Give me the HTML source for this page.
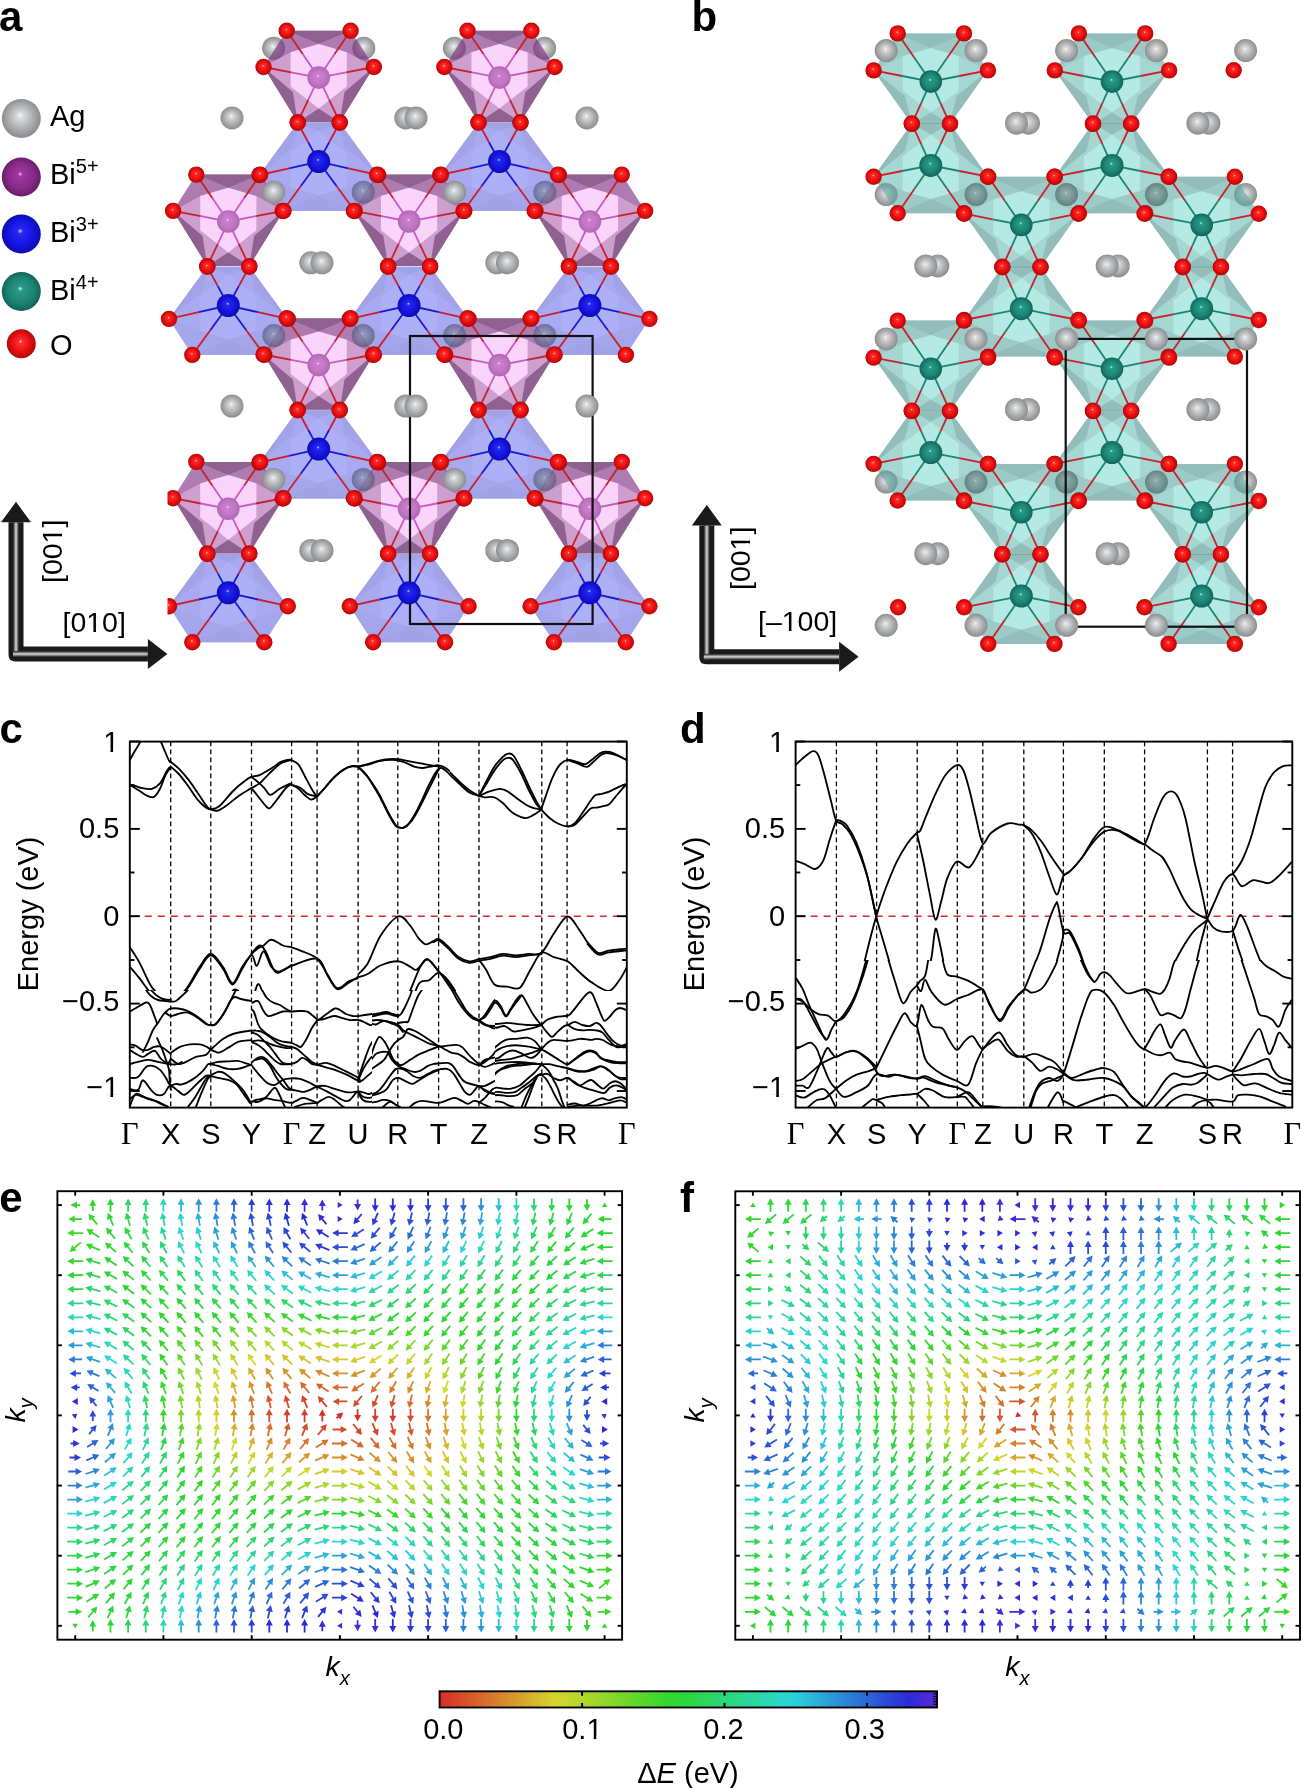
<!DOCTYPE html>
<html><head><meta charset="utf-8"><style>
html,body{margin:0;padding:0;background:#fff;}
svg{display:block;will-change:transform;}

</style></head><body>
<svg width="1301" height="1788" viewBox="0 0 1301 1788">
<rect width="1301" height="1788" fill="#fff"/>
<defs>
<radialGradient id="gO" cx="0.5" cy="0.5" r="0.55" fx="0.47" fy="0.42">
 <stop offset="0" stop-color="#ffe0e0"/><stop offset="0.12" stop-color="#ff3030"/><stop offset="0.6" stop-color="#e80c0c"/><stop offset="1" stop-color="#a00808"/></radialGradient>
<radialGradient id="gAg" cx="0.5" cy="0.5" r="0.55" fx="0.47" fy="0.42">
 <stop offset="0" stop-color="#ffffff"/><stop offset="0.1" stop-color="#dedfe0"/><stop offset="0.45" stop-color="#b9babb"/><stop offset="1" stop-color="#838486"/></radialGradient>
<radialGradient id="gAgd" cx="0.5" cy="0.5" r="0.55" fx="0.47" fy="0.42">
 <stop offset="0" stop-color="#c8cade"/><stop offset="0.12" stop-color="#8c90ac"/><stop offset="0.5" stop-color="#767a98"/><stop offset="1" stop-color="#50547a"/></radialGradient>
<radialGradient id="gB5" cx="0.5" cy="0.5" r="0.55" fx="0.47" fy="0.42">
 <stop offset="0" stop-color="#ffe0ff"/><stop offset="0.12" stop-color="#cc80cc"/><stop offset="0.6" stop-color="#c274c4"/><stop offset="1" stop-color="#a864aa"/></radialGradient>
<radialGradient id="gB5L" cx="0.5" cy="0.5" r="0.55" fx="0.47" fy="0.42">
 <stop offset="0" stop-color="#ffc0ff"/><stop offset="0.1" stop-color="#a038a0"/><stop offset="0.6" stop-color="#8a2a8a"/><stop offset="1" stop-color="#5e1a5e"/></radialGradient>
<radialGradient id="gB3" cx="0.5" cy="0.5" r="0.55" fx="0.47" fy="0.42">
 <stop offset="0" stop-color="#d0d0ff"/><stop offset="0.12" stop-color="#2828f0"/><stop offset="0.6" stop-color="#1414e0"/><stop offset="1" stop-color="#0a0aa0"/></radialGradient>
<radialGradient id="gB4" cx="0.5" cy="0.5" r="0.55" fx="0.47" fy="0.42">
 <stop offset="0" stop-color="#b0fff0"/><stop offset="0.12" stop-color="#2a9a88"/><stop offset="0.6" stop-color="#1c8474"/><stop offset="1" stop-color="#0e5a50"/></radialGradient>
<radialGradient id="gAgt" cx="0.5" cy="0.5" r="0.55" fx="0.47" fy="0.42">
 <stop offset="0" stop-color="#c0d0ce"/><stop offset="0.12" stop-color="#86a09e"/><stop offset="0.5" stop-color="#6e8886"/><stop offset="1" stop-color="#48605e"/></radialGradient>
<clipPath id="clipA"><rect x="167.5" y="0" width="520" height="680"/></clipPath>
</defs>
<circle cx="273.6" cy="48.2" r="11.5" fill="url(#gAg)"/><circle cx="363.8" cy="48.2" r="11.5" fill="url(#gAg)"/><circle cx="454.4" cy="48.2" r="11.5" fill="url(#gAg)"/><circle cx="544.6" cy="48.2" r="11.5" fill="url(#gAg)"/><g opacity="0.62"><polygon points="286.7,30.7 350.6,30.7 373.9,67.0 339.7,122.2 297.7,122.2 263.5,67.0" fill="#b066b3"/><polygon points="286.7,30.7 318.7,43.9 290.6,52.2 263.5,67.0" fill="#7c2c80"/><polygon points="350.7,30.7 318.7,43.9 346.8,52.2 373.9,67.0" fill="#7c2c80"/><polygon points="318.7,43.9 346.8,52.2 346.8,86.4 318.7,108.5 290.6,86.4 290.6,52.2" fill="#f7baf7"/><polygon points="286.7,30.7 350.6,30.7 318.7,43.9" fill="#4c024f"/><polygon points="263.5,67.0 292.9,91.9 297.7,122.2" fill="#4c024f"/><polygon points="373.9,67.0 344.5,91.9 339.7,122.2" fill="#4c024f"/><polygon points="297.7,122.2 318.7,108.5 339.7,122.2" fill="#4c024f"/></g><g opacity="0.62"><polygon points="282.7,211.0 354.7,211.0 378.2,175.0 339.7,122.8 297.7,122.8 259.4,175.0" fill="#7376e7"/><polygon points="282.7,211.0 318.7,195.3 290.6,187.0 259.4,175.0" fill="#6e71df"/><polygon points="354.7,211.0 318.7,195.3 346.8,187.0 378.0,175.0" fill="#6e71df"/><polygon points="318.7,195.3 346.8,187.0 346.8,152.8 318.7,130.7 290.6,152.8 290.6,187.0" fill="#7c81f2"/><polygon points="282.7,211.0 354.7,211.0 318.7,195.3" fill="#696cd7"/><polygon points="259.4,175.0 292.9,147.3 297.7,122.8" fill="#696cd7"/><polygon points="378.0,175.0 344.5,147.3 339.7,122.8" fill="#696cd7"/><polygon points="297.7,122.8 318.7,130.7 339.7,122.8" fill="#696cd7"/></g><g opacity="0.62"><polygon points="467.5,30.7 531.4,30.7 554.7,67.0 520.5,122.2 478.5,122.2 444.3,67.0" fill="#b066b3"/><polygon points="467.5,30.7 499.5,43.9 471.4,52.2 444.3,67.0" fill="#7c2c80"/><polygon points="531.5,30.7 499.5,43.9 527.6,52.2 554.7,67.0" fill="#7c2c80"/><polygon points="499.5,43.9 527.6,52.2 527.6,86.4 499.5,108.5 471.4,86.4 471.4,52.2" fill="#f7baf7"/><polygon points="467.5,30.7 531.4,30.7 499.5,43.9" fill="#4c024f"/><polygon points="444.3,67.0 473.7,91.9 478.5,122.2" fill="#4c024f"/><polygon points="554.7,67.0 525.3,91.9 520.5,122.2" fill="#4c024f"/><polygon points="478.5,122.2 499.5,108.5 520.5,122.2" fill="#4c024f"/></g><g opacity="0.62"><polygon points="463.5,211.0 535.5,211.0 559.0,175.0 520.5,122.8 478.5,122.8 440.2,175.0" fill="#7376e7"/><polygon points="463.5,211.0 499.5,195.3 471.4,187.0 440.2,175.0" fill="#6e71df"/><polygon points="535.5,211.0 499.5,195.3 527.6,187.0 558.8,175.0" fill="#6e71df"/><polygon points="499.5,195.3 527.6,187.0 527.6,152.8 499.5,130.7 471.4,152.8 471.4,187.0" fill="#7c81f2"/><polygon points="463.5,211.0 535.5,211.0 499.5,195.3" fill="#696cd7"/><polygon points="440.2,175.0 473.7,147.3 478.5,122.8" fill="#696cd7"/><polygon points="558.8,175.0 525.3,147.3 520.5,122.8" fill="#696cd7"/><polygon points="478.5,122.8 499.5,130.7 520.5,122.8" fill="#696cd7"/></g><g opacity="0.62"><polygon points="196.3,174.6 260.2,174.6 283.5,210.9 249.3,266.1 207.3,266.1 173.1,210.9" fill="#b066b3"/><polygon points="196.3,174.6 228.3,187.8 200.2,196.1 173.1,210.9" fill="#7c2c80"/><polygon points="260.3,174.6 228.3,187.8 256.4,196.1 283.5,210.9" fill="#7c2c80"/><polygon points="228.3,187.8 256.4,196.1 256.4,230.3 228.3,252.4 200.2,230.3 200.2,196.1" fill="#f7baf7"/><polygon points="196.3,174.6 260.2,174.6 228.3,187.8" fill="#4c024f"/><polygon points="173.1,210.9 202.5,235.8 207.3,266.1" fill="#4c024f"/><polygon points="283.5,210.9 254.1,235.8 249.3,266.1" fill="#4c024f"/><polygon points="207.3,266.1 228.3,252.4 249.3,266.1" fill="#4c024f"/></g><g opacity="0.62"><polygon points="192.3,354.9 264.3,354.9 287.8,318.9 249.3,266.7 207.3,266.7 169.0,318.9" fill="#7376e7"/><polygon points="192.3,354.9 228.3,339.2 200.2,330.9 169.0,318.9" fill="#6e71df"/><polygon points="264.3,354.9 228.3,339.2 256.4,330.9 287.6,318.9" fill="#6e71df"/><polygon points="228.3,339.2 256.4,330.9 256.4,296.7 228.3,274.6 200.2,296.7 200.2,330.9" fill="#7c81f2"/><polygon points="192.3,354.9 264.3,354.9 228.3,339.2" fill="#696cd7"/><polygon points="169.0,318.9 202.5,291.2 207.3,266.7" fill="#696cd7"/><polygon points="287.6,318.9 254.1,291.2 249.3,266.7" fill="#696cd7"/><polygon points="207.3,266.7 228.3,274.6 249.3,266.7" fill="#696cd7"/></g><g opacity="0.62"><polygon points="377.1,174.6 441.0,174.6 464.3,210.9 430.1,266.1 388.1,266.1 353.9,210.9" fill="#b066b3"/><polygon points="377.1,174.6 409.1,187.8 381.0,196.1 353.9,210.9" fill="#7c2c80"/><polygon points="441.1,174.6 409.1,187.8 437.2,196.1 464.3,210.9" fill="#7c2c80"/><polygon points="409.1,187.8 437.2,196.1 437.2,230.3 409.1,252.4 381.0,230.3 381.0,196.1" fill="#f7baf7"/><polygon points="377.1,174.6 441.0,174.6 409.1,187.8" fill="#4c024f"/><polygon points="353.9,210.9 383.3,235.8 388.1,266.1" fill="#4c024f"/><polygon points="464.3,210.9 434.9,235.8 430.1,266.1" fill="#4c024f"/><polygon points="388.1,266.1 409.1,252.4 430.1,266.1" fill="#4c024f"/></g><g opacity="0.62"><polygon points="373.1,354.9 445.1,354.9 468.6,318.9 430.1,266.7 388.1,266.7 349.8,318.9" fill="#7376e7"/><polygon points="373.1,354.9 409.1,339.2 381.0,330.9 349.8,318.9" fill="#6e71df"/><polygon points="445.1,354.9 409.1,339.2 437.2,330.9 468.4,318.9" fill="#6e71df"/><polygon points="409.1,339.2 437.2,330.9 437.2,296.7 409.1,274.6 381.0,296.7 381.0,330.9" fill="#7c81f2"/><polygon points="373.1,354.9 445.1,354.9 409.1,339.2" fill="#696cd7"/><polygon points="349.8,318.9 383.3,291.2 388.1,266.7" fill="#696cd7"/><polygon points="468.4,318.9 434.9,291.2 430.1,266.7" fill="#696cd7"/><polygon points="388.1,266.7 409.1,274.6 430.1,266.7" fill="#696cd7"/></g><g opacity="0.62"><polygon points="557.9,174.6 621.8,174.6 645.1,210.9 610.9,266.1 568.9,266.1 534.7,210.9" fill="#b066b3"/><polygon points="557.9,174.6 589.9,187.8 561.8,196.1 534.7,210.9" fill="#7c2c80"/><polygon points="621.9,174.6 589.9,187.8 618.0,196.1 645.1,210.9" fill="#7c2c80"/><polygon points="589.9,187.8 618.0,196.1 618.0,230.3 589.9,252.4 561.8,230.3 561.8,196.1" fill="#f7baf7"/><polygon points="557.9,174.6 621.8,174.6 589.9,187.8" fill="#4c024f"/><polygon points="534.7,210.9 564.1,235.8 568.9,266.1" fill="#4c024f"/><polygon points="645.1,210.9 615.7,235.8 610.9,266.1" fill="#4c024f"/><polygon points="568.9,266.1 589.9,252.4 610.9,266.1" fill="#4c024f"/></g><g opacity="0.62"><polygon points="553.9,354.9 625.9,354.9 649.4,318.9 610.9,266.7 568.9,266.7 530.6,318.9" fill="#7376e7"/><polygon points="553.9,354.9 589.9,339.2 561.8,330.9 530.6,318.9" fill="#6e71df"/><polygon points="625.9,354.9 589.9,339.2 618.0,330.9 649.2,318.9" fill="#6e71df"/><polygon points="589.9,339.2 618.0,330.9 618.0,296.7 589.9,274.6 561.8,296.7 561.8,330.9" fill="#7c81f2"/><polygon points="553.9,354.9 625.9,354.9 589.9,339.2" fill="#696cd7"/><polygon points="530.6,318.9 564.1,291.2 568.9,266.7" fill="#696cd7"/><polygon points="649.2,318.9 615.7,291.2 610.9,266.7" fill="#696cd7"/><polygon points="568.9,266.7 589.9,274.6 610.9,266.7" fill="#696cd7"/></g><g opacity="0.62"><polygon points="286.7,318.2 350.6,318.2 373.9,354.5 339.7,409.7 297.7,409.7 263.5,354.5" fill="#b066b3"/><polygon points="286.7,318.2 318.7,331.4 290.6,339.7 263.5,354.5" fill="#7c2c80"/><polygon points="350.7,318.2 318.7,331.4 346.8,339.7 373.9,354.5" fill="#7c2c80"/><polygon points="318.7,331.4 346.8,339.7 346.8,373.9 318.7,396.0 290.6,373.9 290.6,339.7" fill="#f7baf7"/><polygon points="286.7,318.2 350.6,318.2 318.7,331.4" fill="#4c024f"/><polygon points="263.5,354.5 292.9,379.4 297.7,409.7" fill="#4c024f"/><polygon points="373.9,354.5 344.5,379.4 339.7,409.7" fill="#4c024f"/><polygon points="297.7,409.7 318.7,396.0 339.7,409.7" fill="#4c024f"/></g><g opacity="0.62"><polygon points="282.7,498.5 354.7,498.5 378.2,462.5 339.7,410.3 297.7,410.3 259.4,462.5" fill="#7376e7"/><polygon points="282.7,498.5 318.7,482.8 290.6,474.5 259.4,462.5" fill="#6e71df"/><polygon points="354.7,498.5 318.7,482.8 346.8,474.5 378.0,462.5" fill="#6e71df"/><polygon points="318.7,482.8 346.8,474.5 346.8,440.3 318.7,418.2 290.6,440.3 290.6,474.5" fill="#7c81f2"/><polygon points="282.7,498.5 354.7,498.5 318.7,482.8" fill="#696cd7"/><polygon points="259.4,462.5 292.9,434.8 297.7,410.3" fill="#696cd7"/><polygon points="378.0,462.5 344.5,434.8 339.7,410.3" fill="#696cd7"/><polygon points="297.7,410.3 318.7,418.2 339.7,410.3" fill="#696cd7"/></g><g opacity="0.62"><polygon points="467.5,318.2 531.4,318.2 554.7,354.5 520.5,409.7 478.5,409.7 444.3,354.5" fill="#b066b3"/><polygon points="467.5,318.2 499.5,331.4 471.4,339.7 444.3,354.5" fill="#7c2c80"/><polygon points="531.5,318.2 499.5,331.4 527.6,339.7 554.7,354.5" fill="#7c2c80"/><polygon points="499.5,331.4 527.6,339.7 527.6,373.9 499.5,396.0 471.4,373.9 471.4,339.7" fill="#f7baf7"/><polygon points="467.5,318.2 531.4,318.2 499.5,331.4" fill="#4c024f"/><polygon points="444.3,354.5 473.7,379.4 478.5,409.7" fill="#4c024f"/><polygon points="554.7,354.5 525.3,379.4 520.5,409.7" fill="#4c024f"/><polygon points="478.5,409.7 499.5,396.0 520.5,409.7" fill="#4c024f"/></g><g opacity="0.62"><polygon points="463.5,498.5 535.5,498.5 559.0,462.5 520.5,410.3 478.5,410.3 440.2,462.5" fill="#7376e7"/><polygon points="463.5,498.5 499.5,482.8 471.4,474.5 440.2,462.5" fill="#6e71df"/><polygon points="535.5,498.5 499.5,482.8 527.6,474.5 558.8,462.5" fill="#6e71df"/><polygon points="499.5,482.8 527.6,474.5 527.6,440.3 499.5,418.2 471.4,440.3 471.4,474.5" fill="#7c81f2"/><polygon points="463.5,498.5 535.5,498.5 499.5,482.8" fill="#696cd7"/><polygon points="440.2,462.5 473.7,434.8 478.5,410.3" fill="#696cd7"/><polygon points="558.8,462.5 525.3,434.8 520.5,410.3" fill="#696cd7"/><polygon points="478.5,410.3 499.5,418.2 520.5,410.3" fill="#696cd7"/></g><g clip-path="url(#clipA)"><g opacity="0.62"><polygon points="196.3,461.9 260.2,461.9 283.5,498.2 249.3,553.4 207.3,553.4 173.1,498.2" fill="#b066b3"/><polygon points="196.3,461.9 228.3,475.1 200.2,483.4 173.1,498.2" fill="#7c2c80"/><polygon points="260.3,461.9 228.3,475.1 256.4,483.4 283.5,498.2" fill="#7c2c80"/><polygon points="228.3,475.1 256.4,483.4 256.4,517.6 228.3,539.7 200.2,517.6 200.2,483.4" fill="#f7baf7"/><polygon points="196.3,461.9 260.2,461.9 228.3,475.1" fill="#4c024f"/><polygon points="173.1,498.2 202.5,523.1 207.3,553.4" fill="#4c024f"/><polygon points="283.5,498.2 254.1,523.1 249.3,553.4" fill="#4c024f"/><polygon points="207.3,553.4 228.3,539.7 249.3,553.4" fill="#4c024f"/></g><g opacity="0.62"><polygon points="192.3,642.2 264.3,642.2 287.8,606.2 249.3,554.0 207.3,554.0 169.0,606.2" fill="#7376e7"/><polygon points="192.3,642.2 228.3,626.5 200.2,618.2 169.0,606.2" fill="#6e71df"/><polygon points="264.3,642.2 228.3,626.5 256.4,618.2 287.6,606.2" fill="#6e71df"/><polygon points="228.3,626.5 256.4,618.2 256.4,584.0 228.3,561.9 200.2,584.0 200.2,618.2" fill="#7c81f2"/><polygon points="192.3,642.2 264.3,642.2 228.3,626.5" fill="#696cd7"/><polygon points="169.0,606.2 202.5,578.5 207.3,554.0" fill="#696cd7"/><polygon points="287.6,606.2 254.1,578.5 249.3,554.0" fill="#696cd7"/><polygon points="207.3,554.0 228.3,561.9 249.3,554.0" fill="#696cd7"/></g></g><g opacity="0.62"><polygon points="377.1,461.9 441.0,461.9 464.3,498.2 430.1,553.4 388.1,553.4 353.9,498.2" fill="#b066b3"/><polygon points="377.1,461.9 409.1,475.1 381.0,483.4 353.9,498.2" fill="#7c2c80"/><polygon points="441.1,461.9 409.1,475.1 437.2,483.4 464.3,498.2" fill="#7c2c80"/><polygon points="409.1,475.1 437.2,483.4 437.2,517.6 409.1,539.7 381.0,517.6 381.0,483.4" fill="#f7baf7"/><polygon points="377.1,461.9 441.0,461.9 409.1,475.1" fill="#4c024f"/><polygon points="353.9,498.2 383.3,523.1 388.1,553.4" fill="#4c024f"/><polygon points="464.3,498.2 434.9,523.1 430.1,553.4" fill="#4c024f"/><polygon points="388.1,553.4 409.1,539.7 430.1,553.4" fill="#4c024f"/></g><g opacity="0.62"><polygon points="373.1,642.2 445.1,642.2 468.6,606.2 430.1,554.0 388.1,554.0 349.8,606.2" fill="#7376e7"/><polygon points="373.1,642.2 409.1,626.5 381.0,618.2 349.8,606.2" fill="#6e71df"/><polygon points="445.1,642.2 409.1,626.5 437.2,618.2 468.4,606.2" fill="#6e71df"/><polygon points="409.1,626.5 437.2,618.2 437.2,584.0 409.1,561.9 381.0,584.0 381.0,618.2" fill="#7c81f2"/><polygon points="373.1,642.2 445.1,642.2 409.1,626.5" fill="#696cd7"/><polygon points="349.8,606.2 383.3,578.5 388.1,554.0" fill="#696cd7"/><polygon points="468.4,606.2 434.9,578.5 430.1,554.0" fill="#696cd7"/><polygon points="388.1,554.0 409.1,561.9 430.1,554.0" fill="#696cd7"/></g><g opacity="0.62"><polygon points="557.9,461.9 621.8,461.9 645.1,498.2 610.9,553.4 568.9,553.4 534.7,498.2" fill="#b066b3"/><polygon points="557.9,461.9 589.9,475.1 561.8,483.4 534.7,498.2" fill="#7c2c80"/><polygon points="621.9,461.9 589.9,475.1 618.0,483.4 645.1,498.2" fill="#7c2c80"/><polygon points="589.9,475.1 618.0,483.4 618.0,517.6 589.9,539.7 561.8,517.6 561.8,483.4" fill="#f7baf7"/><polygon points="557.9,461.9 621.8,461.9 589.9,475.1" fill="#4c024f"/><polygon points="534.7,498.2 564.1,523.1 568.9,553.4" fill="#4c024f"/><polygon points="645.1,498.2 615.7,523.1 610.9,553.4" fill="#4c024f"/><polygon points="568.9,553.4 589.9,539.7 610.9,553.4" fill="#4c024f"/></g><g opacity="0.62"><polygon points="553.9,642.2 625.9,642.2 649.4,606.2 610.9,554.0 568.9,554.0 530.6,606.2" fill="#7376e7"/><polygon points="553.9,642.2 589.9,626.5 561.8,618.2 530.6,606.2" fill="#6e71df"/><polygon points="625.9,642.2 589.9,626.5 618.0,618.2 649.2,606.2" fill="#6e71df"/><polygon points="589.9,626.5 618.0,618.2 618.0,584.0 589.9,561.9 561.8,584.0 561.8,618.2" fill="#7c81f2"/><polygon points="553.9,642.2 625.9,642.2 589.9,626.5" fill="#696cd7"/><polygon points="530.6,606.2 564.1,578.5 568.9,554.0" fill="#696cd7"/><polygon points="649.2,606.2 615.7,578.5 610.9,554.0" fill="#696cd7"/><polygon points="568.9,554.0 589.9,561.9 610.9,554.0" fill="#696cd7"/></g><g opacity="0.72"><circle cx="363.2" cy="192.2" r="11.5" fill="url(#gAgd)"/><circle cx="544.8" cy="192.2" r="11.5" fill="url(#gAgd)"/><circle cx="363.2" cy="479.5" r="11.5" fill="url(#gAgd)"/><circle cx="544.8" cy="479.5" r="11.5" fill="url(#gAgd)"/><circle cx="273.8" cy="335.6" r="11.5" fill="url(#gAgd)"/><circle cx="363.2" cy="335.6" r="11.5" fill="url(#gAgd)"/><circle cx="454.6" cy="335.6" r="11.5" fill="url(#gAgd)"/><circle cx="544.8" cy="335.6" r="11.5" fill="url(#gAgd)"/></g><line x1="318.7" y1="77.6" x2="302.7" y2="54.1" stroke="#c85ac8" stroke-width="1.8"/><line x1="302.7" y1="54.1" x2="286.7" y2="30.7" stroke="#c8202c" stroke-width="1.8"/><line x1="318.7" y1="77.6" x2="334.6" y2="54.1" stroke="#c85ac8" stroke-width="1.8"/><line x1="334.6" y1="54.1" x2="350.6" y2="30.7" stroke="#c8202c" stroke-width="1.8"/><line x1="318.7" y1="77.6" x2="291.1" y2="72.3" stroke="#c85ac8" stroke-width="1.8"/><line x1="291.1" y1="72.3" x2="263.5" y2="67.0" stroke="#c8202c" stroke-width="1.8"/><line x1="318.7" y1="77.6" x2="346.3" y2="72.3" stroke="#c85ac8" stroke-width="1.8"/><line x1="346.3" y1="72.3" x2="373.9" y2="67.0" stroke="#c8202c" stroke-width="1.8"/><line x1="318.7" y1="77.6" x2="308.2" y2="99.9" stroke="#c85ac8" stroke-width="1.8"/><line x1="308.2" y1="99.9" x2="297.7" y2="122.2" stroke="#c8202c" stroke-width="1.8"/><line x1="318.7" y1="77.6" x2="329.2" y2="99.9" stroke="#c85ac8" stroke-width="1.8"/><line x1="329.2" y1="99.9" x2="339.7" y2="122.2" stroke="#c8202c" stroke-width="1.8"/><line x1="318.7" y1="161.6" x2="308.2" y2="142.2" stroke="#1818d8" stroke-width="1.8"/><line x1="308.2" y1="142.2" x2="297.7" y2="122.8" stroke="#c8202c" stroke-width="1.8"/><line x1="318.7" y1="161.6" x2="329.2" y2="142.2" stroke="#1818d8" stroke-width="1.8"/><line x1="329.2" y1="142.2" x2="339.7" y2="122.8" stroke="#c8202c" stroke-width="1.8"/><line x1="318.7" y1="161.6" x2="289.1" y2="168.3" stroke="#1818d8" stroke-width="1.8"/><line x1="289.1" y1="168.3" x2="259.4" y2="175.0" stroke="#c8202c" stroke-width="1.8"/><line x1="318.7" y1="161.6" x2="348.4" y2="168.3" stroke="#1818d8" stroke-width="1.8"/><line x1="348.4" y1="168.3" x2="378.2" y2="175.0" stroke="#c8202c" stroke-width="1.8"/><line x1="318.7" y1="161.6" x2="300.7" y2="186.3" stroke="#1818d8" stroke-width="1.8"/><line x1="300.7" y1="186.3" x2="282.7" y2="211.0" stroke="#c8202c" stroke-width="1.8"/><line x1="318.7" y1="161.6" x2="336.7" y2="186.3" stroke="#1818d8" stroke-width="1.8"/><line x1="336.7" y1="186.3" x2="354.7" y2="211.0" stroke="#c8202c" stroke-width="1.8"/><line x1="499.5" y1="77.6" x2="483.5" y2="54.1" stroke="#c85ac8" stroke-width="1.8"/><line x1="483.5" y1="54.1" x2="467.5" y2="30.7" stroke="#c8202c" stroke-width="1.8"/><line x1="499.5" y1="77.6" x2="515.5" y2="54.1" stroke="#c85ac8" stroke-width="1.8"/><line x1="515.5" y1="54.1" x2="531.4" y2="30.7" stroke="#c8202c" stroke-width="1.8"/><line x1="499.5" y1="77.6" x2="471.9" y2="72.3" stroke="#c85ac8" stroke-width="1.8"/><line x1="471.9" y1="72.3" x2="444.3" y2="67.0" stroke="#c8202c" stroke-width="1.8"/><line x1="499.5" y1="77.6" x2="527.1" y2="72.3" stroke="#c85ac8" stroke-width="1.8"/><line x1="527.1" y1="72.3" x2="554.7" y2="67.0" stroke="#c8202c" stroke-width="1.8"/><line x1="499.5" y1="77.6" x2="489.0" y2="99.9" stroke="#c85ac8" stroke-width="1.8"/><line x1="489.0" y1="99.9" x2="478.5" y2="122.2" stroke="#c8202c" stroke-width="1.8"/><line x1="499.5" y1="77.6" x2="510.0" y2="99.9" stroke="#c85ac8" stroke-width="1.8"/><line x1="510.0" y1="99.9" x2="520.5" y2="122.2" stroke="#c8202c" stroke-width="1.8"/><line x1="499.5" y1="161.6" x2="489.0" y2="142.2" stroke="#1818d8" stroke-width="1.8"/><line x1="489.0" y1="142.2" x2="478.5" y2="122.8" stroke="#c8202c" stroke-width="1.8"/><line x1="499.5" y1="161.6" x2="510.0" y2="142.2" stroke="#1818d8" stroke-width="1.8"/><line x1="510.0" y1="142.2" x2="520.5" y2="122.8" stroke="#c8202c" stroke-width="1.8"/><line x1="499.5" y1="161.6" x2="469.9" y2="168.3" stroke="#1818d8" stroke-width="1.8"/><line x1="469.9" y1="168.3" x2="440.2" y2="175.0" stroke="#c8202c" stroke-width="1.8"/><line x1="499.5" y1="161.6" x2="529.2" y2="168.3" stroke="#1818d8" stroke-width="1.8"/><line x1="529.2" y1="168.3" x2="559.0" y2="175.0" stroke="#c8202c" stroke-width="1.8"/><line x1="499.5" y1="161.6" x2="481.5" y2="186.3" stroke="#1818d8" stroke-width="1.8"/><line x1="481.5" y1="186.3" x2="463.5" y2="211.0" stroke="#c8202c" stroke-width="1.8"/><line x1="499.5" y1="161.6" x2="517.5" y2="186.3" stroke="#1818d8" stroke-width="1.8"/><line x1="517.5" y1="186.3" x2="535.5" y2="211.0" stroke="#c8202c" stroke-width="1.8"/><line x1="228.3" y1="221.5" x2="212.3" y2="198.1" stroke="#c85ac8" stroke-width="1.8"/><line x1="212.3" y1="198.1" x2="196.3" y2="174.6" stroke="#c8202c" stroke-width="1.8"/><line x1="228.3" y1="221.5" x2="244.2" y2="198.1" stroke="#c85ac8" stroke-width="1.8"/><line x1="244.2" y1="198.1" x2="260.2" y2="174.6" stroke="#c8202c" stroke-width="1.8"/><line x1="228.3" y1="221.5" x2="200.7" y2="216.2" stroke="#c85ac8" stroke-width="1.8"/><line x1="200.7" y1="216.2" x2="173.1" y2="210.9" stroke="#c8202c" stroke-width="1.8"/><line x1="228.3" y1="221.5" x2="255.9" y2="216.2" stroke="#c85ac8" stroke-width="1.8"/><line x1="255.9" y1="216.2" x2="283.5" y2="210.9" stroke="#c8202c" stroke-width="1.8"/><line x1="228.3" y1="221.5" x2="217.8" y2="243.8" stroke="#c85ac8" stroke-width="1.8"/><line x1="217.8" y1="243.8" x2="207.3" y2="266.1" stroke="#c8202c" stroke-width="1.8"/><line x1="228.3" y1="221.5" x2="238.8" y2="243.8" stroke="#c85ac8" stroke-width="1.8"/><line x1="238.8" y1="243.8" x2="249.3" y2="266.1" stroke="#c8202c" stroke-width="1.8"/><line x1="228.3" y1="305.5" x2="217.8" y2="286.1" stroke="#1818d8" stroke-width="1.8"/><line x1="217.8" y1="286.1" x2="207.3" y2="266.7" stroke="#c8202c" stroke-width="1.8"/><line x1="228.3" y1="305.5" x2="238.8" y2="286.1" stroke="#1818d8" stroke-width="1.8"/><line x1="238.8" y1="286.1" x2="249.3" y2="266.7" stroke="#c8202c" stroke-width="1.8"/><line x1="228.3" y1="305.5" x2="198.7" y2="312.2" stroke="#1818d8" stroke-width="1.8"/><line x1="198.7" y1="312.2" x2="169.0" y2="318.9" stroke="#c8202c" stroke-width="1.8"/><line x1="228.3" y1="305.5" x2="258.1" y2="312.2" stroke="#1818d8" stroke-width="1.8"/><line x1="258.1" y1="312.2" x2="287.8" y2="318.9" stroke="#c8202c" stroke-width="1.8"/><line x1="228.3" y1="305.5" x2="210.3" y2="330.2" stroke="#1818d8" stroke-width="1.8"/><line x1="210.3" y1="330.2" x2="192.3" y2="354.9" stroke="#c8202c" stroke-width="1.8"/><line x1="228.3" y1="305.5" x2="246.3" y2="330.2" stroke="#1818d8" stroke-width="1.8"/><line x1="246.3" y1="330.2" x2="264.3" y2="354.9" stroke="#c8202c" stroke-width="1.8"/><line x1="409.1" y1="221.5" x2="393.1" y2="198.1" stroke="#c85ac8" stroke-width="1.8"/><line x1="393.1" y1="198.1" x2="377.1" y2="174.6" stroke="#c8202c" stroke-width="1.8"/><line x1="409.1" y1="221.5" x2="425.1" y2="198.1" stroke="#c85ac8" stroke-width="1.8"/><line x1="425.1" y1="198.1" x2="441.0" y2="174.6" stroke="#c8202c" stroke-width="1.8"/><line x1="409.1" y1="221.5" x2="381.5" y2="216.2" stroke="#c85ac8" stroke-width="1.8"/><line x1="381.5" y1="216.2" x2="353.9" y2="210.9" stroke="#c8202c" stroke-width="1.8"/><line x1="409.1" y1="221.5" x2="436.7" y2="216.2" stroke="#c85ac8" stroke-width="1.8"/><line x1="436.7" y1="216.2" x2="464.3" y2="210.9" stroke="#c8202c" stroke-width="1.8"/><line x1="409.1" y1="221.5" x2="398.6" y2="243.8" stroke="#c85ac8" stroke-width="1.8"/><line x1="398.6" y1="243.8" x2="388.1" y2="266.1" stroke="#c8202c" stroke-width="1.8"/><line x1="409.1" y1="221.5" x2="419.6" y2="243.8" stroke="#c85ac8" stroke-width="1.8"/><line x1="419.6" y1="243.8" x2="430.1" y2="266.1" stroke="#c8202c" stroke-width="1.8"/><line x1="409.1" y1="305.5" x2="398.6" y2="286.1" stroke="#1818d8" stroke-width="1.8"/><line x1="398.6" y1="286.1" x2="388.1" y2="266.7" stroke="#c8202c" stroke-width="1.8"/><line x1="409.1" y1="305.5" x2="419.6" y2="286.1" stroke="#1818d8" stroke-width="1.8"/><line x1="419.6" y1="286.1" x2="430.1" y2="266.7" stroke="#c8202c" stroke-width="1.8"/><line x1="409.1" y1="305.5" x2="379.5" y2="312.2" stroke="#1818d8" stroke-width="1.8"/><line x1="379.5" y1="312.2" x2="349.8" y2="318.9" stroke="#c8202c" stroke-width="1.8"/><line x1="409.1" y1="305.5" x2="438.9" y2="312.2" stroke="#1818d8" stroke-width="1.8"/><line x1="438.9" y1="312.2" x2="468.6" y2="318.9" stroke="#c8202c" stroke-width="1.8"/><line x1="409.1" y1="305.5" x2="391.1" y2="330.2" stroke="#1818d8" stroke-width="1.8"/><line x1="391.1" y1="330.2" x2="373.1" y2="354.9" stroke="#c8202c" stroke-width="1.8"/><line x1="409.1" y1="305.5" x2="427.1" y2="330.2" stroke="#1818d8" stroke-width="1.8"/><line x1="427.1" y1="330.2" x2="445.1" y2="354.9" stroke="#c8202c" stroke-width="1.8"/><line x1="589.9" y1="221.5" x2="573.9" y2="198.1" stroke="#c85ac8" stroke-width="1.8"/><line x1="573.9" y1="198.1" x2="557.9" y2="174.6" stroke="#c8202c" stroke-width="1.8"/><line x1="589.9" y1="221.5" x2="605.9" y2="198.1" stroke="#c85ac8" stroke-width="1.8"/><line x1="605.9" y1="198.1" x2="621.8" y2="174.6" stroke="#c8202c" stroke-width="1.8"/><line x1="589.9" y1="221.5" x2="562.3" y2="216.2" stroke="#c85ac8" stroke-width="1.8"/><line x1="562.3" y1="216.2" x2="534.7" y2="210.9" stroke="#c8202c" stroke-width="1.8"/><line x1="589.9" y1="221.5" x2="617.5" y2="216.2" stroke="#c85ac8" stroke-width="1.8"/><line x1="617.5" y1="216.2" x2="645.1" y2="210.9" stroke="#c8202c" stroke-width="1.8"/><line x1="589.9" y1="221.5" x2="579.4" y2="243.8" stroke="#c85ac8" stroke-width="1.8"/><line x1="579.4" y1="243.8" x2="568.9" y2="266.1" stroke="#c8202c" stroke-width="1.8"/><line x1="589.9" y1="221.5" x2="600.4" y2="243.8" stroke="#c85ac8" stroke-width="1.8"/><line x1="600.4" y1="243.8" x2="610.9" y2="266.1" stroke="#c8202c" stroke-width="1.8"/><line x1="589.9" y1="305.5" x2="579.4" y2="286.1" stroke="#1818d8" stroke-width="1.8"/><line x1="579.4" y1="286.1" x2="568.9" y2="266.7" stroke="#c8202c" stroke-width="1.8"/><line x1="589.9" y1="305.5" x2="600.4" y2="286.1" stroke="#1818d8" stroke-width="1.8"/><line x1="600.4" y1="286.1" x2="610.9" y2="266.7" stroke="#c8202c" stroke-width="1.8"/><line x1="589.9" y1="305.5" x2="560.2" y2="312.2" stroke="#1818d8" stroke-width="1.8"/><line x1="560.2" y1="312.2" x2="530.6" y2="318.9" stroke="#c8202c" stroke-width="1.8"/><line x1="589.9" y1="305.5" x2="619.6" y2="312.2" stroke="#1818d8" stroke-width="1.8"/><line x1="619.6" y1="312.2" x2="649.4" y2="318.9" stroke="#c8202c" stroke-width="1.8"/><line x1="589.9" y1="305.5" x2="571.9" y2="330.2" stroke="#1818d8" stroke-width="1.8"/><line x1="571.9" y1="330.2" x2="553.9" y2="354.9" stroke="#c8202c" stroke-width="1.8"/><line x1="589.9" y1="305.5" x2="607.9" y2="330.2" stroke="#1818d8" stroke-width="1.8"/><line x1="607.9" y1="330.2" x2="625.9" y2="354.9" stroke="#c8202c" stroke-width="1.8"/><line x1="318.7" y1="365.1" x2="302.7" y2="341.7" stroke="#c85ac8" stroke-width="1.8"/><line x1="302.7" y1="341.7" x2="286.7" y2="318.2" stroke="#c8202c" stroke-width="1.8"/><line x1="318.7" y1="365.1" x2="334.6" y2="341.7" stroke="#c85ac8" stroke-width="1.8"/><line x1="334.6" y1="341.7" x2="350.6" y2="318.2" stroke="#c8202c" stroke-width="1.8"/><line x1="318.7" y1="365.1" x2="291.1" y2="359.8" stroke="#c85ac8" stroke-width="1.8"/><line x1="291.1" y1="359.8" x2="263.5" y2="354.5" stroke="#c8202c" stroke-width="1.8"/><line x1="318.7" y1="365.1" x2="346.3" y2="359.8" stroke="#c85ac8" stroke-width="1.8"/><line x1="346.3" y1="359.8" x2="373.9" y2="354.5" stroke="#c8202c" stroke-width="1.8"/><line x1="318.7" y1="365.1" x2="308.2" y2="387.4" stroke="#c85ac8" stroke-width="1.8"/><line x1="308.2" y1="387.4" x2="297.7" y2="409.7" stroke="#c8202c" stroke-width="1.8"/><line x1="318.7" y1="365.1" x2="329.2" y2="387.4" stroke="#c85ac8" stroke-width="1.8"/><line x1="329.2" y1="387.4" x2="339.7" y2="409.7" stroke="#c8202c" stroke-width="1.8"/><line x1="318.7" y1="449.1" x2="308.2" y2="429.7" stroke="#1818d8" stroke-width="1.8"/><line x1="308.2" y1="429.7" x2="297.7" y2="410.3" stroke="#c8202c" stroke-width="1.8"/><line x1="318.7" y1="449.1" x2="329.2" y2="429.7" stroke="#1818d8" stroke-width="1.8"/><line x1="329.2" y1="429.7" x2="339.7" y2="410.3" stroke="#c8202c" stroke-width="1.8"/><line x1="318.7" y1="449.1" x2="289.1" y2="455.8" stroke="#1818d8" stroke-width="1.8"/><line x1="289.1" y1="455.8" x2="259.4" y2="462.5" stroke="#c8202c" stroke-width="1.8"/><line x1="318.7" y1="449.1" x2="348.4" y2="455.8" stroke="#1818d8" stroke-width="1.8"/><line x1="348.4" y1="455.8" x2="378.2" y2="462.5" stroke="#c8202c" stroke-width="1.8"/><line x1="318.7" y1="449.1" x2="300.7" y2="473.8" stroke="#1818d8" stroke-width="1.8"/><line x1="300.7" y1="473.8" x2="282.7" y2="498.5" stroke="#c8202c" stroke-width="1.8"/><line x1="318.7" y1="449.1" x2="336.7" y2="473.8" stroke="#1818d8" stroke-width="1.8"/><line x1="336.7" y1="473.8" x2="354.7" y2="498.5" stroke="#c8202c" stroke-width="1.8"/><line x1="499.5" y1="365.1" x2="483.5" y2="341.7" stroke="#c85ac8" stroke-width="1.8"/><line x1="483.5" y1="341.7" x2="467.5" y2="318.2" stroke="#c8202c" stroke-width="1.8"/><line x1="499.5" y1="365.1" x2="515.5" y2="341.7" stroke="#c85ac8" stroke-width="1.8"/><line x1="515.5" y1="341.7" x2="531.4" y2="318.2" stroke="#c8202c" stroke-width="1.8"/><line x1="499.5" y1="365.1" x2="471.9" y2="359.8" stroke="#c85ac8" stroke-width="1.8"/><line x1="471.9" y1="359.8" x2="444.3" y2="354.5" stroke="#c8202c" stroke-width="1.8"/><line x1="499.5" y1="365.1" x2="527.1" y2="359.8" stroke="#c85ac8" stroke-width="1.8"/><line x1="527.1" y1="359.8" x2="554.7" y2="354.5" stroke="#c8202c" stroke-width="1.8"/><line x1="499.5" y1="365.1" x2="489.0" y2="387.4" stroke="#c85ac8" stroke-width="1.8"/><line x1="489.0" y1="387.4" x2="478.5" y2="409.7" stroke="#c8202c" stroke-width="1.8"/><line x1="499.5" y1="365.1" x2="510.0" y2="387.4" stroke="#c85ac8" stroke-width="1.8"/><line x1="510.0" y1="387.4" x2="520.5" y2="409.7" stroke="#c8202c" stroke-width="1.8"/><line x1="499.5" y1="449.1" x2="489.0" y2="429.7" stroke="#1818d8" stroke-width="1.8"/><line x1="489.0" y1="429.7" x2="478.5" y2="410.3" stroke="#c8202c" stroke-width="1.8"/><line x1="499.5" y1="449.1" x2="510.0" y2="429.7" stroke="#1818d8" stroke-width="1.8"/><line x1="510.0" y1="429.7" x2="520.5" y2="410.3" stroke="#c8202c" stroke-width="1.8"/><line x1="499.5" y1="449.1" x2="469.9" y2="455.8" stroke="#1818d8" stroke-width="1.8"/><line x1="469.9" y1="455.8" x2="440.2" y2="462.5" stroke="#c8202c" stroke-width="1.8"/><line x1="499.5" y1="449.1" x2="529.2" y2="455.8" stroke="#1818d8" stroke-width="1.8"/><line x1="529.2" y1="455.8" x2="559.0" y2="462.5" stroke="#c8202c" stroke-width="1.8"/><line x1="499.5" y1="449.1" x2="481.5" y2="473.8" stroke="#1818d8" stroke-width="1.8"/><line x1="481.5" y1="473.8" x2="463.5" y2="498.5" stroke="#c8202c" stroke-width="1.8"/><line x1="499.5" y1="449.1" x2="517.5" y2="473.8" stroke="#1818d8" stroke-width="1.8"/><line x1="517.5" y1="473.8" x2="535.5" y2="498.5" stroke="#c8202c" stroke-width="1.8"/><g clip-path="url(#clipA)"><line x1="228.3" y1="508.8" x2="212.3" y2="485.4" stroke="#c85ac8" stroke-width="1.8"/><line x1="212.3" y1="485.4" x2="196.3" y2="461.9" stroke="#c8202c" stroke-width="1.8"/><line x1="228.3" y1="508.8" x2="244.2" y2="485.4" stroke="#c85ac8" stroke-width="1.8"/><line x1="244.2" y1="485.4" x2="260.2" y2="461.9" stroke="#c8202c" stroke-width="1.8"/><line x1="228.3" y1="508.8" x2="200.7" y2="503.5" stroke="#c85ac8" stroke-width="1.8"/><line x1="200.7" y1="503.5" x2="173.1" y2="498.2" stroke="#c8202c" stroke-width="1.8"/><line x1="228.3" y1="508.8" x2="255.9" y2="503.5" stroke="#c85ac8" stroke-width="1.8"/><line x1="255.9" y1="503.5" x2="283.5" y2="498.2" stroke="#c8202c" stroke-width="1.8"/><line x1="228.3" y1="508.8" x2="217.8" y2="531.1" stroke="#c85ac8" stroke-width="1.8"/><line x1="217.8" y1="531.1" x2="207.3" y2="553.4" stroke="#c8202c" stroke-width="1.8"/><line x1="228.3" y1="508.8" x2="238.8" y2="531.1" stroke="#c85ac8" stroke-width="1.8"/><line x1="238.8" y1="531.1" x2="249.3" y2="553.4" stroke="#c8202c" stroke-width="1.8"/><line x1="228.3" y1="592.8" x2="217.8" y2="573.4" stroke="#1818d8" stroke-width="1.8"/><line x1="217.8" y1="573.4" x2="207.3" y2="554.0" stroke="#c8202c" stroke-width="1.8"/><line x1="228.3" y1="592.8" x2="238.8" y2="573.4" stroke="#1818d8" stroke-width="1.8"/><line x1="238.8" y1="573.4" x2="249.3" y2="554.0" stroke="#c8202c" stroke-width="1.8"/><line x1="228.3" y1="592.8" x2="198.7" y2="599.5" stroke="#1818d8" stroke-width="1.8"/><line x1="198.7" y1="599.5" x2="169.0" y2="606.2" stroke="#c8202c" stroke-width="1.8"/><line x1="228.3" y1="592.8" x2="258.1" y2="599.5" stroke="#1818d8" stroke-width="1.8"/><line x1="258.1" y1="599.5" x2="287.8" y2="606.2" stroke="#c8202c" stroke-width="1.8"/><line x1="228.3" y1="592.8" x2="210.3" y2="617.5" stroke="#1818d8" stroke-width="1.8"/><line x1="210.3" y1="617.5" x2="192.3" y2="642.2" stroke="#c8202c" stroke-width="1.8"/><line x1="228.3" y1="592.8" x2="246.3" y2="617.5" stroke="#1818d8" stroke-width="1.8"/><line x1="246.3" y1="617.5" x2="264.3" y2="642.2" stroke="#c8202c" stroke-width="1.8"/></g><line x1="409.1" y1="508.8" x2="393.1" y2="485.4" stroke="#c85ac8" stroke-width="1.8"/><line x1="393.1" y1="485.4" x2="377.1" y2="461.9" stroke="#c8202c" stroke-width="1.8"/><line x1="409.1" y1="508.8" x2="425.1" y2="485.4" stroke="#c85ac8" stroke-width="1.8"/><line x1="425.1" y1="485.4" x2="441.0" y2="461.9" stroke="#c8202c" stroke-width="1.8"/><line x1="409.1" y1="508.8" x2="381.5" y2="503.5" stroke="#c85ac8" stroke-width="1.8"/><line x1="381.5" y1="503.5" x2="353.9" y2="498.2" stroke="#c8202c" stroke-width="1.8"/><line x1="409.1" y1="508.8" x2="436.7" y2="503.5" stroke="#c85ac8" stroke-width="1.8"/><line x1="436.7" y1="503.5" x2="464.3" y2="498.2" stroke="#c8202c" stroke-width="1.8"/><line x1="409.1" y1="508.8" x2="398.6" y2="531.1" stroke="#c85ac8" stroke-width="1.8"/><line x1="398.6" y1="531.1" x2="388.1" y2="553.4" stroke="#c8202c" stroke-width="1.8"/><line x1="409.1" y1="508.8" x2="419.6" y2="531.1" stroke="#c85ac8" stroke-width="1.8"/><line x1="419.6" y1="531.1" x2="430.1" y2="553.4" stroke="#c8202c" stroke-width="1.8"/><line x1="409.1" y1="592.8" x2="398.6" y2="573.4" stroke="#1818d8" stroke-width="1.8"/><line x1="398.6" y1="573.4" x2="388.1" y2="554.0" stroke="#c8202c" stroke-width="1.8"/><line x1="409.1" y1="592.8" x2="419.6" y2="573.4" stroke="#1818d8" stroke-width="1.8"/><line x1="419.6" y1="573.4" x2="430.1" y2="554.0" stroke="#c8202c" stroke-width="1.8"/><line x1="409.1" y1="592.8" x2="379.5" y2="599.5" stroke="#1818d8" stroke-width="1.8"/><line x1="379.5" y1="599.5" x2="349.8" y2="606.2" stroke="#c8202c" stroke-width="1.8"/><line x1="409.1" y1="592.8" x2="438.9" y2="599.5" stroke="#1818d8" stroke-width="1.8"/><line x1="438.9" y1="599.5" x2="468.6" y2="606.2" stroke="#c8202c" stroke-width="1.8"/><line x1="409.1" y1="592.8" x2="391.1" y2="617.5" stroke="#1818d8" stroke-width="1.8"/><line x1="391.1" y1="617.5" x2="373.1" y2="642.2" stroke="#c8202c" stroke-width="1.8"/><line x1="409.1" y1="592.8" x2="427.1" y2="617.5" stroke="#1818d8" stroke-width="1.8"/><line x1="427.1" y1="617.5" x2="445.1" y2="642.2" stroke="#c8202c" stroke-width="1.8"/><line x1="589.9" y1="508.8" x2="573.9" y2="485.4" stroke="#c85ac8" stroke-width="1.8"/><line x1="573.9" y1="485.4" x2="557.9" y2="461.9" stroke="#c8202c" stroke-width="1.8"/><line x1="589.9" y1="508.8" x2="605.9" y2="485.4" stroke="#c85ac8" stroke-width="1.8"/><line x1="605.9" y1="485.4" x2="621.8" y2="461.9" stroke="#c8202c" stroke-width="1.8"/><line x1="589.9" y1="508.8" x2="562.3" y2="503.5" stroke="#c85ac8" stroke-width="1.8"/><line x1="562.3" y1="503.5" x2="534.7" y2="498.2" stroke="#c8202c" stroke-width="1.8"/><line x1="589.9" y1="508.8" x2="617.5" y2="503.5" stroke="#c85ac8" stroke-width="1.8"/><line x1="617.5" y1="503.5" x2="645.1" y2="498.2" stroke="#c8202c" stroke-width="1.8"/><line x1="589.9" y1="508.8" x2="579.4" y2="531.1" stroke="#c85ac8" stroke-width="1.8"/><line x1="579.4" y1="531.1" x2="568.9" y2="553.4" stroke="#c8202c" stroke-width="1.8"/><line x1="589.9" y1="508.8" x2="600.4" y2="531.1" stroke="#c85ac8" stroke-width="1.8"/><line x1="600.4" y1="531.1" x2="610.9" y2="553.4" stroke="#c8202c" stroke-width="1.8"/><line x1="589.9" y1="592.8" x2="579.4" y2="573.4" stroke="#1818d8" stroke-width="1.8"/><line x1="579.4" y1="573.4" x2="568.9" y2="554.0" stroke="#c8202c" stroke-width="1.8"/><line x1="589.9" y1="592.8" x2="600.4" y2="573.4" stroke="#1818d8" stroke-width="1.8"/><line x1="600.4" y1="573.4" x2="610.9" y2="554.0" stroke="#c8202c" stroke-width="1.8"/><line x1="589.9" y1="592.8" x2="560.2" y2="599.5" stroke="#1818d8" stroke-width="1.8"/><line x1="560.2" y1="599.5" x2="530.6" y2="606.2" stroke="#c8202c" stroke-width="1.8"/><line x1="589.9" y1="592.8" x2="619.6" y2="599.5" stroke="#1818d8" stroke-width="1.8"/><line x1="619.6" y1="599.5" x2="649.4" y2="606.2" stroke="#c8202c" stroke-width="1.8"/><line x1="589.9" y1="592.8" x2="571.9" y2="617.5" stroke="#1818d8" stroke-width="1.8"/><line x1="571.9" y1="617.5" x2="553.9" y2="642.2" stroke="#c8202c" stroke-width="1.8"/><line x1="589.9" y1="592.8" x2="607.9" y2="617.5" stroke="#1818d8" stroke-width="1.8"/><line x1="607.9" y1="617.5" x2="625.9" y2="642.2" stroke="#c8202c" stroke-width="1.8"/><circle cx="318.7" cy="77.6" r="11.3" fill="url(#gB5)"/><circle cx="499.5" cy="77.6" r="11.3" fill="url(#gB5)"/><circle cx="228.3" cy="221.5" r="11.3" fill="url(#gB5)"/><circle cx="409.1" cy="221.5" r="11.3" fill="url(#gB5)"/><circle cx="589.9" cy="221.5" r="11.3" fill="url(#gB5)"/><circle cx="318.7" cy="365.1" r="11.3" fill="url(#gB5)"/><circle cx="499.5" cy="365.1" r="11.3" fill="url(#gB5)"/><g clip-path="url(#clipA)"><circle cx="228.3" cy="508.8" r="11.3" fill="url(#gB5)"/></g><circle cx="409.1" cy="508.8" r="11.3" fill="url(#gB5)"/><circle cx="589.9" cy="508.8" r="11.3" fill="url(#gB5)"/><rect x="410.0" y="336.0" width="182.6" height="288.0" fill="none" stroke="#111" stroke-width="2.2"/><circle cx="318.7" cy="161.6" r="11.5" fill="url(#gB3)"/><circle cx="286.7" cy="30.7" r="8.2" fill="url(#gO)"/><circle cx="350.6" cy="30.7" r="8.2" fill="url(#gO)"/><circle cx="263.5" cy="67.0" r="8.2" fill="url(#gO)"/><circle cx="373.9" cy="67.0" r="8.2" fill="url(#gO)"/><circle cx="297.7" cy="122.2" r="8.2" fill="url(#gO)"/><circle cx="339.7" cy="122.2" r="8.2" fill="url(#gO)"/><circle cx="297.7" cy="122.8" r="8.2" fill="url(#gO)"/><circle cx="339.7" cy="122.8" r="8.2" fill="url(#gO)"/><circle cx="259.4" cy="175.0" r="8.2" fill="url(#gO)"/><circle cx="378.2" cy="175.0" r="8.2" fill="url(#gO)"/><circle cx="282.7" cy="211.0" r="8.2" fill="url(#gO)"/><circle cx="354.7" cy="211.0" r="8.2" fill="url(#gO)"/><circle cx="499.5" cy="161.6" r="11.5" fill="url(#gB3)"/><circle cx="467.5" cy="30.7" r="8.2" fill="url(#gO)"/><circle cx="531.4" cy="30.7" r="8.2" fill="url(#gO)"/><circle cx="444.3" cy="67.0" r="8.2" fill="url(#gO)"/><circle cx="554.7" cy="67.0" r="8.2" fill="url(#gO)"/><circle cx="478.5" cy="122.2" r="8.2" fill="url(#gO)"/><circle cx="520.5" cy="122.2" r="8.2" fill="url(#gO)"/><circle cx="478.5" cy="122.8" r="8.2" fill="url(#gO)"/><circle cx="520.5" cy="122.8" r="8.2" fill="url(#gO)"/><circle cx="440.2" cy="175.0" r="8.2" fill="url(#gO)"/><circle cx="559.0" cy="175.0" r="8.2" fill="url(#gO)"/><circle cx="463.5" cy="211.0" r="8.2" fill="url(#gO)"/><circle cx="535.5" cy="211.0" r="8.2" fill="url(#gO)"/><circle cx="228.3" cy="305.5" r="11.5" fill="url(#gB3)"/><circle cx="196.3" cy="174.6" r="8.2" fill="url(#gO)"/><circle cx="260.2" cy="174.6" r="8.2" fill="url(#gO)"/><circle cx="173.1" cy="210.9" r="8.2" fill="url(#gO)"/><circle cx="283.5" cy="210.9" r="8.2" fill="url(#gO)"/><circle cx="207.3" cy="266.1" r="8.2" fill="url(#gO)"/><circle cx="249.3" cy="266.1" r="8.2" fill="url(#gO)"/><circle cx="207.3" cy="266.7" r="8.2" fill="url(#gO)"/><circle cx="249.3" cy="266.7" r="8.2" fill="url(#gO)"/><circle cx="169.0" cy="318.9" r="8.2" fill="url(#gO)"/><circle cx="287.8" cy="318.9" r="8.2" fill="url(#gO)"/><circle cx="192.3" cy="354.9" r="8.2" fill="url(#gO)"/><circle cx="264.3" cy="354.9" r="8.2" fill="url(#gO)"/><circle cx="409.1" cy="305.5" r="11.5" fill="url(#gB3)"/><circle cx="377.1" cy="174.6" r="8.2" fill="url(#gO)"/><circle cx="441.0" cy="174.6" r="8.2" fill="url(#gO)"/><circle cx="353.9" cy="210.9" r="8.2" fill="url(#gO)"/><circle cx="464.3" cy="210.9" r="8.2" fill="url(#gO)"/><circle cx="388.1" cy="266.1" r="8.2" fill="url(#gO)"/><circle cx="430.1" cy="266.1" r="8.2" fill="url(#gO)"/><circle cx="388.1" cy="266.7" r="8.2" fill="url(#gO)"/><circle cx="430.1" cy="266.7" r="8.2" fill="url(#gO)"/><circle cx="349.8" cy="318.9" r="8.2" fill="url(#gO)"/><circle cx="468.6" cy="318.9" r="8.2" fill="url(#gO)"/><circle cx="373.1" cy="354.9" r="8.2" fill="url(#gO)"/><circle cx="445.1" cy="354.9" r="8.2" fill="url(#gO)"/><circle cx="589.9" cy="305.5" r="11.5" fill="url(#gB3)"/><circle cx="557.9" cy="174.6" r="8.2" fill="url(#gO)"/><circle cx="621.8" cy="174.6" r="8.2" fill="url(#gO)"/><circle cx="534.7" cy="210.9" r="8.2" fill="url(#gO)"/><circle cx="645.1" cy="210.9" r="8.2" fill="url(#gO)"/><circle cx="568.9" cy="266.1" r="8.2" fill="url(#gO)"/><circle cx="610.9" cy="266.1" r="8.2" fill="url(#gO)"/><circle cx="568.9" cy="266.7" r="8.2" fill="url(#gO)"/><circle cx="610.9" cy="266.7" r="8.2" fill="url(#gO)"/><circle cx="530.6" cy="318.9" r="8.2" fill="url(#gO)"/><circle cx="649.4" cy="318.9" r="8.2" fill="url(#gO)"/><circle cx="553.9" cy="354.9" r="8.2" fill="url(#gO)"/><circle cx="625.9" cy="354.9" r="8.2" fill="url(#gO)"/><circle cx="318.7" cy="449.1" r="11.5" fill="url(#gB3)"/><circle cx="286.7" cy="318.2" r="8.2" fill="url(#gO)"/><circle cx="350.6" cy="318.2" r="8.2" fill="url(#gO)"/><circle cx="263.5" cy="354.5" r="8.2" fill="url(#gO)"/><circle cx="373.9" cy="354.5" r="8.2" fill="url(#gO)"/><circle cx="297.7" cy="409.7" r="8.2" fill="url(#gO)"/><circle cx="339.7" cy="409.7" r="8.2" fill="url(#gO)"/><circle cx="297.7" cy="410.3" r="8.2" fill="url(#gO)"/><circle cx="339.7" cy="410.3" r="8.2" fill="url(#gO)"/><circle cx="259.4" cy="462.5" r="8.2" fill="url(#gO)"/><circle cx="378.2" cy="462.5" r="8.2" fill="url(#gO)"/><circle cx="282.7" cy="498.5" r="8.2" fill="url(#gO)"/><circle cx="354.7" cy="498.5" r="8.2" fill="url(#gO)"/><circle cx="499.5" cy="449.1" r="11.5" fill="url(#gB3)"/><circle cx="467.5" cy="318.2" r="8.2" fill="url(#gO)"/><circle cx="531.4" cy="318.2" r="8.2" fill="url(#gO)"/><circle cx="444.3" cy="354.5" r="8.2" fill="url(#gO)"/><circle cx="554.7" cy="354.5" r="8.2" fill="url(#gO)"/><circle cx="478.5" cy="409.7" r="8.2" fill="url(#gO)"/><circle cx="520.5" cy="409.7" r="8.2" fill="url(#gO)"/><circle cx="478.5" cy="410.3" r="8.2" fill="url(#gO)"/><circle cx="520.5" cy="410.3" r="8.2" fill="url(#gO)"/><circle cx="440.2" cy="462.5" r="8.2" fill="url(#gO)"/><circle cx="559.0" cy="462.5" r="8.2" fill="url(#gO)"/><circle cx="463.5" cy="498.5" r="8.2" fill="url(#gO)"/><circle cx="535.5" cy="498.5" r="8.2" fill="url(#gO)"/><g clip-path="url(#clipA)"><circle cx="228.3" cy="592.8" r="11.5" fill="url(#gB3)"/><circle cx="196.3" cy="461.9" r="8.2" fill="url(#gO)"/><circle cx="260.2" cy="461.9" r="8.2" fill="url(#gO)"/><circle cx="173.1" cy="498.2" r="8.2" fill="url(#gO)"/><circle cx="283.5" cy="498.2" r="8.2" fill="url(#gO)"/><circle cx="207.3" cy="553.4" r="8.2" fill="url(#gO)"/><circle cx="249.3" cy="553.4" r="8.2" fill="url(#gO)"/><circle cx="207.3" cy="554.0" r="8.2" fill="url(#gO)"/><circle cx="249.3" cy="554.0" r="8.2" fill="url(#gO)"/><circle cx="169.0" cy="606.2" r="8.2" fill="url(#gO)"/><circle cx="287.8" cy="606.2" r="8.2" fill="url(#gO)"/><circle cx="192.3" cy="642.2" r="8.2" fill="url(#gO)"/><circle cx="264.3" cy="642.2" r="8.2" fill="url(#gO)"/></g><circle cx="409.1" cy="592.8" r="11.5" fill="url(#gB3)"/><circle cx="377.1" cy="461.9" r="8.2" fill="url(#gO)"/><circle cx="441.0" cy="461.9" r="8.2" fill="url(#gO)"/><circle cx="353.9" cy="498.2" r="8.2" fill="url(#gO)"/><circle cx="464.3" cy="498.2" r="8.2" fill="url(#gO)"/><circle cx="388.1" cy="553.4" r="8.2" fill="url(#gO)"/><circle cx="430.1" cy="553.4" r="8.2" fill="url(#gO)"/><circle cx="388.1" cy="554.0" r="8.2" fill="url(#gO)"/><circle cx="430.1" cy="554.0" r="8.2" fill="url(#gO)"/><circle cx="349.8" cy="606.2" r="8.2" fill="url(#gO)"/><circle cx="468.6" cy="606.2" r="8.2" fill="url(#gO)"/><circle cx="373.1" cy="642.2" r="8.2" fill="url(#gO)"/><circle cx="445.1" cy="642.2" r="8.2" fill="url(#gO)"/><circle cx="589.9" cy="592.8" r="11.5" fill="url(#gB3)"/><circle cx="557.9" cy="461.9" r="8.2" fill="url(#gO)"/><circle cx="621.8" cy="461.9" r="8.2" fill="url(#gO)"/><circle cx="534.7" cy="498.2" r="8.2" fill="url(#gO)"/><circle cx="645.1" cy="498.2" r="8.2" fill="url(#gO)"/><circle cx="568.9" cy="553.4" r="8.2" fill="url(#gO)"/><circle cx="610.9" cy="553.4" r="8.2" fill="url(#gO)"/><circle cx="568.9" cy="554.0" r="8.2" fill="url(#gO)"/><circle cx="610.9" cy="554.0" r="8.2" fill="url(#gO)"/><circle cx="530.6" cy="606.2" r="8.2" fill="url(#gO)"/><circle cx="649.4" cy="606.2" r="8.2" fill="url(#gO)"/><circle cx="553.9" cy="642.2" r="8.2" fill="url(#gO)"/><circle cx="625.9" cy="642.2" r="8.2" fill="url(#gO)"/><circle cx="273.8" cy="192.2" r="11.5" fill="url(#gAg)"/><circle cx="454.6" cy="192.2" r="11.5" fill="url(#gAg)"/><circle cx="273.8" cy="479.5" r="11.5" fill="url(#gAg)"/><circle cx="454.6" cy="479.5" r="11.5" fill="url(#gAg)"/><circle cx="232.0" cy="117.9" r="11.5" fill="url(#gAg)"/><circle cx="405.8" cy="117.9" r="11.5" fill="url(#gAg)"/><circle cx="416.0" cy="117.9" r="11.5" fill="url(#gAg)"/><circle cx="587.0" cy="117.9" r="11.5" fill="url(#gAg)"/><circle cx="232.0" cy="406.0" r="11.5" fill="url(#gAg)"/><circle cx="405.8" cy="406.0" r="11.5" fill="url(#gAg)"/><circle cx="416.0" cy="406.0" r="11.5" fill="url(#gAg)"/><circle cx="587.0" cy="406.0" r="11.5" fill="url(#gAg)"/><circle cx="310.8" cy="262.8" r="11.5" fill="url(#gAg)"/><circle cx="322.0" cy="262.8" r="11.5" fill="url(#gAg)"/><circle cx="496.8" cy="262.8" r="11.5" fill="url(#gAg)"/><circle cx="507.5" cy="262.8" r="11.5" fill="url(#gAg)"/><circle cx="310.8" cy="550.5" r="11.5" fill="url(#gAg)"/><circle cx="322.0" cy="550.5" r="11.5" fill="url(#gAg)"/><circle cx="496.8" cy="550.5" r="11.5" fill="url(#gAg)"/><circle cx="507.5" cy="550.5" r="11.5" fill="url(#gAg)"/>
<circle cx="21.3" cy="118.4" r="19.5" fill="url(#gAg)"/><text x="50" y="126.3" font-family="'Liberation Sans',sans-serif" font-size="29">Ag</text><circle cx="21.3" cy="177.0" r="19.5" fill="url(#gB5L)"/><text x="50" y="184.3" font-family="'Liberation Sans',sans-serif" font-size="29">Bi<tspan font-size="20" dy="-11.5">5+</tspan></text><circle cx="21.3" cy="234.0" r="19.5" fill="url(#gB3)"/><text x="50" y="242.2" font-family="'Liberation Sans',sans-serif" font-size="29">Bi<tspan font-size="20" dy="-11.5">3+</tspan></text><circle cx="21.3" cy="291.5" r="19.5" fill="url(#gB4)"/><text x="50" y="300.2" font-family="'Liberation Sans',sans-serif" font-size="29">Bi<tspan font-size="20" dy="-11.5">4+</tspan></text><circle cx="21.3" cy="343.7" r="14.5" fill="url(#gO)"/><text x="50" y="354.5" font-family="'Liberation Sans',sans-serif" font-size="29">O</text>
<path d="M8.5,522.3 L8.5,654.5 Q8.5,661.5 15.5,661.5 L147.9,661.5 L147.9,646.5 L23.5,646.5 L23.5,522.3 Z" fill="#1a1a1a"/><defs><linearGradient id="hv16" x1="0" x2="1" y1="0" y2="0"><stop offset="0" stop-color="#1a1a1a"/><stop offset="0.5" stop-color="#d8d8d8"/><stop offset="1" stop-color="#1a1a1a"/></linearGradient><linearGradient id="hh16" x1="0" x2="0" y1="0" y2="1"><stop offset="0" stop-color="#1a1a1a"/><stop offset="0.5" stop-color="#d8d8d8"/><stop offset="1" stop-color="#1a1a1a"/></linearGradient></defs><rect x="13.0" y="522.3" width="6" height="134.7" fill="url(#hv16)"/><rect x="13.0" y="651.0" width="134.9" height="6" fill="url(#hh16)"/><polygon points="16.0,501.8 31.0,522.3 1.0,522.3" fill="#1a1a1a"/><polygon points="167.4,654.0 147.9,639.0 147.9,669.0" fill="#1a1a1a"/><g transform="translate(62.3,583.0) rotate(-90)"><text x="0" y="0" font-family="'Liberation Sans',sans-serif" font-size="28.5">[001]</text><rect x="40.76" y="-2.85" width="5.96" height="3.28" fill="#fff"/><rect x="49.33" y="-2.85" width="6.24" height="3.28" fill="#fff"/></g><text x="62.5" y="631.8" font-family="'Liberation Sans',sans-serif" font-size="28.5" text-anchor="start" font-weight="normal" >[010]</text><rect x="87.41" y="628.95" width="5.96" height="3.28" fill="#fff"/><rect x="95.99" y="628.95" width="6.24" height="3.28" fill="#fff"/>
<circle cx="886.2" cy="194.6" r="11.5" fill="url(#gAg)"/><circle cx="1245.6" cy="194.6" r="11.5" fill="url(#gAg)"/><circle cx="886.2" cy="482.1" r="11.5" fill="url(#gAg)"/><circle cx="1245.6" cy="482.1" r="11.5" fill="url(#gAg)"/><g opacity="0.62"><polygon points="897.7,33.4 964.0,33.4 987.9,70.4 950.0,123.9 911.8,123.9 873.6,70.4" fill="#6fbdb8"/><polygon points="897.7,33.4 930.8,47.9 902.7,56.2 873.6,70.4" fill="#5faaa5"/><polygon points="963.9,33.4 930.8,47.9 958.9,56.2 988.0,70.4" fill="#5faaa5"/><polygon points="930.8,47.9 958.9,56.2 958.9,90.4 930.8,112.5 902.7,90.4 902.7,56.2" fill="#89dcd5"/><polygon points="897.7,33.4 964.0,33.4 930.8,47.9" fill="#529691"/><polygon points="873.6,70.4 905.0,95.9 911.8,123.9" fill="#529691"/><polygon points="988.0,70.4 956.6,95.9 949.8,123.9" fill="#529691"/><polygon points="911.8,123.9 930.8,112.5 950.0,123.9" fill="#529691"/></g><g opacity="0.62"><polygon points="897.7,213.3 964.0,213.3 987.9,176.7 950.0,123.5 911.8,123.5 873.6,176.7" fill="#6fbdb8"/><polygon points="897.7,213.3 930.8,199.1 902.7,190.8 873.6,176.7" fill="#5faaa5"/><polygon points="963.9,213.3 930.8,199.1 958.9,190.8 988.0,176.7" fill="#5faaa5"/><polygon points="930.8,199.1 958.9,190.8 958.9,156.6 930.8,134.5 902.7,156.6 902.7,190.8" fill="#89dcd5"/><polygon points="897.7,213.3 964.0,213.3 930.8,199.1" fill="#529691"/><polygon points="873.6,176.7 905.0,151.1 911.8,123.5" fill="#529691"/><polygon points="988.0,176.7 956.6,151.1 949.8,123.5" fill="#529691"/><polygon points="911.8,123.5 930.8,134.5 950.0,123.5" fill="#529691"/></g><g opacity="0.62"><polygon points="1078.9,33.4 1145.2,33.4 1169.1,70.4 1131.2,123.9 1093.0,123.9 1054.8,70.4" fill="#6fbdb8"/><polygon points="1078.9,33.4 1112.0,47.9 1083.9,56.2 1054.8,70.4" fill="#5faaa5"/><polygon points="1145.1,33.4 1112.0,47.9 1140.1,56.2 1169.2,70.4" fill="#5faaa5"/><polygon points="1112.0,47.9 1140.1,56.2 1140.1,90.4 1112.0,112.5 1083.9,90.4 1083.9,56.2" fill="#89dcd5"/><polygon points="1078.9,33.4 1145.2,33.4 1112.0,47.9" fill="#529691"/><polygon points="1054.8,70.4 1086.2,95.9 1093.0,123.9" fill="#529691"/><polygon points="1169.2,70.4 1137.8,95.9 1131.0,123.9" fill="#529691"/><polygon points="1093.0,123.9 1112.0,112.5 1131.2,123.9" fill="#529691"/></g><g opacity="0.62"><polygon points="1078.9,213.3 1145.2,213.3 1169.1,176.7 1131.2,123.5 1093.0,123.5 1054.8,176.7" fill="#6fbdb8"/><polygon points="1078.9,213.3 1112.0,199.1 1083.9,190.8 1054.8,176.7" fill="#5faaa5"/><polygon points="1145.1,213.3 1112.0,199.1 1140.1,190.8 1169.2,176.7" fill="#5faaa5"/><polygon points="1112.0,199.1 1140.1,190.8 1140.1,156.6 1112.0,134.5 1083.9,156.6 1083.9,190.8" fill="#89dcd5"/><polygon points="1078.9,213.3 1145.2,213.3 1112.0,199.1" fill="#529691"/><polygon points="1054.8,176.7 1086.2,151.1 1093.0,123.5" fill="#529691"/><polygon points="1169.2,176.7 1137.8,151.1 1131.0,123.5" fill="#529691"/><polygon points="1093.0,123.5 1112.0,134.5 1131.2,123.5" fill="#529691"/></g><g opacity="0.62"><polygon points="988.2,176.7 1054.5,176.7 1078.4,213.7 1040.5,267.2 1002.3,267.2 964.1,213.7" fill="#6fbdb8"/><polygon points="988.2,176.7 1021.3,191.2 993.2,199.5 964.1,213.7" fill="#5faaa5"/><polygon points="1054.4,176.7 1021.3,191.2 1049.4,199.5 1078.5,213.7" fill="#5faaa5"/><polygon points="1021.3,191.2 1049.4,199.5 1049.4,233.7 1021.3,255.8 993.2,233.7 993.2,199.5" fill="#89dcd5"/><polygon points="988.2,176.7 1054.5,176.7 1021.3,191.2" fill="#529691"/><polygon points="964.1,213.7 995.5,239.2 1002.3,267.2" fill="#529691"/><polygon points="1078.5,213.7 1047.1,239.2 1040.3,267.2" fill="#529691"/><polygon points="1002.3,267.2 1021.3,255.8 1040.5,267.2" fill="#529691"/></g><g opacity="0.62"><polygon points="988.2,356.6 1054.5,356.6 1078.4,320.0 1040.5,266.8 1002.3,266.8 964.1,320.0" fill="#6fbdb8"/><polygon points="988.2,356.6 1021.3,342.4 993.2,334.1 964.1,320.0" fill="#5faaa5"/><polygon points="1054.4,356.6 1021.3,342.4 1049.4,334.1 1078.5,320.0" fill="#5faaa5"/><polygon points="1021.3,342.4 1049.4,334.1 1049.4,299.9 1021.3,277.8 993.2,299.9 993.2,334.1" fill="#89dcd5"/><polygon points="988.2,356.6 1054.5,356.6 1021.3,342.4" fill="#529691"/><polygon points="964.1,320.0 995.5,294.4 1002.3,266.8" fill="#529691"/><polygon points="1078.5,320.0 1047.1,294.4 1040.3,266.8" fill="#529691"/><polygon points="1002.3,266.8 1021.3,277.8 1040.5,266.8" fill="#529691"/></g><g opacity="0.62"><polygon points="1168.6,176.7 1234.9,176.7 1258.8,213.7 1220.9,267.2 1182.7,267.2 1144.5,213.7" fill="#6fbdb8"/><polygon points="1168.6,176.7 1201.7,191.2 1173.6,199.5 1144.5,213.7" fill="#5faaa5"/><polygon points="1234.8,176.7 1201.7,191.2 1229.8,199.5 1258.9,213.7" fill="#5faaa5"/><polygon points="1201.7,191.2 1229.8,199.5 1229.8,233.7 1201.7,255.8 1173.6,233.7 1173.6,199.5" fill="#89dcd5"/><polygon points="1168.6,176.7 1234.9,176.7 1201.7,191.2" fill="#529691"/><polygon points="1144.5,213.7 1175.9,239.2 1182.7,267.2" fill="#529691"/><polygon points="1258.9,213.7 1227.5,239.2 1220.7,267.2" fill="#529691"/><polygon points="1182.7,267.2 1201.7,255.8 1220.9,267.2" fill="#529691"/></g><g opacity="0.62"><polygon points="1168.6,356.6 1234.9,356.6 1258.8,320.0 1220.9,266.8 1182.7,266.8 1144.5,320.0" fill="#6fbdb8"/><polygon points="1168.6,356.6 1201.7,342.4 1173.6,334.1 1144.5,320.0" fill="#5faaa5"/><polygon points="1234.8,356.6 1201.7,342.4 1229.8,334.1 1258.9,320.0" fill="#5faaa5"/><polygon points="1201.7,342.4 1229.8,334.1 1229.8,299.9 1201.7,277.8 1173.6,299.9 1173.6,334.1" fill="#89dcd5"/><polygon points="1168.6,356.6 1234.9,356.6 1201.7,342.4" fill="#529691"/><polygon points="1144.5,320.0 1175.9,294.4 1182.7,266.8" fill="#529691"/><polygon points="1258.9,320.0 1227.5,294.4 1220.7,266.8" fill="#529691"/><polygon points="1182.7,266.8 1201.7,277.8 1220.9,266.8" fill="#529691"/></g><g opacity="0.62"><polygon points="897.7,320.6 964.0,320.6 987.9,357.6 950.0,411.1 911.8,411.1 873.6,357.6" fill="#6fbdb8"/><polygon points="897.7,320.6 930.8,335.1 902.7,343.4 873.6,357.6" fill="#5faaa5"/><polygon points="963.9,320.6 930.8,335.1 958.9,343.4 988.0,357.6" fill="#5faaa5"/><polygon points="930.8,335.1 958.9,343.4 958.9,377.6 930.8,399.7 902.7,377.6 902.7,343.4" fill="#89dcd5"/><polygon points="897.7,320.6 964.0,320.6 930.8,335.1" fill="#529691"/><polygon points="873.6,357.6 905.0,383.1 911.8,411.1" fill="#529691"/><polygon points="988.0,357.6 956.6,383.1 949.8,411.1" fill="#529691"/><polygon points="911.8,411.1 930.8,399.7 950.0,411.1" fill="#529691"/></g><g opacity="0.62"><polygon points="897.7,500.5 964.0,500.5 987.9,463.9 950.0,410.7 911.8,410.7 873.6,463.9" fill="#6fbdb8"/><polygon points="897.7,500.5 930.8,486.3 902.7,478.0 873.6,463.9" fill="#5faaa5"/><polygon points="963.9,500.5 930.8,486.3 958.9,478.0 988.0,463.9" fill="#5faaa5"/><polygon points="930.8,486.3 958.9,478.0 958.9,443.8 930.8,421.7 902.7,443.8 902.7,478.0" fill="#89dcd5"/><polygon points="897.7,500.5 964.0,500.5 930.8,486.3" fill="#529691"/><polygon points="873.6,463.9 905.0,438.3 911.8,410.7" fill="#529691"/><polygon points="988.0,463.9 956.6,438.3 949.8,410.7" fill="#529691"/><polygon points="911.8,410.7 930.8,421.7 950.0,410.7" fill="#529691"/></g><g opacity="0.62"><polygon points="1078.9,320.6 1145.2,320.6 1169.1,357.6 1131.2,411.1 1093.0,411.1 1054.8,357.6" fill="#6fbdb8"/><polygon points="1078.9,320.6 1112.0,335.1 1083.9,343.4 1054.8,357.6" fill="#5faaa5"/><polygon points="1145.1,320.6 1112.0,335.1 1140.1,343.4 1169.2,357.6" fill="#5faaa5"/><polygon points="1112.0,335.1 1140.1,343.4 1140.1,377.6 1112.0,399.7 1083.9,377.6 1083.9,343.4" fill="#89dcd5"/><polygon points="1078.9,320.6 1145.2,320.6 1112.0,335.1" fill="#529691"/><polygon points="1054.8,357.6 1086.2,383.1 1093.0,411.1" fill="#529691"/><polygon points="1169.2,357.6 1137.8,383.1 1131.0,411.1" fill="#529691"/><polygon points="1093.0,411.1 1112.0,399.7 1131.2,411.1" fill="#529691"/></g><g opacity="0.62"><polygon points="1078.9,500.5 1145.2,500.5 1169.1,463.9 1131.2,410.7 1093.0,410.7 1054.8,463.9" fill="#6fbdb8"/><polygon points="1078.9,500.5 1112.0,486.3 1083.9,478.0 1054.8,463.9" fill="#5faaa5"/><polygon points="1145.1,500.5 1112.0,486.3 1140.1,478.0 1169.2,463.9" fill="#5faaa5"/><polygon points="1112.0,486.3 1140.1,478.0 1140.1,443.8 1112.0,421.7 1083.9,443.8 1083.9,478.0" fill="#89dcd5"/><polygon points="1078.9,500.5 1145.2,500.5 1112.0,486.3" fill="#529691"/><polygon points="1054.8,463.9 1086.2,438.3 1093.0,410.7" fill="#529691"/><polygon points="1169.2,463.9 1137.8,438.3 1131.0,410.7" fill="#529691"/><polygon points="1093.0,410.7 1112.0,421.7 1131.2,410.7" fill="#529691"/></g><g opacity="0.62"><polygon points="988.2,464.0 1054.5,464.0 1078.4,501.0 1040.5,554.5 1002.3,554.5 964.1,501.0" fill="#6fbdb8"/><polygon points="988.2,464.0 1021.3,478.5 993.2,486.8 964.1,501.0" fill="#5faaa5"/><polygon points="1054.4,464.0 1021.3,478.5 1049.4,486.8 1078.5,501.0" fill="#5faaa5"/><polygon points="1021.3,478.5 1049.4,486.8 1049.4,521.0 1021.3,543.1 993.2,521.0 993.2,486.8" fill="#89dcd5"/><polygon points="988.2,464.0 1054.5,464.0 1021.3,478.5" fill="#529691"/><polygon points="964.1,501.0 995.5,526.5 1002.3,554.5" fill="#529691"/><polygon points="1078.5,501.0 1047.1,526.5 1040.3,554.5" fill="#529691"/><polygon points="1002.3,554.5 1021.3,543.1 1040.5,554.5" fill="#529691"/></g><g opacity="0.62"><polygon points="988.2,643.9 1054.5,643.9 1078.4,607.3 1040.5,554.1 1002.3,554.1 964.1,607.3" fill="#6fbdb8"/><polygon points="988.2,643.9 1021.3,629.7 993.2,621.4 964.1,607.3" fill="#5faaa5"/><polygon points="1054.4,643.9 1021.3,629.7 1049.4,621.4 1078.5,607.3" fill="#5faaa5"/><polygon points="1021.3,629.7 1049.4,621.4 1049.4,587.2 1021.3,565.1 993.2,587.2 993.2,621.4" fill="#89dcd5"/><polygon points="988.2,643.9 1054.5,643.9 1021.3,629.7" fill="#529691"/><polygon points="964.1,607.3 995.5,581.7 1002.3,554.1" fill="#529691"/><polygon points="1078.5,607.3 1047.1,581.7 1040.3,554.1" fill="#529691"/><polygon points="1002.3,554.1 1021.3,565.1 1040.5,554.1" fill="#529691"/></g><g opacity="0.62"><polygon points="1168.6,464.0 1234.9,464.0 1258.8,501.0 1220.9,554.5 1182.7,554.5 1144.5,501.0" fill="#6fbdb8"/><polygon points="1168.6,464.0 1201.7,478.5 1173.6,486.8 1144.5,501.0" fill="#5faaa5"/><polygon points="1234.8,464.0 1201.7,478.5 1229.8,486.8 1258.9,501.0" fill="#5faaa5"/><polygon points="1201.7,478.5 1229.8,486.8 1229.8,521.0 1201.7,543.1 1173.6,521.0 1173.6,486.8" fill="#89dcd5"/><polygon points="1168.6,464.0 1234.9,464.0 1201.7,478.5" fill="#529691"/><polygon points="1144.5,501.0 1175.9,526.5 1182.7,554.5" fill="#529691"/><polygon points="1258.9,501.0 1227.5,526.5 1220.7,554.5" fill="#529691"/><polygon points="1182.7,554.5 1201.7,543.1 1220.9,554.5" fill="#529691"/></g><g opacity="0.62"><polygon points="1168.6,643.9 1234.9,643.9 1258.8,607.3 1220.9,554.1 1182.7,554.1 1144.5,607.3" fill="#6fbdb8"/><polygon points="1168.6,643.9 1201.7,629.7 1173.6,621.4 1144.5,607.3" fill="#5faaa5"/><polygon points="1234.8,643.9 1201.7,629.7 1229.8,621.4 1258.9,607.3" fill="#5faaa5"/><polygon points="1201.7,629.7 1229.8,621.4 1229.8,587.2 1201.7,565.1 1173.6,587.2 1173.6,621.4" fill="#89dcd5"/><polygon points="1168.6,643.9 1234.9,643.9 1201.7,629.7" fill="#529691"/><polygon points="1144.5,607.3 1175.9,581.7 1182.7,554.1" fill="#529691"/><polygon points="1258.9,607.3 1227.5,581.7 1220.7,554.1" fill="#529691"/><polygon points="1182.7,554.1 1201.7,565.1 1220.9,554.1" fill="#529691"/></g><g opacity="0.72"><circle cx="976.0" cy="194.6" r="11.5" fill="url(#gAgt)"/><circle cx="1066.6" cy="194.6" r="11.5" fill="url(#gAgt)"/><circle cx="1156.4" cy="194.6" r="11.5" fill="url(#gAgt)"/><circle cx="976.0" cy="482.1" r="11.5" fill="url(#gAgt)"/><circle cx="1066.6" cy="482.1" r="11.5" fill="url(#gAgt)"/><circle cx="1156.4" cy="482.1" r="11.5" fill="url(#gAgt)"/></g><line x1="930.8" y1="81.6" x2="914.2" y2="57.5" stroke="#1c8474" stroke-width="1.8"/><line x1="914.2" y1="57.5" x2="897.7" y2="33.4" stroke="#c8202c" stroke-width="1.8"/><line x1="930.8" y1="81.6" x2="947.4" y2="57.5" stroke="#1c8474" stroke-width="1.8"/><line x1="947.4" y1="57.5" x2="964.0" y2="33.4" stroke="#c8202c" stroke-width="1.8"/><line x1="930.8" y1="81.6" x2="902.2" y2="76.0" stroke="#1c8474" stroke-width="1.8"/><line x1="902.2" y1="76.0" x2="873.6" y2="70.4" stroke="#c8202c" stroke-width="1.8"/><line x1="930.8" y1="81.6" x2="959.3" y2="76.0" stroke="#1c8474" stroke-width="1.8"/><line x1="959.3" y1="76.0" x2="987.9" y2="70.4" stroke="#c8202c" stroke-width="1.8"/><line x1="930.8" y1="81.6" x2="921.3" y2="102.8" stroke="#1c8474" stroke-width="1.8"/><line x1="921.3" y1="102.8" x2="911.8" y2="123.9" stroke="#c8202c" stroke-width="1.8"/><line x1="930.8" y1="81.6" x2="940.4" y2="102.8" stroke="#1c8474" stroke-width="1.8"/><line x1="940.4" y1="102.8" x2="950.0" y2="123.9" stroke="#c8202c" stroke-width="1.8"/><line x1="930.8" y1="165.4" x2="921.3" y2="144.4" stroke="#1c8474" stroke-width="1.8"/><line x1="921.3" y1="144.4" x2="911.8" y2="123.5" stroke="#c8202c" stroke-width="1.8"/><line x1="930.8" y1="165.4" x2="940.4" y2="144.4" stroke="#1c8474" stroke-width="1.8"/><line x1="940.4" y1="144.4" x2="950.0" y2="123.5" stroke="#c8202c" stroke-width="1.8"/><line x1="930.8" y1="165.4" x2="902.2" y2="171.0" stroke="#1c8474" stroke-width="1.8"/><line x1="902.2" y1="171.0" x2="873.6" y2="176.7" stroke="#c8202c" stroke-width="1.8"/><line x1="930.8" y1="165.4" x2="959.3" y2="171.0" stroke="#1c8474" stroke-width="1.8"/><line x1="959.3" y1="171.0" x2="987.9" y2="176.7" stroke="#c8202c" stroke-width="1.8"/><line x1="930.8" y1="165.4" x2="914.2" y2="189.3" stroke="#1c8474" stroke-width="1.8"/><line x1="914.2" y1="189.3" x2="897.7" y2="213.3" stroke="#c8202c" stroke-width="1.8"/><line x1="930.8" y1="165.4" x2="947.4" y2="189.3" stroke="#1c8474" stroke-width="1.8"/><line x1="947.4" y1="189.3" x2="964.0" y2="213.3" stroke="#c8202c" stroke-width="1.8"/><line x1="1112.0" y1="81.6" x2="1095.5" y2="57.5" stroke="#1c8474" stroke-width="1.8"/><line x1="1095.5" y1="57.5" x2="1078.9" y2="33.4" stroke="#c8202c" stroke-width="1.8"/><line x1="1112.0" y1="81.6" x2="1128.6" y2="57.5" stroke="#1c8474" stroke-width="1.8"/><line x1="1128.6" y1="57.5" x2="1145.2" y2="33.4" stroke="#c8202c" stroke-width="1.8"/><line x1="1112.0" y1="81.6" x2="1083.4" y2="76.0" stroke="#1c8474" stroke-width="1.8"/><line x1="1083.4" y1="76.0" x2="1054.8" y2="70.4" stroke="#c8202c" stroke-width="1.8"/><line x1="1112.0" y1="81.6" x2="1140.5" y2="76.0" stroke="#1c8474" stroke-width="1.8"/><line x1="1140.5" y1="76.0" x2="1169.1" y2="70.4" stroke="#c8202c" stroke-width="1.8"/><line x1="1112.0" y1="81.6" x2="1102.5" y2="102.8" stroke="#1c8474" stroke-width="1.8"/><line x1="1102.5" y1="102.8" x2="1093.0" y2="123.9" stroke="#c8202c" stroke-width="1.8"/><line x1="1112.0" y1="81.6" x2="1121.6" y2="102.8" stroke="#1c8474" stroke-width="1.8"/><line x1="1121.6" y1="102.8" x2="1131.2" y2="123.9" stroke="#c8202c" stroke-width="1.8"/><line x1="1112.0" y1="165.4" x2="1102.5" y2="144.4" stroke="#1c8474" stroke-width="1.8"/><line x1="1102.5" y1="144.4" x2="1093.0" y2="123.5" stroke="#c8202c" stroke-width="1.8"/><line x1="1112.0" y1="165.4" x2="1121.6" y2="144.4" stroke="#1c8474" stroke-width="1.8"/><line x1="1121.6" y1="144.4" x2="1131.2" y2="123.5" stroke="#c8202c" stroke-width="1.8"/><line x1="1112.0" y1="165.4" x2="1083.4" y2="171.0" stroke="#1c8474" stroke-width="1.8"/><line x1="1083.4" y1="171.0" x2="1054.8" y2="176.7" stroke="#c8202c" stroke-width="1.8"/><line x1="1112.0" y1="165.4" x2="1140.5" y2="171.0" stroke="#1c8474" stroke-width="1.8"/><line x1="1140.5" y1="171.0" x2="1169.1" y2="176.7" stroke="#c8202c" stroke-width="1.8"/><line x1="1112.0" y1="165.4" x2="1095.5" y2="189.3" stroke="#1c8474" stroke-width="1.8"/><line x1="1095.5" y1="189.3" x2="1078.9" y2="213.3" stroke="#c8202c" stroke-width="1.8"/><line x1="1112.0" y1="165.4" x2="1128.6" y2="189.3" stroke="#1c8474" stroke-width="1.8"/><line x1="1128.6" y1="189.3" x2="1145.2" y2="213.3" stroke="#c8202c" stroke-width="1.8"/><line x1="1021.3" y1="224.9" x2="1004.8" y2="200.8" stroke="#1c8474" stroke-width="1.8"/><line x1="1004.8" y1="200.8" x2="988.2" y2="176.7" stroke="#c8202c" stroke-width="1.8"/><line x1="1021.3" y1="224.9" x2="1037.9" y2="200.8" stroke="#1c8474" stroke-width="1.8"/><line x1="1037.9" y1="200.8" x2="1054.5" y2="176.7" stroke="#c8202c" stroke-width="1.8"/><line x1="1021.3" y1="224.9" x2="992.7" y2="219.3" stroke="#1c8474" stroke-width="1.8"/><line x1="992.7" y1="219.3" x2="964.1" y2="213.7" stroke="#c8202c" stroke-width="1.8"/><line x1="1021.3" y1="224.9" x2="1049.8" y2="219.3" stroke="#1c8474" stroke-width="1.8"/><line x1="1049.8" y1="219.3" x2="1078.4" y2="213.7" stroke="#c8202c" stroke-width="1.8"/><line x1="1021.3" y1="224.9" x2="1011.8" y2="246.1" stroke="#1c8474" stroke-width="1.8"/><line x1="1011.8" y1="246.1" x2="1002.3" y2="267.2" stroke="#c8202c" stroke-width="1.8"/><line x1="1021.3" y1="224.9" x2="1030.9" y2="246.1" stroke="#1c8474" stroke-width="1.8"/><line x1="1030.9" y1="246.1" x2="1040.5" y2="267.2" stroke="#c8202c" stroke-width="1.8"/><line x1="1021.3" y1="308.7" x2="1011.8" y2="287.8" stroke="#1c8474" stroke-width="1.8"/><line x1="1011.8" y1="287.8" x2="1002.3" y2="266.8" stroke="#c8202c" stroke-width="1.8"/><line x1="1021.3" y1="308.7" x2="1030.9" y2="287.8" stroke="#1c8474" stroke-width="1.8"/><line x1="1030.9" y1="287.8" x2="1040.5" y2="266.8" stroke="#c8202c" stroke-width="1.8"/><line x1="1021.3" y1="308.7" x2="992.7" y2="314.3" stroke="#1c8474" stroke-width="1.8"/><line x1="992.7" y1="314.3" x2="964.1" y2="320.0" stroke="#c8202c" stroke-width="1.8"/><line x1="1021.3" y1="308.7" x2="1049.8" y2="314.3" stroke="#1c8474" stroke-width="1.8"/><line x1="1049.8" y1="314.3" x2="1078.4" y2="320.0" stroke="#c8202c" stroke-width="1.8"/><line x1="1021.3" y1="308.7" x2="1004.8" y2="332.6" stroke="#1c8474" stroke-width="1.8"/><line x1="1004.8" y1="332.6" x2="988.2" y2="356.6" stroke="#c8202c" stroke-width="1.8"/><line x1="1021.3" y1="308.7" x2="1037.9" y2="332.6" stroke="#1c8474" stroke-width="1.8"/><line x1="1037.9" y1="332.6" x2="1054.5" y2="356.6" stroke="#c8202c" stroke-width="1.8"/><line x1="1201.7" y1="224.9" x2="1185.2" y2="200.8" stroke="#1c8474" stroke-width="1.8"/><line x1="1185.2" y1="200.8" x2="1168.6" y2="176.7" stroke="#c8202c" stroke-width="1.8"/><line x1="1201.7" y1="224.9" x2="1218.3" y2="200.8" stroke="#1c8474" stroke-width="1.8"/><line x1="1218.3" y1="200.8" x2="1234.9" y2="176.7" stroke="#c8202c" stroke-width="1.8"/><line x1="1201.7" y1="224.9" x2="1173.1" y2="219.3" stroke="#1c8474" stroke-width="1.8"/><line x1="1173.1" y1="219.3" x2="1144.5" y2="213.7" stroke="#c8202c" stroke-width="1.8"/><line x1="1201.7" y1="224.9" x2="1230.2" y2="219.3" stroke="#1c8474" stroke-width="1.8"/><line x1="1230.2" y1="219.3" x2="1258.8" y2="213.7" stroke="#c8202c" stroke-width="1.8"/><line x1="1201.7" y1="224.9" x2="1192.2" y2="246.1" stroke="#1c8474" stroke-width="1.8"/><line x1="1192.2" y1="246.1" x2="1182.7" y2="267.2" stroke="#c8202c" stroke-width="1.8"/><line x1="1201.7" y1="224.9" x2="1211.3" y2="246.1" stroke="#1c8474" stroke-width="1.8"/><line x1="1211.3" y1="246.1" x2="1220.9" y2="267.2" stroke="#c8202c" stroke-width="1.8"/><line x1="1201.7" y1="308.7" x2="1192.2" y2="287.8" stroke="#1c8474" stroke-width="1.8"/><line x1="1192.2" y1="287.8" x2="1182.7" y2="266.8" stroke="#c8202c" stroke-width="1.8"/><line x1="1201.7" y1="308.7" x2="1211.3" y2="287.8" stroke="#1c8474" stroke-width="1.8"/><line x1="1211.3" y1="287.8" x2="1220.9" y2="266.8" stroke="#c8202c" stroke-width="1.8"/><line x1="1201.7" y1="308.7" x2="1173.1" y2="314.3" stroke="#1c8474" stroke-width="1.8"/><line x1="1173.1" y1="314.3" x2="1144.5" y2="320.0" stroke="#c8202c" stroke-width="1.8"/><line x1="1201.7" y1="308.7" x2="1230.2" y2="314.3" stroke="#1c8474" stroke-width="1.8"/><line x1="1230.2" y1="314.3" x2="1258.8" y2="320.0" stroke="#c8202c" stroke-width="1.8"/><line x1="1201.7" y1="308.7" x2="1185.2" y2="332.6" stroke="#1c8474" stroke-width="1.8"/><line x1="1185.2" y1="332.6" x2="1168.6" y2="356.6" stroke="#c8202c" stroke-width="1.8"/><line x1="1201.7" y1="308.7" x2="1218.3" y2="332.6" stroke="#1c8474" stroke-width="1.8"/><line x1="1218.3" y1="332.6" x2="1234.9" y2="356.6" stroke="#c8202c" stroke-width="1.8"/><line x1="930.8" y1="368.8" x2="914.2" y2="344.7" stroke="#1c8474" stroke-width="1.8"/><line x1="914.2" y1="344.7" x2="897.7" y2="320.6" stroke="#c8202c" stroke-width="1.8"/><line x1="930.8" y1="368.8" x2="947.4" y2="344.7" stroke="#1c8474" stroke-width="1.8"/><line x1="947.4" y1="344.7" x2="964.0" y2="320.6" stroke="#c8202c" stroke-width="1.8"/><line x1="930.8" y1="368.8" x2="902.2" y2="363.2" stroke="#1c8474" stroke-width="1.8"/><line x1="902.2" y1="363.2" x2="873.6" y2="357.6" stroke="#c8202c" stroke-width="1.8"/><line x1="930.8" y1="368.8" x2="959.3" y2="363.2" stroke="#1c8474" stroke-width="1.8"/><line x1="959.3" y1="363.2" x2="987.9" y2="357.6" stroke="#c8202c" stroke-width="1.8"/><line x1="930.8" y1="368.8" x2="921.3" y2="389.9" stroke="#1c8474" stroke-width="1.8"/><line x1="921.3" y1="389.9" x2="911.8" y2="411.1" stroke="#c8202c" stroke-width="1.8"/><line x1="930.8" y1="368.8" x2="940.4" y2="389.9" stroke="#1c8474" stroke-width="1.8"/><line x1="940.4" y1="389.9" x2="950.0" y2="411.1" stroke="#c8202c" stroke-width="1.8"/><line x1="930.8" y1="452.6" x2="921.3" y2="431.7" stroke="#1c8474" stroke-width="1.8"/><line x1="921.3" y1="431.7" x2="911.8" y2="410.7" stroke="#c8202c" stroke-width="1.8"/><line x1="930.8" y1="452.6" x2="940.4" y2="431.7" stroke="#1c8474" stroke-width="1.8"/><line x1="940.4" y1="431.7" x2="950.0" y2="410.7" stroke="#c8202c" stroke-width="1.8"/><line x1="930.8" y1="452.6" x2="902.2" y2="458.2" stroke="#1c8474" stroke-width="1.8"/><line x1="902.2" y1="458.2" x2="873.6" y2="463.9" stroke="#c8202c" stroke-width="1.8"/><line x1="930.8" y1="452.6" x2="959.3" y2="458.2" stroke="#1c8474" stroke-width="1.8"/><line x1="959.3" y1="458.2" x2="987.9" y2="463.9" stroke="#c8202c" stroke-width="1.8"/><line x1="930.8" y1="452.6" x2="914.2" y2="476.6" stroke="#1c8474" stroke-width="1.8"/><line x1="914.2" y1="476.6" x2="897.7" y2="500.5" stroke="#c8202c" stroke-width="1.8"/><line x1="930.8" y1="452.6" x2="947.4" y2="476.6" stroke="#1c8474" stroke-width="1.8"/><line x1="947.4" y1="476.6" x2="964.0" y2="500.5" stroke="#c8202c" stroke-width="1.8"/><line x1="1112.0" y1="368.8" x2="1095.5" y2="344.7" stroke="#1c8474" stroke-width="1.8"/><line x1="1095.5" y1="344.7" x2="1078.9" y2="320.6" stroke="#c8202c" stroke-width="1.8"/><line x1="1112.0" y1="368.8" x2="1128.6" y2="344.7" stroke="#1c8474" stroke-width="1.8"/><line x1="1128.6" y1="344.7" x2="1145.2" y2="320.6" stroke="#c8202c" stroke-width="1.8"/><line x1="1112.0" y1="368.8" x2="1083.4" y2="363.2" stroke="#1c8474" stroke-width="1.8"/><line x1="1083.4" y1="363.2" x2="1054.8" y2="357.6" stroke="#c8202c" stroke-width="1.8"/><line x1="1112.0" y1="368.8" x2="1140.5" y2="363.2" stroke="#1c8474" stroke-width="1.8"/><line x1="1140.5" y1="363.2" x2="1169.1" y2="357.6" stroke="#c8202c" stroke-width="1.8"/><line x1="1112.0" y1="368.8" x2="1102.5" y2="389.9" stroke="#1c8474" stroke-width="1.8"/><line x1="1102.5" y1="389.9" x2="1093.0" y2="411.1" stroke="#c8202c" stroke-width="1.8"/><line x1="1112.0" y1="368.8" x2="1121.6" y2="389.9" stroke="#1c8474" stroke-width="1.8"/><line x1="1121.6" y1="389.9" x2="1131.2" y2="411.1" stroke="#c8202c" stroke-width="1.8"/><line x1="1112.0" y1="452.6" x2="1102.5" y2="431.7" stroke="#1c8474" stroke-width="1.8"/><line x1="1102.5" y1="431.7" x2="1093.0" y2="410.7" stroke="#c8202c" stroke-width="1.8"/><line x1="1112.0" y1="452.6" x2="1121.6" y2="431.7" stroke="#1c8474" stroke-width="1.8"/><line x1="1121.6" y1="431.7" x2="1131.2" y2="410.7" stroke="#c8202c" stroke-width="1.8"/><line x1="1112.0" y1="452.6" x2="1083.4" y2="458.2" stroke="#1c8474" stroke-width="1.8"/><line x1="1083.4" y1="458.2" x2="1054.8" y2="463.9" stroke="#c8202c" stroke-width="1.8"/><line x1="1112.0" y1="452.6" x2="1140.5" y2="458.2" stroke="#1c8474" stroke-width="1.8"/><line x1="1140.5" y1="458.2" x2="1169.1" y2="463.9" stroke="#c8202c" stroke-width="1.8"/><line x1="1112.0" y1="452.6" x2="1095.5" y2="476.6" stroke="#1c8474" stroke-width="1.8"/><line x1="1095.5" y1="476.6" x2="1078.9" y2="500.5" stroke="#c8202c" stroke-width="1.8"/><line x1="1112.0" y1="452.6" x2="1128.6" y2="476.6" stroke="#1c8474" stroke-width="1.8"/><line x1="1128.6" y1="476.6" x2="1145.2" y2="500.5" stroke="#c8202c" stroke-width="1.8"/><line x1="1021.3" y1="512.2" x2="1004.8" y2="488.1" stroke="#1c8474" stroke-width="1.8"/><line x1="1004.8" y1="488.1" x2="988.2" y2="464.0" stroke="#c8202c" stroke-width="1.8"/><line x1="1021.3" y1="512.2" x2="1037.9" y2="488.1" stroke="#1c8474" stroke-width="1.8"/><line x1="1037.9" y1="488.1" x2="1054.5" y2="464.0" stroke="#c8202c" stroke-width="1.8"/><line x1="1021.3" y1="512.2" x2="992.7" y2="506.6" stroke="#1c8474" stroke-width="1.8"/><line x1="992.7" y1="506.6" x2="964.1" y2="501.0" stroke="#c8202c" stroke-width="1.8"/><line x1="1021.3" y1="512.2" x2="1049.8" y2="506.6" stroke="#1c8474" stroke-width="1.8"/><line x1="1049.8" y1="506.6" x2="1078.4" y2="501.0" stroke="#c8202c" stroke-width="1.8"/><line x1="1021.3" y1="512.2" x2="1011.8" y2="533.4" stroke="#1c8474" stroke-width="1.8"/><line x1="1011.8" y1="533.4" x2="1002.3" y2="554.5" stroke="#c8202c" stroke-width="1.8"/><line x1="1021.3" y1="512.2" x2="1030.9" y2="533.4" stroke="#1c8474" stroke-width="1.8"/><line x1="1030.9" y1="533.4" x2="1040.5" y2="554.5" stroke="#c8202c" stroke-width="1.8"/><line x1="1021.3" y1="596.0" x2="1011.8" y2="575.0" stroke="#1c8474" stroke-width="1.8"/><line x1="1011.8" y1="575.0" x2="1002.3" y2="554.1" stroke="#c8202c" stroke-width="1.8"/><line x1="1021.3" y1="596.0" x2="1030.9" y2="575.0" stroke="#1c8474" stroke-width="1.8"/><line x1="1030.9" y1="575.0" x2="1040.5" y2="554.1" stroke="#c8202c" stroke-width="1.8"/><line x1="1021.3" y1="596.0" x2="992.7" y2="601.6" stroke="#1c8474" stroke-width="1.8"/><line x1="992.7" y1="601.6" x2="964.1" y2="607.3" stroke="#c8202c" stroke-width="1.8"/><line x1="1021.3" y1="596.0" x2="1049.8" y2="601.6" stroke="#1c8474" stroke-width="1.8"/><line x1="1049.8" y1="601.6" x2="1078.4" y2="607.3" stroke="#c8202c" stroke-width="1.8"/><line x1="1021.3" y1="596.0" x2="1004.8" y2="620.0" stroke="#1c8474" stroke-width="1.8"/><line x1="1004.8" y1="620.0" x2="988.2" y2="643.9" stroke="#c8202c" stroke-width="1.8"/><line x1="1021.3" y1="596.0" x2="1037.9" y2="620.0" stroke="#1c8474" stroke-width="1.8"/><line x1="1037.9" y1="620.0" x2="1054.5" y2="643.9" stroke="#c8202c" stroke-width="1.8"/><line x1="1201.7" y1="512.2" x2="1185.2" y2="488.1" stroke="#1c8474" stroke-width="1.8"/><line x1="1185.2" y1="488.1" x2="1168.6" y2="464.0" stroke="#c8202c" stroke-width="1.8"/><line x1="1201.7" y1="512.2" x2="1218.3" y2="488.1" stroke="#1c8474" stroke-width="1.8"/><line x1="1218.3" y1="488.1" x2="1234.9" y2="464.0" stroke="#c8202c" stroke-width="1.8"/><line x1="1201.7" y1="512.2" x2="1173.1" y2="506.6" stroke="#1c8474" stroke-width="1.8"/><line x1="1173.1" y1="506.6" x2="1144.5" y2="501.0" stroke="#c8202c" stroke-width="1.8"/><line x1="1201.7" y1="512.2" x2="1230.2" y2="506.6" stroke="#1c8474" stroke-width="1.8"/><line x1="1230.2" y1="506.6" x2="1258.8" y2="501.0" stroke="#c8202c" stroke-width="1.8"/><line x1="1201.7" y1="512.2" x2="1192.2" y2="533.4" stroke="#1c8474" stroke-width="1.8"/><line x1="1192.2" y1="533.4" x2="1182.7" y2="554.5" stroke="#c8202c" stroke-width="1.8"/><line x1="1201.7" y1="512.2" x2="1211.3" y2="533.4" stroke="#1c8474" stroke-width="1.8"/><line x1="1211.3" y1="533.4" x2="1220.9" y2="554.5" stroke="#c8202c" stroke-width="1.8"/><line x1="1201.7" y1="596.0" x2="1192.2" y2="575.0" stroke="#1c8474" stroke-width="1.8"/><line x1="1192.2" y1="575.0" x2="1182.7" y2="554.1" stroke="#c8202c" stroke-width="1.8"/><line x1="1201.7" y1="596.0" x2="1211.3" y2="575.0" stroke="#1c8474" stroke-width="1.8"/><line x1="1211.3" y1="575.0" x2="1220.9" y2="554.1" stroke="#c8202c" stroke-width="1.8"/><line x1="1201.7" y1="596.0" x2="1173.1" y2="601.6" stroke="#1c8474" stroke-width="1.8"/><line x1="1173.1" y1="601.6" x2="1144.5" y2="607.3" stroke="#c8202c" stroke-width="1.8"/><line x1="1201.7" y1="596.0" x2="1230.2" y2="601.6" stroke="#1c8474" stroke-width="1.8"/><line x1="1230.2" y1="601.6" x2="1258.8" y2="607.3" stroke="#c8202c" stroke-width="1.8"/><line x1="1201.7" y1="596.0" x2="1185.2" y2="620.0" stroke="#1c8474" stroke-width="1.8"/><line x1="1185.2" y1="620.0" x2="1168.6" y2="643.9" stroke="#c8202c" stroke-width="1.8"/><line x1="1201.7" y1="596.0" x2="1218.3" y2="620.0" stroke="#1c8474" stroke-width="1.8"/><line x1="1218.3" y1="620.0" x2="1234.9" y2="643.9" stroke="#c8202c" stroke-width="1.8"/><circle cx="930.8" cy="81.6" r="11.3" fill="url(#gB4)"/><circle cx="1112.0" cy="81.6" r="11.3" fill="url(#gB4)"/><circle cx="1021.3" cy="224.9" r="11.3" fill="url(#gB4)"/><circle cx="1201.7" cy="224.9" r="11.3" fill="url(#gB4)"/><circle cx="930.8" cy="368.8" r="11.3" fill="url(#gB4)"/><circle cx="1112.0" cy="368.8" r="11.3" fill="url(#gB4)"/><circle cx="1021.3" cy="512.2" r="11.3" fill="url(#gB4)"/><circle cx="1201.7" cy="512.2" r="11.3" fill="url(#gB4)"/><rect x="1065.7" y="338.9" width="181.3" height="287.8" fill="none" stroke="#111" stroke-width="2.2"/><circle cx="930.8" cy="165.4" r="11.5" fill="url(#gB4)"/><circle cx="897.7" cy="33.4" r="8.2" fill="url(#gO)"/><circle cx="964.0" cy="33.4" r="8.2" fill="url(#gO)"/><circle cx="873.6" cy="70.4" r="8.2" fill="url(#gO)"/><circle cx="987.9" cy="70.4" r="8.2" fill="url(#gO)"/><circle cx="911.8" cy="123.9" r="8.2" fill="url(#gO)"/><circle cx="950.0" cy="123.9" r="8.2" fill="url(#gO)"/><circle cx="911.8" cy="123.5" r="8.2" fill="url(#gO)"/><circle cx="950.0" cy="123.5" r="8.2" fill="url(#gO)"/><circle cx="873.6" cy="176.7" r="8.2" fill="url(#gO)"/><circle cx="987.9" cy="176.7" r="8.2" fill="url(#gO)"/><circle cx="897.7" cy="213.3" r="8.2" fill="url(#gO)"/><circle cx="964.0" cy="213.3" r="8.2" fill="url(#gO)"/><circle cx="1112.0" cy="165.4" r="11.5" fill="url(#gB4)"/><circle cx="1078.9" cy="33.4" r="8.2" fill="url(#gO)"/><circle cx="1145.2" cy="33.4" r="8.2" fill="url(#gO)"/><circle cx="1054.8" cy="70.4" r="8.2" fill="url(#gO)"/><circle cx="1169.1" cy="70.4" r="8.2" fill="url(#gO)"/><circle cx="1093.0" cy="123.9" r="8.2" fill="url(#gO)"/><circle cx="1131.2" cy="123.9" r="8.2" fill="url(#gO)"/><circle cx="1093.0" cy="123.5" r="8.2" fill="url(#gO)"/><circle cx="1131.2" cy="123.5" r="8.2" fill="url(#gO)"/><circle cx="1054.8" cy="176.7" r="8.2" fill="url(#gO)"/><circle cx="1169.1" cy="176.7" r="8.2" fill="url(#gO)"/><circle cx="1078.9" cy="213.3" r="8.2" fill="url(#gO)"/><circle cx="1145.2" cy="213.3" r="8.2" fill="url(#gO)"/><circle cx="1021.3" cy="308.7" r="11.5" fill="url(#gB4)"/><circle cx="988.2" cy="176.7" r="8.2" fill="url(#gO)"/><circle cx="1054.5" cy="176.7" r="8.2" fill="url(#gO)"/><circle cx="964.1" cy="213.7" r="8.2" fill="url(#gO)"/><circle cx="1078.4" cy="213.7" r="8.2" fill="url(#gO)"/><circle cx="1002.3" cy="267.2" r="8.2" fill="url(#gO)"/><circle cx="1040.5" cy="267.2" r="8.2" fill="url(#gO)"/><circle cx="1002.3" cy="266.8" r="8.2" fill="url(#gO)"/><circle cx="1040.5" cy="266.8" r="8.2" fill="url(#gO)"/><circle cx="964.1" cy="320.0" r="8.2" fill="url(#gO)"/><circle cx="1078.4" cy="320.0" r="8.2" fill="url(#gO)"/><circle cx="988.2" cy="356.6" r="8.2" fill="url(#gO)"/><circle cx="1054.5" cy="356.6" r="8.2" fill="url(#gO)"/><circle cx="1201.7" cy="308.7" r="11.5" fill="url(#gB4)"/><circle cx="1168.6" cy="176.7" r="8.2" fill="url(#gO)"/><circle cx="1234.9" cy="176.7" r="8.2" fill="url(#gO)"/><circle cx="1144.5" cy="213.7" r="8.2" fill="url(#gO)"/><circle cx="1258.8" cy="213.7" r="8.2" fill="url(#gO)"/><circle cx="1182.7" cy="267.2" r="8.2" fill="url(#gO)"/><circle cx="1220.9" cy="267.2" r="8.2" fill="url(#gO)"/><circle cx="1182.7" cy="266.8" r="8.2" fill="url(#gO)"/><circle cx="1220.9" cy="266.8" r="8.2" fill="url(#gO)"/><circle cx="1144.5" cy="320.0" r="8.2" fill="url(#gO)"/><circle cx="1258.8" cy="320.0" r="8.2" fill="url(#gO)"/><circle cx="1168.6" cy="356.6" r="8.2" fill="url(#gO)"/><circle cx="1234.9" cy="356.6" r="8.2" fill="url(#gO)"/><circle cx="930.8" cy="452.6" r="11.5" fill="url(#gB4)"/><circle cx="897.7" cy="320.6" r="8.2" fill="url(#gO)"/><circle cx="964.0" cy="320.6" r="8.2" fill="url(#gO)"/><circle cx="873.6" cy="357.6" r="8.2" fill="url(#gO)"/><circle cx="987.9" cy="357.6" r="8.2" fill="url(#gO)"/><circle cx="911.8" cy="411.1" r="8.2" fill="url(#gO)"/><circle cx="950.0" cy="411.1" r="8.2" fill="url(#gO)"/><circle cx="911.8" cy="410.7" r="8.2" fill="url(#gO)"/><circle cx="950.0" cy="410.7" r="8.2" fill="url(#gO)"/><circle cx="873.6" cy="463.9" r="8.2" fill="url(#gO)"/><circle cx="987.9" cy="463.9" r="8.2" fill="url(#gO)"/><circle cx="897.7" cy="500.5" r="8.2" fill="url(#gO)"/><circle cx="964.0" cy="500.5" r="8.2" fill="url(#gO)"/><circle cx="1112.0" cy="452.6" r="11.5" fill="url(#gB4)"/><circle cx="1078.9" cy="320.6" r="8.2" fill="url(#gO)"/><circle cx="1145.2" cy="320.6" r="8.2" fill="url(#gO)"/><circle cx="1054.8" cy="357.6" r="8.2" fill="url(#gO)"/><circle cx="1169.1" cy="357.6" r="8.2" fill="url(#gO)"/><circle cx="1093.0" cy="411.1" r="8.2" fill="url(#gO)"/><circle cx="1131.2" cy="411.1" r="8.2" fill="url(#gO)"/><circle cx="1093.0" cy="410.7" r="8.2" fill="url(#gO)"/><circle cx="1131.2" cy="410.7" r="8.2" fill="url(#gO)"/><circle cx="1054.8" cy="463.9" r="8.2" fill="url(#gO)"/><circle cx="1169.1" cy="463.9" r="8.2" fill="url(#gO)"/><circle cx="1078.9" cy="500.5" r="8.2" fill="url(#gO)"/><circle cx="1145.2" cy="500.5" r="8.2" fill="url(#gO)"/><circle cx="1021.3" cy="596.0" r="11.5" fill="url(#gB4)"/><circle cx="988.2" cy="464.0" r="8.2" fill="url(#gO)"/><circle cx="1054.5" cy="464.0" r="8.2" fill="url(#gO)"/><circle cx="964.1" cy="501.0" r="8.2" fill="url(#gO)"/><circle cx="1078.4" cy="501.0" r="8.2" fill="url(#gO)"/><circle cx="1002.3" cy="554.5" r="8.2" fill="url(#gO)"/><circle cx="1040.5" cy="554.5" r="8.2" fill="url(#gO)"/><circle cx="1002.3" cy="554.1" r="8.2" fill="url(#gO)"/><circle cx="1040.5" cy="554.1" r="8.2" fill="url(#gO)"/><circle cx="964.1" cy="607.3" r="8.2" fill="url(#gO)"/><circle cx="1078.4" cy="607.3" r="8.2" fill="url(#gO)"/><circle cx="988.2" cy="643.9" r="8.2" fill="url(#gO)"/><circle cx="1054.5" cy="643.9" r="8.2" fill="url(#gO)"/><circle cx="1201.7" cy="596.0" r="11.5" fill="url(#gB4)"/><circle cx="1168.6" cy="464.0" r="8.2" fill="url(#gO)"/><circle cx="1234.9" cy="464.0" r="8.2" fill="url(#gO)"/><circle cx="1144.5" cy="501.0" r="8.2" fill="url(#gO)"/><circle cx="1258.8" cy="501.0" r="8.2" fill="url(#gO)"/><circle cx="1182.7" cy="554.5" r="8.2" fill="url(#gO)"/><circle cx="1220.9" cy="554.5" r="8.2" fill="url(#gO)"/><circle cx="1182.7" cy="554.1" r="8.2" fill="url(#gO)"/><circle cx="1220.9" cy="554.1" r="8.2" fill="url(#gO)"/><circle cx="1144.5" cy="607.3" r="8.2" fill="url(#gO)"/><circle cx="1258.8" cy="607.3" r="8.2" fill="url(#gO)"/><circle cx="1168.6" cy="643.9" r="8.2" fill="url(#gO)"/><circle cx="1234.9" cy="643.9" r="8.2" fill="url(#gO)"/><circle cx="898.1" cy="607.2" r="8.2" fill="url(#gO)"/><circle cx="1233.7" cy="70.2" r="8.2" fill="url(#gO)"/><circle cx="886.2" cy="50.6" r="11.5" fill="url(#gAg)"/><circle cx="976.0" cy="50.6" r="11.5" fill="url(#gAg)"/><circle cx="1066.6" cy="50.6" r="11.5" fill="url(#gAg)"/><circle cx="1156.4" cy="50.6" r="11.5" fill="url(#gAg)"/><circle cx="1245.6" cy="50.6" r="11.5" fill="url(#gAg)"/><circle cx="886.2" cy="338.9" r="11.5" fill="url(#gAg)"/><circle cx="976.0" cy="338.9" r="11.5" fill="url(#gAg)"/><circle cx="1066.6" cy="338.9" r="11.5" fill="url(#gAg)"/><circle cx="1156.4" cy="338.9" r="11.5" fill="url(#gAg)"/><circle cx="1245.6" cy="338.9" r="11.5" fill="url(#gAg)"/><circle cx="886.2" cy="625.3" r="11.5" fill="url(#gAg)"/><circle cx="976.0" cy="625.3" r="11.5" fill="url(#gAg)"/><circle cx="1066.6" cy="625.3" r="11.5" fill="url(#gAg)"/><circle cx="1156.4" cy="625.3" r="11.5" fill="url(#gAg)"/><circle cx="1245.6" cy="625.3" r="11.5" fill="url(#gAg)"/><circle cx="1028.5" cy="123.2" r="11.5" fill="url(#gAg)"/><circle cx="1016.5" cy="123.2" r="11.5" fill="url(#gAg)"/><circle cx="1208.9" cy="123.2" r="11.5" fill="url(#gAg)"/><circle cx="1197.9" cy="123.2" r="11.5" fill="url(#gAg)"/><circle cx="1028.5" cy="409.5" r="11.5" fill="url(#gAg)"/><circle cx="1016.5" cy="409.5" r="11.5" fill="url(#gAg)"/><circle cx="1208.9" cy="409.5" r="11.5" fill="url(#gAg)"/><circle cx="1197.9" cy="409.5" r="11.5" fill="url(#gAg)"/><circle cx="937.8" cy="265.9" r="11.5" fill="url(#gAg)"/><circle cx="925.8" cy="265.9" r="11.5" fill="url(#gAg)"/><circle cx="1118.2" cy="265.9" r="11.5" fill="url(#gAg)"/><circle cx="1107.2" cy="265.9" r="11.5" fill="url(#gAg)"/><circle cx="937.8" cy="553.7" r="11.5" fill="url(#gAg)"/><circle cx="925.8" cy="553.7" r="11.5" fill="url(#gAg)"/><circle cx="1118.2" cy="553.7" r="11.5" fill="url(#gAg)"/><circle cx="1107.2" cy="553.7" r="11.5" fill="url(#gAg)"/>
<path d="M699.3,525.4 L699.3,657.3 Q699.3,664.3 706.3,664.3 L839.1,664.3 L839.1,649.3 L714.3,649.3 L714.3,525.4 Z" fill="#1a1a1a"/><defs><linearGradient id="hv706" x1="0" x2="1" y1="0" y2="0"><stop offset="0" stop-color="#1a1a1a"/><stop offset="0.5" stop-color="#d8d8d8"/><stop offset="1" stop-color="#1a1a1a"/></linearGradient><linearGradient id="hh706" x1="0" x2="0" y1="0" y2="1"><stop offset="0" stop-color="#1a1a1a"/><stop offset="0.5" stop-color="#d8d8d8"/><stop offset="1" stop-color="#1a1a1a"/></linearGradient></defs><rect x="703.8" y="525.4" width="6" height="134.4" fill="url(#hv706)"/><rect x="703.8" y="653.8" width="135.3" height="6" fill="url(#hh706)"/><polygon points="706.8,504.9 721.8,525.4 691.8,525.4" fill="#1a1a1a"/><polygon points="858.6,656.8 839.1,641.8 839.1,671.8" fill="#1a1a1a"/><g transform="translate(749.5,590.0) rotate(-90)"><text x="0" y="0" font-family="'Liberation Sans',sans-serif" font-size="28.5">[001]</text><rect x="40.76" y="-2.85" width="5.96" height="3.28" fill="#fff"/><rect x="49.33" y="-2.85" width="6.24" height="3.28" fill="#fff"/></g><text x="758.0" y="631.1" font-family="'Liberation Sans',sans-serif" font-size="28.5" text-anchor="start" font-weight="normal" >[–100]</text><rect x="782.91" y="628.25" width="5.96" height="3.28" fill="#fff"/><rect x="791.49" y="628.25" width="6.24" height="3.28" fill="#fff"/>
<line x1="170.7" y1="741.6" x2="170.7" y2="1107.6" stroke="#000" stroke-width="1.3" stroke-dasharray="4.6 3.4"/>
<line x1="210.8" y1="741.6" x2="210.8" y2="1107.6" stroke="#000" stroke-width="1.3" stroke-dasharray="4.6 3.4"/>
<line x1="251.5" y1="741.6" x2="251.5" y2="1107.6" stroke="#000" stroke-width="1.3" stroke-dasharray="4.6 3.4"/>
<line x1="291.6" y1="741.6" x2="291.6" y2="1107.6" stroke="#000" stroke-width="1.3" stroke-dasharray="4.6 3.4"/>
<line x1="317.1" y1="741.6" x2="317.1" y2="1107.6" stroke="#000" stroke-width="1.3" stroke-dasharray="4.6 3.4"/>
<line x1="358.1" y1="741.6" x2="358.1" y2="1107.6" stroke="#000" stroke-width="1.3" stroke-dasharray="4.6 3.4"/>
<line x1="397.8" y1="741.6" x2="397.8" y2="1107.6" stroke="#000" stroke-width="1.3" stroke-dasharray="4.6 3.4"/>
<line x1="438.6" y1="741.6" x2="438.6" y2="1107.6" stroke="#000" stroke-width="1.3" stroke-dasharray="4.6 3.4"/>
<line x1="479.0" y1="741.6" x2="479.0" y2="1107.6" stroke="#000" stroke-width="1.3" stroke-dasharray="4.6 3.4"/>
<line x1="541.8" y1="741.6" x2="541.8" y2="1107.6" stroke="#000" stroke-width="1.3" stroke-dasharray="4.6 3.4"/>
<line x1="567.1" y1="741.6" x2="567.1" y2="1107.6" stroke="#000" stroke-width="1.3" stroke-dasharray="4.6 3.4"/>
<line x1="129.8" y1="916.2" x2="626.8" y2="916.2" stroke="#d42a2a" stroke-width="1.4" stroke-dasharray="7 6" stroke-dashoffset="-2"/>
<defs><clipPath id="clipc"><rect x="129.8" y="741.6" width="497.0" height="366.0"/></clipPath></defs>
<g clip-path="url(#clipc)" fill="none" stroke="#000" stroke-width="1.85" stroke-linejoin="round" stroke-linecap="round">
<clipPath id="clipcg1"><rect x="0" y="0" width="291.4" height="930"/></clipPath>
<g clip-path="url(#clipcg1)">
<path d="M130.0,759.9 C130.7,758.5 133.0,754.3 134.4,751.8 C135.8,749.3 137.1,747.4 138.5,745.1 C139.8,742.7 141.1,739.6 142.5,737.7 C143.8,735.8 145.0,734.6 146.5,733.7 C148.1,732.8 150.1,732.1 151.9,732.3 C153.7,732.5 155.8,733.5 157.3,735.0 C158.7,736.5 159.3,738.1 160.6,741.1 C162.0,744.0 163.9,749.1 165.4,752.5 C166.8,755.9 168.5,759.7 169.4,761.2 C170.3,762.8 170.5,761.8 170.7,761.9"/>
<path d="M170.7,761.9 C172.1,763.0 175.9,765.7 178.8,768.6 C181.7,771.5 185.1,775.4 188.2,779.4 C191.4,783.4 194.7,788.6 197.6,792.8 C200.6,797.1 203.6,802.3 205.7,804.9 C207.8,807.6 208.2,808.8 210.4,809.0 C212.7,809.2 215.5,809.2 219.2,806.3 C222.9,803.4 228.6,795.5 232.6,791.5 C236.6,787.5 240.2,784.5 243.4,782.1 C246.5,779.6 248.8,777.9 251.4,776.7 C254.1,775.5 255.9,776.7 259.5,775.1 C263.1,773.5 269.4,769.5 273.0,767.3 C276.6,765.1 278.0,763.1 281.0,761.9 C284.1,760.7 288.2,759.0 291.4,759.9 C294.6,760.8 298.6,766.1 300.0,767.3"/>
<path d="M130.0,784.8 C130.9,785.0 133.7,785.6 135.8,786.1 C137.8,786.7 139.8,787.7 142.5,788.1 C145.2,788.6 149.0,789.6 151.9,788.8 C154.8,788.0 157.5,786.3 160.0,783.4 C162.4,780.5 164.9,774.0 166.7,771.3 C168.5,768.6 168.7,766.8 170.7,767.3 C172.8,767.7 175.9,770.9 178.8,774.0 C181.7,777.1 185.1,781.9 188.2,786.1 C191.4,790.4 194.7,796.0 197.6,799.6 C200.6,803.2 203.6,806.0 205.7,807.6 C207.8,809.3 208.4,808.8 210.4,809.3 C212.4,809.7 215.0,811.3 217.8,810.6 C220.6,809.9 223.6,807.5 227.2,804.9 C230.8,802.4 235.3,798.3 239.3,795.5 C243.4,792.7 248.1,790.2 251.4,788.1 C254.8,786.1 256.8,785.6 259.5,783.4 C262.2,781.3 265.3,777.6 267.6,775.4 C269.8,773.1 270.7,772.0 273.0,770.0 C275.2,768.0 278.0,764.9 281.0,763.2 C284.1,761.6 289.7,760.4 291.4,759.9"/>
<path d="M130.0,784.8 C131.4,785.7 135.7,788.4 138.5,790.2 C141.2,791.9 143.9,794.4 146.5,795.5 C149.1,796.7 151.7,798.0 153.9,796.9 C156.2,795.8 158.1,792.4 160.0,788.8 C161.9,785.2 163.6,779.0 165.4,775.4 C167.1,771.7 169.8,768.4 170.7,767.0"/>
<path d="M251.4,776.7 C252.8,777.8 257.3,781.4 259.5,783.4 C261.8,785.4 263.1,786.9 264.9,788.8 C266.7,790.7 267.8,794.9 270.3,794.9 C272.7,794.9 276.6,790.6 279.7,788.8 C282.8,787.0 287.2,784.9 289.1,784.1 C291.1,783.3 291.0,784.1 291.4,784.1"/>
<path d="M251.4,788.1 C252.8,789.8 257.3,795.4 259.5,798.2 C261.8,801.0 263.2,803.3 264.9,804.9 C266.6,806.6 267.6,809.2 269.6,808.3 C271.6,807.4 274.2,803.0 277.0,799.6 C279.8,796.1 284.0,790.0 286.4,787.5 C288.8,784.9 290.6,784.7 291.4,784.1"/>
</g>
<clipPath id="clipcg2"><rect x="291.4" y="0" width="158.60000000000002" height="930"/></clipPath>
<g clip-path="url(#clipcg2)">
<path d="M291.1,759.9 C292.3,760.7 295.9,761.3 298.5,764.6 C301.0,767.8 304.1,774.9 306.5,779.4 C309.0,783.9 311.5,788.7 313.2,791.5 C315.0,794.3 316.6,795.4 317.3,796.2"/>
<path d="M285.0,788.8 C286.0,788.1 288.8,784.8 291.1,784.8 C293.3,784.8 296.1,787.0 298.5,788.8 C300.8,790.6 303.0,793.7 305.2,795.5 C307.3,797.3 309.2,799.5 311.2,799.6 C313.2,799.7 316.3,796.8 317.3,796.2"/>
<path d="M291.1,784.8 C292.5,785.2 297.0,785.9 299.8,787.5 C302.6,789.0 305.0,792.7 307.9,794.2 C310.8,795.6 315.7,795.9 317.3,796.2"/>
<path d="M317.3,796.2 C318.4,795.0 321.5,791.6 324.0,788.8 C326.5,786.0 329.2,782.3 332.1,779.4 C335.0,776.5 338.6,773.4 341.5,771.3 C344.4,769.2 346.8,767.4 349.6,766.6 C352.4,765.8 356.9,766.6 358.3,766.6"/>
<path d="M317.3,796.2 C318.6,794.7 322.7,790.5 325.4,787.5 C328.0,784.4 330.5,781.0 333.4,778.0 C336.3,775.1 339.7,771.9 342.8,770.0 C346.0,768.0 349.7,766.8 352.3,766.2 C354.8,765.6 357.3,766.5 358.3,766.6"/>
<path d="M358.3,766.6 C360.0,766.2 364.9,764.9 368.4,763.9 C371.9,762.9 375.8,761.3 379.2,760.6 C382.5,759.8 385.4,759.4 388.6,759.2 C391.7,759.0 395.1,759.0 398.0,759.2 C400.9,759.4 402.5,759.9 406.1,760.6 C409.7,761.2 414.0,762.2 419.5,763.2 C425.0,764.3 435.8,766.1 439.0,766.6"/>
<path d="M358.3,766.6 C360.0,766.3 364.9,765.5 368.4,764.6 C371.9,763.7 375.1,762.0 379.2,761.2 C383.2,760.4 388.6,759.8 392.6,759.9 C396.6,760.0 399.8,760.8 403.4,761.9 C407.0,763.0 411.0,765.6 414.1,766.6 C417.3,767.6 419.5,768.0 422.2,768.0 C424.9,768.0 427.5,767.1 430.3,766.6 C433.1,766.2 436.3,764.9 439.0,765.3 C441.7,765.6 442.9,766.1 446.4,768.6 C449.9,771.2 457.7,778.7 460.0,780.7"/>
<path d="M358.3,766.6 C359.5,767.8 363.4,771.2 365.7,774.0 C368.1,776.8 370.2,780.1 372.4,783.4 C374.7,786.8 376.7,789.7 379.2,794.2 C381.6,798.7 384.8,805.6 387.2,810.3 C389.7,815.0 392.2,819.6 394.0,822.4 C395.8,825.2 396.0,826.5 398.0,827.1 C400.0,827.8 403.4,828.4 406.1,826.5 C408.8,824.6 411.4,820.2 414.1,815.7 C416.8,811.2 419.5,805.2 422.2,799.6 C424.9,794.0 427.5,787.2 430.3,782.1 C433.1,776.9 436.3,770.4 439.0,768.6 C441.7,766.8 442.9,768.4 446.4,771.3 C449.9,774.2 457.7,783.7 460.0,786.1"/>
<path d="M358.3,767.3 C359.7,768.6 363.9,772.3 366.4,775.4 C368.8,778.4 370.9,781.9 373.1,785.4 C375.4,789.0 377.4,792.3 379.8,796.9 C382.3,801.5 385.4,808.4 387.9,813.0 C390.4,817.6 392.9,822.0 394.6,824.5 C396.3,826.9 397.4,827.0 398.0,827.5"/>
<path d="M398.0,827.1 C398.9,827.3 401.1,828.8 403.4,827.8 C405.6,826.8 408.8,824.5 411.4,821.1 C414.1,817.7 416.6,813.0 419.5,807.6 C422.4,802.3 426.0,794.6 428.9,788.8 C431.8,783.0 435.3,775.9 437.0,772.7 C438.7,769.4 438.7,769.9 439.0,769.3"/>
</g>
<clipPath id="clipcg3"><rect x="450.0" y="0" width="250.0" height="930"/></clipPath>
<g clip-path="url(#clipcg3)">
<path d="M450.0,772.4 C451.6,774.0 456.5,779.0 459.7,782.0 C462.9,785.0 466.1,788.0 469.4,790.3 C472.6,792.6 477.4,795.0 479.1,795.9"/>
<path d="M450.0,775.1 C451.6,776.6 456.5,781.2 459.7,784.1 C462.9,787.0 466.1,790.5 469.4,792.4 C472.6,794.4 477.4,795.3 479.1,795.9"/>
<path d="M479.1,795.9 C480.2,793.6 483.4,786.9 486.0,782.0 C488.5,777.2 491.5,771.0 494.3,766.8 C497.0,762.7 500.3,759.3 502.6,757.1 C504.9,754.9 506.3,753.9 508.1,753.7 C510.0,753.4 511.3,752.9 513.6,755.8 C515.9,758.6 519.2,765.4 521.9,771.0 C524.7,776.5 527.7,783.7 530.2,789.0 C532.8,794.3 535.3,799.4 537.2,802.8 C539.0,806.1 540.6,808.0 541.3,809.0"/>
<path d="M479.1,795.9 C480.3,793.8 484.0,787.8 486.7,783.4 C489.3,779.0 492.2,773.5 495.0,769.6 C497.7,765.7 501.1,761.9 503.3,759.9 C505.5,757.9 506.5,757.8 508.1,757.8 C509.7,757.8 510.8,757.3 512.9,759.9 C515.1,762.6 518.5,768.4 521.3,773.7 C524.0,779.0 527.0,786.7 529.6,791.7 C532.1,796.8 534.5,801.3 536.5,804.2 C538.4,807.1 540.5,808.2 541.3,809.0"/>
<path d="M479.1,795.9 C480.7,795.2 486.0,792.8 488.7,791.7 C491.5,790.7 493.6,790.1 495.7,789.6 C497.7,789.2 499.1,788.6 501.2,789.0 C503.3,789.3 505.1,789.9 508.1,791.7 C511.1,793.6 515.5,797.5 519.2,800.0 C522.9,802.6 526.6,805.3 530.2,806.9 C533.9,808.6 539.5,809.2 541.3,809.7"/>
<path d="M479.1,795.9 C480.0,796.1 482.1,797.0 484.6,797.3 C487.1,797.5 491.3,796.3 494.3,797.3 C497.3,798.2 499.6,800.3 502.6,802.8 C505.6,805.3 508.6,809.9 512.3,812.5 C515.9,815.0 521.3,817.5 524.7,818.0 C528.2,818.5 530.2,816.6 533.0,815.2 C535.8,813.9 539.9,810.6 541.3,809.7"/>
<path d="M541.3,809.0 C542.2,806.4 545.0,798.3 546.8,793.1 C548.7,787.9 550.3,782.5 552.4,777.9 C554.5,773.3 556.8,768.4 559.3,765.4 C561.8,762.4 564.6,760.5 567.6,759.9 C570.6,759.3 574.3,761.3 577.3,762.0 C580.3,762.7 583.0,764.5 585.6,764.1 C588.1,763.6 590.2,760.9 592.5,759.2 C594.8,757.5 597.3,754.9 599.4,753.7 C601.5,752.4 602.6,751.7 605.0,751.6 C607.3,751.5 609.7,751.6 613.3,753.0 C616.8,754.4 624.2,758.8 626.4,759.9"/>
<path d="M567.6,759.9 C569.2,760.5 574.1,762.2 577.3,763.4 C580.5,764.5 584.2,767.2 587.0,766.8 C589.7,766.5 591.6,763.2 593.9,761.3 C596.2,759.3 598.7,756.4 600.8,755.1 C602.9,753.7 603.8,753.0 606.3,753.0 C608.9,753.0 612.7,753.9 616.0,755.1 C619.4,756.2 624.7,759.1 626.4,759.9"/>
<path d="M541.3,809.7 C542.7,811.1 546.8,815.7 549.6,818.0 C552.4,820.3 554.9,822.2 557.9,823.5 C560.9,824.9 564.8,826.3 567.6,826.3 C570.4,826.3 572.0,825.9 574.5,823.5 C577.1,821.2 580.0,816.4 582.8,812.5 C585.6,808.6 589.0,802.9 591.1,800.0 C593.2,797.1 593.4,796.2 595.3,795.2 C597.1,794.1 599.9,794.4 602.2,793.8 C604.5,793.2 606.6,792.8 609.1,791.7 C611.6,790.7 614.6,788.8 617.4,787.6 C620.2,786.3 624.3,784.7 625.7,784.1"/>
<path d="M567.6,826.6 C568.8,826.3 572.0,826.6 574.5,824.9 C577.1,823.3 580.0,819.4 582.8,816.6 C585.6,813.9 588.8,809.8 591.1,808.3 C593.4,806.8 594.8,808.0 596.7,807.6 C598.5,807.3 600.1,806.8 602.2,806.3 C604.3,805.7 606.6,806.1 609.1,804.2 C611.6,802.2 614.6,797.7 617.4,794.5 C620.2,791.3 624.3,786.4 625.7,784.8"/>
</g>
<clipPath id="clipcg4"><rect x="0" y="0" width="358.4" height="991"/></clipPath>
<g clip-path="url(#clipcg4)">
<path d="M129.9,947.4 C131.6,950.0 136.1,956.5 139.6,962.9 C143.2,969.4 147.4,980.4 151.2,986.2 C155.1,992.0 159.6,995.3 162.9,997.8 C166.1,1000.3 166.7,1002.7 170.6,1001.3 C174.5,999.8 181.3,994.8 186.1,989.1 C190.9,983.3 195.6,972.7 199.7,966.8 C203.8,960.9 206.8,953.6 210.7,953.6 C214.6,953.6 219.3,961.9 222.9,966.8 C226.6,971.7 229.4,983.3 232.6,983.3 C235.8,983.3 239.1,971.6 242.3,966.8 C245.4,962.0 249.0,957.3 251.6,954.2 C254.2,951.1 255.8,949.9 257.8,948.4 C259.8,946.9 261.3,946.9 263.6,945.5 C265.8,944.0 268.1,939.7 271.3,939.7 C274.6,939.7 279.6,944.2 282.9,945.5 C286.3,946.8 288.4,946.5 291.7,947.4 C294.9,948.4 298.1,949.4 302.3,951.3 C306.6,953.2 313.0,954.8 317.2,958.7 C321.4,962.5 324.2,969.6 327.5,974.5 C330.8,979.5 333.6,987.0 337.2,988.1 C340.7,989.2 345.3,983.3 348.8,981.3 C352.4,979.4 354.9,980.2 358.5,976.5 C362.0,972.8 366.5,964.9 370.1,959.1 C373.7,953.2 378.3,944.5 380.0,941.6"/>
<path d="M129.9,966.8 C131.6,968.7 136.1,973.9 139.6,978.4 C143.2,982.9 147.0,989.1 151.2,993.9 C155.4,998.8 161.6,1006.0 164.8,1007.5 C168.0,1008.9 167.1,1005.5 170.6,1002.6 C174.2,999.8 181.3,996.1 186.1,990.4 C190.9,984.8 195.6,974.6 199.7,968.7 C203.8,962.9 206.8,955.2 210.7,955.2 C214.6,955.2 219.3,963.8 222.9,968.7 C226.6,973.6 229.4,984.6 232.6,984.6 C235.8,984.6 239.1,973.6 242.3,968.7 C245.4,963.8 249.2,955.7 251.6,955.2 C254.0,954.7 254.8,966.5 256.8,965.8 C258.8,965.2 261.2,951.1 263.6,951.3 C266.0,951.5 268.7,963.4 271.3,966.8 C273.9,970.2 275.7,971.8 279.1,971.6 C282.5,971.5 285.3,968.0 291.7,965.8 C298.0,963.7 311.3,957.1 317.2,958.7 C323.2,960.3 324.2,970.4 327.5,975.5 C330.8,980.6 333.6,987.9 337.2,989.1 C340.7,990.3 345.3,984.5 348.8,982.7 C352.4,980.9 353.3,979.1 358.5,978.4 C363.7,977.7 376.4,978.4 380.0,978.4"/>
<path d="M251.6,953.2 C252.9,952.0 257.4,945.8 259.7,945.5 C262.0,945.2 263.3,947.4 265.5,951.3 C267.8,955.2 271.0,965.2 273.3,968.7 C275.5,972.3 276.0,973.3 279.1,972.6 C282.1,972.0 289.6,966.2 291.7,964.9"/>
<path d="M129.9,1011.3 C131.2,1010.7 134.9,1008.8 137.7,1007.5 C140.4,1006.1 143.2,1000.3 146.4,1003.2 C149.6,1006.1 153.7,1019.0 157.1,1024.9 C160.4,1030.8 163.8,1035.6 166.7,1038.5 C169.6,1041.4 173.2,1041.7 174.5,1042.3"/>
<path d="M129.9,1044.3 C132.5,1044.6 141.6,1047.2 145.4,1046.2 C149.3,1045.2 150.3,1043.3 153.2,1038.5 C156.1,1033.6 160.0,1022.0 162.9,1017.2 C165.8,1012.3 166.7,1010.4 170.6,1009.4 C174.5,1008.4 181.9,1010.1 186.1,1011.3 C190.3,1012.6 191.7,1014.9 195.8,1017.2 C199.9,1019.4 206.5,1025.2 210.7,1024.9 C214.9,1024.6 217.2,1021.0 221.0,1015.2 C224.8,1009.4 229.7,992.9 233.6,990.0 C237.4,987.1 241.2,995.9 244.2,997.8 C247.2,999.7 249.3,1003.9 251.6,1001.7 C253.8,999.4 255.8,985.5 257.8,984.2 C259.8,982.9 261.6,990.7 263.6,993.9 C265.5,997.1 266.2,1001.7 269.4,1003.6 C272.6,1005.5 279.2,1004.4 282.9,1005.5 C286.7,1006.7 287.5,1009.4 291.7,1010.4 C295.9,1011.3 303.9,1009.9 308.1,1011.3 C312.4,1012.8 312.7,1019.6 317.2,1019.1 C321.8,1018.6 330.6,1009.4 335.2,1008.4 C339.9,1007.5 341.1,1012.2 344.9,1013.3 C348.8,1014.4 352.6,1015.2 358.5,1015.2 C364.3,1015.2 376.4,1013.6 380.0,1013.3"/>
<path d="M129.9,1042.3 C132.2,1043.0 139.9,1047.8 143.5,1046.2 C147.0,1044.6 148.7,1036.5 151.2,1032.7 C153.8,1028.8 155.8,1025.9 159.0,1023.0 C162.2,1020.1 166.1,1017.2 170.6,1015.2 C175.1,1013.3 181.9,1011.3 186.1,1011.3 C190.3,1011.3 191.7,1013.1 195.8,1015.2 C199.9,1017.3 206.5,1024.3 210.7,1023.9 C214.9,1023.6 217.2,1017.8 221.0,1013.3 C224.8,1008.8 229.7,998.1 233.6,996.8 C237.4,995.5 241.2,1003.8 244.2,1005.5 C247.2,1007.3 249.6,1008.0 251.6,1007.5 C253.5,1007.0 253.8,1001.7 255.8,1002.6 C257.8,1003.6 261.3,1011.2 263.6,1013.3 C265.8,1015.4 266.2,1015.2 269.4,1015.2 C272.6,1015.2 279.2,1013.9 282.9,1013.3 C286.7,1012.6 286.0,1010.4 291.7,1011.3 C297.4,1012.3 311.3,1018.4 317.2,1019.1 C323.2,1019.7 324.2,1015.9 327.5,1015.2 C330.8,1014.6 332.0,1014.6 337.2,1015.2 C342.3,1015.9 352.7,1018.1 358.5,1019.1 C364.3,1020.1 368.5,1020.1 372.0,1021.0 C375.6,1022.0 378.7,1024.3 380.0,1024.9"/>
<path d="M251.6,1007.5 C252.3,1008.8 253.8,1011.3 255.8,1015.2 C257.8,1019.1 260.4,1026.5 263.6,1030.7 C266.8,1034.9 270.5,1038.1 275.2,1040.4 C279.9,1042.7 287.5,1043.3 291.7,1044.3 C295.9,1045.2 297.3,1048.5 300.4,1046.2 C303.4,1044.0 307.3,1035.2 310.1,1030.7 C312.9,1026.2 316.0,1021.0 317.2,1019.1"/>
<path d="M129.9,1063.6 C132.8,1063.3 141.2,1063.3 147.4,1061.7 C153.5,1060.1 160.3,1056.9 166.7,1054.0 C173.2,1051.1 179.6,1045.6 186.1,1044.3 C192.6,1043.0 201.4,1045.2 205.5,1046.2 C209.6,1047.2 207.5,1050.7 210.7,1050.1 C213.9,1049.4 218.0,1045.6 224.8,1042.3 C231.7,1039.1 245.1,1032.3 251.6,1030.7 C258.0,1029.1 258.4,1030.4 263.6,1032.7 C268.8,1034.9 276.5,1042.0 282.9,1044.3 C289.4,1046.5 296.6,1043.0 302.3,1046.2 C308.0,1049.4 310.8,1059.1 317.2,1063.6 C323.7,1068.2 334.2,1070.7 341.1,1073.3 C347.9,1075.9 353.6,1082.0 358.5,1079.1 C363.3,1076.2 366.5,1062.7 370.1,1055.9 C373.7,1049.1 378.3,1041.4 380.0,1038.5"/>
<path d="M129.9,1065.6 C133.5,1065.6 144.5,1065.9 151.2,1065.6 C158.0,1065.3 164.8,1065.3 170.6,1063.6 C176.4,1062.0 180.3,1058.2 186.1,1055.9 C191.9,1053.6 201.4,1051.4 205.5,1050.1 C209.6,1048.8 208.4,1048.0 210.7,1048.1 C213.0,1048.3 214.7,1051.7 219.0,1051.1 C223.3,1050.4 231.0,1045.9 236.5,1044.3 C241.9,1042.7 247.1,1042.0 251.6,1041.4 C256.1,1040.7 258.4,1039.6 263.6,1040.4 C268.8,1041.2 277.1,1043.3 282.9,1046.2 C288.8,1049.1 292.7,1054.9 298.4,1057.8 C304.2,1060.7 314.1,1062.7 317.2,1063.6"/>
<path d="M129.9,1077.2 C133.5,1075.6 144.5,1066.2 151.2,1067.5 C158.0,1068.8 164.8,1082.4 170.6,1084.9 C176.4,1087.5 180.9,1085.6 186.1,1083.0 C191.3,1080.4 197.5,1072.7 201.6,1069.5 C205.7,1066.2 206.8,1064.9 210.7,1063.6 C214.6,1062.4 220.5,1062.0 224.8,1061.7 C229.1,1061.4 232.0,1061.1 236.5,1061.7 C240.9,1062.4 247.1,1066.2 251.6,1065.6 C256.1,1064.9 259.6,1057.8 263.6,1057.8 C267.5,1057.8 270.5,1063.0 275.2,1065.6 C279.9,1068.2 284.7,1070.1 291.7,1073.3 C298.7,1076.6 309.0,1082.0 317.2,1084.9 C325.5,1087.9 334.2,1089.5 341.1,1090.8 C347.9,1092.1 353.6,1093.0 358.5,1092.7 C363.3,1092.4 366.5,1090.1 370.1,1088.8 C373.7,1087.5 378.3,1085.6 380.0,1084.9"/>
<path d="M129.9,1090.8 C131.9,1089.1 137.7,1082.0 141.6,1081.1 C145.4,1080.1 148.3,1084.0 153.2,1084.9 C158.0,1085.9 165.1,1085.3 170.6,1086.9 C176.1,1088.5 180.9,1096.2 186.1,1094.6 C191.3,1093.0 197.5,1080.4 201.6,1077.2 C205.7,1074.0 206.8,1075.9 210.7,1075.3 C214.6,1074.6 220.5,1072.7 224.8,1073.3 C229.1,1074.0 232.0,1074.6 236.5,1079.1 C240.9,1083.7 247.1,1095.9 251.6,1100.4 C256.1,1105.0 261.6,1105.3 263.6,1106.3"/>
<path d="M129.9,1100.4 C131.2,1099.5 133.8,1095.0 137.7,1094.6 C141.6,1094.3 147.7,1096.9 153.2,1098.5 C158.7,1100.1 167.7,1103.3 170.6,1104.3"/>
<path d="M191.9,1106.3 C194.2,1101.1 202.3,1080.8 205.5,1075.3 C208.6,1069.8 209.8,1073.7 210.7,1073.3"/>
<path d="M251.6,1065.6 C253.6,1064.0 259.6,1054.6 263.6,1055.9 C267.5,1057.2 270.5,1068.5 275.2,1073.3 C279.9,1078.2 284.7,1082.4 291.7,1084.9 C298.7,1087.5 309.0,1087.5 317.2,1088.8 C325.5,1090.1 334.2,1092.4 341.1,1092.7 C347.9,1093.0 353.6,1090.4 358.5,1090.8 C363.3,1091.1 366.5,1094.3 370.1,1094.6 C373.7,1095.0 378.3,1093.0 380.0,1092.7"/>
<path d="M251.6,1104.3 C253.6,1103.3 259.6,1101.1 263.6,1098.5 C267.5,1095.9 271.3,1089.1 275.2,1088.8 C279.1,1088.5 282.3,1094.6 286.8,1096.6 C291.3,1098.5 297.2,1099.2 302.3,1100.4 C307.4,1101.7 314.7,1103.7 317.2,1104.3"/>
<path d="M358.5,1079.1 C360.4,1076.9 366.5,1069.8 370.1,1065.6 C373.7,1061.4 378.3,1055.9 380.0,1054.0"/>
</g>
<clipPath id="clipcg5"><rect x="358.4" y="0" width="1641.6" height="991"/></clipPath>
<g clip-path="url(#clipcg5)">
<path d="M355.0,977.2 C357.1,974.9 363.5,970.3 367.7,963.4 C371.9,956.5 375.3,943.8 380.4,935.9 C385.5,928.1 393.4,918.2 398.3,916.5 C403.3,914.7 406.6,921.8 410.0,925.4 C413.3,929.0 415.8,934.9 418.4,938.0 C421.1,941.2 423.3,943.9 425.8,944.4 C428.3,944.9 431.0,942.1 433.2,941.2 C435.4,940.3 436.7,938.2 439.1,939.1 C441.6,940.0 444.8,943.5 448.0,946.5 C451.2,949.5 455.0,954.6 458.6,957.1 C462.1,959.5 465.8,960.9 469.1,961.3 C472.5,961.7 475.1,959.9 478.7,959.2 C482.2,958.5 486.2,958.0 490.3,957.1 C494.3,956.2 498.7,954.2 503.0,953.9 C507.2,953.6 511.4,955.4 515.6,955.4 C519.9,955.4 524.0,954.3 528.3,953.9 C532.6,953.5 537.2,956.2 541.4,952.8 C545.7,949.5 549.4,939.9 553.7,933.8 C558.0,927.8 563.2,917.2 567.4,916.5 C571.7,915.8 575.7,925.3 579.1,929.6 C582.4,933.9 584.3,938.4 587.5,942.3 C590.7,946.1 594.6,951.4 598.1,952.8 C601.6,954.3 603.9,951.4 608.6,950.7 C613.4,950.0 623.6,949.0 626.6,948.6"/>
<path d="M433.2,942.3 C434.2,942.0 436.7,939.6 439.1,940.6 C441.6,941.6 444.8,945.2 448.0,948.2 C451.2,951.2 455.0,956.3 458.6,958.8 C462.1,961.2 465.8,962.4 469.1,962.8 C472.5,963.1 475.1,961.5 478.7,960.9 C482.2,960.2 486.2,959.6 490.3,958.8 C494.3,957.9 498.7,955.9 503.0,955.6 C507.2,955.3 511.4,957.1 515.6,957.1 C519.9,957.0 524.0,955.9 528.3,955.4 C532.6,954.9 539.2,954.3 541.4,954.1"/>
<path d="M587.5,944.0 C589.3,945.7 594.6,953.1 598.1,954.5 C601.6,955.9 603.9,953.1 608.6,952.4 C613.4,951.7 623.6,950.7 626.6,950.3"/>
<path d="M355.0,978.2 C357.1,977.5 363.5,976.1 367.7,974.0 C371.9,971.9 375.3,967.6 380.4,965.5 C385.5,963.4 393.4,961.1 398.3,961.3 C403.3,961.5 407.0,965.2 410.0,966.6 C413.0,968.0 414.2,970.3 416.3,969.8 C418.4,969.2 420.7,965.2 422.6,963.4 C424.6,961.7 425.2,957.8 427.9,959.2 C430.7,960.6 435.8,968.3 439.1,971.9 C442.5,975.4 444.4,975.7 448.0,980.3 C451.6,984.9 457.2,994.1 460.7,999.3 C464.2,1004.6 466.1,1008.5 469.1,1012.0 C472.1,1015.5 475.1,1018.4 478.7,1020.5 C482.2,1022.6 486.2,1024.2 490.3,1024.7 C494.3,1025.2 498.7,1023.7 503.0,1023.7 C507.2,1023.7 511.4,1024.4 515.6,1024.7 C519.9,1025.1 524.0,1025.8 528.3,1025.8 C532.6,1025.8 537.2,1025.6 541.4,1024.7 C545.7,1023.8 549.4,1021.9 553.7,1020.5 C558.0,1019.1 563.2,1018.7 567.4,1016.3 C571.7,1013.8 575.7,1009.6 579.1,1005.7 C582.4,1001.8 584.3,993.0 587.5,993.0 C590.7,993.0 594.9,1001.1 598.1,1005.7 C601.2,1010.3 603.7,1020.5 606.5,1020.5 C609.4,1020.5 611.6,1008.5 615.0,1005.7 C618.3,1002.9 624.7,1003.9 626.6,1003.6"/>
<path d="M478.7,959.2 C479.9,960.9 483.4,965.5 486.1,969.8 C488.7,974.0 491.0,981.7 494.5,984.5 C498.0,987.4 503.0,986.1 507.2,986.7 C511.4,987.2 516.0,990.5 519.9,987.7 C523.7,984.9 526.8,975.6 530.4,969.8 C534.0,963.9 537.6,955.0 541.4,952.8 C545.3,950.7 549.4,955.7 553.7,957.1 C558.0,958.5 563.2,958.8 567.4,961.3 C571.7,963.8 575.0,968.3 579.1,971.9 C583.1,975.4 586.8,979.3 591.7,982.4 C596.7,985.6 604.1,991.2 608.6,990.9 C613.2,990.5 616.2,984.2 619.2,980.3 C622.2,976.4 625.4,969.8 626.6,967.6"/>
<path d="M355.0,1014.1 C358.5,1013.8 370.5,1012.4 376.1,1012.0 C381.8,1011.7 385.1,1011.3 388.8,1012.0 C392.5,1012.7 394.8,1019.8 398.3,1016.3 C401.9,1012.7 405.6,1000.2 410.0,990.9 C414.4,981.6 419.9,963.4 424.8,960.2 C429.6,957.1 433.8,965.7 439.1,971.9 C444.4,978.0 451.5,990.2 456.5,997.2 C461.5,1004.3 465.4,1010.3 469.1,1014.1 C472.8,1018.0 477.1,1019.4 478.7,1020.5"/>
<path d="M355.0,1018.4 C358.5,1019.1 368.9,1021.9 376.1,1022.6 C383.4,1023.3 393.4,1023.3 398.3,1022.6 C403.3,1021.9 402.4,1024.7 405.7,1018.4 C409.1,1012.0 414.5,990.9 418.4,984.5 C422.3,978.2 425.5,982.3 429.0,980.3 C432.4,978.4 435.6,972.2 439.1,972.9 C442.6,973.6 445.8,978.7 450.1,984.5 C454.4,990.4 460.2,1001.8 464.9,1007.8 C469.7,1013.8 474.4,1021.2 478.7,1020.5 C482.9,1019.8 487.3,1006.7 490.3,1003.6 C493.3,1000.4 494.0,999.3 496.6,1001.5 C499.3,1003.6 503.0,1015.5 506.1,1016.3 C509.3,1017.0 513.0,1009.0 515.6,1005.7 C518.3,1002.3 519.5,995.8 522.0,996.2 C524.4,996.5 527.2,1003.2 530.4,1007.8 C533.7,1012.4 537.9,1019.1 541.4,1023.7 C545.0,1028.2 547.2,1035.1 551.6,1035.3 C555.9,1035.5 562.8,1026.8 567.4,1024.7 C572.0,1022.6 575.7,1022.2 579.1,1022.6 C582.4,1022.9 584.3,1026.8 587.5,1026.8 C590.7,1026.8 594.6,1020.8 598.1,1022.6 C601.6,1024.4 603.9,1033.9 608.6,1037.4 C613.4,1040.9 623.6,1042.7 626.6,1043.7"/>
<path d="M355.0,1018.4 C357.1,1018.7 362.4,1019.8 367.7,1020.5 C373.0,1021.2 381.6,1021.9 386.7,1022.6 C391.8,1023.3 394.5,1023.3 398.3,1024.7 C402.2,1026.1 405.6,1028.6 410.0,1031.1 C414.4,1033.5 419.9,1037.0 424.8,1039.5 C429.6,1042.0 433.8,1044.8 439.1,1045.8 C444.4,1046.9 451.5,1044.1 456.5,1045.8 C461.5,1047.6 465.4,1053.2 469.1,1056.4 C472.8,1059.6 475.1,1065.6 478.7,1064.9 C482.2,1064.2 486.2,1056.1 490.3,1052.2 C494.3,1048.3 498.7,1043.7 503.0,1041.6 C507.2,1039.5 511.4,1039.9 515.6,1039.5 C519.9,1039.2 524.0,1037.7 528.3,1039.5 C532.6,1041.3 537.2,1049.7 541.4,1050.1 C545.7,1050.4 549.4,1043.4 553.7,1041.6 C558.0,1039.9 563.2,1039.7 567.4,1039.5 C571.7,1039.3 575.0,1039.9 579.1,1040.6 C583.1,1041.3 586.8,1042.5 591.7,1043.7 C596.7,1045.0 602.8,1047.6 608.6,1048.0 C614.5,1048.3 623.6,1046.2 626.6,1045.8"/>
<path d="M355.0,1081.8 C357.1,1076.1 363.8,1055.4 367.7,1048.0 C371.6,1040.6 375.1,1037.7 378.3,1037.4 C381.4,1037.0 383.4,1041.3 386.7,1045.8 C390.1,1050.4 394.5,1062.4 398.3,1064.9 C402.2,1067.3 405.6,1062.8 410.0,1060.6 C414.4,1058.5 419.9,1054.7 424.8,1052.2 C429.6,1049.7 434.9,1046.9 439.1,1045.8 C443.4,1044.8 445.8,1044.8 450.1,1045.8 C454.4,1046.9 460.2,1049.0 464.9,1052.2 C469.7,1055.4 474.4,1063.5 478.7,1064.9 C482.9,1066.3 486.2,1062.8 490.3,1060.6 C494.3,1058.5 498.7,1053.9 503.0,1052.2 C507.2,1050.4 511.4,1050.1 515.6,1050.1 C519.9,1050.1 524.0,1052.2 528.3,1052.2 C532.6,1052.2 537.2,1048.7 541.4,1050.1 C545.7,1051.5 549.4,1058.2 553.7,1060.6 C558.0,1063.1 563.2,1065.9 567.4,1064.9 C571.7,1063.8 575.7,1056.4 579.1,1054.3 C582.4,1052.2 584.3,1051.1 587.5,1052.2 C590.7,1053.2 594.6,1058.2 598.1,1060.6 C601.6,1063.1 603.9,1066.3 608.6,1067.0 C613.4,1067.7 623.6,1065.2 626.6,1064.9"/>
<path d="M355.0,1079.7 C356.4,1077.2 359.9,1069.4 363.5,1064.9 C367.0,1060.3 371.9,1054.3 376.1,1052.2 C380.4,1050.1 385.1,1050.4 388.8,1052.2 C392.5,1053.9 394.8,1059.2 398.3,1062.8 C401.9,1066.3 405.6,1072.3 410.0,1073.3 C414.4,1074.4 419.9,1070.5 424.8,1069.1 C429.6,1067.7 435.3,1065.6 439.1,1064.9 C443.0,1064.2 444.4,1063.5 448.0,1064.9 C451.6,1066.3 457.2,1069.1 460.7,1073.3 C464.2,1077.6 466.1,1088.1 469.1,1090.2 C472.1,1092.3 475.1,1087.8 478.7,1086.0 C482.2,1084.2 486.2,1082.8 490.3,1079.7 C494.3,1076.5 498.7,1069.6 503.0,1067.0 C507.2,1064.3 511.4,1064.3 515.6,1063.8 C519.9,1063.3 524.0,1063.6 528.3,1063.8 C532.6,1064.0 537.2,1062.6 541.4,1064.9 C545.7,1067.2 549.4,1074.7 553.7,1077.6 C558.0,1080.4 563.2,1081.4 567.4,1081.8 C571.7,1082.1 575.7,1079.3 579.1,1079.7 C582.4,1080.0 584.3,1083.5 587.5,1083.9 C590.7,1084.2 594.6,1080.7 598.1,1081.8 C601.6,1082.8 603.9,1089.2 608.6,1090.2 C613.4,1091.3 623.6,1088.5 626.6,1088.1"/>
<path d="M355.0,1090.2 C356.8,1090.9 362.0,1094.5 365.6,1094.5 C369.1,1094.5 372.3,1092.3 376.1,1090.2 C380.0,1088.1 385.1,1083.9 388.8,1081.8 C392.5,1079.7 394.8,1077.9 398.3,1077.6 C401.9,1077.2 405.6,1080.4 410.0,1079.7 C414.4,1079.0 419.9,1075.1 424.8,1073.3 C429.6,1071.6 434.9,1069.4 439.1,1069.1 C443.4,1068.7 445.8,1068.7 450.1,1071.2 C454.4,1073.7 460.2,1081.1 464.9,1083.9 C469.7,1086.7 474.4,1087.8 478.7,1088.1 C482.9,1088.5 486.2,1087.1 490.3,1086.0 C494.3,1085.0 498.7,1083.2 503.0,1081.8 C507.2,1080.4 511.4,1078.6 515.6,1077.6 C519.9,1076.5 524.0,1077.6 528.3,1075.4 C532.6,1073.3 539.2,1066.6 541.4,1064.9"/>
<path d="M519.9,1107.1 C521.3,1104.3 525.5,1095.2 528.3,1090.2 C531.1,1085.3 534.6,1080.2 536.8,1077.6 C539.0,1074.9 539.3,1073.3 541.4,1074.4 C543.5,1075.4 546.7,1080.2 549.5,1083.9 C552.2,1087.6 555.1,1092.7 557.9,1096.6 C560.7,1100.5 565.0,1105.4 566.4,1107.1"/>
<path d="M355.0,1102.9 C357.1,1102.2 364.2,1098.7 367.7,1098.7 C371.2,1098.7 372.6,1102.2 376.1,1102.9 C379.7,1103.6 385.1,1102.2 388.8,1102.9 C392.5,1103.6 393.4,1107.1 398.3,1107.1 C403.3,1107.1 411.6,1103.6 418.4,1102.9 C425.2,1102.2 432.8,1103.6 439.1,1102.9 C445.5,1102.2 451.5,1098.7 456.5,1098.7 C461.5,1098.7 465.4,1101.9 469.1,1102.9 C472.8,1104.0 475.1,1105.0 478.7,1105.0 C482.2,1105.0 486.2,1103.6 490.3,1102.9 C494.3,1102.2 498.0,1102.2 503.0,1100.8 C507.9,1099.4 513.5,1099.7 519.9,1094.5 C526.3,1089.2 537.8,1073.3 541.4,1069.1"/>
<path d="M567.4,1064.9 C569.4,1066.6 575.7,1072.6 579.1,1075.4 C582.4,1078.3 584.3,1081.4 587.5,1081.8 C590.7,1082.1 594.6,1076.8 598.1,1077.6 C601.6,1078.3 603.9,1085.3 608.6,1086.0 C613.4,1086.7 623.6,1082.5 626.6,1081.8"/>
</g>
<clipPath id="clipcg6"><rect x="0" y="990" width="251.6" height="1010"/></clipPath>
<g clip-path="url(#clipcg6)">
<path d="M130.0,1011.5 C131.0,1010.9 133.3,1009.5 136.0,1008.0 C138.7,1006.5 143.7,1003.0 146.0,1002.5 C148.3,1002.0 148.6,1002.9 150.0,1005.0 C151.3,1007.1 152.8,1012.0 154.0,1015.0 C155.1,1018.0 156.5,1021.6 157.0,1023.0"/>
<path d="M143.0,1051.9 C143.8,1050.3 146.3,1045.6 148.0,1041.9 C149.6,1038.3 151.3,1033.1 153.0,1030.0 C154.6,1026.8 156.3,1025.5 158.0,1023.0 C159.6,1020.5 161.3,1017.1 163.0,1015.0 C164.6,1012.8 166.7,1011.1 168.0,1010.0 C169.3,1008.9 169.1,1008.7 170.8,1008.5 C172.4,1008.2 175.1,1008.1 178.0,1008.5 C180.8,1008.9 184.6,1009.6 187.9,1011.0 C191.3,1012.4 194.8,1014.8 197.9,1017.0 C201.1,1019.1 204.8,1022.6 206.9,1024.0 C209.0,1025.3 209.1,1024.9 210.4,1025.0 C211.7,1025.0 212.8,1026.1 214.9,1024.5 C217.0,1022.8 220.4,1018.7 222.9,1015.0 C225.4,1011.2 228.1,1005.5 229.9,1002.0 C231.7,998.5 232.9,996.0 233.9,994.0 C234.9,992.0 235.6,990.7 235.9,990.0"/>
<path d="M166.0,1013.0 C166.8,1013.5 168.8,1015.8 170.8,1016.0 C172.8,1016.1 175.1,1014.6 178.0,1014.0 C180.8,1013.4 184.6,1011.8 187.9,1012.5 C191.3,1013.1 194.9,1016.1 197.9,1018.0 C200.9,1019.9 203.8,1022.8 205.9,1024.0 C208.0,1025.1 208.8,1025.0 210.4,1025.0 C212.1,1025.0 213.7,1026.0 215.9,1024.0 C218.2,1022.0 221.4,1017.0 223.9,1013.0 C226.4,1009.0 229.1,1002.7 230.9,1000.0 C232.7,997.3 233.2,997.2 234.9,997.0 C236.6,996.8 238.1,998.3 240.9,999.0 C243.7,999.7 249.0,1000.7 251.9,1001.0 C254.7,1001.3 257.0,1001.0 258.0,1001.0"/>
<path d="M146.0,990.0 C146.8,991.0 149.0,994.3 151.0,996.0 C153.0,997.7 155.5,999.2 158.0,1000.0 C160.5,1000.8 163.8,1000.7 166.0,1001.0 C168.1,1001.2 169.1,1001.5 170.8,1001.5 C172.4,1001.5 173.8,1002.2 176.0,1001.0 C178.1,999.7 181.9,995.8 183.9,994.0 C185.9,992.2 187.3,990.7 187.9,990.0"/>
<path d="M151.0,990.0 C151.8,990.8 154.0,993.5 156.0,995.0 C158.0,996.5 160.5,998.2 163.0,999.0 C165.4,999.8 169.5,999.8 170.8,1000.0"/>
<path d="M170.8,1052.9 C172.3,1051.9 176.8,1048.4 179.9,1046.9 C183.1,1045.5 186.6,1044.9 189.9,1044.4 C193.3,1044.0 197.1,1044.0 199.9,1044.4 C202.8,1044.9 205.2,1046.1 206.9,1046.9 C208.7,1047.8 208.9,1048.6 210.4,1049.4 C211.9,1050.3 214.3,1051.4 215.9,1051.9 C217.5,1052.4 217.9,1053.1 219.9,1052.4 C221.9,1051.8 224.9,1049.7 227.9,1047.9 C230.9,1046.2 234.6,1043.2 237.9,1041.9 C241.2,1040.7 244.5,1040.8 247.9,1040.4 C251.2,1040.1 256.3,1040.0 258.0,1040.0"/>
<path d="M170.8,1058.9 C172.0,1059.8 175.8,1063.3 178.0,1063.9 C180.1,1064.6 180.9,1064.1 183.9,1062.9 C186.9,1061.8 192.3,1058.3 195.9,1056.9 C199.6,1055.6 203.5,1056.1 205.9,1054.9 C208.3,1053.8 208.9,1051.4 210.4,1049.9 C211.9,1048.4 212.8,1047.8 214.9,1045.9 C217.0,1044.1 219.9,1040.9 222.9,1039.0 C225.9,1037.0 228.7,1035.3 232.9,1034.0 C237.1,1032.6 243.7,1031.6 247.9,1031.0 C252.1,1030.3 256.3,1030.1 258.0,1030.0"/>
<path d="M130.0,1044.4 C131.0,1044.7 134.0,1045.0 136.0,1045.9 C138.0,1046.9 140.0,1049.3 142.0,1049.9 C144.0,1050.6 146.0,1050.4 148.0,1049.9 C150.0,1049.4 152.0,1047.5 154.0,1046.9 C156.0,1046.4 158.0,1045.9 160.0,1046.4 C162.0,1046.9 164.2,1048.7 166.0,1049.9 C167.8,1051.2 170.0,1053.3 170.8,1053.9"/>
<path d="M130.0,1049.9 C131.0,1050.6 133.8,1052.8 136.0,1053.9 C138.2,1055.1 141.0,1056.9 143.0,1056.9 C145.0,1056.9 146.0,1054.9 148.0,1053.9 C150.0,1052.9 152.8,1050.1 155.0,1050.9 C157.1,1051.8 158.8,1056.9 161.0,1058.9 C163.1,1060.9 166.3,1062.9 168.0,1062.9 C169.6,1062.9 170.3,1059.6 170.8,1058.9"/>
<path d="M130.0,1063.9 C131.3,1063.6 135.0,1062.6 138.0,1061.9 C141.0,1061.3 144.7,1059.9 148.0,1059.9 C151.3,1059.9 154.6,1061.3 158.0,1061.9 C161.3,1062.6 165.0,1063.5 168.0,1063.9 C171.0,1064.3 173.6,1064.8 176.0,1064.4 C178.3,1064.1 180.9,1062.3 181.9,1061.9"/>
<path d="M130.0,1077.9 C131.3,1077.7 135.3,1078.7 138.0,1076.9 C140.7,1075.1 143.5,1068.8 146.0,1066.9 C148.5,1065.1 150.6,1065.4 153.0,1065.9 C155.3,1066.4 157.8,1067.9 160.0,1069.9 C162.1,1071.9 164.3,1075.4 166.0,1077.9 C167.6,1080.4 168.3,1083.9 170.0,1084.9 C171.6,1085.9 174.0,1084.0 176.0,1083.9 C178.0,1083.8 179.3,1085.1 181.9,1084.4 C184.6,1083.7 188.6,1082.0 191.9,1079.9 C195.3,1077.8 199.3,1074.5 201.9,1071.9 C204.6,1069.3 206.5,1065.8 207.9,1064.4 C209.3,1063.1 208.8,1064.3 210.4,1063.9 C212.1,1063.5 215.0,1062.3 217.9,1061.9 C220.8,1061.5 224.6,1061.6 227.9,1061.4 C231.2,1061.3 234.6,1060.5 237.9,1060.9 C241.2,1061.3 245.5,1063.3 247.9,1063.9 C250.2,1064.6 250.2,1065.6 251.9,1064.9 C253.6,1064.3 257.0,1060.8 258.0,1059.9"/>
<path d="M130.0,1088.9 C131.3,1089.1 136.0,1091.2 138.0,1089.9 C140.0,1088.6 140.8,1082.2 142.0,1080.9 C143.2,1079.6 143.5,1080.4 145.0,1081.9 C146.5,1083.4 149.0,1087.7 151.0,1089.9 C153.0,1092.1 154.8,1094.2 157.0,1094.9 C159.1,1095.6 161.8,1095.4 164.0,1093.9 C166.1,1092.4 167.6,1086.4 170.0,1085.9 C172.3,1085.4 175.6,1089.4 178.0,1090.9 C180.3,1092.4 181.9,1094.9 183.9,1094.9 C185.9,1094.9 187.6,1092.9 189.9,1090.9 C192.3,1088.9 195.3,1085.4 197.9,1082.9 C200.6,1080.4 203.8,1077.2 205.9,1075.9 C208.0,1074.7 208.4,1076.1 210.4,1075.4 C212.4,1074.7 215.7,1072.3 217.9,1071.9 C220.2,1071.5 221.4,1071.6 223.9,1072.9 C226.4,1074.2 229.7,1077.1 232.9,1079.9 C236.1,1082.7 239.9,1086.1 242.9,1089.9 C245.9,1093.7 249.4,1100.6 250.9,1102.9 C252.4,1105.2 251.7,1103.7 251.9,1103.9"/>
<path d="M210.4,1063.9 C211.7,1064.3 215.0,1065.1 217.9,1065.9 C220.8,1066.8 224.6,1068.4 227.9,1068.9 C231.2,1069.4 234.6,1069.4 237.9,1068.9 C241.2,1068.4 245.5,1066.6 247.9,1065.9 C250.2,1065.3 251.2,1065.1 251.9,1064.9"/>
<path d="M210.4,1075.9 C211.7,1076.2 215.0,1077.2 217.9,1077.9 C220.8,1078.6 224.9,1078.9 227.9,1079.9 C230.9,1080.9 233.4,1081.7 235.9,1083.9 C238.4,1086.1 240.6,1089.7 242.9,1092.9 C245.2,1096.1 248.7,1101.2 249.9,1102.9"/>
<path d="M130.0,1105.9 C130.7,1104.2 132.7,1097.9 134.0,1095.9 C135.3,1093.9 135.7,1093.4 138.0,1093.9 C140.3,1094.4 144.7,1097.6 148.0,1098.9 C151.3,1100.2 154.6,1100.6 158.0,1101.9 C161.3,1103.2 166.3,1106.1 168.0,1106.9"/>
<path d="M130.0,1098.9 C131.0,1098.2 133.8,1095.2 136.0,1094.9 C138.2,1094.6 140.2,1096.1 143.0,1096.9 C145.8,1097.7 150.0,1098.7 153.0,1099.9 C156.0,1101.1 158.5,1102.7 161.0,1103.9 C163.5,1105.1 166.8,1106.4 168.0,1106.9"/>
<path d="M187.9,1106.9 C189.3,1105.1 193.3,1100.1 195.9,1095.9 C198.6,1091.7 201.9,1085.1 203.9,1081.9 C205.9,1078.7 206.8,1077.9 207.9,1076.9 C209.0,1075.9 210.0,1076.1 210.4,1075.9"/>
<path d="M195.9,1106.9 C196.9,1104.4 199.9,1096.6 201.9,1091.9 C203.9,1087.2 206.5,1081.4 207.9,1078.9 C209.3,1076.4 210.0,1077.2 210.4,1076.9"/>
<path d="M157.0,1038.0 C157.8,1039.8 160.5,1045.3 162.0,1048.9 C163.5,1052.6 164.8,1056.4 166.0,1059.9 C167.1,1063.4 168.3,1065.8 169.0,1069.9 C169.6,1074.1 169.6,1081.6 170.0,1084.9 C170.3,1088.2 170.8,1089.1 171.0,1089.9"/>
</g>
<clipPath id="clipcg7"><rect x="251.6" y="990" width="120.4" height="1010"/></clipPath>
<g clip-path="url(#clipcg7)">
<path d="M252.0,1003.0 C252.7,1002.7 254.8,1001.2 256.0,1001.0 C257.2,1000.8 257.8,1000.5 259.0,1002.0 C260.2,1003.5 261.5,1007.6 263.0,1010.0 C264.5,1012.3 265.8,1015.3 268.0,1016.0 C270.1,1016.6 273.5,1014.7 276.0,1014.0 C278.5,1013.2 280.4,1011.9 283.0,1011.5 C285.5,1011.1 288.3,1011.6 291.2,1011.5 C294.0,1011.4 297.3,1011.0 300.0,1011.0 C302.6,1011.0 304.9,1010.8 306.9,1011.5 C308.9,1012.1 310.2,1013.6 311.9,1015.0 C313.7,1016.3 316.1,1018.8 317.4,1019.5 C318.8,1020.1 318.2,1020.1 319.9,1019.0 C321.7,1017.9 325.4,1014.7 327.9,1013.0 C330.4,1011.2 332.9,1009.0 334.9,1008.5 C336.9,1008.0 338.1,1009.1 339.9,1010.0 C341.7,1010.9 343.7,1013.0 345.9,1014.0 C348.1,1015.0 350.8,1015.6 352.9,1016.0 C355.0,1016.3 356.4,1016.1 358.4,1016.0 C360.4,1015.8 361.3,1015.5 364.9,1015.0 C368.5,1014.5 377.5,1013.3 380.0,1013.0"/>
<path d="M317.4,1020.0 C318.5,1019.8 321.2,1019.6 323.9,1019.0 C326.7,1018.3 330.9,1016.1 333.9,1016.0 C336.9,1015.8 339.2,1017.3 341.9,1018.0 C344.6,1018.6 347.2,1019.6 349.9,1020.0 C352.6,1020.3 356.1,1019.6 358.4,1020.0 C360.7,1020.3 362.0,1021.1 363.9,1022.0 C365.8,1022.8 368.2,1024.5 369.9,1025.0 C371.5,1025.4 372.2,1025.0 373.9,1024.5 C375.6,1024.0 379.0,1022.4 380.0,1022.0"/>
<path d="M262.0,990.0 C262.8,991.3 265.2,995.9 267.0,998.0 C268.8,1000.1 270.8,1001.3 273.0,1002.5 C275.1,1003.7 277.8,1003.9 280.0,1005.0 C282.1,1006.1 284.1,1007.9 286.0,1009.0 C287.8,1010.1 290.3,1011.1 291.2,1011.5"/>
<path d="M251.0,1009.0 C251.5,1009.5 252.8,1009.5 254.0,1012.0 C255.2,1014.5 256.7,1021.0 258.0,1024.0 C259.3,1027.0 260.0,1028.0 262.0,1030.0 C264.0,1032.0 267.0,1034.1 270.0,1036.0 C273.0,1037.8 276.4,1039.8 280.0,1040.9 C283.5,1042.1 288.3,1042.2 291.2,1042.9 C294.0,1043.7 295.3,1044.8 297.0,1045.4 C298.6,1046.1 299.5,1047.9 300.9,1046.9 C302.4,1046.0 304.1,1043.1 305.9,1040.0 C307.8,1036.8 310.0,1031.3 311.9,1028.0 C313.9,1024.6 316.5,1021.3 317.4,1020.0"/>
<path d="M250.0,1031.0 C251.0,1030.9 254.0,1030.3 256.0,1030.5 C258.0,1030.6 259.7,1030.9 262.0,1032.0 C264.3,1033.0 267.6,1035.3 270.0,1037.0 C272.3,1038.6 273.8,1040.5 276.0,1041.9 C278.1,1043.4 280.4,1044.6 283.0,1045.4 C285.5,1046.3 288.8,1046.4 291.2,1046.9 C293.5,1047.5 294.8,1047.6 297.0,1048.9 C299.1,1050.3 301.4,1052.8 303.9,1054.9 C306.4,1057.1 309.7,1060.3 311.9,1061.9 C314.2,1063.5 315.1,1064.3 317.4,1064.4 C319.8,1064.6 323.0,1062.7 325.9,1062.9 C328.8,1063.2 331.8,1064.6 334.9,1065.9 C338.1,1067.3 341.0,1068.9 344.9,1070.9 C348.8,1072.9 355.9,1076.1 358.4,1077.9 C360.9,1079.7 359.6,1081.2 359.9,1081.9"/>
<path d="M250.0,1041.9 C251.3,1041.7 255.3,1040.4 258.0,1040.4 C260.7,1040.4 264.0,1041.4 266.0,1041.9 C268.0,1042.5 268.3,1043.3 270.0,1043.9 C271.6,1044.6 273.5,1045.3 276.0,1045.9 C278.5,1046.6 282.4,1047.6 285.0,1047.9 C287.5,1048.3 290.1,1047.9 291.2,1047.9"/>
<path d="M250.0,1032.0 C251.3,1032.5 255.5,1033.3 258.0,1035.0 C260.5,1036.6 263.0,1040.0 265.0,1041.9 C267.0,1043.9 268.1,1044.8 270.0,1046.9 C271.8,1049.1 273.8,1052.3 276.0,1054.9 C278.1,1057.6 280.4,1061.4 283.0,1062.9 C285.5,1064.4 288.8,1064.1 291.2,1063.9 C293.5,1063.8 295.2,1062.9 297.0,1061.9 C298.8,1060.9 300.3,1058.3 301.9,1057.9 C303.6,1057.6 305.3,1058.9 306.9,1059.9 C308.6,1060.9 310.2,1063.1 311.9,1063.9 C313.7,1064.8 315.1,1064.3 317.4,1064.9 C319.8,1065.5 323.0,1066.6 325.9,1067.4 C328.8,1068.3 331.8,1068.8 334.9,1069.9 C338.1,1071.0 341.0,1072.1 344.9,1073.9 C348.8,1075.7 356.1,1079.7 358.4,1080.9"/>
<path d="M250.0,1041.9 C251.0,1042.3 254.0,1042.9 256.0,1043.9 C258.0,1044.9 260.0,1046.3 262.0,1047.9 C264.0,1049.6 266.0,1051.9 268.0,1053.9 C270.0,1055.9 272.0,1058.3 274.0,1059.9 C276.0,1061.6 278.0,1063.2 280.0,1063.9 C282.0,1064.7 284.1,1064.4 286.0,1064.4 C287.8,1064.4 290.3,1064.0 291.2,1063.9"/>
<path d="M250.0,1063.9 C251.0,1063.1 254.2,1060.1 256.0,1058.9 C257.8,1057.8 259.3,1056.9 261.0,1056.9 C262.7,1056.9 264.2,1057.4 266.0,1058.9 C267.8,1060.4 270.0,1063.4 272.0,1065.9 C274.0,1068.4 276.1,1071.6 278.0,1073.9 C279.8,1076.2 281.3,1077.7 283.0,1079.9 C284.6,1082.1 286.6,1085.3 288.0,1086.9 C289.3,1088.5 289.5,1088.7 291.2,1089.4 C292.8,1090.1 295.8,1090.5 298.0,1090.9 C300.1,1091.3 301.9,1092.1 303.9,1091.9 C305.9,1091.7 307.7,1090.8 309.9,1089.9 C312.2,1089.0 314.9,1087.1 317.4,1086.4 C319.9,1085.7 322.0,1085.5 324.9,1085.9 C327.8,1086.3 331.6,1087.9 334.9,1088.9 C338.2,1089.9 342.1,1091.3 344.9,1091.9 C347.7,1092.5 349.7,1092.5 351.9,1092.4 C354.1,1092.3 356.2,1091.3 358.4,1091.4 C360.6,1091.5 363.0,1092.5 364.9,1092.9 C366.8,1093.3 367.4,1094.7 369.9,1093.9 C372.4,1093.1 378.3,1088.9 380.0,1087.9"/>
<path d="M252.0,1065.9 C252.7,1066.8 254.3,1068.9 256.0,1070.9 C257.7,1072.9 260.0,1075.8 262.0,1077.9 C264.0,1080.0 265.8,1082.2 268.0,1083.4 C270.1,1084.6 272.5,1085.5 275.0,1084.9 C277.5,1084.3 280.3,1081.0 283.0,1079.9 C285.7,1078.8 288.3,1078.6 291.2,1078.4 C294.0,1078.2 297.2,1078.3 300.0,1078.9 C302.7,1079.5 305.0,1080.6 307.9,1081.9 C310.9,1083.2 314.4,1085.4 317.4,1086.9 C320.4,1088.4 323.0,1089.4 325.9,1090.9 C328.8,1092.4 331.8,1094.2 334.9,1095.9 C338.1,1097.6 342.4,1100.2 344.9,1100.9 C347.4,1101.6 348.1,1101.2 349.9,1099.9 C351.7,1098.6 354.5,1094.3 355.9,1092.9 C357.3,1091.5 358.0,1091.6 358.4,1091.4"/>
<path d="M256.0,1059.9 C257.2,1059.8 260.7,1057.9 263.0,1058.9 C265.3,1059.9 267.8,1062.9 270.0,1065.9 C272.1,1068.9 274.1,1073.9 276.0,1076.9 C277.8,1079.9 279.3,1081.9 281.0,1083.9 C282.6,1085.9 284.3,1087.9 286.0,1088.9 C287.7,1089.9 290.3,1089.7 291.2,1089.9"/>
<path d="M250.0,1102.9 C251.0,1102.4 253.5,1100.7 256.0,1099.9 C258.5,1099.1 262.2,1099.7 265.0,1097.9 C267.8,1096.1 271.1,1090.5 273.0,1088.9 C274.8,1087.3 274.8,1087.2 276.0,1088.4 C277.1,1089.6 278.8,1093.5 280.0,1095.9 C281.1,1098.3 282.1,1101.1 283.0,1102.9 C283.8,1104.7 284.6,1106.2 285.0,1106.9"/>
<path d="M250.0,1100.9 C251.3,1101.1 255.3,1102.3 258.0,1101.9 C260.7,1101.5 263.3,1098.7 266.0,1098.4 C268.6,1098.1 271.3,1099.5 274.0,1099.9 C276.6,1100.3 279.1,1100.4 282.0,1100.9 C284.8,1101.4 288.8,1102.9 291.2,1102.9 C293.5,1102.9 294.0,1101.7 296.0,1100.9 C297.9,1100.1 300.6,1098.1 302.9,1097.9 C305.3,1097.7 307.5,1099.1 309.9,1099.9 C312.4,1100.7 316.2,1102.4 317.4,1102.9"/>
<path d="M317.4,1102.9 C318.2,1102.4 320.0,1100.9 321.9,1099.9 C323.8,1098.9 326.8,1096.9 328.9,1096.9 C331.1,1096.9 332.8,1098.4 334.9,1099.9 C337.1,1101.4 340.4,1104.7 341.9,1105.9 C343.4,1107.0 343.6,1106.7 343.9,1106.9"/>
<path d="M358.4,1077.9 C359.3,1075.2 362.0,1067.3 363.9,1061.9 C365.8,1056.6 368.0,1049.8 369.9,1045.9 C371.7,1042.1 373.2,1040.4 374.9,1039.0 C376.6,1037.5 379.1,1037.3 380.0,1037.0"/>
<path d="M358.4,1079.9 C359.3,1077.9 362.0,1071.4 363.9,1067.9 C365.8,1064.4 367.9,1061.3 369.9,1058.9 C371.9,1056.6 374.2,1054.9 375.9,1053.9 C377.6,1052.9 379.3,1053.1 380.0,1052.9"/>
<path d="M358.4,1081.9 C359.1,1081.6 361.0,1081.2 362.9,1079.9 C364.8,1078.6 367.7,1075.7 369.9,1073.9 C372.0,1072.1 374.2,1070.3 375.9,1068.9 C377.6,1067.6 379.3,1066.4 380.0,1065.9"/>
<path d="M358.4,1091.4 C359.0,1092.1 360.3,1094.8 361.9,1095.9 C363.5,1097.0 365.9,1097.7 367.9,1097.9 C369.9,1098.1 371.9,1097.2 373.9,1096.9 C375.9,1096.6 379.0,1096.1 380.0,1095.9"/>
<path d="M358.4,1092.9 C359.1,1094.1 361.0,1098.4 362.9,1099.9 C364.8,1101.4 367.0,1101.9 369.9,1101.9 C372.7,1101.9 378.3,1100.2 380.0,1099.9"/>
<path d="M295.0,1106.9 C296.6,1106.4 301.2,1104.6 304.9,1103.9 C308.7,1103.2 315.4,1103.1 317.4,1102.9"/>
</g>
<clipPath id="clipcg8"><rect x="372.0" y="990" width="123.0" height="1010"/></clipPath>
<g clip-path="url(#clipcg8)">
<path d="M370.0,1015.0 C371.3,1014.7 375.3,1014.0 378.0,1013.5 C380.7,1013.0 383.5,1011.9 386.0,1012.0 C388.5,1012.1 390.9,1013.4 393.0,1014.0 C395.0,1014.6 396.9,1015.5 398.3,1015.5 C399.6,1015.5 399.9,1015.4 401.0,1014.0 C402.1,1012.6 403.5,1010.0 405.0,1007.0 C406.5,1004.0 408.8,998.8 410.0,996.0 C411.1,993.2 411.6,991.0 412.0,990.0"/>
<path d="M370.0,1017.0 C371.0,1016.7 373.3,1016.1 376.0,1015.5 C378.7,1014.9 383.0,1013.5 386.0,1013.5 C389.0,1013.5 391.9,1015.0 394.0,1015.5 C396.0,1016.0 397.6,1016.3 398.3,1016.5"/>
<path d="M370.0,1023.0 C371.0,1023.2 373.8,1024.8 376.0,1024.5 C378.2,1024.1 380.7,1021.4 383.0,1021.0 C385.3,1020.6 387.4,1021.3 390.0,1022.0 C392.5,1022.6 396.1,1023.6 398.3,1025.0 C400.4,1026.3 401.4,1028.6 403.0,1030.0 C404.6,1031.3 405.1,1031.5 408.0,1033.0 C410.8,1034.5 416.3,1037.1 420.0,1039.0 C423.6,1040.8 426.8,1042.8 429.9,1043.9 C433.1,1045.1 436.3,1044.9 438.9,1045.9 C441.6,1046.9 443.8,1048.8 445.9,1049.9 C448.1,1051.1 449.9,1052.3 451.9,1052.9 C453.9,1053.6 455.7,1053.1 457.9,1053.9 C460.1,1054.8 462.9,1056.6 464.9,1057.9 C466.9,1059.3 467.6,1060.8 469.9,1061.9 C472.2,1063.1 476.2,1064.9 478.7,1064.9 C481.2,1064.9 482.5,1063.6 484.9,1061.9 C487.2,1060.3 490.4,1057.9 492.9,1054.9 C495.4,1051.9 498.8,1045.8 500.0,1043.9"/>
<path d="M370.0,1021.0 C371.0,1020.8 373.5,1020.0 376.0,1020.0 C378.5,1020.0 382.2,1020.3 385.0,1021.0 C387.8,1021.6 390.8,1023.1 393.0,1024.0 C395.2,1024.9 396.6,1025.1 398.3,1026.5 C399.9,1027.8 402.2,1031.0 403.0,1032.0"/>
<path d="M398.3,1023.0 C399.4,1022.8 403.3,1022.1 405.0,1022.0 C406.6,1021.8 407.1,1022.8 408.0,1022.0 C408.8,1021.1 409.0,1019.6 410.0,1017.0 C411.0,1014.3 412.6,1009.5 414.0,1006.0 C415.3,1002.5 416.6,998.7 418.0,996.0 C419.3,993.3 421.3,991.0 421.9,990.0"/>
<path d="M370.0,1058.9 C370.7,1056.9 372.5,1050.6 374.0,1046.9 C375.5,1043.3 377.3,1038.0 379.0,1037.0 C380.7,1036.0 382.3,1038.8 384.0,1040.9 C385.7,1043.1 387.5,1046.9 389.0,1049.9 C390.5,1052.9 391.4,1056.6 393.0,1058.9 C394.5,1061.3 396.8,1062.9 398.3,1063.9 C399.8,1064.9 400.0,1065.6 402.0,1064.9 C403.9,1064.3 407.0,1061.8 410.0,1059.9 C413.0,1058.1 416.6,1055.6 420.0,1053.9 C423.3,1052.3 426.8,1051.2 429.9,1049.9 C433.1,1048.7 437.4,1047.0 438.9,1046.4"/>
<path d="M370.0,1061.9 C371.0,1060.6 374.0,1055.6 376.0,1053.9 C378.0,1052.3 380.0,1052.3 382.0,1051.9 C384.0,1051.6 387.0,1051.9 388.0,1051.9"/>
<path d="M370.0,1069.9 C371.0,1069.3 373.7,1067.6 376.0,1065.9 C378.3,1064.3 381.7,1062.6 384.0,1059.9 C386.3,1057.3 388.3,1052.6 390.0,1049.9 C391.6,1047.3 392.6,1045.6 394.0,1043.9 C395.4,1042.3 396.8,1041.1 398.3,1040.0 C399.8,1038.8 401.7,1038.3 403.0,1037.0 C404.2,1035.6 405.1,1033.3 406.0,1032.0 C406.8,1030.6 406.5,1029.1 408.0,1029.0 C409.5,1028.8 412.1,1029.6 415.0,1031.0 C417.8,1032.3 421.8,1035.0 424.9,1037.0 C428.1,1039.0 431.6,1041.4 433.9,1042.9 C436.3,1044.5 436.9,1045.9 438.9,1046.4 C440.9,1046.9 443.1,1046.2 445.9,1045.9 C448.8,1045.7 453.3,1044.8 455.9,1044.9 C458.6,1045.1 459.6,1045.1 461.9,1046.9 C464.2,1048.8 467.1,1053.1 469.9,1055.9 C472.7,1058.8 476.2,1062.1 478.7,1063.9 C481.2,1065.8 482.5,1066.9 484.9,1066.9 C487.2,1066.9 490.4,1065.1 492.9,1063.9 C495.4,1062.8 498.8,1060.6 500.0,1059.9"/>
<path d="M388.0,1051.9 C388.6,1053.3 390.3,1057.6 392.0,1059.9 C393.7,1062.3 396.1,1064.4 398.3,1065.9 C400.4,1067.4 402.4,1067.9 405.0,1068.9 C407.6,1069.9 411.5,1071.6 414.0,1071.9 C416.5,1072.3 417.6,1071.9 420.0,1070.9 C422.3,1069.9 425.6,1067.1 427.9,1065.9 C430.3,1064.8 432.1,1064.3 433.9,1063.9 C435.8,1063.5 436.6,1063.6 438.9,1063.4 C441.3,1063.3 445.6,1062.5 447.9,1062.9 C450.3,1063.3 451.1,1063.9 452.9,1065.9 C454.7,1067.9 456.9,1072.3 458.9,1074.9 C460.9,1077.6 461.6,1080.1 464.9,1081.9 C468.2,1083.7 475.4,1085.2 478.7,1085.9 C482.0,1086.6 482.5,1086.6 484.9,1085.9 C487.2,1085.2 490.4,1083.2 492.9,1081.9 C495.4,1080.6 498.8,1078.6 500.0,1077.9"/>
<path d="M370.0,1093.9 C371.0,1093.7 373.8,1094.2 376.0,1092.9 C378.2,1091.6 380.7,1088.7 383.0,1085.9 C385.3,1083.1 387.8,1078.7 390.0,1075.9 C392.1,1073.1 394.0,1070.1 396.0,1068.9 C398.0,1067.8 400.0,1068.4 402.0,1068.9 C404.0,1069.4 406.1,1070.8 408.0,1071.9 C409.8,1073.1 411.0,1074.9 413.0,1075.9 C415.0,1076.9 417.5,1078.2 420.0,1077.9 C422.4,1077.6 425.6,1075.1 427.9,1073.9 C430.3,1072.8 432.1,1071.7 433.9,1070.9 C435.8,1070.2 436.8,1069.8 438.9,1069.4 C441.1,1069.1 444.6,1068.3 446.9,1068.9 C449.3,1069.5 450.8,1070.4 452.9,1072.9 C455.1,1075.4 457.9,1080.7 459.9,1083.9 C461.9,1087.1 463.2,1090.1 464.9,1091.9 C466.6,1093.7 468.2,1095.2 469.9,1094.9 C471.6,1094.6 473.4,1091.4 474.9,1089.9 C476.4,1088.4 477.0,1085.7 478.7,1085.9 C480.4,1086.1 482.5,1089.6 484.9,1090.9 C487.2,1092.2 490.4,1093.4 492.9,1093.9 C495.4,1094.4 498.8,1093.9 500.0,1093.9"/>
<path d="M370.0,1095.9 C371.3,1095.6 375.3,1094.9 378.0,1093.9 C380.7,1092.9 383.5,1092.2 386.0,1089.9 C388.5,1087.6 390.9,1081.9 393.0,1079.9 C395.0,1077.9 396.3,1077.7 398.3,1077.9 C400.3,1078.1 402.7,1079.9 405.0,1080.9 C407.2,1081.9 409.8,1083.9 412.0,1083.9 C414.1,1083.9 415.6,1082.2 418.0,1080.9 C420.3,1079.6 423.3,1077.4 425.9,1075.9 C428.6,1074.4 431.8,1072.9 433.9,1071.9 C436.1,1070.9 438.1,1070.3 438.9,1069.9"/>
<path d="M370.0,1102.9 C371.0,1102.7 373.8,1102.4 376.0,1101.9 C378.2,1101.4 380.7,1100.1 383.0,1099.9 C385.3,1099.7 387.8,1100.1 390.0,1100.9 C392.1,1101.7 394.3,1103.9 396.0,1104.9 C397.6,1105.9 399.3,1106.6 400.0,1106.9"/>
<path d="M383.0,1106.9 C384.2,1106.1 387.8,1102.2 390.0,1101.9 C392.1,1101.6 395.0,1104.4 396.0,1104.9"/>
<path d="M410.0,1106.9 C410.8,1106.2 413.0,1103.9 415.0,1102.9 C417.0,1101.9 419.5,1101.1 421.9,1100.9 C424.4,1100.7 427.1,1101.6 429.9,1101.9 C432.8,1102.2 435.9,1103.2 438.9,1102.9 C441.9,1102.6 445.3,1100.7 447.9,1099.9 C450.6,1099.1 452.6,1097.7 454.9,1097.9 C457.2,1098.1 459.7,1099.9 461.9,1100.9 C464.1,1101.9 465.9,1103.9 467.9,1103.9 C469.9,1103.9 472.1,1101.2 473.9,1100.9 C475.7,1100.6 476.9,1101.2 478.7,1101.9 C480.5,1102.6 483.0,1104.1 484.9,1104.9 C486.7,1105.7 489.0,1106.6 489.9,1106.9"/>
<path d="M478.7,1021.0 C479.7,1020.0 482.2,1018.5 484.9,1015.0 C487.6,1011.5 492.4,1002.0 494.9,1000.0 C497.4,998.0 499.1,1002.5 500.0,1003.0"/>
<path d="M453.9,990.0 C454.9,991.7 457.9,996.7 459.9,1000.0 C461.9,1003.3 463.7,1007.1 465.9,1010.0 C468.1,1012.8 470.8,1015.3 472.9,1017.0 C475.0,1018.6 476.7,1018.8 478.7,1020.0 C480.7,1021.1 482.5,1022.6 484.9,1024.0 C487.2,1025.3 490.4,1027.3 492.9,1028.0 C495.4,1028.6 498.8,1028.0 500.0,1028.0"/>
<path d="M451.9,990.0 C452.9,991.8 455.7,997.5 457.9,1001.0 C460.1,1004.5 462.6,1008.1 464.9,1011.0 C467.2,1013.8 469.6,1016.3 471.9,1018.0 C474.2,1019.6 476.5,1019.8 478.7,1021.0 C480.9,1022.1 482.2,1024.1 484.9,1025.0 C487.6,1025.8 492.4,1026.0 494.9,1026.0 C497.4,1026.0 499.1,1025.1 500.0,1025.0"/>
<path d="M478.7,1020.0 C479.7,1019.5 482.7,1019.1 484.9,1017.0 C487.1,1014.8 490.0,1009.6 491.9,1007.0 C493.7,1004.3 494.5,1001.3 495.9,1001.0 C497.2,1000.7 499.3,1004.3 500.0,1005.0"/>
<path d="M478.7,1085.9 C479.7,1086.6 482.7,1088.7 484.9,1089.9 C487.1,1091.1 489.4,1092.4 491.9,1092.9 C494.4,1093.4 498.6,1092.9 500.0,1092.9"/>
<path d="M478.7,1065.9 C479.7,1064.9 482.5,1061.3 484.9,1059.9 C487.2,1058.6 490.4,1058.6 492.9,1057.9 C495.4,1057.3 498.8,1056.3 500.0,1055.9"/>
<path d="M478.7,1102.9 C479.7,1102.1 482.5,1100.2 484.9,1097.9 C487.2,1095.6 490.4,1090.6 492.9,1088.9 C495.4,1087.2 498.8,1088.1 500.0,1087.9"/>
</g>
<clipPath id="clipcg9"><rect x="495" y="990" width="1505" height="1010"/></clipPath>
<g clip-path="url(#clipcg9)">
<path d="M490.0,1008.0 C490.9,1006.8 493.5,1001.0 495.3,1000.6 C497.1,1000.3 498.8,1003.4 500.6,1005.9 C502.4,1008.4 504.1,1015.1 505.9,1015.5 C507.7,1015.8 509.4,1010.7 511.2,1008.0 C513.0,1005.4 514.7,1001.7 516.5,999.5 C518.3,997.4 520.1,994.6 521.8,995.3 C523.6,996.0 525.4,1000.8 527.1,1003.8 C528.9,1006.8 530.7,1010.5 532.4,1013.3 C534.2,1016.2 536.2,1018.8 537.7,1020.8 C539.2,1022.7 540.8,1024.3 541.4,1025.0"/>
<path d="M490.0,1009.1 C490.9,1008.0 493.5,1002.9 495.3,1002.7 C497.1,1002.6 498.8,1005.7 500.6,1008.0 C502.4,1010.3 504.1,1016.3 505.9,1016.5 C507.7,1016.7 508.7,1012.5 511.2,1009.1 C513.7,1005.7 519.2,998.5 520.8,996.4"/>
<path d="M490.0,1023.9 C491.4,1023.9 495.7,1024.1 498.5,1023.9 C501.3,1023.8 504.0,1022.9 507.0,1022.9 C510.0,1022.9 513.2,1023.6 516.5,1023.9 C519.9,1024.3 523.0,1024.8 527.1,1025.0 C531.3,1025.2 539.1,1025.0 541.4,1025.0"/>
<path d="M490.0,1026.1 C491.1,1026.3 493.9,1027.7 496.4,1027.7 C498.8,1027.7 502.0,1025.4 504.8,1026.1 C507.7,1026.7 510.5,1030.7 513.3,1031.4 C516.2,1032.1 518.6,1030.8 521.8,1030.3 C525.0,1029.8 529.2,1029.1 532.4,1028.2 C535.7,1027.3 539.9,1025.5 541.4,1025.0"/>
<path d="M541.4,1025.0 C542.4,1024.1 544.9,1021.0 547.3,1019.7 C549.7,1018.4 552.3,1017.8 555.8,1017.0 C559.2,1016.3 565.1,1016.4 568.0,1015.5 C570.8,1014.5 570.7,1013.5 572.7,1011.2 C574.8,1008.9 577.7,1004.7 580.2,1001.7 C582.6,998.7 585.6,994.6 587.6,993.2 C589.5,991.8 590.4,991.6 591.8,993.2 C593.2,994.8 594.5,999.0 596.1,1002.7 C597.7,1006.4 600.0,1012.5 601.4,1015.5 C602.8,1018.5 603.1,1020.6 604.6,1020.8 C606.0,1020.9 608.1,1018.3 609.9,1016.5 C611.6,1014.7 613.4,1011.6 615.2,1010.2 C616.9,1008.7 618.6,1008.0 620.5,1008.0 C622.3,1008.0 625.3,1009.8 626.3,1010.2"/>
<path d="M541.4,1025.0 C542.2,1026.1 544.4,1029.4 546.2,1031.4 C548.0,1033.3 550.1,1036.7 552.0,1036.7 C554.0,1036.7 555.8,1033.1 557.9,1031.4 C559.9,1029.6 562.6,1027.1 564.2,1026.1 C565.9,1025.0 566.2,1025.7 568.0,1025.0 C569.7,1024.3 572.5,1021.8 574.9,1021.8 C577.2,1021.8 579.8,1024.3 582.3,1025.0 C584.8,1025.7 587.4,1026.4 589.7,1026.1 C592.0,1025.7 594.3,1023.1 596.1,1022.9 C597.8,1022.7 598.5,1023.2 600.3,1025.0 C602.1,1026.8 604.6,1030.8 606.7,1033.5 C608.8,1036.1 610.9,1039.0 613.0,1040.9 C615.2,1042.9 617.2,1044.3 619.4,1045.2 C621.6,1046.0 625.1,1046.0 626.3,1046.2"/>
<path d="M568.0,1025.0 C569.1,1025.7 572.5,1028.4 574.9,1029.2 C577.2,1030.1 579.8,1030.2 582.3,1030.3 C584.8,1030.4 587.4,1029.8 589.7,1029.8 C592.0,1029.8 593.9,1029.9 596.1,1030.3 C598.2,1030.7 600.3,1030.8 602.4,1032.4 C604.6,1034.0 606.3,1037.4 608.8,1039.9 C611.3,1042.3 614.4,1046.4 617.3,1047.3 C620.2,1048.2 624.8,1045.5 626.3,1045.2"/>
<path d="M490.0,1053.6 C491.1,1052.4 493.7,1048.5 496.4,1046.2 C499.0,1043.9 502.6,1041.1 505.9,1039.9 C509.3,1038.6 513.0,1039.1 516.5,1038.8 C520.1,1038.4 524.1,1037.4 527.1,1037.7 C530.1,1038.1 532.2,1039.0 534.5,1040.9 C536.9,1042.9 540.3,1048.0 541.4,1049.4"/>
<path d="M490.0,1055.8 C491.4,1054.7 495.7,1051.0 498.5,1049.4 C501.3,1047.8 504.1,1046.9 507.0,1046.2 C509.8,1045.5 512.5,1045.2 515.5,1045.2 C518.5,1045.2 521.8,1045.8 525.0,1046.2 C528.2,1046.7 531.8,1047.3 534.5,1047.8 C537.3,1048.3 540.3,1049.1 541.4,1049.4"/>
<path d="M490.0,1060.0 C491.4,1059.7 495.8,1059.1 498.5,1057.9 C501.1,1056.6 503.4,1053.8 505.9,1052.6 C508.4,1051.3 510.7,1050.3 513.3,1050.5 C516.0,1050.6 519.0,1052.4 521.8,1053.6 C524.6,1054.9 528.0,1057.5 530.3,1057.9 C532.6,1058.2 533.8,1057.2 535.6,1055.8 C537.5,1054.3 540.5,1050.5 541.4,1049.4"/>
<path d="M490.0,1062.1 C491.8,1061.8 497.1,1060.5 500.6,1060.0 C504.1,1059.5 507.7,1059.7 511.2,1058.9 C514.7,1058.2 518.3,1056.8 521.8,1055.8 C525.4,1054.7 529.2,1053.6 532.4,1052.6 C535.7,1051.5 539.9,1049.9 541.4,1049.4"/>
<path d="M541.4,1049.4 C542.4,1048.3 545.2,1044.6 547.3,1043.0 C549.3,1041.4 550.2,1040.2 553.6,1039.9 C557.1,1039.5 563.5,1041.1 568.0,1040.9 C572.4,1040.7 576.4,1039.0 580.2,1038.8 C584.0,1038.6 588.1,1039.9 590.8,1039.9 C593.4,1039.9 594.1,1038.8 596.1,1038.8 C598.0,1038.8 599.8,1038.8 602.4,1039.9 C605.1,1040.9 609.0,1044.1 612.0,1045.2 C615.0,1046.2 618.1,1046.4 620.5,1046.2 C622.8,1046.0 625.3,1044.4 626.3,1044.1"/>
<path d="M541.4,1049.4 C542.4,1049.9 544.9,1051.2 547.3,1052.6 C549.7,1054.0 552.9,1056.1 555.8,1057.9 C558.6,1059.7 562.2,1062.1 564.2,1063.2 C566.3,1064.2 565.8,1065.1 568.0,1064.2 C570.1,1063.4 574.1,1059.8 577.0,1057.9 C579.9,1055.9 583.0,1053.6 585.5,1052.6 C587.9,1051.5 590.1,1051.3 591.8,1051.5 C593.6,1051.7 594.3,1052.4 596.1,1053.6 C597.8,1054.9 600.1,1057.5 602.4,1058.9 C604.7,1060.4 607.4,1061.4 609.9,1062.1 C612.3,1062.8 614.5,1063.0 617.3,1063.2 C620.0,1063.4 624.8,1063.2 626.3,1063.2"/>
<path d="M568.0,1064.2 C569.1,1063.4 572.3,1060.9 574.9,1058.9 C577.4,1057.0 580.9,1054.0 583.3,1052.6 C585.8,1051.2 587.6,1050.5 589.7,1050.5 C591.8,1050.5 594.3,1051.3 596.1,1052.6 C597.8,1053.8 598.5,1056.6 600.3,1057.9 C602.1,1059.1 603.8,1059.3 606.7,1060.0 C609.5,1060.7 614.0,1061.8 617.3,1062.1 C620.6,1062.5 624.8,1062.1 626.3,1062.1"/>
<path d="M490.0,1065.3 C491.4,1065.0 494.9,1063.7 498.5,1063.2 C502.0,1062.7 507.3,1062.3 511.2,1062.1 C515.1,1061.9 518.3,1061.9 521.8,1062.1 C525.4,1062.3 529.2,1062.8 532.4,1063.2 C535.7,1063.5 539.9,1064.1 541.4,1064.2"/>
<path d="M490.0,1081.2 C491.1,1079.8 493.7,1075.2 496.4,1072.7 C499.0,1070.3 502.6,1067.8 505.9,1066.4 C509.3,1065.0 513.0,1064.8 516.5,1064.2 C520.1,1063.7 523.0,1063.2 527.1,1063.2 C531.3,1063.2 539.1,1064.1 541.4,1064.2"/>
<path d="M490.0,1079.1 C491.4,1077.7 494.9,1072.7 498.5,1070.6 C502.0,1068.5 507.3,1067.3 511.2,1066.4 C515.1,1065.5 518.3,1065.7 521.8,1065.3 C525.4,1065.0 529.2,1064.4 532.4,1064.2 C535.7,1064.1 539.9,1064.2 541.4,1064.2"/>
<path d="M541.4,1064.2 C542.8,1064.2 546.5,1063.9 549.4,1064.2 C552.3,1064.6 555.8,1065.7 558.9,1066.4 C562.0,1067.1 564.8,1067.6 568.0,1068.5 C571.1,1069.4 574.8,1071.3 578.0,1071.7 C581.3,1072.0 584.6,1071.3 587.6,1070.6 C590.6,1069.9 593.8,1068.1 596.1,1067.4 C598.4,1066.7 599.2,1065.8 601.4,1066.4 C603.5,1066.9 606.1,1068.8 608.8,1070.6 C611.4,1072.4 614.4,1075.7 617.3,1077.0 C620.2,1078.2 624.8,1077.9 626.3,1078.0"/>
<path d="M568.0,1068.5 C569.5,1068.8 574.1,1070.1 577.0,1070.6 C579.9,1071.1 582.6,1071.8 585.5,1071.7 C588.3,1071.5 591.5,1070.4 593.9,1069.6 C596.4,1068.7 598.2,1066.5 600.3,1066.4 C602.4,1066.2 604.4,1067.1 606.7,1068.5 C609.0,1069.9 611.8,1073.1 614.1,1074.9 C616.4,1076.6 618.4,1078.4 620.5,1079.1 C622.5,1079.8 625.3,1079.1 626.3,1079.1"/>
<path d="M541.4,1064.2 C542.6,1065.3 546.3,1068.0 548.3,1070.6 C550.4,1073.3 552.0,1077.2 553.6,1080.2 C555.2,1083.2 556.5,1085.1 557.9,1088.6 C559.3,1092.2 561.1,1098.4 562.1,1101.4 C563.2,1104.4 563.9,1105.8 564.2,1106.7"/>
<path d="M541.4,1074.9 C542.4,1074.7 545.2,1073.3 547.3,1073.8 C549.3,1074.3 551.5,1077.0 553.6,1078.0 C555.8,1079.1 557.6,1080.2 560.0,1080.2 C562.4,1080.2 565.5,1077.5 568.0,1078.0 C570.4,1078.6 572.8,1082.1 574.9,1083.3 C576.9,1084.6 578.0,1085.8 580.2,1085.5 C582.3,1085.1 585.6,1082.1 587.6,1081.2 C589.5,1080.3 590.1,1079.4 591.8,1080.2 C593.6,1080.9 596.2,1084.0 598.2,1085.5 C600.1,1086.9 601.5,1089.0 603.5,1088.6 C605.4,1088.3 607.9,1084.6 609.9,1083.3 C611.8,1082.1 613.4,1081.2 615.2,1081.2 C616.9,1081.2 618.6,1082.1 620.5,1083.3 C622.3,1084.6 625.3,1087.8 626.3,1088.6"/>
<path d="M568.0,1078.0 C569.1,1078.7 572.6,1080.9 574.9,1082.3 C577.1,1083.7 578.6,1085.3 581.2,1086.5 C583.9,1087.8 587.9,1088.8 590.8,1089.7 C593.6,1090.6 595.9,1091.3 598.2,1091.8 C600.5,1092.4 602.6,1093.6 604.6,1092.9 C606.5,1092.2 607.7,1088.8 609.9,1087.6 C612.0,1086.3 614.5,1085.1 617.3,1085.5 C620.0,1085.8 624.8,1089.0 626.3,1089.7"/>
<path d="M521.8,1106.7 C522.5,1104.9 524.5,1099.6 526.1,1096.1 C527.7,1092.5 529.8,1088.5 531.4,1085.5 C533.0,1082.5 534.4,1079.8 535.6,1078.0 C536.8,1076.3 537.8,1075.4 538.8,1074.9 C539.8,1074.3 541.0,1074.9 541.4,1074.9"/>
<path d="M525.0,1106.7 C525.7,1104.9 527.8,1099.8 529.2,1096.1 C530.7,1092.4 532.1,1087.8 533.5,1084.4 C534.9,1081.0 536.4,1077.5 537.7,1075.9 C539.1,1074.3 540.8,1075.0 541.4,1074.9"/>
<path d="M541.4,1074.9 C542.2,1075.6 544.7,1077.2 546.2,1079.1 C547.7,1081.0 549.0,1083.9 550.5,1086.5 C551.9,1089.2 553.3,1092.4 554.7,1095.0 C556.1,1097.7 557.7,1100.5 558.9,1102.4 C560.2,1104.4 561.6,1106.0 562.1,1106.7"/>
<path d="M490.0,1089.7 C491.1,1089.3 494.1,1087.8 496.4,1087.6 C498.7,1087.4 501.3,1088.5 503.8,1088.6 C506.3,1088.8 508.6,1089.2 511.2,1088.6 C513.9,1088.1 517.0,1087.1 519.7,1085.5 C522.4,1083.9 524.6,1081.2 527.1,1079.1 C529.6,1077.0 532.2,1075.2 534.5,1072.7 C536.9,1070.3 540.3,1065.7 541.4,1064.2"/>
<path d="M490.0,1092.9 C491.4,1092.7 495.7,1091.8 498.5,1091.8 C501.3,1091.8 504.1,1092.9 507.0,1092.9 C509.8,1092.9 513.0,1092.7 515.5,1091.8 C517.9,1090.9 519.5,1089.2 521.8,1087.6 C524.1,1086.0 526.8,1084.2 529.2,1082.3 C531.7,1080.3 534.6,1077.3 536.7,1075.9 C538.7,1074.5 540.6,1074.1 541.4,1073.8"/>
<path d="M490.0,1096.1 C491.4,1095.9 495.3,1095.0 498.5,1095.0 C501.7,1095.0 505.9,1096.1 509.1,1096.1 C512.3,1096.1 514.9,1096.2 517.6,1095.0 C520.2,1093.8 522.5,1090.6 525.0,1088.6 C527.5,1086.7 531.2,1084.2 532.4,1083.3"/>
<path d="M490.0,1102.4 C491.1,1102.3 494.2,1101.4 496.4,1101.4 C498.5,1101.4 500.6,1101.7 502.7,1102.4 C504.8,1103.1 507.3,1104.9 509.1,1105.6 C510.9,1106.3 512.6,1106.5 513.3,1106.7"/>
<path d="M568.0,1104.6 C569.1,1104.4 572.3,1103.3 574.9,1103.5 C577.4,1103.7 580.9,1105.6 583.3,1105.6 C585.8,1105.6 587.6,1104.4 589.7,1103.5 C591.8,1102.6 593.9,1101.2 596.1,1100.3 C598.2,1099.4 600.3,1098.2 602.4,1098.2 C604.6,1098.2 606.7,1100.3 608.8,1100.3 C610.9,1100.3 613.0,1098.7 615.2,1098.2 C617.3,1097.7 619.7,1097.0 621.5,1097.1 C623.4,1097.3 625.5,1098.9 626.3,1099.2"/>
<path d="M568.0,1106.7 C569.6,1106.5 575.1,1105.8 578.0,1105.6 C581.0,1105.4 582.5,1105.6 585.5,1105.6 C588.5,1105.6 593.2,1105.8 596.1,1105.6 C598.9,1105.4 599.8,1105.1 602.4,1104.6 C605.1,1104.0 609.0,1103.1 612.0,1102.4 C615.0,1101.7 618.1,1100.3 620.5,1100.3 C622.8,1100.3 625.3,1102.1 626.3,1102.4"/>
</g>
</g>
<rect x="129.8" y="741.6" width="497.0" height="366.0" fill="none" stroke="#000" stroke-width="1.9"/>
<line x1="129.8" y1="741.5" x2="139.8" y2="741.5" stroke="#000" stroke-width="1.9"/>
<line x1="626.8" y1="741.5" x2="616.8" y2="741.5" stroke="#000" stroke-width="1.9"/>
<line x1="129.8" y1="785.1" x2="134.5" y2="785.1" stroke="#000" stroke-width="1.9"/>
<line x1="626.8" y1="785.1" x2="622.1" y2="785.1" stroke="#000" stroke-width="1.9"/>
<line x1="129.8" y1="828.9" x2="139.8" y2="828.9" stroke="#000" stroke-width="1.9"/>
<line x1="626.8" y1="828.9" x2="616.8" y2="828.9" stroke="#000" stroke-width="1.9"/>
<line x1="129.8" y1="872.5" x2="134.5" y2="872.5" stroke="#000" stroke-width="1.9"/>
<line x1="626.8" y1="872.5" x2="622.1" y2="872.5" stroke="#000" stroke-width="1.9"/>
<line x1="129.8" y1="916.2" x2="139.8" y2="916.2" stroke="#000" stroke-width="1.9"/>
<line x1="626.8" y1="916.2" x2="616.8" y2="916.2" stroke="#000" stroke-width="1.9"/>
<line x1="129.8" y1="960.0" x2="134.5" y2="960.0" stroke="#000" stroke-width="1.9"/>
<line x1="626.8" y1="960.0" x2="622.1" y2="960.0" stroke="#000" stroke-width="1.9"/>
<line x1="129.8" y1="1003.6" x2="139.8" y2="1003.6" stroke="#000" stroke-width="1.9"/>
<line x1="626.8" y1="1003.6" x2="616.8" y2="1003.6" stroke="#000" stroke-width="1.9"/>
<line x1="129.8" y1="1047.3" x2="134.5" y2="1047.3" stroke="#000" stroke-width="1.9"/>
<line x1="626.8" y1="1047.3" x2="622.1" y2="1047.3" stroke="#000" stroke-width="1.9"/>
<line x1="129.8" y1="1091.0" x2="139.8" y2="1091.0" stroke="#000" stroke-width="1.9"/>
<line x1="626.8" y1="1091.0" x2="616.8" y2="1091.0" stroke="#000" stroke-width="1.9"/>
<text x="119.3" y="751.9" font-family="'Liberation Sans',sans-serif" font-size="29" text-anchor="end" font-weight="normal" >1</text>
<rect x="104.34" y="749.00" width="6.06" height="3.33" fill="#fff"/><rect x="113.07" y="749.00" width="6.35" height="3.33" fill="#fff"/>
<text x="119.3" y="837.5" font-family="'Liberation Sans',sans-serif" font-size="29" text-anchor="end" font-weight="normal" >0.5</text>

<text x="119.3" y="925.8" font-family="'Liberation Sans',sans-serif" font-size="29" text-anchor="end" font-weight="normal" >0</text>

<text x="119.3" y="1011.0" font-family="'Liberation Sans',sans-serif" font-size="29" text-anchor="end" font-weight="normal" >−0.5</text>

<text x="119.3" y="1097.2" font-family="'Liberation Sans',sans-serif" font-size="29" text-anchor="end" font-weight="normal" >−1</text>
<rect x="104.34" y="1094.30" width="6.06" height="3.33" fill="#fff"/><rect x="113.07" y="1094.30" width="6.35" height="3.33" fill="#fff"/>
<text x="129.8" y="1144.2" font-family="'Liberation Serif',serif" font-size="30.5" text-anchor="middle" font-weight="normal" >Γ</text>
<text x="170.7" y="1144.2" font-family="'Liberation Sans',sans-serif" font-size="29" text-anchor="middle" font-weight="normal" >X</text>
<text x="210.8" y="1144.2" font-family="'Liberation Sans',sans-serif" font-size="29" text-anchor="middle" font-weight="normal" >S</text>
<text x="251.5" y="1144.2" font-family="'Liberation Sans',sans-serif" font-size="29" text-anchor="middle" font-weight="normal" >Y</text>
<text x="291.6" y="1144.2" font-family="'Liberation Serif',serif" font-size="30.5" text-anchor="middle" font-weight="normal" >Γ</text>
<text x="317.1" y="1144.2" font-family="'Liberation Sans',sans-serif" font-size="29" text-anchor="middle" font-weight="normal" >Z</text>
<text x="358.1" y="1144.2" font-family="'Liberation Sans',sans-serif" font-size="29" text-anchor="middle" font-weight="normal" >U</text>
<text x="397.8" y="1144.2" font-family="'Liberation Sans',sans-serif" font-size="29" text-anchor="middle" font-weight="normal" >R</text>
<text x="438.6" y="1144.2" font-family="'Liberation Sans',sans-serif" font-size="29" text-anchor="middle" font-weight="normal" >T</text>
<text x="479.0" y="1144.2" font-family="'Liberation Sans',sans-serif" font-size="29" text-anchor="middle" font-weight="normal" >Z</text>
<text x="541.8" y="1144.2" font-family="'Liberation Sans',sans-serif" font-size="29" text-anchor="middle" font-weight="normal" >S</text>
<text x="567.1" y="1144.2" font-family="'Liberation Sans',sans-serif" font-size="29" text-anchor="middle" font-weight="normal" >R</text>
<text x="626.8" y="1144.2" font-family="'Liberation Serif',serif" font-size="30.5" text-anchor="middle" font-weight="normal" >Γ</text>
<text x="0" y="0" transform="translate(38.3,913.9) rotate(-90)" font-family="'Liberation Sans',sans-serif" font-size="29" text-anchor="middle">Energy (eV)</text>
<line x1="836.4" y1="741.6" x2="836.4" y2="1107.6" stroke="#000" stroke-width="1.3" stroke-dasharray="4.6 3.4"/>
<line x1="876.6" y1="741.6" x2="876.6" y2="1107.6" stroke="#000" stroke-width="1.3" stroke-dasharray="4.6 3.4"/>
<line x1="917.2" y1="741.6" x2="917.2" y2="1107.6" stroke="#000" stroke-width="1.3" stroke-dasharray="4.6 3.4"/>
<line x1="957.3" y1="741.6" x2="957.3" y2="1107.6" stroke="#000" stroke-width="1.3" stroke-dasharray="4.6 3.4"/>
<line x1="982.8" y1="741.6" x2="982.8" y2="1107.6" stroke="#000" stroke-width="1.3" stroke-dasharray="4.6 3.4"/>
<line x1="1023.8" y1="741.6" x2="1023.8" y2="1107.6" stroke="#000" stroke-width="1.3" stroke-dasharray="4.6 3.4"/>
<line x1="1063.4" y1="741.6" x2="1063.4" y2="1107.6" stroke="#000" stroke-width="1.3" stroke-dasharray="4.6 3.4"/>
<line x1="1104.3" y1="741.6" x2="1104.3" y2="1107.6" stroke="#000" stroke-width="1.3" stroke-dasharray="4.6 3.4"/>
<line x1="1144.6" y1="741.6" x2="1144.6" y2="1107.6" stroke="#000" stroke-width="1.3" stroke-dasharray="4.6 3.4"/>
<line x1="1207.4" y1="741.6" x2="1207.4" y2="1107.6" stroke="#000" stroke-width="1.3" stroke-dasharray="4.6 3.4"/>
<line x1="1232.6" y1="741.6" x2="1232.6" y2="1107.6" stroke="#000" stroke-width="1.3" stroke-dasharray="4.6 3.4"/>
<line x1="795.6" y1="916.2" x2="1292.3" y2="916.2" stroke="#d42a2a" stroke-width="1.4" stroke-dasharray="7 6" stroke-dashoffset="-2"/>
<defs><clipPath id="clipd"><rect x="795.6" y="741.6" width="496.7" height="366.0"/></clipPath></defs>
<g clip-path="url(#clipd)" fill="none" stroke="#000" stroke-width="1.85" stroke-linejoin="round" stroke-linecap="round">
<clipPath id="clipdg1"><rect x="0" y="0" width="982.8" height="961"/></clipPath>
<g clip-path="url(#clipdg1)">
<path d="M795.4,765.2 C796.8,763.9 801.2,759.6 804.1,757.3 C807.1,754.9 810.5,751.5 812.9,751.2 C815.3,751.0 816.5,751.5 818.5,755.7 C820.4,759.9 822.7,768.7 824.8,776.4 C826.9,784.1 829.3,794.5 831.2,801.8 C833.0,809.1 834.1,816.4 836.0,820.1 C837.8,823.8 839.9,821.8 842.3,824.1 C844.7,826.4 847.4,828.6 850.3,833.6 C853.2,838.7 856.9,846.9 859.8,854.3 C862.7,861.8 865.0,867.9 867.8,878.2 C870.5,888.5 873.8,906.6 876.2,916.4 C878.6,926.2 879.8,929.1 882.1,937.1 C884.4,945.0 887.4,955.4 890.1,964.1 C892.7,972.9 896.2,983.6 898.0,989.6 C899.9,995.6 900.7,998.3 901.2,1000.1"/>
<path d="M836.0,820.1 C836.8,820.3 838.9,820.0 840.7,820.9 C842.6,821.8 844.4,822.0 847.1,825.7 C849.7,829.4 853.5,835.5 856.6,843.2 C859.8,850.9 862.9,859.6 866.2,871.8 C869.5,884.0 874.5,909.0 876.2,916.4"/>
<path d="M795.4,860.7 C796.8,861.2 800.8,862.5 804.1,863.9 C807.5,865.3 812.1,869.5 815.3,869.0 C818.5,868.4 820.8,865.5 823.2,860.7 C825.6,855.9 827.5,846.6 829.6,840.0 C831.7,833.4 834.9,824.1 836.0,820.9"/>
<path d="M853.5,1000.1 C854.8,995.7 858.8,983.4 861.4,973.7 C864.1,964.0 866.9,951.4 869.4,941.8 C871.8,932.3 873.6,925.1 876.2,916.4 C878.9,907.6 881.9,898.4 885.3,889.3 C888.7,880.3 892.7,870.0 896.4,862.3 C900.1,854.6 904.2,848.1 907.6,843.2 C911.0,838.3 914.7,835.0 916.8,832.9 C918.9,830.7 918.6,833.5 920.3,830.5 C921.9,827.4 924.0,820.9 926.7,814.6 C929.3,808.2 933.0,798.9 936.2,792.3 C939.4,785.6 942.3,779.3 945.7,774.8 C949.2,770.3 954.0,766.0 956.9,765.2 C959.8,764.4 961.1,765.8 963.2,770.0 C965.4,774.2 967.5,782.7 969.6,790.7 C971.7,798.6 973.8,809.0 976.0,817.7 C978.1,826.5 980.3,840.0 982.7,843.2 C985.0,846.4 987.4,839.5 990.3,836.8 C993.2,834.2 998.4,828.9 1000.0,827.3"/>
<path d="M916.8,832.9 C917.9,837.8 921.3,852.1 923.5,862.3 C925.6,872.5 927.8,884.6 929.8,894.1 C931.8,903.7 933.5,918.2 935.4,919.6 C937.3,920.9 939.0,909.0 941.0,902.1 C943.0,895.2 944.7,885.0 947.3,878.2 C950.0,871.4 953.2,863.3 956.9,861.5 C960.6,859.6 965.3,869.8 969.6,867.1 C973.9,864.3 980.5,848.5 982.7,844.8"/>
<path d="M904.4,1000.1 C905.7,997.8 910.3,989.2 912.3,986.4 C914.4,983.6 915.5,982.9 916.8,983.2 C918.1,983.5 919.4,986.7 920.3,988.0 C921.1,989.3 921.1,992.5 921.9,991.2 C922.7,989.8 923.5,985.6 925.1,980.0 C926.7,974.5 929.7,966.2 931.4,957.8 C933.1,949.3 934.1,931.8 935.4,929.1 C936.7,926.5 937.7,934.9 939.4,941.8 C941.1,948.7 943.6,964.6 945.7,970.5 C947.9,976.3 950.3,975.8 952.1,976.8 C954.0,977.9 954.2,975.8 956.9,976.8 C959.5,977.9 963.7,981.1 968.0,983.2 C972.3,985.3 978.9,986.8 982.7,989.6 C986.4,992.4 989.0,998.3 990.3,1000.1"/>
<path d="M916.8,983.2 C918.4,982.7 923.9,979.0 926.7,980.0 C929.4,981.1 931.2,986.2 933.0,989.6 C934.9,992.9 937.0,998.3 937.8,1000.1"/>
<path d="M952.1,1000.1 C953.4,999.7 956.9,998.5 960.1,997.5 C963.2,996.6 967.4,995.7 971.2,994.3 C975.0,993.0 980.7,990.4 982.7,989.6"/>
<path d="M795.4,978.4 C796.3,979.8 798.7,982.8 801.0,986.4 C803.2,990.0 807.6,997.8 808.9,1000.1"/>
</g>
<clipPath id="clipdg2"><rect x="982.8" y="0" width="161.70000000000005" height="961"/></clipPath>
<g clip-path="url(#clipdg2)">
<path d="M975.0,809.1 C975.7,812.1 978.2,821.1 979.4,826.9 C980.7,832.7 980.7,843.0 982.7,844.0 C984.7,844.9 987.2,836.2 991.3,832.8 C995.5,829.4 1002.9,824.9 1007.6,823.5 C1012.3,822.1 1016.8,824.4 1019.5,824.7 C1022.1,824.9 1021.5,824.1 1023.5,825.0 C1025.4,825.8 1028.3,827.1 1031.3,829.9 C1034.4,832.7 1038.2,837.0 1041.7,841.7 C1045.2,846.4 1048.4,852.6 1052.1,858.0 C1055.7,863.5 1061.7,871.6 1063.6,874.3"/>
<path d="M1023.5,825.0 C1024.8,826.3 1028.5,828.6 1031.3,832.8 C1034.1,837.1 1037.3,843.5 1040.2,850.6 C1043.2,857.8 1046.4,868.5 1049.1,875.8 C1051.8,883.1 1054.6,893.1 1056.5,894.4 C1058.5,895.6 1059.8,886.3 1061.0,883.2 C1062.2,880.1 1062.2,877.8 1063.6,875.8 C1065.1,873.8 1066.9,874.3 1069.9,871.4 C1072.9,868.4 1077.8,863.5 1081.7,858.0 C1085.7,852.6 1089.8,844.0 1093.6,838.8 C1097.4,833.6 1100.8,828.4 1104.7,826.9 C1108.7,825.4 1112.7,828.1 1117.3,829.9 C1121.9,831.6 1127.6,834.8 1132.1,837.3 C1136.6,839.8 1140.8,842.5 1144.3,844.7 C1147.7,846.9 1150.3,848.6 1152.9,850.6 C1155.5,852.6 1158.8,855.6 1160.0,856.6"/>
<path d="M1063.6,875.1 C1064.9,874.2 1068.3,872.7 1071.4,869.9 C1074.4,867.1 1078.0,862.7 1081.7,858.0 C1085.4,853.3 1089.8,846.2 1093.6,841.7 C1097.4,837.3 1100.8,833.2 1104.7,831.4 C1108.7,829.5 1112.7,829.4 1117.3,830.6 C1121.9,831.8 1127.6,836.5 1132.1,838.8 C1136.6,841.0 1141.3,844.4 1144.3,844.0 C1147.3,843.5 1147.3,842.1 1149.9,835.8 C1152.5,829.5 1158.3,811.1 1160.0,806.2"/>
<path d="M1010.6,1000.0 C1011.8,998.9 1015.8,994.6 1018.0,992.9 C1020.1,991.3 1021.2,993.4 1023.5,990.0 C1025.7,986.5 1028.5,978.8 1031.3,972.2 C1034.1,965.5 1037.3,958.6 1040.2,949.9 C1043.2,941.3 1046.5,928.0 1049.1,920.3 C1051.7,912.6 1054.3,906.5 1055.8,904.0 C1057.3,901.5 1056.7,900.8 1058.0,905.5 C1059.3,910.2 1061.7,927.5 1063.6,932.2 C1065.6,936.8 1067.4,930.4 1069.9,933.6 C1072.4,936.8 1075.8,944.5 1078.8,951.4 C1081.7,958.3 1085.2,970.1 1087.7,975.1 C1090.1,980.2 1091.6,982.1 1093.6,981.8 C1095.6,981.6 1097.7,975.3 1099.5,973.7 C1101.4,972.1 1102.5,971.4 1104.7,972.2 C1106.9,972.9 1109.8,975.1 1112.9,978.1 C1115.9,981.1 1120.0,987.5 1123.2,990.0 C1126.4,992.4 1128.6,993.1 1132.1,992.9 C1135.6,992.8 1140.8,989.2 1144.3,989.2 C1147.7,989.2 1150.3,992.3 1152.9,992.9 C1155.5,993.5 1158.8,992.9 1160.0,992.9"/>
<path d="M1023.5,990.0 C1025.3,990.2 1030.5,992.4 1034.3,991.4 C1038.1,990.5 1042.7,988.2 1046.2,984.0 C1049.6,979.8 1052.3,973.7 1055.0,966.2 C1057.8,958.8 1061.0,945.5 1062.5,939.6 C1063.9,933.6 1062.4,932.0 1063.6,930.7 C1064.9,929.3 1067.4,928.3 1069.9,931.4 C1072.4,934.5 1075.8,942.2 1078.8,949.2 C1081.7,956.2 1085.2,968.5 1087.7,973.7 C1090.1,978.8 1091.6,980.6 1093.6,980.3 C1095.6,980.1 1097.7,973.8 1099.5,972.2 C1101.4,970.6 1102.7,970.4 1104.7,970.7 C1106.7,970.9 1108.3,970.7 1111.4,973.7 C1114.5,976.6 1121.3,986.0 1123.2,988.5"/>
<path d="M1089.1,1000.0 C1089.9,998.4 1091.9,991.4 1093.6,990.0 C1095.3,988.5 1097.7,991.0 1099.5,991.4 C1101.4,991.9 1102.5,991.5 1104.7,992.9 C1106.9,994.4 1111.5,998.9 1112.9,1000.0"/>
</g>
<clipPath id="clipdg3"><rect x="1144.5" y="0" width="855.5" height="961"/></clipPath>
<g clip-path="url(#clipdg3)">
<path d="M1135.0,838.7 C1136.6,839.6 1141.4,847.4 1144.6,843.9 C1147.8,840.5 1151.2,825.8 1154.3,818.0 C1157.4,810.2 1160.3,801.7 1163.2,797.2 C1166.0,792.8 1168.8,791.3 1171.3,791.3 C1173.8,791.3 1175.6,792.8 1178.0,797.2 C1180.3,801.7 1182.7,807.4 1185.4,818.0 C1188.1,828.6 1191.6,848.6 1194.3,861.0 C1197.0,873.3 1199.5,882.5 1201.7,892.1 C1203.8,901.7 1206.3,914.3 1207.2,918.8"/>
<path d="M1135.0,837.3 C1136.6,838.4 1141.7,841.7 1144.6,843.9 C1147.6,846.1 1149.9,848.5 1152.8,850.6 C1155.6,852.7 1159.0,853.6 1161.7,856.5 C1164.4,859.5 1166.6,863.7 1169.1,868.4 C1171.6,873.1 1174.0,879.5 1176.5,884.7 C1179.0,889.9 1181.4,895.3 1183.9,899.5 C1186.4,903.7 1188.6,907.1 1191.3,909.9 C1194.0,912.6 1197.6,914.3 1200.2,915.8 C1202.8,917.3 1206.0,918.3 1207.2,918.8"/>
<path d="M1135.0,989.9 C1136.6,989.6 1141.9,988.4 1144.6,988.4 C1147.3,988.4 1148.8,988.9 1151.3,989.9 C1153.8,990.9 1157.2,994.8 1159.5,994.3 C1161.7,993.8 1162.3,991.9 1164.6,986.9 C1167.0,982.0 1170.3,971.6 1173.5,964.7 C1176.7,957.8 1180.4,951.1 1183.9,945.4 C1187.4,939.8 1190.4,934.8 1194.3,930.6 C1198.2,926.4 1205.0,922.0 1207.2,920.2"/>
<path d="M1188.3,1000.0 C1189.3,995.3 1192.3,981.2 1194.3,972.1 C1196.3,963.0 1198.1,954.3 1200.2,945.4 C1202.4,936.5 1206.0,923.2 1207.2,918.8"/>
<path d="M1207.2,918.8 C1208.5,915.8 1212.2,907.1 1215.0,901.0 C1217.8,894.8 1221.0,886.2 1223.9,881.7 C1226.9,877.3 1229.8,873.6 1232.8,874.3 C1235.8,875.0 1238.2,885.2 1241.7,886.2 C1245.2,887.1 1249.1,880.7 1253.6,880.2 C1258.0,879.7 1264.4,883.7 1268.4,883.2 C1272.3,882.7 1273.4,880.7 1277.3,877.3 C1281.1,873.8 1289.0,864.9 1291.3,862.4"/>
<path d="M1232.8,874.3 C1234.3,872.1 1238.7,866.9 1241.7,861.0 C1244.7,855.0 1247.9,846.9 1250.6,838.7 C1253.3,830.6 1255.5,820.7 1258.0,812.1 C1260.5,803.4 1262.7,793.5 1265.4,786.9 C1268.1,780.2 1271.3,775.5 1274.3,772.0 C1277.3,768.6 1280.4,767.2 1283.2,766.1 C1286.0,765.0 1290.0,765.5 1291.3,765.4"/>
<path d="M1207.2,918.8 C1208.2,920.2 1211.2,925.6 1213.5,927.6 C1215.8,929.7 1217.7,930.9 1221.0,931.4 C1224.2,931.8 1229.8,933.0 1232.8,930.6 C1235.8,928.3 1237.3,919.7 1238.7,917.3 C1240.2,914.8 1240.2,914.1 1241.7,915.8 C1243.2,917.5 1245.2,921.7 1247.6,927.6 C1250.1,933.6 1253.8,944.7 1256.5,951.4 C1259.2,958.0 1261.2,964.2 1263.9,967.7 C1266.6,971.1 1269.9,970.4 1272.8,972.1 C1275.8,973.8 1278.6,977.0 1281.7,978.0 C1284.8,979.0 1289.7,978.0 1291.3,978.0"/>
<path d="M1232.8,930.6 C1233.8,933.8 1236.5,943.0 1238.7,949.9 C1241.0,956.8 1243.7,963.8 1246.1,972.1 C1248.6,980.5 1252.3,995.3 1253.6,1000.0"/>
</g>
<clipPath id="clipdg4"><rect x="0" y="960" width="982.8" height="1040"/></clipPath>
<g clip-path="url(#clipdg4)">
<path d="M795.4,977.5 C796.6,979.4 800.3,984.1 802.5,988.6 C804.8,993.1 806.5,999.0 808.9,1004.6 C811.3,1010.1 814.1,1016.2 816.9,1022.1 C819.7,1027.9 823.2,1038.2 825.6,1039.6 C828.0,1040.9 829.5,1033.1 831.2,1030.0 C832.9,1027.0 835.2,1022.7 836.0,1021.3"/>
<path d="M795.4,999.0 C796.6,999.4 800.0,999.6 802.5,1001.4 C805.1,1003.1 807.9,1007.2 810.5,1009.3 C813.2,1011.4 815.5,1013.0 818.5,1014.1 C821.4,1015.2 825.1,1014.5 828.0,1015.7 C830.9,1016.9 833.0,1021.8 836.0,1021.3 C838.9,1020.7 842.1,1017.4 845.5,1012.5 C849.0,1007.6 853.2,1000.6 856.6,991.8 C860.1,983.1 864.6,965.3 866.2,960.0"/>
<path d="M836.0,1021.3 C837.3,1020.6 841.0,1020.6 843.9,1017.3 C846.8,1014.0 850.3,1008.3 853.5,1001.4 C856.6,994.5 860.6,982.8 863.0,975.9 C865.4,969.0 867.0,962.7 867.8,960.0"/>
<path d="M795.4,999.0 C796.6,999.2 799.8,997.5 802.5,1000.6 C805.3,1003.6 809.2,1012.1 812.1,1017.3 C815.0,1022.5 817.8,1028.0 820.0,1031.6 C822.3,1035.2 824.7,1037.6 825.6,1038.8"/>
<path d="M888.5,960.0 C889.5,963.4 892.4,973.5 894.8,980.7 C897.2,987.8 900.1,1001.1 902.8,1003.0 C905.4,1004.8 908.4,994.7 910.7,991.8 C913.1,988.9 915.2,987.3 916.8,985.5 C918.4,983.6 918.9,982.3 920.3,980.7 C921.7,979.1 923.7,979.4 925.1,975.9 C926.4,972.5 927.7,962.7 928.2,960.0"/>
<path d="M916.8,985.5 C917.5,986.4 919.7,992.0 921.1,991.0 C922.5,990.1 923.3,979.8 925.1,979.9 C926.8,980.0 928.2,987.7 931.4,991.8 C934.6,995.9 939.9,1003.4 944.2,1004.6 C948.4,1005.7 952.9,1000.6 956.9,999.0 C960.9,997.4 963.7,996.6 968.0,995.0 C972.3,993.4 978.7,988.1 982.7,989.4 C986.6,990.8 989.0,997.8 991.9,1003.0 C994.8,1008.1 998.6,1017.5 1000.0,1020.5"/>
<path d="M942.6,960.0 C943.4,962.4 944.9,971.5 947.3,974.3 C949.7,977.1 953.4,975.6 956.9,976.7 C960.3,977.8 963.7,978.6 968.0,980.7 C972.3,982.8 980.2,988.0 982.7,989.4"/>
<path d="M876.2,1068.2 C878.3,1064.0 885.1,1049.6 888.5,1042.7 C891.8,1035.8 893.8,1031.7 896.4,1026.8 C899.1,1021.9 902.0,1014.1 904.4,1013.3 C906.8,1012.5 908.7,1020.1 910.7,1022.1 C912.8,1024.0 915.2,1027.6 916.8,1025.2 C918.4,1022.8 919.3,1010.9 920.3,1007.7 C921.3,1004.6 921.3,1004.0 922.7,1006.1 C924.0,1008.3 926.5,1017.0 928.2,1020.5 C930.0,1023.9 930.6,1025.5 933.0,1026.8 C935.4,1028.2 939.9,1026.3 942.6,1028.4 C945.2,1030.5 946.5,1036.0 948.9,1039.6 C951.3,1043.1 954.2,1049.6 956.9,1049.9 C959.5,1050.2 962.2,1043.4 964.8,1041.1 C967.5,1038.9 969.8,1035.0 972.8,1036.4 C975.8,1037.7 979.5,1049.1 982.7,1049.1 C985.8,1049.1 989.0,1039.3 991.9,1036.4 C994.8,1033.5 998.6,1032.4 1000.0,1031.6"/>
<path d="M982.7,1049.1 C984.2,1047.8 989.0,1043.0 991.9,1041.1 C994.8,1039.3 998.6,1038.5 1000.0,1038.0"/>
<path d="M916.8,1025.2 C917.4,1027.6 918.9,1034.0 920.3,1039.6 C921.7,1045.1 923.2,1054.1 925.1,1058.6 C926.9,1063.2 928.5,1064.0 931.4,1066.6 C934.3,1069.3 938.3,1072.2 942.6,1074.6 C946.8,1076.9 952.6,1079.2 956.9,1080.9 C961.1,1082.6 964.8,1087.8 968.0,1084.9 C971.2,1082.0 973.5,1069.4 976.0,1063.4 C978.4,1057.5 981.5,1051.5 982.7,1049.1"/>
<path d="M795.4,1049.1 C796.6,1048.6 800.0,1047.0 802.5,1045.9 C805.1,1044.9 808.1,1042.2 810.5,1042.7 C812.9,1043.3 815.0,1045.9 816.9,1049.1 C818.7,1052.3 819.5,1056.5 821.6,1061.8 C823.8,1067.1 827.2,1076.4 829.6,1080.9 C832.0,1085.4 833.6,1086.2 836.0,1088.9 C838.3,1091.5 840.5,1096.3 843.9,1096.8 C847.4,1097.4 852.7,1093.9 856.6,1092.1 C860.6,1090.2 864.5,1088.6 867.8,1085.7 C871.0,1082.8 872.8,1076.0 876.2,1074.6 C879.7,1073.1 885.1,1076.9 888.5,1076.9 C891.8,1076.9 893.2,1074.4 896.4,1074.6 C899.6,1074.7 904.2,1077.1 907.6,1077.7 C911.0,1078.4 913.9,1078.8 916.8,1078.5 C919.7,1078.3 921.8,1075.8 925.1,1076.1 C928.3,1076.5 932.2,1079.3 936.2,1080.9 C940.2,1082.5 945.5,1084.6 948.9,1085.7 C952.4,1086.8 954.2,1086.4 956.9,1087.3 C959.5,1088.2 962.2,1089.4 964.8,1091.3 C967.5,1093.1 969.8,1095.6 972.8,1098.4 C975.8,1101.2 981.0,1106.4 982.7,1108.0"/>
<path d="M795.4,1080.9 C796.6,1080.7 799.8,1080.9 802.5,1079.3 C805.3,1077.7 808.9,1074.0 812.1,1071.4 C815.3,1068.7 818.5,1065.5 821.6,1063.4 C824.8,1061.3 828.3,1060.0 831.2,1058.6 C834.1,1057.3 835.4,1056.8 839.1,1055.5 C842.9,1054.1 849.2,1050.4 853.5,1050.7 C857.7,1051.0 861.4,1054.7 864.6,1057.1 C867.8,1059.4 870.6,1062.6 872.6,1065.0 C874.5,1067.4 874.6,1069.5 876.2,1071.4 C877.8,1073.2 879.0,1075.6 882.1,1076.1 C885.2,1076.7 889.0,1074.2 894.8,1074.6 C900.6,1075.0 912.0,1078.0 916.8,1078.5 C921.6,1079.1 920.2,1077.1 923.5,1077.7 C926.7,1078.4 930.6,1080.9 936.2,1082.5 C941.8,1084.1 953.4,1086.5 956.9,1087.3"/>
<path d="M795.4,1085.7 C796.6,1085.7 800.3,1085.4 802.5,1085.7 C804.8,1086.0 806.5,1089.7 808.9,1087.3 C811.3,1084.9 813.9,1077.7 816.9,1071.4 C819.8,1065.0 824.0,1052.3 826.4,1049.1 C828.8,1045.9 829.6,1051.0 831.2,1052.3 C832.8,1053.6 833.6,1057.1 836.0,1057.1 C838.3,1057.1 842.1,1053.2 845.5,1052.3 C849.0,1051.4 852.9,1050.4 856.6,1051.5 C860.4,1052.5 864.5,1056.1 867.8,1058.6 C871.0,1061.2 874.8,1065.3 876.2,1066.6"/>
<path d="M795.4,1095.2 C796.8,1095.6 801.1,1098.2 804.1,1097.6 C807.2,1097.1 810.5,1093.5 813.7,1092.1 C816.9,1090.6 820.6,1088.3 823.2,1088.9 C825.9,1089.4 827.5,1092.1 829.6,1095.2 C831.7,1098.4 834.9,1105.8 836.0,1108.0"/>
<path d="M807.3,1108.0 C808.9,1106.6 813.9,1101.6 816.9,1100.0 C819.8,1098.4 821.6,1100.3 824.8,1098.4 C828.0,1096.6 832.5,1091.8 836.0,1088.9 C839.4,1086.0 842.1,1083.3 845.5,1080.9 C849.0,1078.5 852.9,1076.1 856.6,1074.6 C860.4,1073.0 864.5,1072.4 867.8,1071.4 C871.0,1070.3 874.8,1068.7 876.2,1068.2"/>
<path d="M861.4,1108.0 C862.7,1106.9 867.5,1103.1 869.4,1101.6 C871.2,1100.1 871.4,1099.5 872.6,1099.2 C873.7,1099.0 874.6,1099.4 876.2,1100.0 C877.8,1100.7 880.6,1101.9 882.1,1103.2 C883.6,1104.5 884.8,1107.2 885.3,1108.0"/>
<path d="M876.2,1100.0 C878.3,1099.5 884.3,1097.6 888.5,1096.8 C892.6,1096.0 896.5,1095.8 901.2,1095.2 C905.9,1094.7 912.8,1094.7 916.8,1093.7 C920.8,1092.6 922.4,1089.4 925.1,1088.9 C927.8,1088.3 929.8,1089.1 933.0,1090.5 C936.2,1091.8 940.2,1095.8 944.2,1096.8 C948.1,1097.9 952.9,1097.6 956.9,1096.8 C960.9,1096.0 964.8,1091.5 968.0,1092.1 C971.2,1092.6 973.5,1097.4 976.0,1100.0 C978.4,1102.7 981.5,1106.6 982.7,1108.0"/>
<path d="M916.8,1093.7 C917.9,1094.7 921.3,1097.6 923.5,1100.0 C925.6,1102.4 928.8,1106.6 929.8,1108.0"/>
<path d="M956.9,1096.8 C958.2,1096.8 963.0,1096.3 964.8,1096.8 C966.7,1097.4 966.4,1098.2 968.0,1100.0 C969.6,1101.9 973.3,1106.6 974.4,1108.0"/>
</g>
<clipPath id="clipdg5"><rect x="982.8" y="960" width="161.70000000000005" height="1040"/></clipPath>
<g clip-path="url(#clipdg5)">
<path d="M975.0,984.2 C976.3,985.1 980.5,986.8 982.8,989.9 C985.2,992.9 986.4,997.4 989.2,1002.7 C992.1,1007.9 996.6,1020.4 999.9,1021.1 C1003.2,1021.9 1006.2,1011.2 1009.1,1006.9 C1012.1,1002.7 1015.2,998.4 1017.7,995.6 C1020.1,992.7 1021.5,993.8 1023.8,989.9 C1026.1,986.0 1029.3,977.2 1031.3,972.2 C1033.4,967.3 1035.3,962.0 1036.1,960.0"/>
<path d="M975.0,992.7 C976.3,992.1 980.5,987.3 982.8,989.2 C985.2,991.0 986.4,999.0 989.2,1004.1 C992.1,1009.2 996.6,1019.5 999.9,1019.7 C1003.2,1020.0 1005.1,1010.5 1009.1,1005.5 C1013.1,1000.5 1020.0,992.0 1023.8,989.9 C1027.6,987.7 1028.6,993.2 1031.9,992.7 C1035.1,992.2 1039.5,991.3 1043.3,987.0 C1047.1,982.8 1052.3,971.6 1054.6,967.1 C1057.0,962.6 1057.0,961.2 1057.5,960.0"/>
<path d="M975.0,1036.8 C975.7,1037.7 978.0,1040.5 979.3,1042.5 C980.6,1044.5 981.2,1049.1 982.8,1048.9 C984.5,1048.6 986.5,1043.8 989.2,1041.1 C991.9,1038.3 996.1,1031.8 999.2,1032.5 C1002.3,1033.2 1004.9,1041.5 1007.7,1045.3 C1010.6,1049.1 1013.6,1053.4 1016.2,1055.3 C1018.9,1057.2 1020.7,1056.9 1023.8,1056.7 C1026.9,1056.5 1031.0,1053.6 1034.7,1053.9 C1038.4,1054.1 1042.8,1056.7 1046.1,1058.1 C1049.4,1059.5 1051.7,1060.0 1054.6,1062.4 C1057.5,1064.8 1060.6,1069.7 1063.5,1072.3 C1066.3,1075.0 1068.4,1077.8 1071.7,1078.0 C1075.0,1078.3 1079.0,1075.2 1083.1,1073.8 C1087.1,1072.3 1092.3,1070.4 1095.9,1069.5 C1099.4,1068.6 1101.3,1067.6 1104.4,1068.1 C1107.5,1068.6 1111.3,1069.5 1114.4,1072.3 C1117.4,1075.2 1120.1,1081.1 1122.9,1085.1 C1125.7,1089.2 1127.8,1092.7 1131.4,1096.5 C1135.0,1100.3 1142.3,1106.0 1144.5,1107.9"/>
<path d="M982.8,1048.9 C983.9,1048.0 986.6,1045.4 989.2,1043.9 C991.8,1042.4 995.4,1038.5 998.5,1039.6 C1001.5,1040.8 1004.7,1048.2 1007.7,1051.0 C1010.7,1053.9 1013.6,1055.8 1016.2,1056.7 C1018.9,1057.6 1021.2,1055.8 1023.8,1056.7 C1026.4,1057.6 1029.1,1060.0 1031.9,1062.4 C1034.7,1064.8 1037.6,1070.2 1040.4,1070.9 C1043.3,1071.6 1046.1,1066.9 1048.9,1066.7 C1051.8,1066.4 1055.1,1068.3 1057.5,1069.5 C1059.9,1070.7 1060.6,1072.0 1063.5,1073.8 C1066.3,1075.5 1070.3,1079.2 1074.5,1080.2 C1078.8,1081.1 1083.8,1079.8 1088.8,1079.5 C1093.7,1079.1 1099.0,1077.1 1104.4,1078.0 C1109.9,1079.0 1117.0,1082.1 1121.5,1085.1 C1126.0,1088.2 1128.6,1093.7 1131.4,1096.5 C1134.3,1099.4 1136.4,1100.3 1138.5,1102.2 C1140.7,1104.1 1143.5,1106.9 1144.5,1107.9"/>
<path d="M975.0,1070.9 C975.7,1069.0 978.0,1063.2 979.3,1059.5 C980.6,1055.9 982.2,1050.7 982.8,1048.9"/>
<path d="M1029.0,1107.9 C1030.0,1105.3 1032.8,1096.5 1034.7,1092.3 C1036.6,1088.0 1038.0,1084.7 1040.4,1082.3 C1042.8,1079.9 1046.1,1078.3 1048.9,1078.0 C1051.8,1077.8 1055.1,1081.6 1057.5,1080.9 C1059.9,1080.2 1061.1,1079.2 1063.5,1073.8 C1065.8,1068.3 1068.9,1057.2 1071.7,1048.2 C1074.5,1039.2 1077.4,1028.5 1080.2,1019.7 C1083.1,1011.0 1086.4,1000.5 1088.8,995.6 C1091.1,990.6 1091.8,990.3 1094.5,989.9 C1097.1,989.4 1101.1,990.1 1104.4,992.7 C1107.7,995.3 1111.3,1000.8 1114.4,1005.5 C1117.4,1010.2 1120.1,1016.2 1122.9,1021.1 C1125.7,1026.1 1128.8,1031.3 1131.4,1035.4 C1134.0,1039.4 1136.4,1043.0 1138.5,1045.3 C1140.7,1047.7 1142.1,1048.2 1144.5,1049.6 C1146.9,1051.0 1150.2,1052.9 1152.8,1053.9 C1155.3,1054.8 1158.8,1055.0 1160.0,1055.3"/>
<path d="M1030.5,1107.9 C1031.4,1105.1 1034.3,1094.9 1036.1,1090.8 C1038.0,1086.8 1039.5,1085.4 1041.8,1083.7 C1044.2,1082.1 1046.8,1082.3 1050.4,1080.9 C1054.0,1079.5 1061.3,1076.1 1063.5,1075.2"/>
<path d="M1082.4,960.0 C1083.4,962.4 1086.8,970.5 1088.8,974.2 C1090.8,977.9 1092.6,982.0 1094.5,982.0 C1096.4,982.0 1098.5,975.9 1100.1,974.2 C1101.8,972.6 1102.7,971.9 1104.4,972.1 C1106.1,972.3 1108.0,973.6 1110.1,975.6 C1112.2,977.7 1114.6,981.3 1117.2,984.2 C1119.8,987.0 1123.1,991.3 1125.7,992.7 C1128.3,994.1 1129.7,993.3 1132.8,992.7 C1136.0,992.1 1141.2,989.2 1144.5,989.2 C1147.8,989.2 1150.2,991.9 1152.8,992.7 C1155.3,993.5 1158.8,993.9 1160.0,994.1"/>
<path d="M1080.9,960.0 C1082.0,962.3 1085.2,970.0 1087.3,973.5 C1089.5,977.1 1092.7,980.0 1093.7,981.3"/>
<path d="M1144.5,989.2 C1145.9,990.9 1150.2,995.7 1152.8,999.8 C1155.3,1004.0 1158.8,1011.7 1160.0,1014.0"/>
<path d="M1144.5,1049.6 C1145.6,1047.5 1148.8,1041.1 1151.3,1036.8 C1153.9,1032.5 1158.6,1026.1 1160.0,1024.0"/>
<path d="M1047.5,1107.9 C1049.2,1105.3 1054.9,1093.2 1057.5,1092.3 C1060.1,1091.3 1062.2,1100.5 1063.2,1102.2"/>
<path d="M1063.5,1100.8 C1065.3,1101.7 1072.7,1105.5 1074.5,1106.5"/>
<path d="M1074.5,1107.9 C1076.9,1106.9 1083.8,1104.1 1088.8,1102.2 C1093.7,1100.3 1100.1,1097.7 1104.4,1096.5 C1108.7,1095.3 1111.5,1094.6 1114.4,1095.1 C1117.2,1095.6 1119.1,1097.2 1121.5,1099.4 C1123.8,1101.5 1127.4,1106.5 1128.6,1107.9"/>
<path d="M975.0,1107.9 C976.3,1107.7 979.7,1106.7 982.8,1106.5 C985.9,1106.2 990.1,1106.2 993.5,1106.5 C996.9,1106.7 1001.8,1107.7 1003.4,1107.9"/>
<path d="M1144.5,1107.9 C1145.9,1106.9 1150.2,1104.3 1152.8,1102.2 C1155.3,1100.1 1158.8,1096.3 1160.0,1095.1"/>
</g>
<clipPath id="clipdg6"><rect x="1144.5" y="960" width="855.5" height="1040"/></clipPath>
<g clip-path="url(#clipdg6)">
<path d="M1144.4,1049.0 C1145.1,1047.7 1147.0,1044.6 1148.8,1041.4 C1150.6,1038.3 1153.1,1033.0 1155.0,1030.2 C1157.0,1027.3 1159.0,1023.7 1160.7,1024.5 C1162.4,1025.4 1163.4,1031.3 1165.1,1035.2 C1166.7,1039.0 1169.0,1046.9 1170.7,1047.7 C1172.4,1048.5 1172.9,1043.2 1175.1,1040.2 C1177.3,1037.2 1181.4,1029.5 1183.9,1029.5 C1186.4,1029.5 1187.8,1035.9 1190.1,1040.2 C1192.4,1044.5 1195.1,1050.8 1197.6,1055.2 C1200.1,1059.6 1203.6,1064.4 1205.2,1066.5 C1206.7,1068.6 1206.7,1067.5 1207.0,1067.7"/>
<path d="M1135.0,990.1 C1136.6,989.9 1141.7,988.6 1144.4,988.8 C1147.1,989.0 1148.7,990.5 1151.3,991.3 C1153.9,992.2 1157.8,994.2 1160.1,993.8 C1162.4,993.4 1163.5,991.3 1165.1,988.8 C1166.6,986.3 1168.2,982.6 1169.5,978.8 C1170.7,975.0 1171.9,969.4 1172.8,966.3 C1173.8,963.1 1174.9,961.0 1175.3,960.0"/>
<path d="M1135.0,1038.9 C1135.8,1040.0 1138.4,1043.5 1140.0,1045.2 C1141.6,1046.9 1142.1,1047.5 1144.4,1049.0 C1146.7,1050.4 1151.0,1052.9 1153.8,1054.0 C1156.6,1055.0 1158.6,1055.4 1161.3,1055.2 C1164.0,1055.0 1167.8,1052.1 1170.1,1052.7 C1172.4,1053.3 1173.0,1057.5 1175.1,1059.0 C1177.2,1060.4 1180.1,1060.9 1182.6,1061.5 C1185.1,1062.1 1187.6,1062.1 1190.1,1062.7 C1192.6,1063.4 1194.8,1064.4 1197.6,1065.2 C1200.5,1066.1 1204.1,1067.6 1207.0,1067.7 C1210.0,1067.8 1212.6,1065.9 1215.2,1065.9 C1217.8,1065.9 1219.8,1066.8 1222.7,1067.7 C1225.6,1068.7 1229.6,1071.3 1232.7,1071.5 C1235.9,1071.7 1237.9,1070.2 1241.5,1069.0 C1245.0,1067.7 1249.6,1065.7 1254.0,1064.0 C1258.4,1062.3 1264.7,1058.1 1267.8,1059.0 C1270.9,1059.8 1270.9,1066.1 1272.8,1069.0 C1274.7,1071.9 1275.9,1074.5 1279.1,1076.5 C1282.2,1078.5 1289.5,1080.2 1291.6,1080.9"/>
<path d="M1232.7,1071.5 C1234.2,1069.2 1238.6,1062.7 1241.5,1057.7 C1244.4,1052.7 1247.3,1046.2 1250.3,1041.4 C1253.2,1036.6 1256.7,1029.1 1259.0,1028.9 C1261.3,1028.7 1262.4,1036.0 1264.0,1040.2 C1265.7,1044.4 1267.4,1053.1 1269.1,1054.0 C1270.7,1054.8 1272.4,1048.7 1274.1,1045.2 C1275.7,1041.6 1277.2,1033.5 1279.1,1032.7 C1281.0,1031.8 1283.3,1037.7 1285.3,1040.2 C1287.4,1042.7 1290.6,1046.4 1291.6,1047.7"/>
<path d="M1135.0,1106.6 C1136.6,1106.8 1141.1,1109.7 1144.4,1107.8 C1147.7,1106.0 1151.6,1099.9 1155.0,1095.3 C1158.5,1090.7 1161.9,1083.9 1165.1,1080.3 C1168.2,1076.6 1170.9,1074.0 1173.8,1073.4 C1176.8,1072.8 1179.9,1076.0 1182.6,1076.5 C1185.3,1077.0 1187.6,1076.9 1190.1,1076.5 C1192.6,1076.1 1195.3,1074.6 1197.6,1074.0 C1199.9,1073.4 1202.3,1072.8 1203.9,1072.8 C1205.5,1072.8 1204.7,1072.9 1207.0,1074.0 C1209.3,1075.2 1214.7,1079.1 1217.7,1079.6 C1220.7,1080.2 1222.7,1078.0 1225.2,1077.1 C1227.7,1076.3 1230.0,1074.9 1232.7,1074.6 C1235.4,1074.3 1237.9,1075.4 1241.5,1075.3 C1245.0,1075.2 1250.1,1074.2 1254.0,1074.0 C1258.0,1073.8 1262.2,1073.4 1265.3,1074.0 C1268.4,1074.6 1270.1,1076.3 1272.8,1077.8 C1275.5,1079.2 1278.4,1081.7 1281.6,1082.8 C1284.7,1083.8 1289.9,1083.8 1291.6,1084.0"/>
<path d="M1153.8,1107.8 C1155.7,1105.7 1161.9,1098.6 1165.1,1095.3 C1168.2,1092.0 1169.7,1089.7 1172.6,1087.8 C1175.5,1085.9 1179.5,1084.6 1182.6,1084.0 C1185.7,1083.5 1188.9,1084.9 1191.4,1084.7 C1193.9,1084.4 1195.3,1084.1 1197.6,1082.8 C1199.9,1081.4 1203.6,1077.9 1205.2,1076.5 C1206.7,1075.2 1206.7,1074.9 1207.0,1074.6"/>
<path d="M1232.7,1074.6 C1233.6,1075.6 1235.9,1078.5 1237.7,1080.3 C1239.6,1082.0 1241.1,1084.8 1244.0,1085.3 C1246.9,1085.8 1251.5,1083.0 1255.3,1083.4 C1259.0,1083.8 1262.6,1086.2 1266.5,1087.8 C1270.5,1089.4 1274.9,1091.7 1279.1,1092.8 C1283.3,1093.9 1289.5,1094.4 1291.6,1094.7"/>
<path d="M1165.1,1107.8 C1166.3,1106.6 1169.2,1102.5 1172.6,1100.3 C1175.9,1098.1 1180.9,1095.3 1185.1,1094.7 C1189.3,1094.1 1194.0,1095.7 1197.6,1096.6 C1201.3,1097.4 1203.9,1099.2 1207.0,1099.7 C1210.2,1100.2 1212.2,1099.4 1216.4,1099.7 C1220.7,1100.0 1229.2,1102.3 1232.7,1101.6 C1236.3,1100.8 1235.2,1096.5 1237.7,1095.3 C1240.2,1094.2 1244.0,1094.5 1247.8,1094.7 C1251.5,1094.9 1256.1,1095.4 1260.3,1096.6 C1264.5,1097.7 1268.6,1099.9 1272.8,1101.6 C1277.0,1103.2 1283.3,1105.7 1285.3,1106.6"/>
<path d="M1191.4,1107.8 C1192.4,1107.0 1195.3,1104.1 1197.6,1102.8 C1199.9,1101.6 1203.1,1100.3 1205.2,1100.3 C1207.2,1100.3 1208.7,1101.6 1210.2,1102.8 C1211.6,1104.1 1213.3,1107.0 1213.9,1107.8"/>
<path d="M1241.5,960.0 C1242.5,963.1 1245.7,972.5 1247.8,978.8 C1249.8,985.1 1252.1,991.7 1254.0,997.6 C1255.9,1003.4 1256.9,1010.7 1259.0,1013.9 C1261.1,1017.0 1264.2,1015.3 1266.5,1016.4 C1268.8,1017.4 1270.7,1018.5 1272.8,1020.1 C1274.9,1021.8 1277.0,1028.1 1279.1,1026.4 C1281.2,1024.7 1283.3,1014.5 1285.3,1010.1 C1287.4,1005.7 1290.6,1001.8 1291.6,1000.1"/>
<path d="M1144.4,988.8 C1145.3,989.9 1148.3,992.4 1150.0,995.1 C1151.8,997.8 1153.3,1001.8 1155.0,1005.1 C1156.8,1008.4 1158.6,1013.8 1160.7,1015.1 C1162.8,1016.5 1165.4,1013.2 1167.6,1013.2 C1169.8,1013.2 1171.6,1014.3 1173.8,1015.1 C1176.0,1016.0 1178.8,1019.1 1180.7,1018.3 C1182.6,1017.4 1183.5,1014.6 1185.1,1010.1 C1186.7,1005.6 1188.5,997.6 1190.1,991.3 C1191.8,985.1 1193.7,977.7 1195.1,972.5 C1196.6,967.3 1198.3,962.1 1198.9,960.0"/>
<path d="M1260.3,960.0 C1261.3,961.0 1264.0,964.4 1266.5,966.3 C1269.1,968.1 1272.6,969.6 1275.3,971.3 C1278.0,972.9 1280.1,975.0 1282.8,976.3 C1285.5,977.5 1290.1,978.4 1291.6,978.8"/>
</g>
</g>
<rect x="795.6" y="741.6" width="496.7" height="366.0" fill="none" stroke="#000" stroke-width="1.9"/>
<line x1="795.6" y1="741.5" x2="805.6" y2="741.5" stroke="#000" stroke-width="1.9"/>
<line x1="1292.3" y1="741.5" x2="1282.3" y2="741.5" stroke="#000" stroke-width="1.9"/>
<line x1="795.6" y1="785.1" x2="800.3" y2="785.1" stroke="#000" stroke-width="1.9"/>
<line x1="1292.3" y1="785.1" x2="1287.6" y2="785.1" stroke="#000" stroke-width="1.9"/>
<line x1="795.6" y1="828.9" x2="805.6" y2="828.9" stroke="#000" stroke-width="1.9"/>
<line x1="1292.3" y1="828.9" x2="1282.3" y2="828.9" stroke="#000" stroke-width="1.9"/>
<line x1="795.6" y1="872.5" x2="800.3" y2="872.5" stroke="#000" stroke-width="1.9"/>
<line x1="1292.3" y1="872.5" x2="1287.6" y2="872.5" stroke="#000" stroke-width="1.9"/>
<line x1="795.6" y1="916.2" x2="805.6" y2="916.2" stroke="#000" stroke-width="1.9"/>
<line x1="1292.3" y1="916.2" x2="1282.3" y2="916.2" stroke="#000" stroke-width="1.9"/>
<line x1="795.6" y1="960.0" x2="800.3" y2="960.0" stroke="#000" stroke-width="1.9"/>
<line x1="1292.3" y1="960.0" x2="1287.6" y2="960.0" stroke="#000" stroke-width="1.9"/>
<line x1="795.6" y1="1003.6" x2="805.6" y2="1003.6" stroke="#000" stroke-width="1.9"/>
<line x1="1292.3" y1="1003.6" x2="1282.3" y2="1003.6" stroke="#000" stroke-width="1.9"/>
<line x1="795.6" y1="1047.3" x2="800.3" y2="1047.3" stroke="#000" stroke-width="1.9"/>
<line x1="1292.3" y1="1047.3" x2="1287.6" y2="1047.3" stroke="#000" stroke-width="1.9"/>
<line x1="795.6" y1="1091.0" x2="805.6" y2="1091.0" stroke="#000" stroke-width="1.9"/>
<line x1="1292.3" y1="1091.0" x2="1282.3" y2="1091.0" stroke="#000" stroke-width="1.9"/>
<text x="785.1" y="751.9" font-family="'Liberation Sans',sans-serif" font-size="29" text-anchor="end" font-weight="normal" >1</text>
<rect x="770.14" y="749.00" width="6.06" height="3.33" fill="#fff"/><rect x="778.87" y="749.00" width="6.35" height="3.33" fill="#fff"/>
<text x="785.1" y="837.5" font-family="'Liberation Sans',sans-serif" font-size="29" text-anchor="end" font-weight="normal" >0.5</text>

<text x="785.1" y="925.8" font-family="'Liberation Sans',sans-serif" font-size="29" text-anchor="end" font-weight="normal" >0</text>

<text x="785.1" y="1011.0" font-family="'Liberation Sans',sans-serif" font-size="29" text-anchor="end" font-weight="normal" >−0.5</text>

<text x="785.1" y="1097.2" font-family="'Liberation Sans',sans-serif" font-size="29" text-anchor="end" font-weight="normal" >−1</text>
<rect x="770.14" y="1094.30" width="6.06" height="3.33" fill="#fff"/><rect x="778.87" y="1094.30" width="6.35" height="3.33" fill="#fff"/>
<text x="795.6" y="1144.2" font-family="'Liberation Serif',serif" font-size="30.5" text-anchor="middle" font-weight="normal" >Γ</text>
<text x="836.4" y="1144.2" font-family="'Liberation Sans',sans-serif" font-size="29" text-anchor="middle" font-weight="normal" >X</text>
<text x="876.6" y="1144.2" font-family="'Liberation Sans',sans-serif" font-size="29" text-anchor="middle" font-weight="normal" >S</text>
<text x="917.2" y="1144.2" font-family="'Liberation Sans',sans-serif" font-size="29" text-anchor="middle" font-weight="normal" >Y</text>
<text x="957.3" y="1144.2" font-family="'Liberation Serif',serif" font-size="30.5" text-anchor="middle" font-weight="normal" >Γ</text>
<text x="982.8" y="1144.2" font-family="'Liberation Sans',sans-serif" font-size="29" text-anchor="middle" font-weight="normal" >Z</text>
<text x="1023.8" y="1144.2" font-family="'Liberation Sans',sans-serif" font-size="29" text-anchor="middle" font-weight="normal" >U</text>
<text x="1063.4" y="1144.2" font-family="'Liberation Sans',sans-serif" font-size="29" text-anchor="middle" font-weight="normal" >R</text>
<text x="1104.3" y="1144.2" font-family="'Liberation Sans',sans-serif" font-size="29" text-anchor="middle" font-weight="normal" >T</text>
<text x="1144.6" y="1144.2" font-family="'Liberation Sans',sans-serif" font-size="29" text-anchor="middle" font-weight="normal" >Z</text>
<text x="1207.4" y="1144.2" font-family="'Liberation Sans',sans-serif" font-size="29" text-anchor="middle" font-weight="normal" >S</text>
<text x="1232.6" y="1144.2" font-family="'Liberation Sans',sans-serif" font-size="29" text-anchor="middle" font-weight="normal" >R</text>
<text x="1292.3" y="1144.2" font-family="'Liberation Serif',serif" font-size="30.5" text-anchor="middle" font-weight="normal" >Γ</text>
<text x="0" y="0" transform="translate(704.1,913.9) rotate(-90)" font-family="'Liberation Sans',sans-serif" font-size="29" text-anchor="middle">Energy (eV)</text>
<path fill="none" stroke="#34d72b" stroke-width="1.8" d="M80 1205.1l-3.9 0M97.3 1224.5l-5.2 -6.4M99.3 1237.2l-8 -5M116.1 1252l-6.9 -5.9M83.2 1261.2l-10.3 0M185.8 1322.8l-5.7 -6.6M238.7 1322.8l-5.7 -6.6M311.5 1320.7l-8.7 -4.3M329.9 1319.2l-9.8 -2.5M168.3 1336.7l-5.9 -6.5M433 1325.9l-5.9 6.5M450.3 1325.8l-5.5 6.7M467.8 1325.7l-5.3 6.8M168 1350.9l-5.5 -6.7M485.2 1339.5l-4.9 6.9M167.5 1365.2l-4.9 -7M166.8 1379.5l-4 -7.2M501.9 1367.2l-3.7 7.3M163.4 1422.2l0 -7.8M516.4 1408.7l0 7.8M177.9 1463.7l3.7 -7.3M513 1451.4l4 7.2M512.3 1465.7l4.9 7M194.6 1491.3l4.9 -6.9M511.8 1480l5.5 6.7M212 1505.2l5.3 -6.8M229.5 1505.1l5.5 -6.7M246.8 1505l5.9 -6.5M511.5 1494.2l5.9 6.5M349.9 1511.6l9.8 2.5M368.3 1510.2l8.7 4.3M441.1 1508.1l5.7 6.6M494 1508.1l5.7 6.6M596.6 1569.7l10.3 0M563.7 1578.9l6.9 5.9M580.5 1593.7l8 5M582.6 1606.4l5.2 6.4"/>
<path fill="#34d72b" d="M70.4 1205.1l6.5 -3.5l0 7zM604.6 1202.5l2.8 4.6l-5.5 0zM88.4 1213.7l6.8 2.8l-5.4 4.4zM86.4 1229.1l7.4 0.5l-3.7 5.9zM104.8 1242.4l7.2 1.5l-4.5 5.3zM67.2 1261.2l6.5 -3.5l0 7zM176.4 1311.8l6.9 2.7l-5.3 4.5zM229.3 1311.8l6.9 2.7l-5.3 4.5zM297.7 1313.8l7.4 -0.2l-3.1 6.3zM314.6 1315.3l7.2 -1.8l-1.7 6.8zM158.6 1325.9l6.9 2.5l-5.2 4.7zM423.3 1336.7l1.7 -7.2l5.2 4.7zM441.2 1336.9l1.4 -7.2l5.4 4.4zM459 1336.9l1.2 -7.3l5.5 4.3zM158.9 1339.8l6.8 2.8l-5.4 4.4zM477 1351.1l0.9 -7.3l5.7 4.1zM159.4 1353.5l6.6 3.3l-5.7 4zM160 1367.3l6.2 4l-6.1 3.4zM495.6 1379.6l-0.2 -7.4l6.2 3.2zM163.4 1408.7l3.5 6.5l-7 0zM516.4 1422.2l-3.5 -6.5l7 0zM184.2 1451.3l0.2 7.4l-6.2 -3.2zM519.8 1463.6l-6.2 -4l6.1 -3.4zM520.4 1477.3l-6.6 -3.3l5.7 -4zM202.8 1479.8l-0.9 7.3l-5.7 -4.1zM520.9 1491.1l-6.8 -2.8l5.4 -4.4zM220.8 1493.9l-1.2 7.3l-5.5 -4.3zM238.6 1494l-1.4 7.2l-5.4 -4.4zM256.5 1494.2l-1.7 7.2l-5.2 -4.7zM521.2 1505l-6.9 -2.5l5.2 -4.7zM365.2 1515.6l-7.2 1.8l1.7 -6.8zM382.1 1517l-7.4 0.2l3.1 -6.3zM450.5 1519.1l-6.9 -2.7l5.3 -4.5zM503.4 1519.1l-6.9 -2.7l5.3 -4.5zM612.6 1569.7l-6.5 3.5l0 -7zM575 1588.5l-7.2 -1.5l4.5 -5.3zM593.4 1601.8l-7.4 -0.5l3.7 -5.9zM591.4 1617.2l-6.8 -2.8l5.4 -4.4zM75.2 1628.4l-2.8 -4.6l5.5 0zM604.6 1623.2l2.8 4.6l-5.5 0z"/>
<path fill="none" stroke="#2bd72b" stroke-width="1.8" d="M92.8 1210.9l0 -6M611.5 1219.1l-8.1 0M115 1238.7l-5.5 -6.7M168.4 1322.6l-6 -6.4M203.3 1322.8l-5.5 -6.7M468 1311.7l-5.5 6.7M502.5 1353.4l-4.5 7.1M177.3 1477.5l4.5 -7.1M211.8 1519.2l5.5 -6.7M476.5 1508l5.5 6.7M511.4 1508.3l6 6.4M564.8 1592.2l5.5 6.7M68.3 1611.8l8.1 0M587 1620l0 6"/>
<path fill="#2bd72b" d="M92.8 1199.3l3.5 6.5l-7 0zM597.7 1219.1l6.5 -3.5l0 7zM106 1227.6l6.8 2.8l-5.4 4.4zM158.5 1312l7 2.3l-5.1 4.8zM194.2 1311.7l6.8 2.8l-5.4 4.4zM458.9 1322.8l1.4 -7.2l5.4 4.4zM494.9 1365.3l0.5 -7.4l5.9 3.8zM184.9 1465.6l-0.5 7.4l-5.9 -3.8zM220.9 1508l-1.4 7.2l-5.4 -4.4zM485.6 1519.2l-6.8 -2.8l5.4 -4.4zM521.3 1518.9l-7 -2.3l5.1 -4.8zM573.9 1603.3l-6.8 -2.8l5.4 -4.4zM82.1 1611.8l-6.5 3.5l0 -7zM587 1631.6l-3.5 -6.5l7 0z"/>
<path fill="none" stroke="#2bd734" stroke-width="1.8" d="M110.5 1211.8l0 -7.8M569.3 1198.4l0 7.8M587 1199.3l0 6M113.2 1225.5l-3.1 -7.5M573.9 1227.6l-5.5 6.7M593.4 1229.1l-8 5M612.6 1233.1l-10.3 0M132.7 1252.7l-5.5 -6.7M556.2 1241.6l-5.5 6.7M575 1242.4l-6.9 5.9M594.1 1244.1l-9 3.9M612.6 1247.2l-10.3 0M100.3 1263.7l-9.4 -3.2M116.8 1265.4l-7.8 -5.2M83.2 1275.2l-10.3 0M133.8 1279.9l-7 -5.8M134.1 1293.7l-7.4 -5.6M151.1 1294.3l-6.5 -6.2M168.3 1294.6l-5.9 -6.5M467.8 1283.6l-5.3 6.8M485.5 1283.6l-5.3 6.8M503.3 1283.7l-5.5 6.7M521.2 1283.9l-5.9 6.5M539.3 1284.2l-6.5 6.2M168.4 1308.6l-6 -6.4M185.8 1308.7l-5.7 -6.6M468 1297.7l-5.5 6.7M151.2 1322.2l-6.6 -6.1M220.9 1322.8l-5.5 -6.7M347.9 1317.3l-10.3 0M365.2 1315.3l-9.8 2.5M382.1 1313.8l-8.7 4.3M398.9 1312.9l-7.5 5.4M415.9 1312.3l-6.6 6.1M433.1 1312l-6 6.4M450.5 1311.8l-5.7 6.6M485.6 1311.7l-5.5 6.7M503.4 1311.8l-5.7 6.6M151.1 1336.4l-6.5 -6.2M485.5 1325.7l-5.3 6.8M503.3 1325.8l-5.5 6.7M503 1339.6l-5.1 6.9M517.7 1394.8l-1.5 7.7M162.1 1436.1l1.5 -7.7M176.8 1491.3l5.1 -6.9M176.5 1505.1l5.5 -6.7M194.3 1505.2l5.3 -6.8M528.7 1494.5l6.5 6.2M176.4 1519.1l5.7 -6.6M194.2 1519.2l5.5 -6.7M229.3 1519.1l5.7 -6.6M246.7 1518.9l6 -6.4M263.9 1518.6l6.6 -6.1M280.9 1518l7.5 -5.4M297.7 1517l8.7 -4.3M314.6 1515.6l9.8 -2.5M331.9 1513.6l10.3 0M458.9 1508l5.5 6.7M528.6 1508.6l6.6 6.1M211.8 1533.2l5.5 -6.7M494 1522.2l5.7 6.6M511.4 1522.3l6 6.4M140.5 1546.7l6.5 -6.2M158.6 1547l5.9 -6.5M176.5 1547.2l5.5 -6.7M194.3 1547.3l5.3 -6.8M212 1547.3l5.3 -6.8M511.5 1536.3l5.9 6.5M528.7 1536.6l6.5 6.2M545.7 1537.1l7.4 5.6M546 1550.9l7 5.8M596.6 1555.7l10.3 0M563 1565.5l7.8 5.2M579.5 1567.2l9.4 3.2M67.2 1583.7l10.3 0M85.7 1586.8l9 -3.9M104.8 1588.5l6.9 -5.9M123.6 1589.3l5.5 -6.7M547.1 1578.2l5.5 6.7M67.2 1597.7l10.3 0M86.4 1601.8l8 -5M106 1603.3l5.5 -6.7M566.7 1605.4l3.1 7.5M92.8 1631.6l0 -6M110.5 1632.5l0 -7.8M569.3 1619l0 7.8"/>
<path fill="#2bd734" d="M110.5 1198.4l3.5 6.5l-7 0zM569.3 1211.8l-3.5 -6.5l7 0zM587 1210.9l-3.5 -6.5l7 0zM107.8 1212.8l5.7 4.6l-6.5 2.7zM564.8 1238.7l1.4 -7.2l5.4 4.4zM580.5 1237.2l3.7 -6.4l3.7 5.9zM596.6 1233.1l6.5 -3.5l0 7zM123.6 1241.6l6.8 2.8l-5.4 4.4zM547.1 1252.7l1.4 -7.2l5.4 4.4zM563.7 1252l2.7 -6.9l4.5 5.3zM579.8 1250.2l4.6 -5.8l2.8 6.4zM596.6 1247.2l6.5 -3.5l0 7zM85.4 1258.7l7.3 -1.2l-2.3 6.6zM104.2 1257l7.3 0.7l-3.9 5.8zM67.2 1275.2l6.5 -3.5l0 7zM122.4 1270.5l7.2 1.5l-4.5 5.4zM122.2 1284.7l7.3 1.1l-4.2 5.6zM140.5 1284.2l7.1 2l-4.8 5.1zM158.6 1283.9l6.9 2.5l-5.2 4.7zM459 1294.9l1.2 -7.3l5.5 4.3zM476.7 1294.9l1.2 -7.3l5.5 4.3zM494.2 1294.8l1.4 -7.2l5.4 4.4zM511.5 1294.6l1.7 -7.2l5.2 4.7zM528.7 1294.3l2.3 -7l4.8 5.1zM158.5 1298l7 2.3l-5.1 4.8zM176.4 1297.8l6.9 2.7l-5.3 4.5zM458.9 1308.8l1.4 -7.2l5.4 4.4zM140.4 1312.3l7.2 1.8l-4.7 5.2zM211.8 1311.7l6.8 2.8l-5.4 4.4zM331.9 1317.3l6.5 -3.5l0 7zM349.9 1319.2l5.4 -5l1.7 6.8zM368.3 1320.7l4.2 -6l3.1 6.3zM386.8 1321.7l3.2 -6.6l4.1 5.7zM405.1 1322.2l2.4 -7l4.7 5.2zM423.2 1322.6l1.9 -7.1l5.1 4.8zM441.1 1322.8l1.6 -7.2l5.3 4.5zM476.5 1322.8l1.4 -7.2l5.4 4.4zM494 1322.8l1.6 -7.2l5.3 4.5zM140.5 1326.2l7.1 2l-4.8 5.1zM476.7 1336.9l1.2 -7.3l5.5 4.3zM494.2 1336.9l1.4 -7.2l5.4 4.4zM494.5 1351l1.1 -7.3l5.6 4.2zM515.1 1408.1l-2.2 -7.1l6.9 1.3zM164.7 1422.8l2.2 7.1l-6.9 -1.3zM185.3 1479.8l-1.1 7.3l-5.6 -4.2zM185.6 1494l-1.4 7.2l-5.4 -4.4zM203.1 1493.9l-1.2 7.3l-5.5 -4.3zM539.3 1504.6l-7.1 -2l4.8 -5.1zM185.8 1508.1l-1.6 7.2l-5.3 -4.5zM203.3 1508l-1.4 7.2l-5.4 -4.4zM238.7 1508.1l-1.6 7.2l-5.3 -4.5zM256.6 1508.3l-1.9 7.1l-5.1 -4.8zM274.7 1508.6l-2.4 7l-4.7 -5.2zM293 1509.2l-3.2 6.6l-4.1 -5.7zM311.5 1510.2l-4.2 6l-3.1 -6.3zM329.9 1511.6l-5.4 5l-1.7 -6.8zM347.9 1513.6l-6.5 3.5l0 -7zM468 1519.2l-6.8 -2.8l5.4 -4.4zM539.4 1518.6l-7.2 -1.8l4.7 -5.2zM220.9 1522.1l-1.4 7.2l-5.4 -4.4zM503.4 1533.1l-6.9 -2.7l5.3 -4.5zM521.3 1532.9l-7 -2.3l5.1 -4.8zM151.1 1536.6l-2.3 7l-4.8 -5.1zM168.3 1536.3l-1.7 7.2l-5.2 -4.7zM185.6 1536.1l-1.4 7.2l-5.4 -4.4zM203.1 1536l-1.2 7.3l-5.5 -4.3zM220.8 1536l-1.2 7.3l-5.5 -4.3zM521.2 1547l-6.9 -2.5l5.2 -4.7zM539.3 1546.7l-7.1 -2l4.8 -5.1zM557.6 1546.2l-7.3 -1.1l4.2 -5.6zM557.4 1560.4l-7.2 -1.5l4.5 -5.4zM612.6 1555.7l-6.5 3.5l0 -7zM575.6 1573.9l-7.3 -0.7l3.9 -5.8zM594.4 1572.2l-7.3 1.2l2.3 -6.6zM83.2 1583.7l-6.5 3.5l0 -7zM100 1580.6l-4.6 5.8l-2.8 -6.4zM116.1 1578.9l-2.7 6.9l-4.5 -5.3zM132.7 1578.2l-1.4 7.2l-5.4 -4.4zM556.2 1589.3l-6.8 -2.8l5.4 -4.4zM83.2 1597.7l-6.5 3.5l0 -7zM99.3 1593.7l-3.7 6.4l-3.7 -5.9zM115 1592.2l-1.4 7.2l-5.4 -4.4zM572 1618.1l-5.7 -4.6l6.5 -2.7zM92.8 1620l3.5 6.5l-7 0zM110.5 1619l3.5 6.5l-7 0zM569.3 1632.5l-3.5 -6.5l7 0z"/>
<path fill="none" stroke="#2bd766" stroke-width="1.8" d="M128.1 1211.8l0 -7.8M535.5 1212.5l-1.8 7.7M148.6 1239.5l-3.3 -7.4M167.5 1267l-4.9 -7M520.4 1255.4l-4.9 7M485.2 1269.4l-4.9 6.9M100.5 1291.3l-9.7 -2.6M203.1 1294.9l-5.3 -6.8M433 1283.9l-5.9 6.5M576.1 1285.7l-8.5 4.5M594.6 1287.2l-9.7 2.6M612.6 1289.2l-10.3 0M117.4 1306.7l-8.7 -4.3M274.7 1308.2l-6.6 -6.1M293 1307.7l-7.5 -5.4M382.1 1299.8l-8.7 4.3M398.9 1298.9l-7.5 5.4M557.7 1298.9l-7.5 5.4M134.1 1335.8l-7.4 -5.6M539.3 1326.2l-6.5 6.2M150.3 1364.9l-5.5 -6.7M519.8 1367.3l-4 7.2M147.3 1408l-1.8 -7.7M532.5 1422.8l1.8 7.7M160 1463.6l4 -7.2M529.5 1466l5.5 6.7M140.5 1504.6l6.5 -6.2M545.7 1495.1l7.4 5.6M122.1 1532l7.5 -5.4M280.9 1532l7.5 -5.4M297.7 1531.1l8.7 -4.3M386.8 1523.2l7.5 5.4M405.1 1522.7l6.6 6.1M562.4 1524.2l8.7 4.3M67.2 1541.7l10.3 0M85.2 1543.7l9.7 -2.6M103.7 1545.2l8.5 -4.5M246.8 1547l5.9 -6.5M476.7 1536l5.3 6.8M579.3 1539.6l9.7 2.6M194.6 1561.5l4.9 -6.9M159.4 1575.5l4.9 -7M512.3 1563.9l4.9 7M531.2 1591.4l3.3 7.4M144.3 1618.4l1.8 -7.7M551.7 1619l0 7.8"/>
<path fill="#2bd766" d="M128.1 1198.4l3.5 6.5l-7 0zM532.5 1225.8l-2 -7.1l6.8 1.6zM143 1226.8l5.8 4.5l-6.4 2.9zM159.4 1255.4l6.6 3.3l-5.7 4zM512.3 1267l0.9 -7.3l5.7 4zM477 1281l0.9 -7.3l5.7 4.1zM85.2 1287.2l7.2 -1.7l-1.8 6.8zM194.3 1283.6l6.8 3l-5.5 4.3zM423.3 1294.6l1.7 -7.2l5.2 4.7zM562.5 1292.8l4.1 -6.1l3.2 6.2zM579.3 1291.3l5.4 -5.1l1.8 6.8zM596.6 1289.2l6.5 -3.5l0 7zM103.6 1299.8l7.4 -0.2l-3.1 6.3zM263.9 1298.3l7.2 1.8l-4.7 5.2zM280.9 1298.9l7.3 1l-4.1 5.7zM368.3 1306.7l4.2 -6l3.1 6.3zM386.8 1307.7l3.2 -6.6l4.1 5.7zM545.6 1307.7l3.2 -6.6l4.1 5.7zM122.2 1326.8l7.3 1.1l-4.2 5.6zM528.7 1336.4l2.3 -7l4.8 5.1zM141.2 1353.8l6.8 2.8l-5.4 4.4zM513 1379.5l0.1 -7.4l6.1 3.4zM144.3 1394.8l4.9 5.6l-6.8 1.6zM535.5 1436.1l-4.9 -5.6l6.8 -1.6zM166.8 1451.4l-0.1 7.4l-6.1 -3.4zM538.6 1477.1l-6.8 -2.8l5.4 -4.4zM151.1 1494.5l-2.3 7l-4.8 -5.1zM557.6 1504.1l-7.3 -1.1l4.2 -5.6zM134.2 1523.2l-3.2 6.6l-4.1 -5.7zM293 1523.2l-3.2 6.6l-4.1 -5.7zM311.5 1524.2l-4.2 6l-3.1 -6.3zM398.9 1532l-7.3 -1l4.1 -5.7zM415.9 1532.6l-7.2 -1.8l4.7 -5.2zM576.2 1531.1l-7.4 0.2l3.1 -6.3zM83.2 1541.7l-6.5 3.5l0 -7zM100.5 1539.6l-5.4 5.1l-1.8 -6.8zM117.3 1538.1l-4.1 6.1l-3.2 -6.2zM256.5 1536.3l-1.7 7.2l-5.2 -4.7zM485.5 1547.3l-6.8 -3l5.5 -4.3zM594.6 1543.7l-7.2 1.7l1.8 -6.8zM202.8 1549.9l-0.9 7.3l-5.7 -4.1zM167.5 1563.9l-0.9 7.3l-5.7 -4zM520.4 1575.5l-6.6 -3.3l5.7 -4zM536.8 1604.1l-5.8 -4.5l6.4 -2.9zM147.3 1605.1l2 7.1l-6.8 -1.6zM551.7 1632.5l-3.5 -6.5l7 0z"/>
<path fill="none" stroke="#2bd788" stroke-width="1.8" d="M145.8 1211.8l0 -7.8M202.8 1281l-4.9 -6.9M450 1269.5l-5.1 6.9M256.5 1294.6l-5.9 -6.5M398.8 1284.7l-7.4 5.6M83.2 1303.3l-10.3 0M100.5 1305.2l-9.8 -2.5M117.3 1334.9l-8.5 -4.5M557.6 1326.8l-7.4 5.6M535.5 1394.8l-1.8 7.7M144.3 1436.1l1.8 -7.7M122.2 1504.1l7.4 -5.6M562.5 1496l8.5 4.5M579.3 1525.7l9.8 2.5M596.6 1527.6l10.3 0M281 1546.2l7.4 -5.6M423.3 1536.3l5.9 6.5M229.8 1561.4l5.1 -6.9M477 1549.9l4.9 6.9M534 1619l0 7.8"/>
<path fill="#2bd788" d="M145.8 1198.4l3.5 6.5l-7 0zM194.6 1269.4l6.6 3.3l-5.7 4.1zM441.5 1280.9l1.1 -7.3l5.6 4.2zM246.8 1283.9l6.9 2.5l-5.2 4.7zM386.9 1293.7l3.1 -6.7l4.2 5.6zM67.2 1303.3l6.5 -3.5l0 7zM85.2 1301.3l7.2 -1.8l-1.7 6.8zM103.7 1327.8l7.4 -0.1l-3.2 6.2zM545.7 1335.8l3.1 -6.7l4.2 5.6zM532.5 1408l-2 -7.1l6.8 1.6zM147.3 1422.8l2 7.1l-6.8 -1.6zM134.1 1495.1l-3.1 6.7l-4.2 -5.6zM576.1 1503.1l-7.4 0.1l3.2 -6.2zM594.6 1529.6l-7.2 1.8l1.7 -6.8zM612.6 1527.6l-6.5 3.5l0 -7zM292.9 1537.1l-3.1 6.7l-4.2 -5.6zM433 1547l-6.9 -2.5l5.2 -4.7zM238.3 1550l-1.1 7.3l-5.6 -4.2zM485.2 1561.5l-6.6 -3.3l5.7 -4.1zM534 1632.5l-3.5 -6.5l7 0z"/>
<path fill="none" stroke="#2bd7c2" stroke-width="1.8" d="M163.4 1211.8l0 -7.8M256.2 1280.8l-5.5 -6.7M398.5 1270.5l-7 5.8M281.3 1560.4l7 -5.8M423.6 1550.1l5.5 6.7M516.4 1619l0 7.8"/>
<path fill="#2bd7c2" d="M163.4 1198.3l3.5 6.5l-7 0zM247.1 1269.7l6.8 2.8l-5.4 4.4zM387.1 1279.9l2.8 -6.8l4.5 5.4zM292.7 1550.9l-2.8 6.8l-4.5 -5.4zM432.7 1561.2l-6.8 -2.8l5.4 -4.4zM516.4 1632.5l-3.5 -6.5l7 0z"/>
<path fill="none" stroke="#2bbad7" stroke-width="1.8" d="M181.1 1211.8l0 -7.8M498.7 1198.3l0 7.8M219.4 1253.4l-3.6 -7.4M448.9 1241l-3.7 7.3M365.1 1273l-9.6 2.8M83 1331.3l-10 0M116.1 1378.1l-6.9 -5.9M563.7 1452.7l6.9 5.9M596.8 1499.6l10 0M314.7 1557.9l9.6 -2.8M230.9 1589.9l3.7 -7.3M460.4 1577.5l3.6 7.4M181.1 1632.5l0 -7.8M498.7 1619l0 7.8"/>
<path fill="#2bbad7" d="M181.1 1198.3l3.5 6.5l-7 0zM498.7 1211.8l-3.5 -6.5l7 0zM213.4 1240.9l6 4.3l-6.3 3zM442.7 1253.4l-0.2 -7.4l6.2 3.2zM350 1277.4l5.3 -5.2l2 6.7zM67.4 1331.3l6.5 -3.5l0 7zM104.9 1368.6l7.2 1.5l-4.5 5.3zM575 1462.3l-7.2 -1.5l4.5 -5.3zM612.5 1499.6l-6.5 3.5l0 -7zM329.8 1553.5l-5.3 5.2l-2 -6.7zM237.2 1577.5l0.2 7.4l-6.2 -3.2zM466.5 1590l-6 -4.3l6.3 -3zM181.1 1619l3.5 6.5l-7 0zM498.7 1632.5l-3.5 -6.5l7 0z"/>
<path fill="none" stroke="#2b98d7" stroke-width="1.8" d="M198.7 1211.8l0 -7.8M448.1 1226.7l-2.6 7.6M273.9 1266.7l-5.5 -6.7M82.7 1345.3l-9.4 0M573.8 1381.9l-5.4 6.7M106 1449l5.4 -6.7M597.1 1485.6l9.4 0M406 1564.1l5.5 6.7M231.8 1604.2l2.6 -7.6M481.1 1619l0 7.8"/>
<path fill="#2b98d7" d="M198.7 1198.3l3.5 6.5l-7 0zM443.5 1239.6l-1.2 -7.3l6.6 2.3zM264.8 1255.6l6.8 2.8l-5.4 4.4zM67.7 1345.3l6.5 -3.5l0 7zM564.8 1392.9l1.4 -7.2l5.4 4.4zM115 1438l-1.4 7.2l-5.4 -4.4zM612.2 1485.6l-6.5 3.5l0 -7zM415 1575.3l-6.8 -2.8l5.4 -4.4zM236.3 1591.3l1.2 7.3l-6.6 -2.3zM481.1 1632.5l-3.5 -6.5l7 0z"/>
<path fill="none" stroke="#2b7fd7" stroke-width="1.8" d="M216.4 1211.8l0 -7.8M430.6 1226.7l-2.9 7.5M255.1 1253.3l-4 -7.2M397.4 1241.6l-5.5 6.7M310.9 1265.4l-7.8 -5.2M612.2 1345.3l-9.4 0M99.4 1376.2l-7.9 -3.4M580.4 1454.7l7.9 3.4M67.7 1485.6l9.4 0M368.9 1565.5l7.8 5.2M282.4 1589.3l5.5 -6.7M424.7 1577.6l4 7.2M249.2 1604.2l2.9 -7.5M463.4 1619l0 7.8"/>
<path fill="#2b7fd7" d="M216.4 1198.3l3.5 6.5l-7 0zM425.7 1239.6l-0.9 -7.3l6.5 2.5zM248.3 1241.1l6.2 4l-6.1 3.4zM388.3 1252.7l1.4 -7.2l5.4 4.4zM298.3 1257l7.3 0.7l-3.9 5.8zM597.1 1345.3l6.5 -3.5l0 7zM86.3 1370.5l7.4 -0.6l-2.8 6.4zM593.5 1460.4l-7.4 0.6l2.8 -6.4zM82.7 1485.6l-6.5 3.5l0 -7zM381.5 1573.9l-7.3 -0.7l3.9 -5.8zM291.5 1578.2l-1.4 7.2l-5.4 -4.4zM431.5 1589.8l-6.2 -4l6.1 -3.4zM254.1 1591.3l0.9 7.3l-6.5 -2.5zM463.4 1632.5l-3.5 -6.5l7 0z"/>
<path fill="none" stroke="#2b5ed7" stroke-width="1.8" d="M234 1211.8l0 -7.8M429.4 1212.5l-1.5 7.7M396.3 1227.1l-4.1 7.2M611.5 1359.4l-8.1 0M592.6 1383.9l-6.4 4M87.2 1447l6.4 -4M68.3 1471.5l8.1 0M283.5 1603.8l4.1 -7.2M250.4 1618.4l1.5 -7.7M445.8 1619l0 7.8"/>
<path fill="#2b5ed7" d="M234 1198.3l3.5 6.5l-7 0zM426.8 1225.8l-2.2 -7.1l6.9 1.3zM389.4 1239.2l0.2 -7.4l6.1 3.4zM597.7 1359.4l6.5 -3.5l0 7zM581.4 1390.9l3.7 -6.4l3.7 5.9zM98.5 1440l-3.7 6.4l-3.7 -5.9zM82.1 1471.5l-6.5 3.5l0 -7zM290.4 1591.7l-0.2 7.4l-6.1 -3.4zM253 1605.1l2.2 7.1l-6.9 -1.3zM445.8 1632.5l-3.5 -6.5l7 0z"/>
<path fill="none" stroke="#2b3cd7" stroke-width="1.8" d="M251.7 1211.8l0 -7.8M428.1 1198.4l0 7.8M377.9 1212.8l-3.1 7.4M309.2 1238.7l-5.5 -6.7M347.7 1233.1l-9.9 0M329.4 1250.2l-9 -3.9M610.5 1373.4l-6 0M79.7 1387.4l-3.3 0M600.1 1443.5l3.3 0M69.4 1457.5l6 0M350.4 1580.6l9 3.9M332.1 1597.7l9.9 0M370.7 1592.2l5.5 6.7M302 1618.1l3.1 -7.4M251.7 1632.5l0 -7.8M428.1 1619l0 7.8"/>
<path fill="#2b3cd7" d="M251.7 1198.4l3.5 6.5l-7 0zM428.1 1211.8l-3.5 -6.5l7 0zM372.5 1225.5l-0.7 -7.3l6.5 2.7zM300.1 1227.6l6.8 2.8l-5.4 4.4zM332.1 1233.1l6.5 -3.5l0 7zM315.1 1244.1l7.4 -0.6l-2.8 6.4zM598.8 1373.4l6.5 -3.5l0 7zM70.7 1387.4l6.5 -3.5l0 7zM609.1 1443.5l-6.5 3.5l0 -7zM81 1457.5l-6.5 3.5l0 -7zM364.7 1586.8l-7.4 0.6l2.8 -6.4zM347.7 1597.7l-6.5 3.5l0 -7zM379.7 1603.3l-6.8 -2.8l5.4 -4.4zM307.3 1605.4l0.7 7.3l-6.5 -2.7zM251.7 1619l3.5 6.5l-7 0zM428.1 1632.5l-3.5 -6.5l7 0z"/>
<path fill="none" stroke="#2b34d7" stroke-width="1.8" d="M269.3 1211.8l0 -7.8M288.9 1225.7l-2.2 -7.6M361.7 1214l-4.7 5.8M609.1 1387.4l-3.3 0M70.7 1443.5l3.3 0M318.1 1616.9l4.7 -5.8M391 1605.2l2.2 7.6M410.5 1619l0 7.8"/>
<path fill="#2b34d7" d="M269.3 1198.4l3.5 6.5l-7 0zM285.1 1212.6l5.2 5.3l-6.7 1.9zM353.4 1224.2l1.4 -7.2l5.4 4.4zM600.1 1387.4l6.5 -3.5l0 7zM79.7 1443.5l-6.5 3.5l0 -7zM326.4 1606.7l-1.4 7.2l-5.4 -4.4zM394.7 1618.3l-5.2 -5.3l6.7 -1.9zM410.5 1632.5l-3.5 -6.5l7 0z"/>
<path fill="none" stroke="#2b2bd7" stroke-width="1.8" d="M287 1211.8l0 -7.8M375.2 1198.4l0 7.7M392.8 1198.4l0 7.8M410.5 1198.4l0 7.8M307.3 1225.5l-3.1 -7.4M328.6 1237.1l-7.9 -5M351.2 1593.8l7.9 5M372.5 1605.4l3.1 7.4M269.3 1632.5l0 -7.8M287 1632.5l0 -7.8M304.6 1632.5l0 -7.7M392.8 1619l0 7.8"/>
<path fill="#2b2bd7" d="M287 1198.4l3.5 6.5l-7 0zM375.2 1211.8l-3.5 -6.5l7 0zM392.8 1211.8l-3.5 -6.5l7 0zM410.5 1211.8l-3.5 -6.5l7 0zM302 1212.8l5.7 4.6l-6.5 2.7zM315.9 1229.2l7.4 0.5l-3.7 5.9zM71.9 1401.4l5.9 -3.5l0 7zM601.3 1401.4l5.9 -3.5l0 7zM77.2 1413.8l-1.8 5.1l-3.6 -4.3zM78.5 1429.5l-5.9 3.5l0 -7zM607.9 1429.5l-5.9 3.5l0 -7zM363.9 1601.7l-7.4 -0.5l3.7 -5.9zM377.9 1618.1l-5.7 -4.6l6.5 -2.7zM269.3 1619l3.5 6.5l-7 0zM287 1619l3.5 6.5l-7 0zM304.6 1619.1l3.5 6.5l-7 0zM392.8 1632.5l-3.5 -6.5l7 0z"/>
<path fill="none" stroke="#3c2bd7" stroke-width="1.8" d="M304.6 1211.8l0 -7.7M357.6 1199.6l0 5.2M322.3 1631.3l0 -5.2M375.2 1619.1l0 7.7"/>
<path fill="#3c2bd7" d="M304.6 1198.4l3.5 6.5l-7 0zM357.6 1210.6l-3.5 -6.5l7 0zM322.3 1620.3l3.5 6.5l-7 0zM375.2 1632.5l-3.5 -6.5l7 0z"/>
<path fill="none" stroke="#442bd7" stroke-width="1.8" d="M322.3 1210.6l0 -5.2M357.6 1620.3l0 5.2"/>
<path fill="#442bd7" d="M322.3 1199.6l3.5 6.5l-7 0zM342.7 1205.1l-5 3l0 -6zM606.6 1413.8l-1.8 5.1l-3.6 -4.3zM337.1 1625.8l5 -3l0 6zM357.6 1631.3l-3.5 -6.5l7 0z"/>
<path fill="none" stroke="#2b4dd7" stroke-width="1.8" d="M445.8 1198.3l0 7.8M253 1225.8l-1.5 -7.7M412 1212.5l-1.8 7.7M363.9 1229.2l-7.9 5M379.7 1227.6l-5.5 6.7M291.5 1252.7l-5.5 -6.7M310.3 1251.9l-6.9 -5.9M347.9 1247.2l-10.3 0M81 1373.4l-6 0M96.6 1406l-3.9 -4.8M590.7 1396.8l-3.9 4.8M92.8 1420.9l0 -5.2M587 1410l0 5.2M89.1 1434.1l3.9 -4.8M583.2 1424.9l3.9 4.8M598.8 1457.5l6 0M331.9 1583.7l10.3 0M369.6 1578.9l6.9 5.9M388.3 1578.2l5.5 6.7M300.1 1603.3l5.5 -6.7M315.9 1601.7l7.9 -5M267.8 1618.4l1.8 -7.7M426.8 1605.1l1.5 7.7M234 1632.5l0 -7.8"/>
<path fill="#2b4dd7" d="M445.8 1211.8l-3.5 -6.5l7 0zM250.4 1212.5l4.7 5.7l-6.9 1.3zM409 1225.8l-2 -7.1l6.8 1.6zM351.2 1237.1l3.7 -6.4l3.7 5.9zM370.7 1238.7l1.4 -7.2l5.4 4.4zM282.4 1241.6l6.8 2.8l-5.4 4.4zM299 1242.4l7.2 1.5l-4.5 5.3zM331.9 1247.2l6.5 -3.5l0 7zM69.4 1373.4l6.5 -3.5l0 7zM89.1 1396.8l6.8 2.8l-5.4 4.4zM583.2 1406l1.4 -7.2l5.4 4.4zM92.8 1410l3.5 6.5l-7 0zM587 1420.9l-3.5 -6.5l7 0zM96.6 1424.9l-1.4 7.2l-5.4 -4.4zM590.7 1434.1l-6.8 -2.8l5.4 -4.4zM610.5 1457.5l-6.5 3.5l0 -7zM347.9 1583.7l-6.5 3.5l0 -7zM380.8 1588.5l-7.2 -1.5l4.5 -5.3zM397.4 1589.3l-6.8 -2.8l5.4 -4.4zM309.2 1592.2l-1.4 7.2l-5.4 -4.4zM328.6 1593.8l-3.7 6.4l-3.7 -5.9zM270.8 1605.1l2 7.1l-6.8 -1.6zM429.4 1618.4l-4.7 -5.7l6.9 -1.3zM234 1619l3.5 6.5l-7 0z"/>
<path fill="none" stroke="#2b66d7" stroke-width="1.8" d="M463.4 1198.3l0 7.8M254.1 1239.6l-2.9 -7.5M273.1 1253.1l-4.6 -7.1M364.7 1244.1l-9 3.9M380.8 1242.4l-6.9 5.9M593.5 1370.5l-7.9 3.4M98.5 1390.9l-6.4 -4M581.4 1440l6.4 4M86.3 1460.4l7.9 -3.4M299 1588.5l6.9 -5.9M315.1 1586.8l9 -3.9M406.7 1577.8l4.6 7.1M425.7 1591.3l2.9 7.5M216.4 1632.5l0 -7.8"/>
<path fill="#2b66d7" d="M463.4 1211.8l-3.5 -6.5l7 0zM249.2 1226.7l5.6 4.8l-6.5 2.5zM265.5 1241.2l6.5 3.6l-5.9 3.8zM350.4 1250.2l4.6 -5.8l2.8 6.4zM369.6 1251.9l2.7 -6.9l4.5 5.3zM580.4 1376.2l4.6 -5.8l2.8 6.4zM87.2 1383.9l7.4 0.5l-3.7 5.9zM592.6 1447l-7.4 -0.5l3.7 -5.9zM99.4 1454.7l-4.6 5.8l-2.8 -6.4zM310.3 1578.9l-2.7 6.9l-4.5 -5.3zM329.4 1580.6l-4.6 5.8l-2.8 -6.4zM414.3 1589.6l-6.5 -3.6l5.9 -3.8zM430.6 1604.2l-5.6 -4.8l6.5 -2.5zM216.4 1619l3.5 6.5l-7 0z"/>
<path fill="none" stroke="#2b90d7" stroke-width="1.8" d="M481.1 1198.3l0 7.8M217.5 1225.8l-1.3 -7.7M236.3 1239.6l-2.6 -7.6M414.3 1241.2l-4.6 7.1M365 1258.7l-9.4 3.2M572 1395.1l-3.1 7.4M569.3 1408.7l0 7.7M107.8 1435.8l3.1 -7.4M314.8 1572.2l9.4 -3.2M265.5 1589.6l4.6 -7.1M443.5 1591.3l2.6 7.6M462.3 1605.1l1.3 7.7M198.7 1632.5l0 -7.8"/>
<path fill="#2b90d7" d="M481.1 1211.8l-3.5 -6.5l7 0zM215.2 1212.4l4.5 5.8l-6.9 1.2zM231.8 1226.7l5.4 5l-6.6 2.3zM406.7 1253.1l0.6 -7.4l5.9 3.8zM350.1 1263.7l5 -5.4l2.3 6.6zM566.7 1407.8l-0.7 -7.3l6.5 2.7zM569.3 1422.2l-3.5 -6.5l7 0zM113.1 1423.1l0.7 7.3l-6.5 -2.7zM329.7 1567.2l-5 5.4l-2.3 -6.6zM273.1 1577.8l-0.6 7.4l-5.9 -3.8zM448.1 1604.2l-5.4 -5l6.6 -2.3zM464.6 1618.4l-4.5 -5.8l6.9 -1.2zM198.7 1619l3.5 6.5l-7 0z"/>
<path fill="none" stroke="#2bd7ba" stroke-width="1.8" d="M516.4 1198.3l0 7.8M501 1226.7l-2.6 7.6M184.2 1253.4l-3.7 -7.3M449.6 1255.2l-4.5 7.1M274.6 1294.3l-6.5 -6.2M292.9 1293.7l-7.4 -5.6M83.2 1317.3l-10.2 0M576.1 1327.8l-8.5 4.5M132.7 1378.9l-5.5 -6.7M131.6 1393.5l-4.1 -7.2M130 1408l-2.2 -7.6M549.8 1422.9l2.2 7.6M548.2 1437.4l4.1 7.2M547.1 1452l5.5 6.7M103.7 1503.1l8.5 -4.5M596.7 1513.6l10.2 0M386.9 1537.1l7.4 5.6M405.2 1536.6l6.5 6.2M230.2 1575.6l4.5 -7.1M495.6 1577.5l3.7 7.3M178.8 1604.2l2.6 -7.6M163.4 1632.5l0 -7.8"/>
<path fill="#2bd7ba" d="M516.4 1211.8l-3.5 -6.5l7 0zM496.5 1239.6l-1.2 -7.3l6.6 2.3zM177.9 1241l6.1 4.2l-6.2 3.2zM442 1267.1l0.5 -7.4l5.9 3.8zM264 1284.2l7.1 2l-4.8 5.1zM281 1284.7l7.3 1.1l-4.2 5.6zM67.2 1317.3l6.5 -3.5l0 7zM562.5 1334.9l4.1 -6.1l3.2 6.2zM123.6 1367.8l6.8 2.8l-5.4 4.4zM124.7 1381.3l6.2 3.9l-6.1 3.4zM126.2 1394.9l5.2 5.3l-6.7 1.9zM553.6 1436l-5.2 -5.3l6.7 -1.9zM555.1 1449.6l-6.2 -3.9l6.1 -3.4zM556.2 1463.1l-6.8 -2.8l5.4 -4.4zM117.3 1496l-4.1 6.1l-3.2 -6.2zM612.6 1513.6l-6.5 3.5l0 -7zM398.8 1546.2l-7.3 -1.1l4.2 -5.6zM415.8 1546.7l-7.1 -2l4.8 -5.1zM237.8 1563.8l-0.5 7.4l-5.9 -3.8zM501.9 1589.9l-6.1 -4.2l6.2 -3.2zM183.3 1591.3l1.2 7.3l-6.6 -2.3zM163.4 1619l3.5 6.5l-7 0z"/>
<path fill="none" stroke="#2bd777" stroke-width="1.8" d="M534 1198.4l0 7.8M147.3 1225.8l-1.8 -7.7M166.8 1253.3l-4 -7.2M519.8 1241.1l-4 7.2M220.8 1294.9l-5.3 -6.8M238.6 1294.8l-5.5 -6.7M415.8 1284.2l-6.5 6.2M311.5 1306.7l-8.7 -4.3M329.9 1305.2l-9.8 -2.5M117.4 1320.7l-8.7 -4.3M557.7 1312.9l-7.5 5.4M539 1340.1l-6.1 6.4M149.6 1379.3l-4.6 -7.1M145.8 1422.2l0 -7.8M534 1408.7l0 7.8M530.2 1451.6l4.6 7.1M140.8 1490.8l6.1 -6.4M122.1 1518l7.5 -5.4M562.4 1510.2l8.7 4.3M349.9 1525.7l9.8 2.5M368.3 1524.2l8.7 4.3M264 1546.7l6.5 -6.2M441.2 1536.1l5.5 6.7M459 1536l5.3 6.8M160 1589.8l4 -7.2M513 1577.6l4 7.2M532.5 1605.1l1.8 7.7M145.8 1632.5l0 -7.8"/>
<path fill="#2bd777" d="M534 1211.8l-3.5 -6.5l7 0zM144.3 1212.5l4.9 5.6l-6.8 1.6zM160 1241.1l6.2 4l-6.1 3.4zM513 1253.3l0.1 -7.4l6.1 3.4zM212 1283.6l6.8 3l-5.5 4.3zM229.5 1283.7l6.8 2.8l-5.4 4.4zM405.2 1294.3l2.3 -7l4.8 5.1zM297.7 1299.8l7.4 -0.2l-3.1 6.3zM314.6 1301.3l7.2 -1.8l-1.7 6.8zM103.6 1313.8l7.4 -0.2l-3.1 6.3zM545.6 1321.7l3.2 -6.6l4.1 5.7zM529 1350.6l1.9 -7.1l5.1 4.8zM142 1367.5l6.5 3.6l-5.9 3.8zM145.8 1408.7l3.5 6.5l-7 0zM534 1422.2l-3.5 -6.5l7 0zM537.9 1463.4l-6.5 -3.6l5.9 -3.8zM150.8 1480.3l-1.9 7.1l-5.1 -4.8zM134.2 1509.2l-3.2 6.6l-4.1 -5.7zM576.2 1517l-7.4 0.2l3.1 -6.3zM365.2 1529.6l-7.2 1.8l1.7 -6.8zM382.1 1531.1l-7.4 0.2l3.1 -6.3zM274.6 1536.6l-2.3 7l-4.8 -5.1zM450.3 1547.2l-6.8 -2.8l5.4 -4.4zM467.8 1547.3l-6.8 -3l5.5 -4.3zM166.8 1577.6l-0.1 7.4l-6.1 -3.4zM519.8 1589.8l-6.2 -4l6.1 -3.4zM535.5 1618.4l-4.9 -5.6l6.8 -1.6zM145.8 1619l3.5 6.5l-7 0z"/>
<path fill="none" stroke="#2bd74d" stroke-width="1.8" d="M551.7 1198.4l0 7.8M149.6 1253.1l-4.6 -7.1M537.9 1241.2l-4.6 7.1M100.4 1277.4l-9.6 -2.8M168 1280.8l-5.5 -6.7M520.9 1269.7l-5.5 6.7M83.2 1289.2l-10.3 0M117.3 1292.8l-8.5 -4.5M185.6 1294.8l-5.5 -6.7M450.3 1283.7l-5.5 6.7M557.6 1284.7l-7.4 5.6M238.7 1308.7l-5.7 -6.6M433.1 1298l-6 6.4M521.2 1325.9l-5.9 6.5M150.8 1350.6l-6.1 -6.4M518.8 1381l-2.9 7.5M161 1449.9l2.9 -7.5M529 1480.3l6.1 6.4M158.6 1505l5.9 -6.5M246.7 1532.9l6 -6.4M441.1 1522.2l5.7 6.6M122.2 1546.2l7.4 -5.6M229.5 1547.2l5.5 -6.7M494.2 1536.1l5.5 6.7M562.5 1538.1l8.5 4.5M596.6 1541.7l10.3 0M158.9 1561.2l5.5 -6.7M511.8 1550.1l5.5 6.7M579.4 1553.5l9.6 2.8M142 1589.6l4.6 -7.1M530.2 1577.8l4.6 7.1M128.1 1632.5l0 -7.8"/>
<path fill="#2bd74d" d="M551.7 1211.8l-3.5 -6.5l7 0zM142 1241.2l6.5 3.6l-5.9 3.8zM530.2 1253.1l0.6 -7.4l5.9 3.8zM85.3 1273l7.2 -1.5l-2 6.7zM158.9 1269.7l6.8 2.8l-5.4 4.4zM511.8 1280.8l1.4 -7.2l5.4 4.4zM67.2 1289.2l6.5 -3.5l0 7zM103.7 1285.7l7.4 -0.1l-3.2 6.2zM176.5 1283.7l6.8 2.8l-5.4 4.4zM441.2 1294.8l1.4 -7.2l5.4 4.4zM545.7 1293.7l3.1 -6.7l4.2 5.6zM229.3 1297.8l6.9 2.7l-5.3 4.5zM423.2 1308.6l1.9 -7.1l5.1 4.8zM511.5 1336.7l1.7 -7.2l5.2 4.7zM140.8 1340.1l7 2.3l-5.1 4.8zM513.9 1393.8l-0.9 -7.3l6.5 2.5zM165.9 1437.1l0.9 7.3l-6.5 -2.5zM539 1490.8l-7 -2.3l5.1 -4.8zM168.3 1494.2l-1.7 7.2l-5.2 -4.7zM256.6 1522.3l-1.9 7.1l-5.1 -4.8zM450.5 1533.1l-6.9 -2.7l5.3 -4.5zM134.1 1537.1l-3.1 6.7l-4.2 -5.6zM238.6 1536.1l-1.4 7.2l-5.4 -4.4zM503.3 1547.2l-6.8 -2.8l5.4 -4.4zM576.1 1545.2l-7.4 0.1l3.2 -6.2zM612.6 1541.7l-6.5 3.5l0 -7zM168 1550.1l-1.4 7.2l-5.4 -4.4zM520.9 1561.2l-6.8 -2.8l5.4 -4.4zM594.5 1557.9l-7.2 1.5l2 -6.7zM149.6 1577.8l-0.6 7.4l-5.9 -3.8zM537.9 1589.6l-6.5 -3.6l5.9 -3.8zM128.1 1619l3.5 6.5l-7 0z"/>
<path fill="none" stroke="#3cd72b" stroke-width="1.8" d="M82.1 1219.1l-8.1 0M100 1250.2l-9 -3.9M256.6 1322.6l-6 -6.4M274.7 1322.2l-6.6 -6.1M293 1321.7l-7.5 -5.4M165.9 1393.8l-2.9 -7.5M164.7 1408.1l-1.5 -7.7M515.1 1422.8l1.5 7.7M513.9 1437.1l2.9 7.5M386.8 1509.2l7.5 5.4M405.1 1508.6l6.6 6.1M423.2 1508.3l6 6.4M579.8 1580.6l9 3.9M597.7 1611.8l8.1 0"/>
<path fill="#3cd72b" d="M68.3 1219.1l6.5 -3.5l0 7zM85.7 1244.1l7.4 -0.6l-2.8 6.4zM246.7 1312l7 2.3l-5.1 4.8zM263.9 1312.3l7.2 1.8l-4.7 5.2zM280.9 1312.9l7.3 1l-4.1 5.7zM161 1381l5.6 4.8l-6.5 2.5zM162.1 1394.8l4.7 5.7l-6.9 1.3zM517.7 1436.1l-4.7 -5.7l6.9 -1.3zM518.8 1449.9l-5.6 -4.8l6.5 -2.5zM398.9 1518l-7.3 -1l4.1 -5.7zM415.9 1518.6l-7.2 -1.8l4.7 -5.2zM433.1 1518.9l-7 -2.3l5.1 -4.8zM594.1 1586.8l-7.4 0.6l2.8 -6.4zM611.5 1611.8l-6.5 3.5l0 -7z"/>
<path fill="none" stroke="#2bd755" stroke-width="1.8" d="M130 1225.7l-2.2 -7.6M575.9 1271.4l-8.3 4.8M594.5 1273l-9.6 2.8M612.6 1275.2l-10.3 0M220.9 1308.8l-5.5 -6.7M256.6 1308.6l-6 -6.4M415.9 1298.3l-6.6 6.1M134.2 1321.7l-7.5 -5.4M539.4 1312.3l-6.6 6.1M520.9 1339.8l-5.5 6.7M158.9 1491.1l5.5 -6.7M140.4 1518.6l6.6 -6.1M545.6 1509.2l7.5 5.4M263.9 1532.6l6.6 -6.1M423.2 1522.3l6 6.4M458.9 1522.1l5.5 6.7M67.2 1555.7l10.3 0M85.3 1557.9l9.6 -2.8M103.9 1559.5l8.3 -4.8M549.8 1605.2l2.2 7.6"/>
<path fill="#2bd755" d="M126.2 1212.6l5.2 5.3l-6.7 1.9zM562.7 1279l3.9 -6.3l3.5 6.1zM579.4 1277.4l5.3 -5.2l2 6.7zM596.6 1275.2l6.5 -3.5l0 7zM211.8 1297.7l6.8 2.8l-5.4 4.4zM246.7 1298l7 2.3l-5.1 4.8zM405.1 1308.2l2.4 -7l4.7 5.2zM122.1 1312.9l7.3 1l-4.1 5.7zM528.6 1322.2l2.4 -7l4.7 5.2zM511.8 1350.9l1.4 -7.2l5.4 4.4zM168 1480l-1.4 7.2l-5.4 -4.4zM151.2 1508.6l-2.4 7l-4.7 -5.2zM557.7 1518l-7.3 -1l4.1 -5.7zM274.7 1522.7l-2.4 7l-4.7 -5.2zM433.1 1532.9l-7 -2.3l5.1 -4.8zM468 1533.2l-6.8 -2.8l5.4 -4.4zM83.2 1555.7l-6.5 3.5l0 -7zM100.4 1553.5l-5.3 5.2l-2 -6.7zM117.1 1551.9l-3.9 6.3l-3.5 -6.1zM553.6 1618.3l-5.2 -5.3l6.7 -1.9z"/>
<path fill="none" stroke="#2bd7a9" stroke-width="1.8" d="M164.7 1225.8l-1.5 -7.7M202.4 1267.2l-4.4 -7.1M467.1 1255.2l-4.4 7.1M238.3 1280.9l-5.1 -6.9M100.5 1319.2l-9.8 -2.5M579.3 1511.7l9.8 2.5M441.5 1550l5.1 6.9M212.7 1575.7l4.4 -7.1M477.4 1563.7l4.4 7.1M515.1 1605.1l1.5 7.7"/>
<path fill="#2bd7a9" d="M162.1 1212.5l4.7 5.7l-6.9 1.3zM195.1 1255.2l6.4 3.7l-6 3.6zM459.8 1267.2l0.4 -7.4l6 3.6zM229.8 1269.5l6.7 3.1l-5.6 4.2zM85.2 1315.3l7.2 -1.8l-1.7 6.8zM594.6 1515.6l-7.2 1.8l1.7 -6.8zM450 1561.4l-6.7 -3.1l5.6 -4.2zM220 1563.7l-0.4 7.4l-6 -3.6zM484.7 1575.7l-6.4 -3.7l6 -3.6zM517.7 1618.4l-4.7 -5.7l6.9 -1.3z"/>
<path fill="none" stroke="#2bd3d7" stroke-width="1.8" d="M182.3 1225.8l-1.4 -7.7M499.9 1212.4l-1.4 7.7M466.5 1240.9l-3.6 7.4M237.8 1267.1l-4.5 -7.1M381.8 1271.4l-8.3 4.8M347.9 1289.2l-10.3 0M594.5 1329.3l-9.7 2.6M85.3 1501.6l9.7 -2.6M331.9 1541.7l10.3 0M298 1559.5l8.3 -4.8M442 1563.8l4.5 7.1M213.4 1590l3.6 -7.4M179.9 1618.4l1.4 -7.7M497.5 1605.1l1.4 7.7"/>
<path fill="#2bd3d7" d="M179.9 1212.4l4.6 5.8l-6.9 1.2zM497.5 1225.8l-2.3 -7l6.9 1.2zM460.4 1253.4l-0.3 -7.4l6.3 3zM230.2 1255.2l6.4 3.6l-5.9 3.8zM368.6 1279l3.9 -6.3l3.5 6.1zM331.9 1289.2l6.5 -3.5l0 7zM579.4 1333.3l5.4 -5.1l1.8 6.8zM100.4 1497.6l-5.4 5.1l-1.8 -6.8zM347.9 1541.7l-6.5 3.5l0 -7zM311.2 1551.9l-3.9 6.3l-3.5 -6.1zM449.6 1575.6l-6.4 -3.6l5.9 -3.8zM219.4 1577.5l0.3 7.4l-6.3 -3zM182.3 1605.1l2.3 7l-6.9 -1.2zM499.9 1618.4l-4.6 -5.8l6.9 -1.2z"/>
<path fill="none" stroke="#2bb2d7" stroke-width="1.8" d="M199.9 1225.8l-1.3 -7.7M255.7 1267l-4.9 -7M398.1 1256.1l-6.4 6.2M311.2 1279l-8.3 -4.8M115 1392.9l-5.4 -6.7M564.8 1438l5.4 6.7M368.6 1551.9l8.3 4.8M281.7 1574.8l6.4 -6.2M424.1 1563.9l4.9 7M479.9 1605.1l1.3 7.7"/>
<path fill="#2bb2d7" d="M197.6 1212.4l4.5 5.8l-6.9 1.2zM247.6 1255.4l6.6 3.3l-5.7 4zM387.6 1266.3l2.2 -7l4.9 5zM298 1271.4l7.4 0.2l-3.5 6.1zM106 1381.9l6.8 2.8l-5.4 4.4zM573.8 1449l-6.8 -2.8l5.4 -4.4zM381.8 1559.5l-7.4 -0.2l3.5 -6.1zM292.2 1564.6l-2.2 7l-4.9 -5zM432.2 1575.5l-6.6 -3.3l5.7 -4zM482.2 1618.4l-4.5 -5.8l6.9 -1.2z"/>
<path fill="none" stroke="#2b77d7" stroke-width="1.8" d="M235.2 1225.8l-1.4 -7.7M447 1212.4l-1.4 7.7M329.7 1263.7l-9.4 -3.2M347.9 1261.2l-10.3 0M82.1 1359.4l-8.1 0M597.7 1471.5l8.1 0M331.9 1569.7l10.3 0M350.1 1567.2l9.4 3.2M232.8 1618.4l1.4 -7.7M444.6 1605.1l1.4 7.7"/>
<path fill="#2b77d7" d="M232.8 1212.4l4.6 5.8l-6.9 1.2zM444.6 1225.8l-2.3 -7l6.9 1.2zM314.8 1258.7l7.3 -1.2l-2.3 6.6zM331.9 1261.2l6.5 -3.5l0 7zM68.3 1359.4l6.5 -3.5l0 7zM611.5 1471.5l-6.5 3.5l0 -7zM347.9 1569.7l-6.5 3.5l0 -7zM365 1572.2l-7.3 1.2l2.3 -6.6zM235.2 1605.1l2.3 7l-6.9 -1.2zM447 1618.4l-4.6 -5.8l6.9 -1.2z"/>
<path fill="none" stroke="#2b44d7" stroke-width="1.8" d="M270.8 1225.8l-1.8 -7.7M394.7 1212.6l-2.2 7.6M290.4 1239.2l-4.1 -7.2M389.4 1591.7l4.1 7.2M285.1 1618.3l2.2 -7.6M409 1605.1l1.8 7.7"/>
<path fill="#2b44d7" d="M267.8 1212.5l4.9 5.6l-6.8 1.6zM391 1225.7l-1.6 -7.2l6.7 1.9zM283.5 1227.1l6.2 3.9l-6.1 3.4zM396.3 1603.8l-6.2 -3.9l6.1 -3.4zM288.9 1605.2l1.6 7.2l-6.7 -1.9zM412 1618.4l-4.9 -5.6l6.8 -1.6z"/>
<path fill="none" stroke="#342bd7" stroke-width="1.8" d="M326.4 1224.2l-4.7 -5.8M353.4 1606.7l4.7 5.8"/>
<path fill="#342bd7" d="M318.1 1214l6.8 2.8l-5.4 4.4zM342.7 1219.1l-5 3l0 -6zM337.1 1611.8l5 -3l0 6zM361.7 1616.9l-6.8 -2.8l5.4 -4.4z"/>
<path fill="none" stroke="#2b88d7" stroke-width="1.8" d="M464.6 1212.4l-1.3 7.7M292.2 1266.3l-6.4 -6.2M594.1 1356.9l-8.8 3M85.7 1474l8.8 -3M387.6 1564.6l6.4 6.2M215.2 1618.4l1.3 -7.7"/>
<path fill="#2b88d7" d="M462.3 1225.8l-2.4 -7l6.9 1.2zM281.7 1256.1l7.1 2l-4.9 5zM579.8 1361.8l5 -5.4l2.3 6.6zM100 1469.1l-5 5.4l-2.3 -6.6zM398.1 1574.8l-7.1 -2l4.9 -5zM217.5 1605.1l2.4 7l-6.9 -1.2z"/>
<path fill="none" stroke="#2ba9d7" stroke-width="1.8" d="M482.2 1212.4l-1.3 7.7M465.6 1226.6l-2.5 7.6M329.8 1277.4l-9.6 -2.8M594.4 1343.1l-9.4 2.8M85.4 1487.7l9.4 -2.8M350 1553.5l9.6 2.8M214.2 1604.2l2.5 -7.6M197.6 1618.4l1.3 -7.7"/>
<path fill="#2ba9d7" d="M479.9 1225.8l-2.4 -7l6.9 1.2zM461.3 1239.6l-1.3 -7.3l6.6 2.2zM314.7 1273l7.2 -1.5l-2 6.7zM579.5 1347.5l5.3 -5.2l2 6.7zM100.3 1483.4l-5.3 5.2l-2 -6.7zM365.1 1557.9l-7.2 1.5l2 -6.7zM218.5 1591.2l1.3 7.3l-6.6 -2.2zM199.9 1605.1l2.4 7l-6.9 -1.2z"/>
<path fill="none" stroke="#2bd7a1" stroke-width="1.8" d="M517.7 1212.5l-1.5 7.7M501.9 1241l-3.7 7.3M220.5 1281l-4.9 -6.9M382 1285.7l-8.5 4.5M557.4 1340.6l-7 5.8M537.9 1367.5l-4.6 7.1M142 1463.4l4.6 -7.1M122.4 1490.3l7 -5.8M297.8 1545.2l8.5 -4.5M459.3 1549.9l4.9 6.9M177.9 1589.9l3.7 -7.3M162.1 1618.4l1.5 -7.7"/>
<path fill="#2bd7a1" d="M515.1 1225.8l-2.2 -7.1l6.9 1.3zM495.6 1253.4l-0.2 -7.4l6.2 3.2zM212.3 1269.4l6.6 3.3l-5.7 4.1zM368.4 1292.8l4.1 -6.1l3.2 6.2zM546 1350.1l2.8 -6.8l4.5 5.4zM530.2 1379.3l0.6 -7.4l5.9 3.8zM149.6 1451.6l-0.6 7.4l-5.9 -3.8zM133.8 1480.8l-2.8 6.8l-4.5 -5.4zM311.4 1538.1l-4.1 6.1l-3.2 -6.2zM467.6 1561.5l-6.6 -3.3l5.7 -4.1zM184.2 1577.5l0.2 7.4l-6.2 -3.2zM164.7 1605.1l2.2 7.1l-6.9 -1.3z"/>
<path fill="none" stroke="#2bd744" stroke-width="1.8" d="M553.6 1212.6l-2.2 7.6M131.6 1239.2l-4.1 -7.2M150.3 1266.7l-5.5 -6.7M538.6 1255.6l-5.5 6.7M575.6 1257l-7.8 5.2M594.4 1258.7l-9.4 3.2M612.6 1261.2l-10.3 0M557.4 1270.5l-7 5.8M134.2 1307.7l-7.5 -5.4M203.3 1308.8l-5.5 -6.7M539.4 1298.3l-6.6 6.1M521.3 1312l-6 6.4M158.5 1518.9l6 -6.4M140.4 1532.6l6.6 -6.1M476.5 1522.1l5.5 6.7M545.6 1523.2l7.5 5.4M122.4 1560.4l7 -5.8M67.2 1569.7l10.3 0M85.4 1572.2l9.4 -3.2M104.2 1573.9l7.8 -5.2M141.2 1575.3l5.5 -6.7M529.5 1564.1l5.5 6.7M548.2 1591.7l4.1 7.2M126.2 1618.3l2.2 -7.6"/>
<path fill="#2bd744" d="M549.8 1225.7l-1.6 -7.2l6.7 1.9zM124.7 1227.1l6.2 3.9l-6.1 3.4zM141.2 1255.6l6.8 2.8l-5.4 4.4zM529.5 1266.7l1.4 -7.2l5.4 4.4zM563 1265.4l3.5 -6.5l3.9 5.8zM579.5 1263.7l5 -5.4l2.3 6.6zM596.6 1261.2l6.5 -3.5l0 7zM546 1279.9l2.8 -6.8l4.5 5.4zM122.1 1298.9l7.3 1l-4.1 5.7zM194.2 1297.7l6.8 2.8l-5.4 4.4zM528.6 1308.2l2.4 -7l4.7 5.2zM511.4 1322.6l1.9 -7.1l5.1 4.8zM168.4 1508.3l-1.9 7.1l-5.1 -4.8zM151.2 1522.7l-2.4 7l-4.7 -5.2zM485.6 1533.2l-6.8 -2.8l5.4 -4.4zM557.7 1532l-7.3 -1l4.1 -5.7zM133.8 1550.9l-2.8 6.8l-4.5 -5.4zM83.2 1569.7l-6.5 3.5l0 -7zM100.3 1567.2l-5 5.4l-2.3 -6.6zM116.8 1565.5l-3.5 6.5l-3.9 -5.8zM150.3 1564.1l-1.4 7.2l-5.4 -4.4zM538.6 1575.3l-6.8 -2.8l5.4 -4.4zM555.1 1603.8l-6.2 -3.9l6.1 -3.4zM130 1605.2l1.6 7.2l-6.7 -1.9z"/>
<path fill="none" stroke="#2bd73c" stroke-width="1.8" d="M572 1212.8l-3.1 7.5M591.4 1213.7l-5.2 6.4M555.1 1227.1l-4.1 7.2M133.4 1266.3l-6.4 -6.2M556.9 1256.1l-6.4 6.2M117.1 1279l-8.3 -4.8M150.8 1280.5l-6.1 -6.4M539 1270l-6.1 6.4M151.2 1308.2l-6.6 -6.1M450.5 1297.8l-5.7 6.6M485.6 1297.7l-5.5 6.7M503.4 1297.8l-5.7 6.6M521.3 1298l-6 6.4M158.5 1532.9l6 -6.4M176.4 1533.1l5.7 -6.6M194.2 1533.2l5.5 -6.7M229.3 1533.1l5.7 -6.6M528.6 1522.7l6.6 6.1M140.8 1560.9l6.1 -6.4M529 1550.4l6.1 6.4M562.7 1551.9l8.3 4.8M122.9 1574.8l6.4 -6.2M546.4 1564.6l6.4 6.2M124.7 1603.8l4.1 -7.2M88.4 1617.2l5.2 -6.4M107.8 1618.1l3.1 -7.5"/>
<path fill="#2bd73c" d="M566.7 1225.5l-0.7 -7.3l6.5 2.7zM582.6 1224.5l1.4 -7.2l5.4 4.4zM548.2 1239.2l0.2 -7.4l6.1 3.4zM122.9 1256.1l7.1 2l-4.9 5zM546.4 1266.3l2.2 -7l4.9 5zM103.9 1271.4l7.4 0.2l-3.5 6.1zM140.8 1270l7 2.3l-5.1 4.8zM529 1280.5l1.9 -7.1l5.1 4.8zM140.4 1298.3l7.2 1.8l-4.7 5.2zM441.1 1308.7l1.6 -7.2l5.3 4.5zM476.5 1308.8l1.4 -7.2l5.4 4.4zM494 1308.7l1.6 -7.2l5.3 4.5zM511.4 1308.6l1.9 -7.1l5.1 4.8zM168.4 1522.3l-1.9 7.1l-5.1 -4.8zM185.8 1522.2l-1.6 7.2l-5.3 -4.5zM203.3 1522.1l-1.4 7.2l-5.4 -4.4zM238.7 1522.2l-1.6 7.2l-5.3 -4.5zM539.4 1532.6l-7.2 -1.8l4.7 -5.2zM150.8 1550.4l-1.9 7.1l-5.1 -4.8zM539 1560.9l-7 -2.3l5.1 -4.8zM575.9 1559.5l-7.4 -0.2l3.5 -6.1zM133.4 1564.6l-2.2 7l-4.9 -5zM556.9 1574.8l-7.1 -2l4.9 -5zM131.6 1591.7l-0.2 7.4l-6.1 -3.4zM97.3 1606.4l-1.4 7.2l-5.4 -4.4zM113.2 1605.4l0.7 7.3l-6.5 -2.7z"/>
<path fill="none" stroke="#44d72b" stroke-width="1.8" d="M83.2 1233.1l-10.3 0M80.9 1242.4l-7 5.9M185.6 1336.9l-5.5 -6.7M203.1 1336.9l-5.3 -6.8M220.8 1336.9l-5.3 -6.8M398.8 1326.8l-7.4 5.6M415.8 1326.2l-6.5 6.2M484.7 1353.4l-4.4 7.1M501 1380.9l-2.6 7.6M178.8 1450l2.6 -7.6M195.1 1477.5l4.4 -7.1M264 1504.6l6.5 -6.2M281 1504.1l7.4 -5.6M459 1493.9l5.3 6.8M476.7 1493.9l5.3 6.8M494.2 1494l5.5 6.7M599 1588.5l7 -5.9M596.6 1597.7l10.3 0"/>
<path fill="#44d72b" d="M67.2 1233.1l6.5 -3.5l0 7zM69.5 1251.9l2.7 -6.9l4.5 5.4zM176.5 1325.8l6.8 2.8l-5.4 4.4zM194.3 1325.7l6.8 3l-5.5 4.3zM212 1325.7l6.8 3l-5.5 4.3zM386.9 1335.8l3.1 -6.7l4.2 5.6zM405.2 1336.4l2.3 -7l4.8 5.1zM477.4 1365.4l0.4 -7.4l6 3.6zM496.5 1393.9l-1.2 -7.3l6.6 2.3zM183.3 1437l1.2 7.3l-6.6 -2.3zM202.4 1465.5l-0.4 7.4l-6 -3.6zM274.6 1494.5l-2.3 7l-4.8 -5.1zM292.9 1495.1l-3.1 6.7l-4.2 -5.6zM467.8 1505.2l-6.8 -3l5.5 -4.3zM485.5 1505.2l-6.8 -3l5.5 -4.3zM503.3 1505.1l-6.8 -2.8l5.4 -4.4zM610.3 1578.9l-2.7 6.9l-4.5 -5.4zM612.6 1597.7l-6.5 3.5l0 -7z"/>
<path fill="none" stroke="#2bd790" stroke-width="1.8" d="M165.9 1239.6l-2.9 -7.5M518.8 1226.7l-2.9 7.5M184.9 1267.1l-4.5 -7.1M347.9 1303.3l-10.3 0M594.6 1301.3l-9.8 2.5M538.6 1353.8l-5.5 6.7M141.2 1477.1l5.5 -6.7M85.2 1529.6l9.8 -2.5M331.9 1527.6l10.3 0M494.9 1563.8l4.5 7.1M161 1604.2l2.9 -7.5M513.9 1591.3l2.9 7.5"/>
<path fill="#2bd790" d="M161 1226.7l5.6 4.8l-6.5 2.5zM513.9 1239.6l-0.9 -7.3l6.5 2.5zM177.3 1255.2l6.4 3.6l-5.9 3.8zM331.9 1303.3l6.5 -3.5l0 7zM579.3 1305.2l5.4 -5l1.7 6.8zM529.5 1364.9l1.4 -7.2l5.4 4.4zM150.3 1466l-1.4 7.2l-5.4 -4.4zM100.5 1525.7l-5.4 5l-1.7 -6.8zM347.9 1527.6l-6.5 3.5l0 -7zM502.5 1575.6l-6.4 -3.6l5.9 -3.8zM165.9 1591.3l0.9 7.3l-6.5 -2.5zM518.8 1604.2l-5.6 -4.8l6.5 -2.5z"/>
<path fill="none" stroke="#2bd7cb" stroke-width="1.8" d="M183.3 1239.6l-2.6 -7.6M201.7 1253.4l-3.6 -7.4M484.1 1240.9l-3.6 7.4M220 1267.2l-4.4 -7.1M311.4 1292.8l-8.5 -4.5M329.9 1291.3l-9.7 -2.6M365.2 1287.2l-9.7 2.6M100.4 1333.3l-9.7 -2.6M556.2 1367.8l-5.5 6.7M128.1 1422.2l0 -7.8M551.7 1408.7l0 7.8M123.6 1463.1l5.5 -6.7M579.4 1497.6l9.7 2.6M314.6 1543.7l9.7 -2.6M349.9 1539.6l9.7 2.6M368.4 1538.1l8.5 4.5M459.8 1563.7l4.4 7.1M195.7 1590l3.6 -7.4M478.1 1577.5l3.6 7.4M496.5 1591.3l2.6 7.6"/>
<path fill="#2bd7cb" d="M178.8 1226.7l5.4 5l-6.6 2.3zM195.7 1240.9l6 4.3l-6.3 3zM478.1 1253.4l-0.3 -7.4l6.3 3zM212.7 1255.2l6.4 3.7l-6 3.6zM297.8 1285.7l7.4 -0.1l-3.2 6.2zM314.6 1287.2l7.2 -1.7l-1.8 6.8zM349.9 1291.3l5.4 -5.1l1.8 6.8zM85.3 1329.3l7.2 -1.7l-1.8 6.8zM547.1 1378.9l1.4 -7.2l5.4 4.4zM128.1 1408.7l3.5 6.5l-7 0zM551.7 1422.2l-3.5 -6.5l7 0zM132.7 1452l-1.4 7.2l-5.4 -4.4zM594.5 1501.6l-7.2 1.7l1.8 -6.8zM329.9 1539.6l-5.4 5.1l-1.8 -6.8zM365.2 1543.7l-7.2 1.7l1.8 -6.8zM382 1545.2l-7.4 0.1l3.2 -6.2zM467.1 1575.7l-6.4 -3.7l6 -3.6zM201.7 1577.5l0.3 7.4l-6.3 -3zM484.1 1590l-6 -4.3l6.3 -3zM501 1604.2l-5.4 -5l6.6 -2.3z"/>
<path fill="none" stroke="#2bcbd7" stroke-width="1.8" d="M200.9 1239.6l-2.5 -7.6M483.3 1226.6l-2.5 7.6M415 1255.6l-5.5 6.7M274.3 1280.5l-6.1 -6.4M405.5 1550.4l6.1 6.4M264.8 1575.3l5.5 -6.7M196.6 1604.2l2.5 -7.6M478.9 1591.2l2.5 7.6"/>
<path fill="#2bcbd7" d="M196.6 1226.6l5.4 5.1l-6.6 2.2zM478.9 1239.6l-1.3 -7.3l6.6 2.2zM406 1266.7l1.4 -7.2l5.4 4.4zM264.3 1270l7 2.3l-5.1 4.8zM415.5 1560.9l-7 -2.3l5.1 -4.8zM273.9 1564.1l-1.4 7.2l-5.4 -4.4zM200.9 1591.2l1.3 7.3l-6.6 -2.2zM483.3 1604.2l-5.4 -5.1l6.6 -2.2z"/>
<path fill="none" stroke="#2ba1d7" stroke-width="1.8" d="M218.5 1239.6l-2.5 -7.6M237.2 1253.4l-3.7 -7.3M431.5 1241.1l-4 7.2M381.5 1257l-7.8 5.2M347.9 1275.2l-10.3 0M612.5 1331.3l-10 0M100 1361.8l-8.8 -3M575 1368.6l-6.9 5.9M113.1 1407.8l-3.1 -7.4M110.5 1422.2l0 -7.7M566.7 1423.1l3.1 7.4M104.9 1462.3l6.9 -5.9M579.8 1469.1l8.8 3M67.4 1499.6l10 0M331.9 1555.7l10.3 0M298.3 1573.9l7.8 -5.2M248.3 1589.8l4 -7.2M442.7 1577.5l3.7 7.3M461.3 1591.2l2.5 7.6"/>
<path fill="#2ba1d7" d="M214.2 1226.6l5.4 5.1l-6.6 2.2zM230.9 1241l6.1 4.2l-6.2 3.2zM424.7 1253.3l0.1 -7.4l6.1 3.4zM368.9 1265.4l3.5 -6.5l3.9 5.8zM331.9 1275.2l6.5 -3.5l0 7zM596.8 1331.3l6.5 -3.5l0 7zM85.7 1356.9l7.3 -1.2l-2.3 6.6zM563.7 1378.1l2.7 -6.9l4.5 5.3zM107.8 1395.1l5.7 4.6l-6.5 2.7zM110.5 1408.7l3.5 6.5l-7 0zM572 1435.8l-5.7 -4.6l6.5 -2.7zM116.1 1452.7l-2.7 6.9l-4.5 -5.3zM594.1 1474l-7.3 1.2l2.3 -6.6zM83 1499.6l-6.5 3.5l0 -7zM347.9 1555.7l-6.5 3.5l0 -7zM310.9 1565.5l-3.5 6.5l-3.9 -5.8zM255.1 1577.6l-0.1 7.4l-6.1 -3.4zM448.9 1589.9l-6.1 -4.2l6.2 -3.2zM465.6 1604.2l-5.4 -5.1l6.6 -2.2z"/>
<path fill="none" stroke="#2b55d7" stroke-width="1.8" d="M272.1 1239.5l-3.3 -7.4M407.7 1591.4l3.3 7.4"/>
<path fill="#2b55d7" d="M266.5 1226.8l5.8 4.5l-6.4 2.9zM413.3 1604.1l-5.8 -4.5l6.4 -2.9z"/>
<path fill="none" stroke="#2b6ed7" stroke-width="1.8" d="M413.3 1226.8l-3.3 7.4M266.5 1604.1l3.3 -7.4"/>
<path fill="#2b6ed7" d="M407.7 1239.5l-0.5 -7.4l6.4 2.9zM272.1 1591.4l0.5 7.4l-6.4 -2.9z"/>
<path fill="none" stroke="#2bd75e" stroke-width="1.8" d="M536.8 1226.8l-3.3 7.4M503 1269.5l-5.1 6.9M520.4 1353.5l-4.9 7M159.4 1477.3l4.9 -7M176.8 1561.4l5.1 -6.9M143 1604.1l3.3 -7.4"/>
<path fill="#2bd75e" d="M531.2 1239.5l-0.5 -7.4l6.4 2.9zM494.5 1280.9l1.1 -7.3l5.6 4.2zM512.3 1365.2l0.9 -7.3l5.7 4zM167.5 1465.7l-0.9 7.3l-5.7 -4zM185.3 1550l-1.1 7.3l-5.6 -4.2zM148.6 1591.4l0.5 7.4l-6.4 -2.9z"/>
<path fill="none" stroke="#2bd7d3" stroke-width="1.8" d="M432.2 1255.4l-4.9 7M612.6 1317.3l-10.2 0M575.9 1341.5l-8.3 4.8M116.8 1363.5l-7.8 -5.2M555.1 1381.3l-4.1 7.2M553.6 1394.9l-2.2 7.6M126.2 1436l2.2 -7.6M124.7 1449.6l4.1 -7.2M563.1 1467.3l7.8 5.2M103.9 1489.4l8.3 -4.8M67.2 1513.6l10.2 0M247.6 1575.5l4.9 -7"/>
<path fill="#2bd7d3" d="M424.1 1267l0.9 -7.3l5.7 4zM596.7 1317.3l6.5 -3.5l0 7zM562.7 1349.1l3.9 -6.3l3.5 6.1zM104.2 1355.2l7.3 0.7l-3.9 5.8zM548.2 1393.5l0.2 -7.4l6.1 3.4zM549.8 1408l-1.6 -7.2l6.7 1.9zM130 1422.9l1.6 7.2l-6.7 -1.9zM131.6 1437.4l-0.2 7.4l-6.1 -3.4zM575.6 1475.7l-7.3 -0.7l3.9 -5.8zM117.1 1481.8l-3.9 6.3l-3.5 -6.1zM83.2 1513.6l-6.5 3.5l0 -7zM255.7 1563.9l-0.9 7.3l-5.7 -4z"/>
<path fill="none" stroke="#2bd798" stroke-width="1.8" d="M484.7 1255.2l-4.4 7.1M432.7 1269.7l-5.5 6.7M612.6 1303.3l-10.3 0M576.2 1313.8l-8.7 4.3M133.4 1364.4l-6.4 -6.2M536.8 1381.1l-3.3 7.4M143 1449.8l3.3 -7.4M546.4 1466.4l6.4 6.2M103.6 1517l8.7 -4.3M67.2 1527.6l10.3 0M247.1 1561.2l5.5 -6.7M195.1 1575.7l4.4 -7.1"/>
<path fill="#2bd798" d="M477.4 1267.2l0.4 -7.4l6 3.6zM423.6 1280.8l1.4 -7.2l5.4 4.4zM596.6 1303.3l6.5 -3.5l0 7zM562.4 1320.7l4.2 -6l3.1 6.3zM122.9 1354.3l7.1 2l-4.9 5zM531.2 1393.7l-0.5 -7.4l6.4 2.9zM148.6 1437.2l0.5 7.4l-6.4 -2.9zM556.9 1476.6l-7.1 -2l4.9 -5zM117.4 1510.2l-4.2 6l-3.1 -6.3zM83.2 1527.6l-6.5 3.5l0 -7zM256.2 1550.1l-1.4 7.2l-5.4 -4.4zM202.4 1563.7l-0.4 7.4l-6 -3.6z"/>
<path fill="none" stroke="#2bd77f" stroke-width="1.8" d="M502.5 1255.2l-4.5 7.1M365.2 1301.3l-9.8 2.5M576.2 1299.8l-8.7 4.3M133.8 1350.1l-7 -5.8M546 1480.8l7 5.8M103.6 1531.1l8.7 -4.3M314.6 1529.6l9.8 -2.5M177.3 1575.6l4.5 -7.1"/>
<path fill="#2bd77f" d="M494.9 1267.1l0.5 -7.4l5.9 3.8zM349.9 1305.2l5.4 -5l1.7 6.8zM562.4 1306.7l4.2 -6l3.1 6.3zM122.4 1340.6l7.2 1.5l-4.5 5.4zM557.4 1490.3l-7.2 -1.5l4.5 -5.4zM117.4 1524.2l-4.2 6l-3.1 -6.3zM329.9 1525.7l-5.4 5l-1.7 -6.8zM184.9 1563.8l-0.5 7.4l-5.9 -3.8z"/>
<path fill="none" stroke="#2bd76e" stroke-width="1.8" d="M185.3 1280.9l-5.1 -6.9M467.6 1269.4l-4.9 6.9M148.6 1393.7l-3.3 -7.4M531.2 1437.2l3.3 7.4M212.3 1561.5l4.9 -6.9M494.5 1550l5.1 6.9"/>
<path fill="#2bd76e" d="M176.8 1269.5l6.7 3.1l-5.6 4.2zM459.3 1281l0.9 -7.3l5.7 4.1zM143 1381.1l5.8 4.5l-6.4 2.9zM536.8 1449.8l-5.8 -4.5l6.4 -2.9zM220.5 1549.9l-0.9 7.3l-5.7 -4.1zM503 1561.4l-6.7 -3.1l5.6 -4.2z"/>
<path fill="none" stroke="#2bc2d7" stroke-width="1.8" d="M292.7 1279.9l-7 -5.8M100.3 1347.5l-9.4 -2.8M575.6 1355.2l-7.8 5.2M104.2 1475.7l7.8 -5.2M579.5 1483.4l9.4 2.8M387.1 1550.9l7 5.8"/>
<path fill="#2bc2d7" d="M281.3 1270.5l7.2 1.5l-4.5 5.4zM85.4 1343.1l7.2 -1.5l-2 6.7zM563.1 1363.5l3.5 -6.5l3.9 5.8zM116.8 1467.3l-3.5 6.5l-3.9 -5.8zM594.4 1487.7l-7.2 1.5l2 -6.7zM398.5 1560.4l-7.2 -1.5l4.5 -5.4z"/>
<path fill="none" stroke="#2bd7b2" stroke-width="1.8" d="M415.5 1270l-6.1 6.4M594.6 1315.3l-9.8 2.5M117.1 1349.1l-8.3 -4.8M556.9 1354.3l-6.4 6.2M122.9 1476.6l6.4 -6.2M562.7 1481.8l8.3 4.8M85.2 1515.6l9.8 -2.5M264.3 1560.9l6.1 -6.4"/>
<path fill="#2bd7b2" d="M405.5 1280.5l1.9 -7.1l5.1 4.8zM579.3 1319.2l5.4 -5l1.7 6.8zM103.9 1341.5l7.4 0.2l-3.5 6.1zM546.4 1364.4l2.2 -7l4.9 5zM133.4 1466.4l-2.2 7l-4.9 -5zM575.9 1489.4l-7.4 -0.2l3.5 -6.1zM100.5 1511.7l-5.4 5l-1.7 -6.8zM274.3 1550.4l-1.9 7.1l-5.1 -4.8z"/>
<path fill="none" stroke="#5ed72b" stroke-width="1.8" d="M238.6 1336.9l-5.5 -6.7M382 1327.7l-8.5 4.5M450 1339.6l-5.1 6.9M484.1 1367.1l-3.6 7.4M499.9 1394.7l-1.4 7.7M179.9 1436.1l1.4 -7.7M195.7 1463.8l3.6 -7.4M229.8 1491.3l5.1 -6.9M297.8 1503.1l8.5 -4.5M441.2 1494l5.5 6.7"/>
<path fill="#5ed72b" d="M229.5 1325.8l6.8 2.8l-5.4 4.4zM368.4 1334.9l4.1 -6.1l3.2 6.2zM441.5 1351l1.1 -7.3l5.6 4.2zM478.1 1379.6l-0.3 -7.4l6.3 3zM497.5 1408.1l-2.3 -7l6.9 1.2zM182.3 1422.8l2.3 7l-6.9 -1.2zM201.7 1451.3l0.3 7.4l-6.3 -3zM238.3 1479.8l-1.1 7.3l-5.6 -4.2zM311.4 1496l-4.1 6.1l-3.2 -6.2zM450.3 1505.1l-6.8 -2.8l5.4 -4.4z"/>
<path fill="none" stroke="#77d72b" stroke-width="1.8" d="M256.5 1336.7l-5.9 -6.5M347.9 1331.3l-10.3 0M365.2 1329.3l-9.7 2.6M220.5 1351.1l-4.9 -6.9M184.2 1379.6l-3.7 -7.3M183.3 1393.9l-2.6 -7.6M181.1 1422.2l0 -7.8M498.7 1408.7l0 7.8M496.5 1437l2.6 7.6M495.6 1451.3l3.7 7.3M459.3 1479.8l4.9 6.9M314.6 1501.6l9.7 -2.6M331.9 1499.6l10.3 0M423.3 1494.2l5.9 6.5"/>
<path fill="#77d72b" d="M246.8 1325.9l6.9 2.5l-5.2 4.7zM331.9 1331.3l6.5 -3.5l0 7zM349.9 1333.3l5.4 -5.1l1.8 6.8zM212.3 1339.5l6.6 3.3l-5.7 4.1zM177.9 1367.2l6.1 4.2l-6.2 3.2zM178.8 1380.9l5.4 5l-6.6 2.3zM181.1 1408.7l3.5 6.5l-7 0zM498.7 1422.2l-3.5 -6.5l7 0zM501 1450l-5.4 -5l6.6 -2.3zM501.9 1463.7l-6.1 -4.2l6.2 -3.2zM467.6 1491.3l-6.6 -3.3l5.7 -4.1zM329.9 1497.5l-5.4 5.1l-1.8 -6.8zM347.9 1499.6l-6.5 3.5l0 -7zM433 1505l-6.9 -2.5l5.2 -4.7z"/>
<path fill="none" stroke="#88d72b" stroke-width="1.8" d="M274.6 1336.4l-6.5 -6.2M292.9 1335.8l-7.4 -5.6M311.4 1334.9l-8.5 -4.5M329.9 1333.3l-9.7 -2.6M398.5 1340.6l-7 5.8M415.5 1340.1l-6.1 6.4M449.6 1353.4l-4.5 7.1M466.5 1367.1l-3.6 7.4M213.4 1463.8l3.6 -7.4M230.2 1477.5l4.5 -7.1M264.3 1490.8l6.1 -6.4M281.3 1490.3l7 -5.8M349.9 1497.5l9.7 2.6M368.4 1496l8.5 4.5M386.9 1495.1l7.4 5.6M405.2 1494.5l6.5 6.2"/>
<path fill="#88d72b" d="M264 1326.2l7.1 2l-4.8 5.1zM281 1326.8l7.3 1.1l-4.2 5.6zM297.8 1327.7l7.4 -0.1l-3.2 6.2zM314.6 1329.3l7.2 -1.7l-1.8 6.8zM387.1 1350.1l2.8 -6.8l4.5 5.4zM405.5 1350.6l1.9 -7.1l5.1 4.8zM442 1365.3l0.5 -7.4l5.9 3.8zM460.4 1379.6l-0.3 -7.4l6.3 3zM219.4 1451.3l0.3 7.4l-6.3 -3zM237.8 1465.6l-0.5 7.4l-5.9 -3.8zM274.3 1480.3l-1.9 7.1l-5.1 -4.8zM292.7 1480.8l-2.8 6.8l-4.5 -5.4zM365.2 1501.6l-7.2 1.7l1.8 -6.8zM382 1503.1l-7.4 0.1l3.2 -6.2zM398.8 1504.1l-7.3 -1.1l4.2 -5.6zM415.8 1504.6l-7.1 -2l4.8 -5.1z"/>
<path fill="none" stroke="#55d72b" stroke-width="1.8" d="M185.3 1351l-5.1 -6.9M494.5 1479.8l5.1 6.9"/>
<path fill="#55d72b" d="M176.8 1339.6l6.7 3.1l-5.6 4.2zM503 1491.3l-6.7 -3.1l5.6 -4.2z"/>
<path fill="none" stroke="#66d72b" stroke-width="1.8" d="M202.8 1351.1l-4.9 -6.9M184.9 1365.3l-4.5 -7.1M494.9 1465.6l4.5 7.1M477 1479.8l4.9 6.9"/>
<path fill="#66d72b" d="M194.6 1339.5l6.6 3.3l-5.7 4.1zM177.3 1353.4l6.4 3.6l-5.9 3.8zM502.5 1477.5l-6.4 -3.6l5.9 -3.8zM485.2 1491.3l-6.6 -3.3l5.7 -4.1z"/>
<path fill="none" stroke="#90d72b" stroke-width="1.8" d="M238.3 1351l-5.1 -6.9M441.5 1479.8l5.1 6.9"/>
<path fill="#90d72b" d="M229.8 1339.6l6.7 3.1l-5.6 4.2zM450 1491.3l-6.7 -3.1l5.6 -4.2z"/>
<path fill="none" stroke="#a1d72b" stroke-width="1.8" d="M256.2 1350.9l-5.5 -6.7M432.2 1353.5l-4.9 7M247.6 1477.3l4.9 -7M423.6 1480l5.5 6.7"/>
<path fill="#a1d72b" d="M247.1 1339.8l6.8 2.8l-5.4 4.4zM424.1 1365.2l0.9 -7.3l5.7 4zM255.7 1465.7l-0.9 7.3l-5.7 -4zM432.7 1491.1l-6.8 -2.8l5.4 -4.4z"/>
<path fill="none" stroke="#bad72b" stroke-width="1.8" d="M274.3 1350.6l-6.1 -6.4M292.7 1350.1l-7 -5.8M311.2 1349.1l-8.3 -4.8M329.8 1347.5l-9.6 -2.8M350 1483.3l9.6 2.8M368.6 1481.8l8.3 4.8M387.1 1480.8l7 5.8M405.5 1480.3l6.1 6.4"/>
<path fill="#bad72b" d="M264.3 1340.1l7 2.3l-5.1 4.8zM281.3 1340.6l7.2 1.5l-4.5 5.4zM298 1341.5l7.4 0.2l-3.5 6.1zM314.7 1343.1l7.2 -1.5l-2 6.7zM365.1 1487.8l-7.2 1.5l2 -6.7zM381.8 1489.4l-7.4 -0.2l3.5 -6.1zM398.5 1490.3l-7.2 -1.5l4.5 -5.4zM415.5 1490.8l-7 -2.3l5.1 -4.8z"/>
<path fill="none" stroke="#a9d72b" stroke-width="1.8" d="M347.9 1345.3l-10.3 0M365.1 1343.1l-9.6 2.8M200.9 1393.9l-2.5 -7.6M465.6 1380.9l-2.5 7.6M214.2 1450l2.5 -7.6M478.9 1437l2.5 7.6M314.7 1487.8l9.6 -2.8M331.9 1485.6l10.3 0"/>
<path fill="#a9d72b" d="M331.9 1345.3l6.5 -3.5l0 7zM350 1347.5l5.3 -5.2l2 6.7zM196.6 1380.9l5.4 5.1l-6.6 2.2zM461.3 1393.9l-1.3 -7.3l6.6 2.2zM218.5 1437l1.3 7.3l-6.6 -2.2zM483.3 1450l-5.4 -5.1l6.6 -2.2zM329.8 1483.3l-5.3 5.2l-2 -6.7zM347.9 1485.6l-6.5 3.5l0 -7z"/>
<path fill="none" stroke="#98d72b" stroke-width="1.8" d="M381.8 1341.5l-8.3 4.8M220 1365.4l-4.4 -7.1M201.7 1379.6l-3.6 -7.4M482.2 1394.7l-1.3 7.7M197.6 1436.1l1.3 -7.7M478.1 1451.3l3.6 7.4M459.8 1465.5l4.4 7.1M298 1489.4l8.3 -4.8"/>
<path fill="#98d72b" d="M368.6 1349.1l3.9 -6.3l3.5 6.1zM212.7 1353.4l6.4 3.7l-6 3.6zM195.7 1367.1l6 4.3l-6.3 3zM479.9 1408.1l-2.4 -7l6.9 1.2zM199.9 1422.8l2.4 7l-6.9 -1.2zM484.1 1463.8l-6 -4.3l6.3 -3zM467.1 1477.5l-6.4 -3.7l6 -3.6zM311.2 1481.8l-3.9 6.3l-3.5 -6.1z"/>
<path fill="none" stroke="#6ed72b" stroke-width="1.8" d="M432.7 1339.8l-5.5 6.7M467.1 1353.4l-4.4 7.1M212.7 1477.5l4.4 -7.1M247.1 1491.1l5.5 -6.7"/>
<path fill="#6ed72b" d="M423.6 1350.9l1.4 -7.2l5.4 4.4zM459.8 1365.4l0.4 -7.4l6 3.6zM220 1465.5l-0.4 7.4l-6 -3.6zM256.2 1480l-1.4 7.2l-5.4 -4.4z"/>
<path fill="none" stroke="#4dd72b" stroke-width="1.8" d="M467.6 1339.5l-4.9 6.9M212.3 1491.3l4.9 -6.9"/>
<path fill="#4dd72b" d="M459.3 1351.1l0.9 -7.3l5.7 4.1zM220.5 1479.8l-0.9 7.3l-5.7 -4.1z"/>
<path fill="none" stroke="#7fd72b" stroke-width="1.8" d="M202.4 1365.4l-4.4 -7.1M483.3 1380.9l-2.5 7.6M182.3 1408.1l-1.4 -7.7M497.5 1422.8l1.4 7.7M196.6 1450l2.5 -7.6M477.4 1465.5l4.4 7.1"/>
<path fill="#7fd72b" d="M195.1 1353.4l6.4 3.7l-6 3.6zM478.9 1393.9l-1.3 -7.3l6.6 2.2zM179.9 1394.7l4.6 5.8l-6.9 1.2zM499.9 1436.1l-4.6 -5.8l6.9 -1.2zM200.9 1437l1.3 7.3l-6.6 -2.2zM484.7 1477.5l-6.4 -3.7l6 -3.6z"/>
<path fill="none" stroke="#c2d72b" stroke-width="1.8" d="M237.8 1365.3l-4.5 -7.1M415 1353.8l-5.5 6.7M264.8 1477.1l5.5 -6.7M442 1465.6l4.5 7.1"/>
<path fill="#c2d72b" d="M230.2 1353.4l6.4 3.6l-5.9 3.8zM406 1364.9l1.4 -7.2l5.4 4.4zM273.9 1466l-1.4 7.2l-5.4 -4.4zM449.6 1477.5l-6.4 -3.6l5.9 -3.8z"/>
<path fill="none" stroke="#d3d72b" stroke-width="1.8" d="M255.7 1365.2l-4.9 -7M218.5 1393.9l-2.5 -7.6M448.1 1380.9l-2.6 7.6M464.6 1394.7l-1.3 7.7M215.2 1436.1l1.3 -7.7M231.8 1450l2.6 -7.6M461.3 1437l2.5 7.6M424.1 1465.7l4.9 7"/>
<path fill="#d3d72b" d="M247.6 1353.5l6.6 3.3l-5.7 4zM214.2 1380.9l5.4 5.1l-6.6 2.2zM443.5 1393.9l-1.2 -7.3l6.6 2.3zM462.3 1408.1l-2.4 -7l6.9 1.2zM217.5 1422.8l2.4 7l-6.9 -1.2zM236.3 1437l1.2 7.3l-6.6 -2.3zM465.6 1450l-5.4 -5.1l6.6 -2.2zM432.2 1477.3l-6.6 -3.3l5.7 -4z"/>
<path fill="none" stroke="#d7c22b" stroke-width="1.8" d="M273.9 1364.9l-5.5 -6.7M292.2 1364.4l-6.4 -6.2M310.9 1363.5l-7.8 -5.2M329.7 1361.9l-9.4 -3.2M237.2 1379.6l-3.7 -7.3M442.7 1451.3l3.7 7.3M350.1 1469l9.4 3.2M368.9 1467.3l7.8 5.2M387.6 1466.4l6.4 6.2M406 1466l5.5 6.7"/>
<path fill="#d7c22b" d="M264.8 1353.8l6.8 2.8l-5.4 4.4zM281.7 1354.3l7.1 2l-4.9 5zM298.3 1355.2l7.3 0.7l-3.9 5.8zM314.8 1356.8l7.3 -1.2l-2.3 6.6zM230.9 1367.2l6.1 4.2l-6.2 3.2zM448.9 1463.7l-6.1 -4.2l6.2 -3.2zM365 1474.1l-7.3 1.2l2.3 -6.6zM381.5 1475.7l-7.3 -0.7l3.9 -5.8zM398.1 1476.6l-7.1 -2l4.9 -5zM415 1477.1l-6.8 -2.8l5.4 -4.4z"/>
<path fill="none" stroke="#d7cb2b" stroke-width="1.8" d="M347.9 1359.4l-10.3 0M365 1356.8l-9.4 3.2M217.5 1408.1l-1.3 -7.7M216.4 1422.2l0 -7.8M463.4 1408.7l0 7.8M462.3 1422.8l1.3 7.7M314.8 1474.1l9.4 -3.2M331.9 1471.5l10.3 0"/>
<path fill="#d7cb2b" d="M331.9 1359.4l6.5 -3.5l0 7zM350.1 1361.9l5 -5.4l2.3 6.6zM215.2 1394.7l4.5 5.8l-6.9 1.2zM216.4 1408.7l3.5 6.5l-7 0zM463.4 1422.2l-3.5 -6.5l7 0zM464.6 1436.1l-4.5 -5.8l6.9 -1.2zM329.7 1469l-5 5.4l-2.3 -6.6zM347.9 1471.5l-6.5 3.5l0 -7z"/>
<path fill="none" stroke="#d7d32b" stroke-width="1.8" d="M381.5 1355.2l-7.8 5.2M431.5 1367.3l-4 7.2M248.3 1463.6l4 -7.2M298.3 1475.7l7.8 -5.2"/>
<path fill="#d7d32b" d="M368.9 1363.5l3.5 -6.5l3.9 5.8zM424.7 1379.5l0.1 -7.4l6.1 3.4zM255.1 1451.4l-0.1 7.4l-6.1 -3.4zM310.9 1467.3l-3.5 6.5l-3.9 -5.8z"/>
<path fill="none" stroke="#cbd72b" stroke-width="1.8" d="M398.1 1354.3l-6.4 6.2M219.4 1379.6l-3.6 -7.4M460.4 1451.3l3.6 7.4M281.7 1476.6l6.4 -6.2"/>
<path fill="#cbd72b" d="M387.6 1364.4l2.2 -7l4.9 5zM213.4 1367.1l6 4.3l-6.3 3zM466.5 1463.8l-6 -4.3l6.3 -3zM292.2 1466.4l-2.2 7l-4.9 -5z"/>
<path fill="none" stroke="#d7a92b" stroke-width="1.8" d="M255.1 1379.5l-4 -7.2M424.7 1451.4l4 7.2"/>
<path fill="#d7a92b" d="M248.3 1367.3l6.2 4l-6.1 3.4zM431.5 1463.6l-6.2 -4l6.1 -3.4z"/>
<path fill="none" stroke="#d7902b" stroke-width="1.8" d="M273.1 1379.3l-4.6 -7.1M291.5 1378.9l-5.5 -6.7M310.3 1378.2l-6.9 -5.9M347.9 1373.4l-10.3 0M364.7 1370.3l-9 3.9M254.1 1393.8l-2.9 -7.5M413.3 1381.1l-3.3 7.4M234 1422.2l0 -7.8M266.5 1449.8l3.3 -7.4M425.7 1437.1l2.9 7.5M315.1 1460.6l9 -3.9M331.9 1457.5l10.3 0M369.6 1452.7l6.9 5.9M388.3 1452l5.5 6.7M406.7 1451.6l4.6 7.1"/>
<path fill="#d7902b" d="M265.5 1367.5l6.5 3.6l-5.9 3.8zM282.4 1367.8l6.8 2.8l-5.4 4.4zM299 1368.6l7.2 1.5l-4.5 5.3zM331.9 1373.4l6.5 -3.5l0 7zM350.4 1376.5l4.6 -5.8l2.8 6.4zM249.2 1381l5.6 4.8l-6.5 2.5zM407.7 1393.7l-0.5 -7.4l6.4 2.9zM234 1408.7l3.5 6.5l-7 0zM272.1 1437.2l0.5 7.4l-6.4 -2.9zM430.6 1449.9l-5.6 -4.8l6.5 -2.5zM329.4 1454.4l-4.6 5.8l-2.8 -6.4zM347.9 1457.5l-6.5 3.5l0 -7zM380.8 1462.3l-7.2 -1.5l4.5 -5.3zM397.4 1463.1l-6.8 -2.8l5.4 -4.4zM414.3 1463.4l-6.5 -3.6l5.9 -3.8z"/>
<path fill="none" stroke="#d7882b" stroke-width="1.8" d="M329.4 1376.5l-9 -3.9M429.4 1394.8l-1.5 7.7M250.4 1436.1l1.5 -7.7M350.4 1454.4l9 3.9"/>
<path fill="#d7882b" d="M315.1 1370.3l7.4 -0.6l-2.8 6.4zM426.8 1408.1l-2.2 -7.1l6.9 1.3zM253 1422.8l2.2 7.1l-6.9 -1.3zM364.7 1460.6l-7.4 0.6l2.8 -6.4z"/>
<path fill="none" stroke="#d7982b" stroke-width="1.8" d="M380.8 1368.6l-6.9 5.9M299 1462.3l6.9 -5.9"/>
<path fill="#d7982b" d="M369.6 1378.2l2.7 -6.9l4.5 5.3zM310.3 1452.7l-2.7 6.9l-4.5 -5.3z"/>
<path fill="none" stroke="#d7a12b" stroke-width="1.8" d="M397.4 1367.8l-5.5 6.7M235.2 1408.1l-1.4 -7.7M445.8 1408.7l0 7.8M444.6 1422.8l1.4 7.7M282.4 1463.1l5.5 -6.7"/>
<path fill="#d7a12b" d="M388.3 1378.9l1.4 -7.2l5.4 4.4zM232.8 1394.7l4.6 5.8l-6.9 1.2zM445.8 1422.2l-3.5 -6.5l7 0zM447 1436.1l-4.6 -5.8l6.9 -1.2zM291.5 1452l-1.4 7.2l-5.4 -4.4z"/>
<path fill="none" stroke="#d7b22b" stroke-width="1.8" d="M414.3 1367.5l-4.6 7.1M236.3 1393.9l-2.6 -7.6M430.6 1381l-2.9 7.5M447 1394.7l-1.4 7.7M232.8 1436.1l1.4 -7.7M249.2 1449.9l2.9 -7.5M443.5 1437l2.6 7.6M265.5 1463.4l4.6 -7.1"/>
<path fill="#d7b22b" d="M406.7 1379.3l0.6 -7.4l5.9 3.8zM231.8 1380.9l5.4 5l-6.6 2.3zM425.7 1393.8l-0.9 -7.3l6.5 2.5zM444.6 1408.1l-2.3 -7l6.9 1.2zM235.2 1422.8l2.3 7l-6.9 -1.2zM254.1 1437.1l0.9 7.3l-6.5 -2.5zM448.1 1450l-5.4 -5l6.6 -2.3zM273.1 1451.6l-0.6 7.4l-5.9 -3.8z"/>
<path fill="none" stroke="#b2d72b" stroke-width="1.8" d="M448.9 1367.2l-3.7 7.3M199.9 1408.1l-1.3 -7.7M198.7 1422.2l0 -7.8M481.1 1408.7l0 7.8M479.9 1422.8l1.3 7.7M230.9 1463.7l3.7 -7.3"/>
<path fill="#b2d72b" d="M442.7 1379.6l-0.2 -7.4l6.2 3.2zM197.6 1394.7l4.5 5.8l-6.9 1.2zM198.7 1408.7l3.5 6.5l-7 0zM481.1 1422.2l-3.5 -6.5l7 0zM482.2 1436.1l-4.5 -5.8l6.9 -1.2zM237.2 1451.3l0.2 7.4l-6.2 -3.2z"/>
<path fill="none" stroke="#d7772b" stroke-width="1.8" d="M272.1 1393.7l-3.3 -7.4M253 1408.1l-1.5 -7.7M428.1 1408.7l0 7.8M426.8 1422.8l1.5 7.7M407.7 1437.2l3.3 7.4"/>
<path fill="#d7772b" d="M266.5 1381.1l5.8 4.5l-6.4 2.9zM250.4 1394.8l4.7 5.7l-6.9 1.3zM428.1 1422.2l-3.5 -6.5l7 0zM429.4 1436.1l-4.7 -5.7l6.9 -1.3zM413.3 1449.8l-5.8 -4.5l6.4 -2.9z"/>
<path fill="none" stroke="#d76e2b" stroke-width="1.8" d="M290.4 1393.5l-4.1 -7.2M347.9 1387.4l-10.3 0M364 1383.4l-8 5M379.7 1381.8l-5.5 6.7M412 1394.8l-1.8 7.7M251.7 1422.2l0 -7.8M267.8 1436.1l1.8 -7.7M300.1 1449l5.5 -6.7M315.8 1447.5l8 -5M331.9 1443.5l10.3 0M389.4 1437.4l4.1 7.2"/>
<path fill="#d76e2b" d="M283.5 1381.3l6.2 3.9l-6.1 3.4zM331.9 1387.4l6.5 -3.5l0 7zM351.1 1391.4l3.7 -6.4l3.7 5.9zM370.7 1393l1.4 -7.2l5.4 4.4zM409 1408l-2 -7.1l6.8 1.6zM251.7 1408.7l3.5 6.5l-7 0zM270.8 1422.8l2 7.1l-6.8 -1.6zM309.2 1437.9l-1.4 7.2l-5.4 -4.4zM328.7 1439.5l-3.7 6.4l-3.7 -5.9zM347.9 1443.5l-6.5 3.5l0 -7zM396.3 1449.6l-6.2 -3.9l6.1 -3.4z"/>
<path fill="none" stroke="#d7662b" stroke-width="1.8" d="M309.2 1393l-5.5 -6.7M328.7 1391.4l-8 -5M351.1 1439.5l8 5M370.7 1437.9l5.5 6.7"/>
<path fill="#d7662b" d="M300.1 1381.8l6.8 2.8l-5.4 4.4zM315.8 1383.4l7.4 0.5l-3.7 5.9zM364 1447.5l-7.4 -0.5l3.7 -5.9zM379.7 1449l-6.8 -2.8l5.4 -4.4z"/>
<path fill="none" stroke="#d77f2b" stroke-width="1.8" d="M396.3 1381.3l-4.1 7.2M283.5 1449.6l4.1 -7.2"/>
<path fill="#d77f2b" d="M389.4 1393.5l0.2 -7.4l6.1 3.4zM290.4 1437.4l-0.2 7.4l-6.1 -3.4z"/>
<path fill="none" stroke="#d7552b" stroke-width="1.8" d="M270.8 1408l-1.8 -7.7M394.7 1394.9l-2.2 7.6M285.1 1436l2.2 -7.6M409 1422.8l1.8 7.7"/>
<path fill="#d7552b" d="M267.8 1394.8l4.9 5.6l-6.8 1.6zM391 1408l-1.6 -7.2l6.7 1.9zM288.9 1422.9l1.6 7.2l-6.7 -1.9zM412 1436.1l-4.9 -5.6l6.8 -1.6z"/>
<path fill="none" stroke="#d74d2b" stroke-width="1.8" d="M288.9 1408l-2.2 -7.6M347.2 1401.4l-8.9 0M362 1395.9l-5.4 6.6M377.9 1395.1l-3.1 7.5M269.3 1422.2l0 -7.8M410.5 1408.7l0 7.8M302 1435.8l3.1 -7.5M317.8 1435l5.4 -6.6M332.6 1429.5l8.9 0M391 1422.9l2.2 7.6"/>
<path fill="#d74d2b" d="M285.1 1394.9l5.2 5.3l-6.7 1.9zM332.6 1401.4l6.5 -3.5l0 7zM353.1 1406.9l1.4 -7.2l5.4 4.4zM372.5 1407.8l-0.7 -7.3l6.5 2.7zM269.3 1408.7l3.5 6.5l-7 0zM410.5 1422.2l-3.5 -6.5l7 0zM307.3 1423.1l0.7 7.3l-6.5 -2.7zM326.8 1424l-1.4 7.2l-5.4 -4.4zM347.2 1429.5l-6.5 3.5l0 -7zM394.7 1436l-5.2 -5.3l6.7 -1.9z"/>
<path fill="none" stroke="#d7442b" stroke-width="1.8" d="M307.3 1407.8l-3.1 -7.5M326.8 1406.9l-5.4 -6.6M353.1 1424l5.4 6.6M372.5 1423.1l3.1 7.5"/>
<path fill="#d7442b" d="M302 1395.1l5.7 4.6l-6.5 2.7zM317.8 1395.9l6.8 2.8l-5.4 4.4zM362 1435l-6.8 -2.8l5.4 -4.4zM377.9 1435.8l-5.7 -4.6l6.5 -2.7z"/>
<path fill="none" stroke="#d73c2b" stroke-width="1.8" d="M287 1422.2l0 -7.8M304.6 1422.2l0 -7.8M375.2 1408.7l0 7.8M392.8 1408.7l0 7.8"/>
<path fill="#d73c2b" d="M287 1408.7l3.5 6.5l-7 0zM304.6 1408.7l3.5 6.5l-7 0zM375.2 1422.2l-3.5 -6.5l7 0zM392.8 1422.2l-3.5 -6.5l7 0z"/>
<path fill="none" stroke="#d7342b" stroke-width="1.8" d="M322.3 1421.6l0 -6.7M357.6 1409.3l0 6.7"/>
<path fill="#d7342b" d="M322.3 1409.3l3.5 6.5l-7 0zM357.6 1421.6l-3.5 -6.5l7 0z"/>
<path fill="none" stroke="#d72b2b" stroke-width="1.8" d="M336.5 1418.3l2.4 -2.1"/>
<path fill="#d72b2b" d="M343.3 1412.6l-2.7 6.9l-4.5 -5.4z"/>
<path fill="none" stroke="#34d72b" stroke-width="1.8" d="M760.9 1219.1l-10.3 0M758.6 1228.4l-7 5.9M758.6 1251.9l-7 -5.9M975.5 1327.7l8.5 4.6M992.3 1329.2l9.7 2.7M924.9 1339.7l5.3 6.8M1064.9 1350.1l6.9 -5.9M873.5 1367.1l3.5 7.4M1102.5 1379.5l3.9 -7.3M1158.7 1422.2l0 -7.8M932.6 1451.4l-3.9 7.3M1161.6 1463.8l-3.5 -7.4M970.2 1480.7l-6.9 5.9M1110.2 1491.2l-5.3 -6.8M1042.8 1501.7l-9.7 -2.7M1059.6 1503.2l-8.5 -4.6M1276.5 1578.9l7 5.9M1276.5 1602.5l7 -5.9M1274.2 1611.8l10.3 0"/>
<path fill="#34d72b" d="M752.9 1202.5l2.8 4.6l-5.5 0zM1285.2 1205.1l-5.5 3.3l0 -6.5zM744.9 1219.1l6.5 -3.5l0 7zM747.2 1237.9l2.7 -6.9l4.5 5.4zM747.2 1242.4l7.2 1.5l-4.5 5.4zM989 1335l-7.4 0l3.3 -6.2zM1007.5 1333.4l-7.2 1.6l1.9 -6.7zM933.8 1350.9l-6.8 -2.9l5.5 -4.3zM1076.1 1340.5l-2.7 6.9l-4.6 -5.3zM879.3 1379.7l-5.9 -4.4l6.3 -3zM1109.1 1367.2l0 7.4l-6.2 -3.3zM1158.7 1408.7l3.5 6.5l-7 0zM926 1463.7l0 -7.4l6.2 3.3zM1155.8 1451.2l5.9 4.4l-6.3 3zM959 1490.4l2.7 -6.9l4.6 5.3zM1101.3 1479.9l6.8 2.9l-5.5 4.3zM1027.6 1497.5l7.2 -1.6l-1.9 6.7zM1046.1 1495.9l7.4 0l-3.3 6.2zM1287.8 1588.5l-7.2 -1.5l4.5 -5.4zM1287.8 1593l-2.7 6.9l-4.5 -5.4zM1290.2 1611.8l-6.5 3.5l0 -7zM749.9 1625.8l5.5 -3.3l0 6.5zM1282.2 1628.4l-2.8 -4.6l5.5 0z"/>
<path fill="none" stroke="#2bd734" stroke-width="1.8" d="M770.5 1211.8l0 -7.8M788.2 1211.8l0 -7.8M1246.9 1198.3l0 7.8M1264.5 1198.3l0 7.8M1268.2 1236.2l-3 -2.5M1290.2 1233.1l-10.3 0M1290.2 1247.2l-10.3 0M760.9 1261.2l-10.3 0M941.8 1326.2l6.3 6.3M958.7 1326.7l7.2 5.7M1009.5 1331.3l10.3 0M1027.6 1333.4l9.7 -2.7M907.5 1339.6l5 6.9M872.8 1353.3l4.2 7.2M855.7 1367.1l3.6 7.4M1120.4 1379.6l3.6 -7.4M1138.9 1393.9l2.5 -7.6M875.3 1394.7l1.3 7.7M876.4 1408.7l0 7.8M1159.8 1436.2l-1.3 -7.7M896.1 1437l-2.5 7.6M914.7 1451.3l-3.6 7.4M1179.4 1463.8l-3.6 -7.4M1162.3 1477.6l-4.2 -7.2M1127.6 1491.3l-5 -6.9M1007.5 1497.5l-9.7 2.7M1025.5 1499.6l-10.3 0M1076.3 1504.2l-7.2 -5.7M1093.3 1504.7l-6.3 -6.3M1274.2 1569.7l10.3 0M744.9 1583.7l10.3 0M744.9 1597.7l10.3 0M766.9 1594.6l3 2.5M770.5 1632.5l0 -7.8M788.2 1632.5l0 -7.8M1246.9 1619l0 7.8M1264.5 1619l0 7.8"/>
<path fill="#2bd734" d="M770.5 1198.3l3.5 6.5l-7 0zM788.2 1198.3l3.5 6.5l-7 0zM1246.9 1211.8l-3.5 -6.5l7 0zM1264.5 1211.8l-3.5 -6.5l7 0zM768.4 1231.3l5.8 0.9l-3.9 4.6zM1260.9 1230l7.2 1.5l-4.5 5.4zM1274.2 1233.1l6.5 -3.5l0 7zM767.5 1247.2l5.5 -3.3l0 6.5zM1262.4 1249l1.9 -5.6l3.9 4.6zM1274.2 1247.2l6.5 -3.5l0 7zM744.9 1261.2l6.5 -3.5l0 7zM952.2 1336.4l-7.1 -2.1l4.9 -5zM970.5 1335.9l-7.3 -1.2l4.3 -5.5zM1025.5 1331.3l-6.5 3.5l0 -7zM1042.8 1329.2l-5.3 5.1l-1.9 -6.7zM915.8 1351.1l-6.6 -3.2l5.7 -4.1zM880 1365.4l-6.3 -3.8l6 -3.6zM861.8 1379.6l-6 -4.3l6.3 -3.1zM1126.5 1367.1l0.3 7.4l-6.3 -3.1zM1143.2 1380.9l1.3 7.3l-6.7 -2.2zM877.5 1408.1l-4.5 -5.8l6.9 -1.1zM876.4 1422.2l-3.5 -6.5l7 0zM1157.6 1422.8l4.5 5.8l-6.9 1.1zM891.9 1450l-1.3 -7.3l6.7 2.2zM908.6 1463.8l-0.3 -7.4l6.3 3.1zM1173.3 1451.3l6 4.3l-6.3 3.1zM1155.1 1465.5l6.3 3.8l-6 3.6zM1119.3 1479.8l6.6 3.2l-5.7 4.1zM992.3 1501.7l5.3 -5.1l1.9 6.7zM1009.5 1499.6l6.5 -3.5l0 7zM1064.6 1495l7.3 1.2l-4.3 5.5zM1082.9 1494.4l7.1 2.1l-4.9 5zM1290.2 1569.7l-6.5 3.5l0 -7zM760.9 1583.7l-6.5 3.5l0 -7zM772.7 1581.9l-1.9 5.6l-3.9 -4.6zM1267.6 1583.7l-5.5 3.3l0 -6.5zM760.9 1597.7l-6.5 3.5l0 -7zM774.2 1600.8l-7.2 -1.5l4.5 -5.4zM1266.7 1599.6l-5.8 -0.9l3.9 -4.6zM770.5 1619l3.5 6.5l-7 0zM788.2 1619l3.5 6.5l-7 0zM1246.9 1632.5l-3.5 -6.5l7 0zM1264.5 1632.5l-3.5 -6.5l7 0z"/>
<path fill="none" stroke="#2bd74d" stroke-width="1.8" d="M805.8 1211.8l0 -7.8M760.9 1289.2l-10.3 0M1290.2 1289.2l-10.3 0M907.2 1325.7l5.3 6.8M924.6 1325.9l5.7 6.6M1046.1 1335l8.5 -4.6M1064.6 1335.9l7.2 -5.7M872.4 1339.5l4.8 7M855.1 1353.4l4.4 7.1M1138.1 1379.7l3.5 -7.4M856.6 1380.9l2.6 7.6M1178.5 1450l-2.6 -7.6M897 1451.2l-3.5 7.4M1180 1477.5l-4.4 -7.1M1162.7 1491.4l-4.8 -7M970.5 1495l-7.2 5.7M989 1495.9l-8.5 4.6M1110.5 1505l-5.7 -6.6M1127.8 1505.2l-5.3 -6.8M744.9 1541.7l10.3 0M1274.2 1541.7l10.3 0M1229.3 1619l0 7.8"/>
<path fill="#2bd74d" d="M805.8 1198.3l3.5 6.5l-7 0zM788.2 1249.7l-2.8 -4.6l5.5 0zM744.9 1289.2l6.5 -3.5l0 7zM1274.2 1289.2l6.5 -3.5l0 7zM916.1 1336.9l-6.8 -2.9l5.5 -4.3zM934.1 1336.8l-6.9 -2.6l5.3 -4.6zM1059.6 1327.7l-4.1 6.2l-3.3 -6.2zM1076.3 1326.7l-3 6.8l-4.3 -5.5zM880.4 1351.2l-6.6 -3.4l5.8 -4zM862.5 1365.3l-6.4 -3.7l6 -3.7zM1144 1367.1l0.4 7.4l-6.3 -3zM861 1393.9l-5.4 -5l6.6 -2.2zM1174.1 1437l5.4 5l-6.6 2.2zM891.1 1463.8l-0.4 -7.4l6.3 3zM1172.6 1465.6l6.4 3.7l-6 3.7zM1154.7 1479.7l6.6 3.4l-5.8 4zM958.7 1504.2l3 -6.8l4.3 5.5zM975.5 1503.2l4.1 -6.2l3.3 6.2zM1101 1494.1l6.9 2.6l-5.3 4.6zM1119 1494l6.8 2.9l-5.5 4.3zM760.9 1541.7l-6.5 3.5l0 -7zM1290.2 1541.7l-6.5 3.5l0 -7zM1246.9 1581.2l2.8 4.6l-5.5 0zM1229.3 1632.5l-3.5 -6.5l7 0z"/>
<path fill="none" stroke="#2bd777" stroke-width="1.8" d="M823.5 1211.8l0 -7.8M1211.6 1198.3l0 7.8M827.1 1216l-3 2.5M823.5 1226.4l0 7.8M817.8 1242.4l7 5.9M1225.6 1250.3l3 -2.5M784.5 1286.1l3 2.5M800 1284.6l7.2 5.7M1243.2 1292.3l3 -2.5M760.9 1303.3l-10.3 0M1290.2 1303.3l-10.3 0M941.6 1312.2l6.5 6.2M958.6 1312.8l7.4 5.5M1027.6 1319.3l9.8 -2.6M854.3 1325.7l5.3 6.8M1101 1336.8l5.7 -6.6M1137 1351.2l4.8 -7M1155.8 1379.7l3.5 -7.4M1175.2 1408.1l1.3 -7.7M858.8 1408.7l0 7.8M859.9 1422.8l-1.3 7.7M879.3 1451.2l-3.5 7.4M898.1 1479.7l-4.8 7M934.1 1494.1l-5.7 6.6M1180.8 1505.2l-5.3 -6.8M1007.5 1511.6l-9.8 2.6M1076.5 1518.1l-7.4 -5.5M1093.4 1518.6l-6.5 -6.2M744.9 1527.6l10.3 0M1274.2 1527.6l10.3 0M791.9 1538.5l-3 2.5M1235.1 1546.2l-7.2 -5.7M1250.6 1544.8l-3 -2.5M809.5 1580.6l-3 2.5M1217.3 1588.5l-7 -5.9M1211.6 1604.5l0 -7.8M1207.9 1614.9l3 -2.5M823.5 1632.5l0 -7.8M1211.6 1619l0 7.8"/>
<path fill="#2bd777" d="M823.5 1198.3l3.5 6.5l-7 0zM1211.6 1211.8l-3.5 -6.5l7 0zM819.8 1222.2l2.7 -6.9l4.5 5.4zM823.5 1239.9l-3.5 -6.5l7 0zM829.1 1251.9l-7.2 -1.5l4.5 -5.4zM1232.9 1244.1l-2.7 6.9l-4.5 -5.4zM791.9 1292.3l-7.2 -1.5l4.5 -5.4zM811.7 1293.8l-7.3 -1.2l4.3 -5.5zM1250.6 1286.1l-2.7 6.9l-4.5 -5.4zM744.9 1303.3l6.5 -3.5l0 7zM1274.2 1303.3l6.5 -3.5l0 7zM952.3 1322.3l-7.1 -1.9l4.8 -5.1zM970.6 1321.8l-7.3 -1.1l4.2 -5.6zM1042.8 1315.3l-5.4 5l-1.8 -6.8zM863.2 1336.9l-6.8 -2.9l5.5 -4.3zM1110.5 1325.9l-1.6 7.2l-5.3 -4.6zM1145.1 1339.5l-0.8 7.3l-5.8 -4zM1161.6 1367.1l0.4 7.4l-6.3 -3zM1177.5 1394.7l2.3 7l-6.9 -1.2zM858.8 1422.2l-3.5 -6.5l7 0zM857.6 1436.1l-2.3 -7l6.9 1.2zM873.5 1463.8l-0.4 -7.4l6.3 3zM890 1491.4l0.8 -7.3l5.8 4zM924.6 1505l1.6 -7.2l5.3 4.6zM1171.9 1494l6.8 2.9l-5.5 4.3zM992.3 1515.6l5.4 -5l1.8 6.8zM1064.5 1509.1l7.3 1.1l-4.2 5.6zM1082.8 1508.6l7.1 1.9l-4.8 5.1zM760.9 1527.6l-6.5 3.5l0 -7zM1290.2 1527.6l-6.5 3.5l0 -7zM784.5 1544.8l2.7 -6.9l4.5 5.4zM1223.4 1537.1l7.3 1.2l-4.3 5.5zM1243.2 1538.5l7.2 1.5l-4.5 5.4zM802.2 1586.8l2.7 -6.9l4.5 5.4zM1206 1578.9l7.2 1.5l-4.5 5.4zM1211.6 1591l3.5 6.5l-7 0zM1215.3 1608.7l-2.7 6.9l-4.5 -5.4zM823.5 1619l3.5 6.5l-7 0zM1211.6 1632.5l-3.5 -6.5l7 0z"/>
<path fill="none" stroke="#2bd7ba" stroke-width="1.8" d="M841.1 1211.8l0 -7.8M1194 1198.3l0 7.8M1199.6 1223.9l-7 -5.9M1189.5 1280.8l5.3 -6.8M836.4 1283.8l5.7 6.6M1189.2 1294.7l5.7 -6.6M872 1297.6l5.3 6.8M907.1 1297.7l5.5 6.7M924.5 1297.9l5.9 6.5M941.6 1298.2l6.5 6.2M958.6 1298.8l7.4 5.5M1027.6 1305.3l9.8 -2.6M1046 1306.8l8.6 -4.4M1064.5 1307.7l7.4 -5.5M1154.3 1308.9l5.3 -6.8M1189.1 1308.6l5.9 -6.5M781.4 1313.8l8.6 4.4M1171.8 1322.8l5.5 -6.7M1206.3 1322.3l6.5 -6.2M1240.1 1320.8l8.6 -4.4M818.3 1326.2l6.3 6.3M1171.9 1336.9l5.3 -6.8M1189.2 1336.8l5.7 -6.6M818.6 1340l6 6.5M1189.5 1350.9l5.3 -6.8M841.1 1408.7l0 7.8M845.6 1479.9l-5.3 6.8M1216.5 1490.9l-6 -6.5M845.8 1494.1l-5.7 6.6M863.2 1494l-5.3 6.8M1216.8 1504.7l-6.3 -6.3M795 1510.1l-8.6 4.4M828.8 1508.6l-6.5 6.2M863.3 1508.1l-5.5 6.7M1253.7 1517.1l-8.6 -4.4M846 1522.3l-5.9 6.5M880.8 1522l-5.3 6.8M970.6 1523.2l-7.4 5.5M989.1 1524.1l-8.6 4.4M1007.5 1525.6l-9.8 2.6M1076.5 1532.1l-7.4 -5.5M1093.4 1532.7l-6.5 -6.2M1110.6 1533l-5.9 -6.5M1128 1533.2l-5.5 -6.7M1163.1 1533.2l-5.3 -6.8M845.8 1536.2l-5.7 6.6M1198.7 1547.1l-5.7 -6.6M845.6 1550.1l-5.3 6.8M835.5 1607l7 5.9M841.1 1632.5l0 -7.8M1194 1619l0 7.8"/>
<path fill="#2bd7ba" d="M841.1 1198.3l3.5 6.5l-7 0zM1194 1211.8l-3.5 -6.5l7 0zM1188.3 1214.4l7.2 1.5l-4.5 5.4zM1198.4 1269.6l-1.3 7.3l-5.5 -4.3zM845.8 1294.7l-6.9 -2.6l5.3 -4.6zM1198.7 1283.8l-1.6 7.2l-5.3 -4.6zM880.8 1308.9l-6.8 -2.9l5.5 -4.3zM916.3 1308.8l-6.8 -2.8l5.4 -4.5zM934.2 1308.6l-7 -2.5l5.2 -4.7zM952.3 1308.3l-7.1 -1.9l4.8 -5.1zM970.6 1307.7l-7.3 -1.1l4.2 -5.6zM1042.8 1301.2l-5.4 5l-1.8 -6.8zM1059.7 1299.7l-4.2 6.1l-3.2 -6.2zM1076.5 1298.8l-3.1 6.7l-4.2 -5.6zM1163.1 1297.6l-1.3 7.3l-5.5 -4.3zM1198.8 1297.9l-1.8 7.2l-5.2 -4.7zM795 1320.8l-7.4 0.1l3.2 -6.2zM1180.9 1311.7l-1.4 7.2l-5.4 -4.5zM1216.9 1312.2l-2.3 7l-4.8 -5.1zM1253.7 1313.8l-4.2 6.1l-3.2 -6.2zM828.7 1336.4l-7.1 -2.1l4.9 -5zM1180.8 1325.7l-1.3 7.3l-5.5 -4.3zM1198.7 1325.9l-1.6 7.2l-5.3 -4.6zM828.4 1350.7l-7 -2.4l5.1 -4.7zM1198.4 1339.7l-1.3 7.3l-5.5 -4.3zM841.1 1422.2l-3.5 -6.5l7 0zM836.7 1491.2l1.3 -7.3l5.5 4.3zM1206.7 1480.2l7 2.4l-5.1 4.7zM836.4 1505l1.6 -7.2l5.3 4.6zM854.3 1505.2l1.3 -7.3l5.5 4.3zM1206.4 1494.4l7.1 2.1l-4.9 5zM781.4 1517.1l4.2 -6.1l3.2 6.2zM818.1 1518.6l2.3 -7l4.8 5.1zM854.2 1519.1l1.4 -7.2l5.4 4.5zM1240.1 1510.1l7.4 -0.1l-3.2 6.2zM836.3 1533l1.8 -7.2l5.2 4.7zM872 1533.2l1.3 -7.3l5.5 4.3zM958.6 1532.1l3.1 -6.7l4.2 5.6zM975.4 1531.2l4.2 -6.1l3.2 6.2zM992.3 1529.6l5.4 -5l1.8 6.8zM1064.5 1523.2l7.3 1.1l-4.2 5.6zM1082.8 1522.6l7.1 1.9l-4.8 5.1zM1100.9 1522.3l7 2.5l-5.2 4.7zM1118.8 1522.1l6.8 2.8l-5.4 4.5zM1154.3 1522l6.8 2.9l-5.5 4.3zM836.4 1547.1l1.6 -7.2l5.3 4.6zM1189.2 1536.2l6.9 2.6l-5.3 4.6zM836.7 1561.3l1.3 -7.3l5.5 4.3zM846.8 1616.5l-7.2 -1.5l4.5 -5.4zM841.1 1619l3.5 6.5l-7 0zM1194 1632.5l-3.5 -6.5l7 0z"/>
<path fill="none" stroke="#2bbad7" stroke-width="1.8" d="M858.8 1211.8l0 -7.8M1176.3 1198.3l0 7.8M1180 1222.2l-3 -2.5M1176.3 1239.9l0 -7.8M1170.7 1251.9l7 -5.9M889.7 1283.5l5.2 6.8M907.2 1283.6l5.3 6.8M924.6 1283.8l5.7 6.6M941.8 1284.1l6.3 6.3M958.7 1284.6l7.2 5.7M1027.6 1291.3l9.7 -2.7M1046.1 1292.9l8.5 -4.6M1064.6 1293.8l7.2 -5.7M1082.9 1294.4l6.3 -6.3M1101 1294.7l5.7 -6.6M766.9 1328.2l3 2.5M760.9 1345.3l-10.3 0M781.6 1341.4l8.2 4.9M801.4 1367.8l5.3 6.8M1207.9 1379.3l4.4 -7.1M823.5 1408.7l0 7.8M827.2 1451.5l-4.4 7.1M1233.7 1463.1l-5.3 -6.8M1253.4 1489.4l-8.2 -4.9M1274.2 1485.6l10.3 0M1268.2 1502.7l-3 -2.5M934.1 1536.2l-5.7 6.6M952.2 1536.5l-6.3 6.3M970.5 1537.1l-7.2 5.7M989 1538l-8.5 4.6M1007.5 1539.5l-9.7 2.7M1076.3 1546.2l-7.2 -5.7M1093.3 1546.8l-6.3 -6.3M1110.5 1547.1l-5.7 -6.6M1127.8 1547.3l-5.3 -6.8M1145.3 1547.3l-5.2 -6.8M864.4 1578.9l-7 5.9M858.8 1591l0 7.8M855.1 1608.7l3 2.5M858.8 1632.5l0 -7.8M1176.3 1619l0 7.8"/>
<path fill="#2bbad7" d="M858.8 1198.3l3.5 6.5l-7 0zM1176.3 1211.8l-3.5 -6.5l7 0zM1172.7 1216l7.2 1.5l-4.5 5.4zM1176.3 1226.4l3.5 6.5l-7 0zM1182 1242.4l-2.7 6.9l-4.5 -5.4zM898.3 1294.9l-6.7 -3.1l5.6 -4.2zM916.1 1294.9l-6.8 -2.9l5.5 -4.3zM934.1 1294.7l-6.9 -2.6l5.3 -4.6zM952.2 1294.4l-7.1 -2.1l4.9 -5zM970.5 1293.8l-7.3 -1.2l4.3 -5.5zM1042.8 1287.1l-5.3 5.1l-1.9 -6.7zM1059.6 1285.6l-4.1 6.2l-3.3 -6.2zM1076.3 1284.6l-3 6.8l-4.3 -5.5zM1093.3 1284.1l-2.2 7.1l-4.9 -5zM1110.5 1283.8l-1.6 7.2l-5.3 -4.6zM774.2 1334.4l-7.2 -1.5l4.5 -5.4zM744.9 1345.3l6.5 -3.5l0 7zM794.7 1349.2l-7.4 -0.3l3.6 -6zM810.3 1379l-6.8 -2.9l5.5 -4.3zM1215.3 1367.4l-0.5 7.4l-5.9 -3.7zM823.5 1422.2l-3.5 -6.5l7 0zM819.7 1463.5l0.5 -7.4l5.9 3.7zM1224.8 1451.9l6.8 2.9l-5.5 4.3zM1240.4 1481.7l7.4 0.3l-3.6 6zM1290.2 1485.6l-6.5 3.5l0 -7zM1260.9 1496.5l7.2 1.5l-4.5 5.4zM924.6 1547.1l1.6 -7.2l5.3 4.6zM941.8 1546.8l2.2 -7.1l4.9 5zM958.7 1546.2l3 -6.8l4.3 5.5zM975.5 1545.3l4.1 -6.2l3.3 6.2zM992.3 1543.8l5.3 -5.1l1.9 6.7zM1064.6 1537.1l7.3 1.2l-4.3 5.5zM1082.9 1536.5l7.1 2.1l-4.9 5zM1101 1536.2l6.9 2.6l-5.3 4.6zM1119 1536l6.8 2.9l-5.5 4.3zM1136.7 1536l6.7 3.1l-5.6 4.2zM853.1 1588.5l2.7 -6.9l4.5 5.4zM858.8 1604.5l-3.5 -6.5l7 0zM862.4 1614.9l-7.2 -1.5l4.5 -5.4zM858.8 1619l3.5 6.5l-7 0zM1176.3 1632.5l-3.5 -6.5l7 0z"/>
<path fill="none" stroke="#2b90d7" stroke-width="1.8" d="M876.4 1211.8l0 -7.8M1158.7 1198.3l0 7.8M1163.9 1219.1l-4.7 0M1158.7 1239.9l0 -7.8M894 1240.4l0 7.8M1158.7 1253.9l0 -7.8M942.1 1269.9l6 6.5M959 1270.4l6.9 5.9M1046.3 1279.1l8.2 -4.9M1064.9 1280l6.9 -5.9M760.9 1359.4l-10.3 0M763.2 1356.7l9.4 3.3M782.6 1368.5l6.8 6M1224.8 1379l5.3 -6.8M1225.9 1393.5l4 -7.3M1227.4 1408l2.1 -7.6M805.8 1408.7l0 7.8M1229.3 1422.2l0 -7.8M807.7 1422.9l-2.1 7.6M809.2 1437.4l-4 7.3M810.3 1451.9l-5.3 6.8M1252.5 1462.4l-6.8 -6M1271.9 1474.1l-9.4 -3.3M1274.2 1471.5l10.3 0M970.2 1550.9l-6.9 5.9M988.8 1551.8l-8.2 4.9M1076.1 1560.5l-6.9 -5.9M1093 1561l-6 -6.5M876.4 1577l0 7.8M1141 1590.5l0 -7.8M876.4 1591l0 7.8M871.2 1611.8l4.7 0M876.4 1632.5l0 -7.8M1158.7 1619l0 7.8"/>
<path fill="#2b90d7" d="M876.4 1198.3l3.5 6.5l-7 0zM1158.7 1211.8l-3.5 -6.5l7 0zM1153.5 1219.1l6.5 -3.5l0 7zM1158.7 1226.4l3.5 6.5l-7 0zM894 1253.9l-3.5 -6.5l7 0zM1158.7 1240.4l3.5 6.5l-7 0zM951.9 1280.5l-7 -2.4l5.1 -4.7zM970.2 1280l-7.2 -1.6l4.6 -5.3zM1059.4 1271.3l-3.8 6.3l-3.6 -6zM1076.1 1270.4l-2.7 6.9l-4.6 -5.3zM744.9 1359.4l6.5 -3.5l0 7zM777.9 1362l-7.3 1.1l2.3 -6.6zM793.7 1378.2l-7.2 -1.6l4.6 -5.3zM1233.7 1367.8l-1.3 7.3l-5.5 -4.3zM1232.6 1381.3l0 7.4l-6.1 -3.4zM1231.1 1394.9l1.6 7.2l-6.7 -1.9zM805.8 1422.2l-3.5 -6.5l7 0zM1229.3 1408.7l3.5 6.5l-7 0zM804 1436l-1.6 -7.2l6.7 1.9zM802.5 1449.6l0 -7.4l6.1 3.4zM801.4 1463.1l1.3 -7.3l5.5 4.3zM1241.4 1452.7l7.2 1.6l-4.6 5.3zM1257.2 1468.9l7.3 -1.1l-2.3 6.6zM1290.2 1471.5l-6.5 3.5l0 -7zM959 1560.5l2.7 -6.9l4.6 5.3zM975.7 1559.6l3.8 -6.3l3.6 6zM1064.9 1550.9l7.2 1.6l-4.6 5.3zM1083.2 1550.3l7 2.4l-5.1 4.7zM876.4 1590.5l-3.5 -6.5l7 0zM1141 1577l3.5 6.5l-7 0zM876.4 1604.5l-3.5 -6.5l7 0zM881.6 1611.8l-6.5 3.5l0 -7zM876.4 1619l3.5 6.5l-7 0zM1158.7 1632.5l-3.5 -6.5l7 0z"/>
<path fill="none" stroke="#2b7fd7" stroke-width="1.8" d="M894 1211.8l0 -7.8M897.7 1222.2l-3 -2.5M1141 1253.9l0 -7.8M908 1255.2l4.4 7.1M1290.2 1359.4l-10.3 0M763.5 1370.2l8.9 4M1241.4 1378.2l6.8 -6M783.7 1381.8l5.3 6.8M1251.3 1449.1l-5.3 -6.8M793.7 1452.7l-6.8 6M1271.6 1460.7l-8.9 -4M744.9 1471.5l10.3 0M1127.1 1575.7l-4.4 -7.1M894 1577l0 7.8M1137.4 1608.7l3 2.5M1141 1619l0 7.8"/>
<path fill="#2b7fd7" d="M894 1198.3l3.5 6.5l-7 0zM890.4 1216l7.2 1.5l-4.5 5.4zM1141 1240.4l3.5 6.5l-7 0zM915.4 1267.2l-6.4 -3.7l6 -3.7zM1274.2 1359.4l6.5 -3.5l0 7zM777.6 1376.5l-7.4 0.5l2.9 -6.4zM1252.5 1368.5l-2.6 6.9l-4.6 -5.3zM792.6 1393l-6.8 -2.9l5.5 -4.3zM1242.5 1437.9l6.8 2.9l-5.5 4.3zM782.6 1462.4l2.6 -6.9l4.6 5.3zM1257.5 1454.4l7.4 -0.5l-2.9 6.4zM760.9 1471.5l-6.5 3.5l0 -7zM1119.7 1563.7l6.4 3.7l-6 3.7zM894 1590.5l-3.5 -6.5l7 0zM1144.7 1614.9l-7.2 -1.5l4.5 -5.4zM1141 1632.5l-3.5 -6.5l7 0z"/>
<path fill="none" stroke="#2b4dd7" stroke-width="1.8" d="M911.7 1211.8l0 -7.8M1123.4 1198.3l0 7.8M929.3 1228.8l0 3.1M1105.8 1239.9l0 -7.8M929.3 1240.4l0 7.8M1088.1 1253.9l0 -7.8M1105.8 1253.9l0 -7.8M1287.4 1373.4l-4.7 0M766.1 1395.8l5.3 6.8M1260.1 1407l5.3 -6.8M775 1423.9l-5.3 6.8M1269 1435.1l-5.3 -6.8M747.7 1457.5l4.7 0M929.3 1577l0 7.8M947 1577l0 7.8M1105.8 1590.5l0 -7.8M929.3 1591l0 7.8M1105.8 1602.1l0 -3.1M911.7 1632.5l0 -7.8M1123.4 1619l0 7.8"/>
<path fill="#2b4dd7" d="M911.7 1198.3l3.5 6.5l-7 0zM1123.4 1211.8l-3.5 -6.5l7 0zM929.3 1237.5l-3.5 -6.5l7 0zM1105.8 1226.4l3.5 6.5l-7 0zM929.3 1253.9l-3.5 -6.5l7 0zM1088.1 1240.4l3.5 6.5l-7 0zM1105.8 1240.4l3.5 6.5l-7 0zM1277 1373.4l6.5 -3.5l0 7zM749.9 1387.4l5.5 -3.3l0 6.5zM775 1407l-6.8 -2.9l5.5 -4.3zM1269 1395.8l-1.3 7.3l-5.5 -4.3zM766.1 1435.1l1.3 -7.3l5.5 4.3zM1260.1 1423.9l6.8 2.9l-5.5 4.3zM1285.2 1443.5l-5.5 3.3l0 -6.5zM758.1 1457.5l-6.5 3.5l0 -7zM929.3 1590.5l-3.5 -6.5l7 0zM947 1590.5l-3.5 -6.5l7 0zM1105.8 1577l3.5 6.5l-7 0zM929.3 1604.5l-3.5 -6.5l7 0zM1105.8 1593.4l3.5 6.5l-7 0zM911.7 1619l3.5 6.5l-7 0zM1123.4 1632.5l-3.5 -6.5l7 0z"/>
<path fill="none" stroke="#2b3cd7" stroke-width="1.8" d="M929.3 1211.8l0 -7.8M1105.8 1198.3l0 7.8M947 1242.8l0 3.1M964.6 1242.8l0 3.1M1070.5 1253.9l0 -7.8M770.5 1408.7l0 7.8M1264.5 1422.2l0 -7.8M964.6 1577l0 7.8M1070.5 1588.1l0 -3.1M1088.1 1588.1l0 -3.1M929.3 1632.5l0 -7.8M1105.8 1619l0 7.8"/>
<path fill="#2b3cd7" d="M929.3 1198.3l3.5 6.5l-7 0zM1105.8 1211.8l-3.5 -6.5l7 0zM947 1251.6l-3.5 -6.5l7 0zM964.6 1251.6l-3.5 -6.5l7 0zM982.3 1249.7l-2.8 -4.6l5.5 0zM1052.8 1244.6l2.8 4.6l-5.5 0zM1070.5 1240.4l3.5 6.5l-7 0zM1279.2 1387.4l5.5 -3.3l0 6.5zM749.9 1401.4l5.5 -3.3l0 6.5zM770.5 1422.2l-3.5 -6.5l7 0zM1264.5 1408.7l3.5 6.5l-7 0zM1285.2 1429.5l-5.5 3.3l0 -6.5zM755.9 1443.5l-5.5 3.3l0 -6.5zM964.6 1590.5l-3.5 -6.5l7 0zM982.3 1586.3l-2.8 -4.6l5.5 0zM1052.8 1581.2l2.8 4.6l-5.5 0zM1070.5 1579.3l3.5 6.5l-7 0zM1088.1 1579.3l3.5 6.5l-7 0zM929.3 1619l3.5 6.5l-7 0zM1105.8 1632.5l-3.5 -6.5l7 0z"/>
<path fill="none" stroke="#2b2bd7" stroke-width="1.8" d="M947 1211.8l0 -7.8M964.6 1211.8l0 -7.8M982.3 1211.8l0 -7.8M1052.8 1198.3l0 7.8M1070.5 1198.3l0 7.8M1088.1 1198.3l0 7.8M947 1632.5l0 -7.8M964.6 1632.5l0 -7.8M982.3 1632.5l0 -7.8M1052.8 1619l0 7.8M1070.5 1619l0 7.8M1088.1 1619l0 7.8"/>
<path fill="#2b2bd7" d="M947 1198.3l3.5 6.5l-7 0zM964.6 1198.3l3.5 6.5l-7 0zM982.3 1198.3l3.5 6.5l-7 0zM1052.8 1211.8l-3.5 -6.5l7 0zM1070.5 1211.8l-3.5 -6.5l7 0zM1088.1 1211.8l-3.5 -6.5l7 0zM944.8 1217.3l5.8 0.9l-3.9 4.6zM962.5 1217.3l5.8 0.9l-3.9 4.6zM979.2 1219.1l5.5 -3.3l0 6.5zM1050.7 1217.3l5.8 0.9l-3.9 4.6zM1068.3 1217.3l5.8 0.9l-3.9 4.6zM996.9 1247.2l5.5 -3.3l0 6.5zM1020.6 1247.2l-5.5 3.3l0 -6.5zM1032.1 1247.2l5.5 -3.3l0 6.5zM1279.2 1401.4l5.5 -3.3l0 6.5zM752.9 1412.9l2.8 4.6l-5.5 0zM755.9 1429.5l-5.5 3.3l0 -6.5zM1002.9 1583.7l-5.5 3.3l0 -6.5zM1014.5 1583.7l5.5 -3.3l0 6.5zM1038.2 1583.7l-5.5 3.3l0 -6.5zM966.8 1613.6l-5.8 -0.9l3.9 -4.6zM984.4 1613.6l-5.8 -0.9l3.9 -4.6zM1055.9 1611.8l-5.5 3.3l0 -6.5zM1072.6 1613.6l-5.8 -0.9l3.9 -4.6zM1090.3 1613.6l-5.8 -0.9l3.9 -4.6zM947 1619l3.5 6.5l-7 0zM964.6 1619l3.5 6.5l-7 0zM982.3 1619l3.5 6.5l-7 0zM1052.8 1632.5l-3.5 -6.5l7 0zM1070.5 1632.5l-3.5 -6.5l7 0zM1088.1 1632.5l-3.5 -6.5l7 0z"/>
<path fill="none" stroke="#442bd7" stroke-width="1.8" d="M999.9 1211.8l0 -7.8M1035.2 1198.3l0 7.8M999.9 1632.5l0 -7.8M1035.2 1619l0 7.8"/>
<path fill="#442bd7" d="M999.9 1198.3l3.5 6.5l-7 0zM1014.5 1205.1l5.5 -3.3l0 6.5zM1035.2 1211.8l-3.5 -6.5l7 0zM1282.2 1418l-2.8 -4.6l5.5 0zM999.9 1619l3.5 6.5l-7 0zM1020.6 1625.8l-5.5 3.3l0 -6.5zM1035.2 1632.5l-3.5 -6.5l7 0z"/>
<path fill="none" stroke="#2b66d7" stroke-width="1.8" d="M1141 1198.3l0 7.8M911.7 1240.4l0 7.8M1123.4 1253.9l0 -7.8M942.5 1255.6l5.3 6.8M959.5 1256l6.3 6.3M996.2 1258.1l3 2.5M1049.2 1264.3l3 -2.5M1065.3 1266.4l6.3 -6.3M758.1 1373.4l-4.7 0M1257.5 1376.5l8.9 -4M764.2 1383.3l7.9 5.1M788.2 1408.7l0 7.8M1246.9 1422.2l0 -7.8M1270.9 1447.6l-7.9 -5.1M777.6 1454.4l-8.9 4M1277 1457.5l4.7 0M969.8 1564.5l-6.3 6.3M985.9 1566.6l-3 2.5M1038.9 1572.8l-3 -2.5M1075.6 1574.9l-6.3 -6.3M1092.6 1575.3l-5.3 -6.8M911.7 1577l0 7.8M1123.4 1590.5l0 -7.8M894 1632.5l0 -7.8"/>
<path fill="#2b66d7" d="M1141 1211.8l-3.5 -6.5l7 0zM911.7 1253.9l-3.5 -6.5l7 0zM1123.4 1240.4l3.5 6.5l-7 0zM951.4 1266.8l-6.8 -2.9l5.5 -4.3zM969.8 1266.4l-7.1 -2.1l5 -4.9zM1003.6 1264.3l-7.2 -1.5l4.5 -5.4zM1056.5 1258.1l-2.7 6.9l-4.5 -5.4zM1075.6 1256l-2.1 7.1l-5 -4.9zM747.7 1373.4l6.5 -3.5l0 7zM1271.6 1370.2l-4.5 5.9l-2.9 -6.4zM776.9 1391.5l-7.4 -0.6l3.8 -5.9zM788.2 1422.2l-3.5 -6.5l7 0zM1246.9 1408.7l3.5 6.5l-7 0zM1258.2 1439.4l7.4 0.6l-3.8 5.9zM763.5 1460.7l4.5 -5.9l2.9 6.4zM1287.4 1457.5l-6.5 3.5l0 -7zM959.5 1574.9l2.1 -7.1l5 4.9zM978.6 1572.8l2.7 -6.9l4.5 5.4zM1031.5 1566.6l7.2 1.5l-4.5 5.4zM1065.3 1564.5l7.1 2.1l-5 4.9zM1083.7 1564.1l6.8 2.9l-5.5 4.3zM911.7 1590.5l-3.5 -6.5l7 0zM1123.4 1577l3.5 6.5l-7 0zM894 1619l3.5 6.5l-7 0z"/>
<path fill="none" stroke="#2bd766" stroke-width="1.8" d="M1229.3 1198.3l0 7.8M1234.9 1223.9l-7 -5.9M802.2 1244.1l3 2.5M800.2 1256.4l7 5.9M975.4 1313.8l8.6 4.4M872.1 1325.6l5.2 6.8M889.7 1325.6l5.2 6.8M1082.9 1336.4l6.3 -6.3M854.6 1339.6l5 6.9M1137.5 1365.4l4.2 -7.2M857.6 1394.7l1.3 7.7M1176.3 1422.2l0 -7.8M1177.5 1436.1l-1.3 -7.7M897.6 1465.5l-4.2 7.2M1180.5 1491.3l-5 -6.9M952.2 1494.4l-6.3 6.3M1145.3 1505.3l-5.2 -6.8M1163 1505.3l-5.2 -6.8M1059.7 1517.1l-8.6 -4.4M1234.9 1574.5l-7 -5.9M1232.9 1586.8l-3 -2.5M800.2 1607l7 5.9M805.8 1632.5l0 -7.8"/>
<path fill="#2bd766" d="M1229.3 1211.8l-3.5 -6.5l7 0zM1223.6 1214.4l7.2 1.5l-4.5 5.4zM809.5 1250.3l-7.2 -1.5l4.5 -5.4zM1246.9 1244.6l2.8 4.6l-5.5 0zM811.5 1266l-7.2 -1.5l4.5 -5.4zM1243.9 1261.2l5.5 -3.3l0 6.5zM785.1 1275.2l5.5 -3.3l0 6.5zM773.6 1289.2l-5.5 3.3l0 -6.5zM1264.5 1291.8l-2.8 -4.6l5.5 0zM989.1 1320.8l-7.4 0.1l3.2 -6.2zM880.7 1337l-6.7 -3.1l5.6 -4.2zM898.3 1337l-6.7 -3.1l5.6 -4.2zM1093.3 1326.2l-2.2 7.1l-4.9 -5zM862.9 1351.1l-6.6 -3.2l5.7 -4.1zM1144.6 1353.3l-0.3 7.4l-6 -3.6zM859.9 1408.1l-4.6 -5.8l6.9 -1.2zM1176.3 1408.7l3.5 6.5l-7 0zM1175.2 1422.8l4.6 5.8l-6.9 1.2zM890.5 1477.6l0.3 -7.4l6 3.6zM1172.2 1479.8l6.6 3.2l-5.7 4.1zM941.8 1504.7l2.2 -7.1l4.9 5zM1136.7 1493.9l6.7 3.1l-5.6 4.2zM1154.4 1493.9l6.7 3.1l-5.6 4.2zM1046 1510.1l7.4 -0.1l-3.2 6.2zM770.5 1539.1l2.8 4.6l-5.5 0zM1261.5 1541.7l5.5 -3.3l0 6.5zM1249.9 1555.7l-5.5 3.3l0 -6.5zM791.2 1569.7l-5.5 3.3l0 -6.5zM1223.6 1564.9l7.2 1.5l-4.5 5.4zM788.2 1586.3l-2.8 -4.6l5.5 0zM1225.6 1580.6l7.2 1.5l-4.5 5.4zM811.5 1616.5l-7.2 -1.5l4.5 -5.4zM805.8 1619l3.5 6.5l-7 0z"/>
<path fill="none" stroke="#2bd73c" stroke-width="1.8" d="M776.2 1214.4l-7 5.9M793.8 1214.4l-7 5.9M1270.2 1223.9l-7 -5.9M1290.2 1261.2l-10.3 0M760.9 1275.2l-10.3 0M1083.2 1350.7l6 -6.5M1101.8 1365.2l4.7 -7M1157.6 1408.1l1.3 -7.7M877.5 1422.8l-1.3 7.7M933.3 1465.7l-4.7 7M951.9 1480.2l-6 6.5M1274.2 1555.7l10.3 0M744.9 1569.7l10.3 0M764.9 1607l7 5.9M1241.2 1616.5l7 -5.9M1258.9 1616.5l7 -5.9"/>
<path fill="#2bd73c" d="M764.9 1223.9l2.7 -6.9l4.5 5.4zM782.5 1223.9l2.7 -6.9l4.5 5.4zM1258.9 1214.4l7.2 1.5l-4.5 5.4zM1274.2 1261.2l6.5 -3.5l0 7zM744.9 1275.2l6.5 -3.5l0 7zM1093 1340l-1.8 7.2l-5.1 -4.7zM1109.7 1353.5l-0.8 7.3l-5.8 -3.9zM1159.8 1394.7l2.4 7l-6.9 -1.1zM875.3 1436.2l-2.4 -7l6.9 1.1zM925.4 1477.4l0.8 -7.3l5.8 3.9zM942.1 1490.9l1.8 -7.2l5.1 4.7zM1290.2 1555.7l-6.5 3.5l0 -7zM760.9 1569.7l-6.5 3.5l0 -7zM776.2 1616.5l-7.2 -1.5l4.5 -5.4zM1252.6 1607l-2.7 6.9l-4.5 -5.4zM1270.2 1607l-2.7 6.9l-4.5 -5.4z"/>
<path fill="none" stroke="#2bd755" stroke-width="1.8" d="M811.5 1214.4l-7 5.9M1119.7 1365.3l4.4 -7.1M915.4 1465.6l-4.4 7.1M1223.6 1616.5l7 -5.9"/>
<path fill="#2bd755" d="M800.2 1223.9l2.7 -6.9l4.5 5.4zM1244.8 1231.3l5.8 0.9l-3.9 4.6zM770.5 1272.6l2.8 4.6l-5.5 0zM1264.5 1277.8l-2.8 -4.6l5.5 0zM1127.1 1353.4l-0.4 7.4l-6 -3.7zM908 1477.5l0.4 -7.4l6 3.7zM770.5 1553.1l2.8 4.6l-5.5 0zM1264.5 1558.2l-2.8 -4.6l5.5 0zM790.3 1599.6l-5.8 -0.9l3.9 -4.6zM1234.9 1607l-2.7 6.9l-4.5 -5.4z"/>
<path fill="none" stroke="#2bd7b2" stroke-width="1.8" d="M844.8 1216l-3 2.5M836.7 1269.6l5.3 6.8M854.2 1297.7l5.5 6.7M1206.3 1308.3l6.5 -6.2M799.8 1312.8l7.4 5.5M818.1 1312.2l6.5 6.2M1154.3 1322.9l5.3 -6.8M1189.1 1322.6l5.9 -6.5M1223.3 1321.8l7.4 -5.5M1172.2 1351.1l5 -6.9M1191.6 1393.8l2.8 -7.5M843.5 1437l-2.8 7.5M862.9 1479.8l-5 6.9M811.8 1509.1l-7.4 5.5M846 1508.2l-5.9 6.5M880.8 1508l-5.3 6.8M1216.9 1518.6l-6.5 -6.2M1235.2 1518.1l-7.4 -5.5M828.8 1522.6l-6.5 6.2M1180.9 1533.2l-5.5 -6.7M1198.4 1561.3l-5.3 -6.8M1190.3 1614.9l3 -2.5"/>
<path fill="#2bd7b2" d="M837.4 1222.2l2.7 -6.9l4.5 5.4zM845.6 1280.8l-6.8 -2.9l5.5 -4.3zM863.3 1308.8l-6.8 -2.8l5.4 -4.5zM1216.9 1298.2l-2.3 7l-4.8 -5.1zM811.8 1321.8l-7.3 -1.1l4.2 -5.6zM828.8 1322.3l-7.1 -1.9l4.8 -5.1zM1163.1 1311.7l-1.3 7.3l-5.5 -4.3zM1198.8 1311.9l-1.8 7.2l-5.2 -4.7zM1235.2 1312.8l-3.1 6.7l-4.2 -5.6zM1264.5 1314.7l2.8 4.6l-5.5 0zM1180.5 1339.6l-1 7.3l-5.7 -4.1zM1196.4 1381l1 7.3l-6.6 -2.4zM838.7 1449.9l-1 -7.3l6.6 2.4zM854.6 1491.3l1 -7.3l5.7 4.1zM770.5 1516.2l-2.8 -4.6l5.5 0zM799.8 1518.1l3.1 -6.7l4.2 5.6zM836.3 1519l1.8 -7.2l5.2 4.7zM872 1519.2l1.3 -7.3l5.5 4.3zM1206.3 1508.6l7.1 1.9l-4.8 5.1zM1223.3 1509.1l7.3 1.1l-4.2 5.6zM818.1 1532.7l2.3 -7l4.8 5.1zM1171.8 1522.1l6.8 2.8l-5.4 4.5zM1189.5 1550.1l6.8 2.9l-5.5 4.3zM1197.7 1608.7l-2.7 6.9l-4.5 -5.4z"/>
<path fill="none" stroke="#2bc2d7" stroke-width="1.8" d="M864 1219.1l-4.7 0M872.4 1269.4l4.8 7M1208.9 1393.7l3.2 -7.5M826.2 1437.1l-3.2 7.5M1162.7 1561.5l-4.8 -7M1171.1 1611.8l4.7 0"/>
<path fill="#2bc2d7" d="M853.6 1219.1l6.5 -3.5l0 7zM880.4 1281.1l-6.6 -3.4l5.8 -4zM1214.4 1381.1l0.6 7.4l-6.4 -2.8zM820.7 1449.8l-0.6 -7.4l6.4 2.8zM1154.7 1549.8l6.6 3.4l-5.8 4zM1181.5 1611.8l-6.5 3.5l0 -7z"/>
<path fill="none" stroke="#2b98d7" stroke-width="1.8" d="M881.6 1219.1l-4.7 0M1137.5 1267.2l4.2 -7.2M924.9 1269.6l5.3 6.8M1009.5 1275.2l10.3 0M1083.2 1280.5l6 -6.5M1101.3 1280.8l5.3 -6.8M1240.7 1363.6l7.7 -5.3M794.4 1467.3l-7.7 5.3M933.8 1550.1l-5.3 6.8M951.9 1550.3l-6 6.5M1025.5 1555.7l-10.3 0M1110.2 1561.3l-5.3 -6.8M897.6 1563.7l-4.2 7.2M1153.5 1611.8l4.7 0"/>
<path fill="#2b98d7" d="M871.2 1219.1l6.5 -3.5l0 7zM1144.6 1255.2l-0.3 7.4l-6 -3.6zM933.8 1280.8l-6.8 -2.9l5.5 -4.3zM1025.5 1275.2l-6.5 3.5l0 -7zM1093 1269.9l-1.8 7.2l-5.1 -4.7zM1110.2 1269.6l-1.3 7.3l-5.5 -4.3zM1253.1 1355.1l-3.4 6.6l-4 -5.8zM782 1475.8l3.4 -6.6l4 5.8zM924.9 1561.3l1.3 -7.3l5.5 4.3zM942.1 1561l1.8 -7.2l5.1 4.7zM1009.5 1555.7l6.5 -3.5l0 7zM1101.3 1550.1l6.8 2.9l-5.5 4.3zM890.5 1575.7l0.3 -7.4l6 3.6zM1163.9 1611.8l-6.5 3.5l0 -7z"/>
<path fill="none" stroke="#2b55d7" stroke-width="1.8" d="M1258.2 1391.5l7.9 -5.1M776.9 1439.4l-7.9 5.1"/>
<path fill="#2b55d7" d="M909.5 1217.3l5.8 0.9l-3.9 4.6zM1121.3 1220.9l1.9 -5.6l3.9 4.6zM1037.3 1259.4l-1.9 5.6l-3.9 -4.6zM1270.9 1383.3l-3.6 6.5l-3.8 -5.9zM764.2 1447.6l3.6 -6.5l3.8 5.9zM997.8 1571.5l1.9 -5.6l3.9 4.6zM913.8 1610l-1.9 5.6l-3.9 -4.6zM1125.6 1613.6l-5.8 -0.9l3.9 -4.6z"/>
<path fill="#2b44d7" d="M927.2 1217.3l5.8 0.9l-3.9 4.6zM1103.6 1220.9l1.9 -5.6l3.9 4.6zM1088.1 1230.6l2.8 4.6l-5.5 0zM947 1600.3l-2.8 -4.6l5.5 0zM931.5 1610l-1.9 5.6l-3.9 -4.6zM1107.9 1613.6l-5.8 -0.9l3.9 -4.6z"/>
<path fill="none" stroke="#3c2bd7" stroke-width="1.8" d="M1025.5 1219.1l-10.3 0M1038.9 1222.2l-3 -2.5M996.2 1608.7l3 2.5M1009.5 1611.8l10.3 0"/>
<path fill="#3c2bd7" d="M997.8 1220.9l1.9 -5.6l3.9 4.6zM1009.5 1219.1l6.5 -3.5l0 7zM1031.5 1216l7.2 1.5l-4.5 5.4zM1003.6 1614.9l-7.2 -1.5l4.5 -5.4zM1025.5 1611.8l-6.5 3.5l0 -7zM1037.3 1610l-1.9 5.6l-3.9 -4.6z"/>
<path fill="#2b34d7" d="M1086 1220.9l1.9 -5.6l3.9 4.6zM947 1235.7l-2.8 -4.6l5.5 0zM967.7 1233.1l-5.5 3.3l0 -6.5zM985.3 1233.1l-5.5 3.3l0 -6.5zM1055 1231.3l-1.9 5.6l-3.9 -4.6zM1072.6 1231.3l-1.9 5.6l-3.9 -4.6zM962.5 1599.6l1.9 -5.6l3.9 4.6zM980.1 1599.6l1.9 -5.6l3.9 4.6zM1049.8 1597.7l5.5 -3.3l0 6.5zM1067.4 1597.7l5.5 -3.3l0 6.5zM1088.1 1595.2l2.8 4.6l-5.5 0zM949.1 1610l-1.9 5.6l-3.9 -4.6z"/>
<path fill="none" stroke="#2b6ed7" stroke-width="1.8" d="M978.6 1258.1l3 2.5M1244.3 1407.8l3 -7.5M790.8 1423.1l-3 7.5M1056.5 1572.8l-3 -2.5"/>
<path fill="#2b6ed7" d="M1138.9 1220.9l1.9 -5.6l3.9 4.6zM985.9 1264.3l-7.2 -1.5l4.5 -5.4zM1249.5 1395l0.8 7.3l-6.5 -2.6zM785.6 1435.9l-0.8 -7.3l6.5 2.6zM1049.2 1566.6l7.2 1.5l-4.5 5.4zM896.2 1610l-1.9 5.6l-3.9 -4.6z"/>
<path fill="none" stroke="#2bd788" stroke-width="1.8" d="M1217.3 1223.9l-7 -5.9M819 1255.6l5.3 6.8M1223.7 1280l6.9 -5.9M1223.4 1293.8l7.2 -5.7M872 1311.7l5.3 6.8M907.1 1311.7l5.5 6.7M924.5 1311.9l5.9 6.5M1046 1320.8l8.6 -4.4M1064.5 1321.8l7.4 -5.5M836.4 1325.9l5.7 6.6M1119 1336.9l5.3 -6.8M1136.7 1337l5.2 -6.8M837.1 1353.5l4.7 7M1155.1 1365.4l4.2 -7.2M837.8 1367.2l3.9 7.3M1194 1422.2l0 -7.8M1197.3 1463.7l-3.9 -7.3M880 1465.5l-4.2 7.2M1197.9 1477.4l-4.7 -7M898.3 1493.9l-5.2 6.8M916.1 1494l-5.3 6.8M1198.7 1505l-5.7 -6.6M970.6 1509.1l-7.4 5.5M989.1 1510.1l-8.6 4.4M1110.6 1519l-5.9 -6.5M1128 1519.1l-5.5 -6.7M1163.1 1519.2l-5.3 -6.8M811.7 1537.1l-7.2 5.7M811.4 1550.9l-6.9 5.9M1216.1 1575.3l-5.3 -6.8M817.8 1607l7 5.9"/>
<path fill="#2bd788" d="M1206 1214.4l7.2 1.5l-4.5 5.4zM827.9 1266.8l-6.8 -2.9l5.5 -4.3zM1234.9 1270.4l-2.7 6.9l-4.6 -5.3zM1235.1 1284.6l-3 6.8l-4.3 -5.5zM880.8 1322.9l-6.8 -2.9l5.5 -4.3zM916.3 1322.8l-6.8 -2.8l5.4 -4.5zM934.2 1322.6l-7 -2.5l5.2 -4.7zM1059.7 1313.8l-4.2 6.1l-3.2 -6.2zM1076.5 1312.8l-3.1 6.7l-4.2 -5.6zM845.8 1336.8l-6.9 -2.6l5.3 -4.6zM1127.8 1325.7l-1.3 7.3l-5.5 -4.3zM1145.3 1325.6l-1.1 7.3l-5.6 -4.2zM845.1 1365.2l-6.5 -3.4l5.8 -3.9zM1162.3 1353.3l-0.3 7.4l-6 -3.6zM844.4 1379.5l-6.2 -4.1l6.2 -3.3zM1194 1408.7l3.5 6.5l-7 0zM1190.7 1451.4l6.2 4.1l-6.2 3.3zM872.8 1477.6l0.3 -7.4l6 3.6zM1190 1465.7l6.5 3.4l-5.8 3.9zM889.7 1505.3l1.1 -7.3l5.6 4.2zM907.2 1505.2l1.3 -7.3l5.5 4.3zM1189.2 1494.1l6.9 2.6l-5.3 4.6zM958.6 1518.1l3.1 -6.7l4.2 5.6zM975.4 1517.1l4.2 -6.1l3.2 6.2zM1100.9 1508.2l7 2.5l-5.2 4.7zM1118.8 1508.1l6.8 2.8l-5.4 4.5zM1154.3 1508l6.8 2.9l-5.5 4.3zM800 1546.2l3 -6.8l4.3 5.5zM800.2 1560.5l2.7 -6.9l4.6 5.3zM1207.2 1564.1l6.8 2.9l-5.5 4.3zM829.1 1616.5l-7.2 -1.5l4.5 -5.4z"/>
<path fill="none" stroke="#2bd744" stroke-width="1.8" d="M1252.6 1223.9l-7 -5.9M1290.2 1275.2l-10.3 0M890 1339.5l4.8 7M1145.1 1491.4l-4.8 -7M744.9 1555.7l10.3 0M782.5 1607l7 5.9"/>
<path fill="#2bd744" d="M1241.2 1214.4l7.2 1.5l-4.5 5.4zM788.2 1235.7l-2.8 -4.6l5.5 0zM770.5 1258.6l2.8 4.6l-5.5 0zM1264.5 1263.8l-2.8 -4.6l5.5 0zM1274.2 1275.2l6.5 -3.5l0 7zM898.1 1351.2l-6.6 -3.4l5.8 -4zM1137 1479.7l6.6 3.4l-5.8 4zM760.9 1555.7l-6.5 3.5l0 -7zM770.5 1567.1l2.8 4.6l-5.5 0zM1264.5 1572.3l-2.8 -4.6l5.5 0zM1246.9 1595.2l2.8 4.6l-5.5 0zM793.8 1616.5l-7.2 -1.5l4.5 -5.4z"/>
<path fill="none" stroke="#2bd72b" stroke-width="1.8" d="M1290.2 1219.1l-10.3 0M890.5 1353.3l4.2 7.2M874.3 1380.9l2.5 7.6M1160.8 1450l-2.5 -7.6M1144.6 1477.6l-4.2 -7.2M744.9 1611.8l10.3 0"/>
<path fill="#2bd72b" d="M1274.2 1219.1l6.5 -3.5l0 7zM897.6 1365.4l-6.3 -3.8l6 -3.6zM878.5 1393.9l-5.3 -5.1l6.7 -2.2zM1156.6 1437l5.3 5.1l-6.7 2.2zM1137.5 1465.5l6.3 3.8l-6 3.6zM760.9 1611.8l-6.5 3.5l0 -7z"/>
<path fill="none" stroke="#2bd75e" stroke-width="1.8" d="M805.8 1226.4l0 7.8M992.3 1315.3l9.8 2.6M1101.3 1350.9l5.3 -6.8M1156.6 1393.9l2.5 -7.6M878.5 1437l-2.5 7.6M933.8 1479.9l-5.3 6.8M1042.8 1515.6l-9.8 -2.6M1229.3 1604.5l0 -7.8"/>
<path fill="#2bd75e" d="M805.8 1239.9l-3.5 -6.5l7 0zM785.1 1261.2l5.5 -3.3l0 6.5zM1007.5 1319.3l-7.2 1.7l1.8 -6.8zM1110.2 1339.7l-1.3 7.3l-5.5 -4.3zM1160.8 1380.9l1.3 7.3l-6.7 -2.2zM874.3 1450l-1.3 -7.3l6.7 2.2zM924.9 1491.2l1.3 -7.3l5.5 4.3zM1027.6 1511.6l7.2 -1.7l-1.8 6.8zM1249.9 1569.7l-5.5 3.3l0 -6.5zM1229.3 1591l3.5 6.5l-7 0z"/>
<path fill="none" stroke="#2bd7a9" stroke-width="1.8" d="M841.1 1226.4l0 7.8M837.1 1255.3l4.7 7M818.1 1298.2l6.5 6.2M836.3 1297.9l5.9 6.5M1009.5 1303.3l10.3 0M1118.8 1322.8l5.5 -6.7M1136.6 1322.9l5.3 -6.8M1172.6 1365.3l4.4 -7.1M839.9 1394.8l1.5 7.7M1195.2 1436.1l-1.5 -7.7M862.5 1465.6l-4.4 7.1M898.5 1508l-5.3 6.8M916.3 1508.1l-5.5 6.7M1025.5 1527.6l-10.3 0M1198.8 1533l-5.9 -6.5M1216.9 1532.7l-6.5 -6.2M1197.9 1575.6l-4.7 -7M1194 1604.5l0 -7.8"/>
<path fill="#2bd7a9" d="M841.1 1239.9l-3.5 -6.5l7 0zM845.1 1267.1l-6.5 -3.4l5.8 -3.9zM828.8 1308.3l-7.1 -1.9l4.8 -5.1zM846 1308.6l-7 -2.5l5.2 -4.7zM1025.5 1303.3l-6.5 3.5l0 -7zM1128 1311.7l-1.4 7.2l-5.4 -4.5zM1145.5 1311.7l-1.3 7.3l-5.5 -4.3zM1180 1353.4l-0.4 7.4l-6 -3.7zM842.4 1408.1l-4.7 -5.7l6.9 -1.3zM1192.7 1422.8l4.7 5.7l-6.9 1.3zM855.1 1477.5l0.4 -7.4l6 3.7zM889.6 1519.2l1.3 -7.3l5.5 4.3zM907.1 1519.1l1.4 -7.2l5.4 4.5zM1009.5 1527.6l6.5 -3.5l0 7zM1189.1 1522.3l7 2.5l-5.2 4.7zM1206.3 1522.6l7.1 1.9l-4.8 5.1zM1190 1563.8l6.5 3.4l-5.8 3.9zM1194 1591l3.5 6.5l-7 0z"/>
<path fill="none" stroke="#2bcbd7" stroke-width="1.8" d="M858.8 1226.4l0 7.8M1172.6 1267.2l4.4 -7.1M1154.7 1281.1l4.8 -7M1223.7 1350.1l6.9 -5.9M800.7 1354.2l6.3 6.3M1207.2 1365l5.3 -6.8M822 1394.8l1.7 7.7M1210.2 1408.1l1.7 -7.7M824.9 1422.8l-1.7 7.7M1213.1 1436.1l-1.7 -7.7M827.9 1465.9l-5.3 6.8M1234.4 1476.7l-6.3 -6.3M811.4 1480.7l-6.9 5.9M880.4 1549.8l-4.8 7M862.5 1563.7l-4.4 7.1M1176.3 1604.5l0 -7.8"/>
<path fill="#2bcbd7" d="M858.8 1239.9l-3.5 -6.5l7 0zM1180 1255.2l-0.4 7.4l-6 -3.7zM1162.7 1269.4l-0.8 7.3l-5.8 -4zM1234.9 1340.5l-2.7 6.9l-4.6 -5.3zM811 1364.5l-7.1 -2.1l5 -4.9zM1216.1 1353.7l-1.3 7.3l-5.5 -4.3zM824.9 1408.1l-4.8 -5.6l6.8 -1.5zM1213.1 1394.8l2 7.1l-6.8 -1.5zM822 1436.1l-2 -7.1l6.8 1.5zM1210.2 1422.8l4.8 5.6l-6.8 1.5zM819 1477.2l1.3 -7.3l5.5 4.3zM1224.1 1466.4l7.1 2.1l-5 4.9zM800.2 1490.4l2.7 -6.9l4.6 5.3zM872.4 1561.5l0.8 -7.3l5.8 4zM855.1 1575.7l0.4 -7.4l6 3.7zM1176.3 1591l3.5 6.5l-7 0z"/>
<path fill="none" stroke="#2ba1d7" stroke-width="1.8" d="M876.4 1226.4l0 7.8M876.4 1240.4l0 7.8M890.5 1255.2l4.2 7.2M907.5 1269.4l5 6.9M975.7 1271.3l8.2 4.9M992.4 1272.9l9.6 2.9M763 1343l9.6 2.9M782 1355.1l7.7 5.3M804 1394.9l2.1 7.6M1231.1 1436l-2.1 -7.6M1253.1 1475.8l-7.7 -5.3M1272.1 1487.8l-9.6 -2.9M1042.7 1558l-9.6 -2.9M1059.4 1559.6l-8.2 -4.9M1127.6 1561.4l-5 -6.9M1144.6 1575.7l-4.2 -7.2M1158.7 1590.5l0 -7.8M1158.7 1604.5l0 -7.8"/>
<path fill="#2ba1d7" d="M876.4 1239.9l-3.5 -6.5l7 0zM876.4 1253.9l-3.5 -6.5l7 0zM897.6 1267.2l-6.3 -3.8l6 -3.6zM915.8 1281l-6.6 -3.2l5.7 -4.1zM988.8 1279.1l-7.4 -0.3l3.6 -6zM1007.4 1277.5l-7.2 1.5l2 -6.7zM778.1 1347.6l-7.2 1.5l2 -6.7zM794.4 1363.6l-7.3 -0.8l4 -5.8zM807.7 1408l-5.1 -5.3l6.7 -1.9zM1227.4 1422.9l5.1 5.3l-6.7 1.9zM1240.7 1467.3l7.3 0.8l-4 5.8zM1257 1483.3l7.2 -1.5l-2 6.7zM1027.7 1553.4l7.2 -1.5l-2 6.7zM1046.3 1551.8l7.4 0.3l-3.6 6zM1119.3 1549.9l6.6 3.2l-5.7 4.1zM1137.5 1563.7l6.3 3.8l-6 3.6zM1158.7 1577l3.5 6.5l-7 0zM1158.7 1591l3.5 6.5l-7 0z"/>
<path fill="none" stroke="#2b88d7" stroke-width="1.8" d="M894 1226.4l0 7.8M1119.7 1267.2l4.4 -7.1M1027.7 1277.5l9.6 -2.9M1257.2 1362l9.4 -3.3M777.9 1468.9l-9.4 3.3M1007.4 1553.4l-9.6 2.9M915.4 1563.7l-4.4 7.1M1141 1604.5l0 -7.8"/>
<path fill="#2b88d7" d="M894 1239.9l-3.5 -6.5l7 0zM1127.1 1255.2l-0.4 7.4l-6 -3.7zM1042.7 1272.9l-5.2 5.2l-2 -6.7zM1271.9 1356.7l-5 5.5l-2.3 -6.6zM763.2 1474.1l5 -5.5l2.3 6.6zM992.4 1558l5.2 -5.2l2 6.7zM908 1575.7l0.4 -7.4l6 3.7zM1141 1591l3.5 6.5l-7 0z"/>
<path fill="none" stroke="#2b5ed7" stroke-width="1.8" d="M911.7 1226.4l0 7.8M1123.4 1239.9l0 -7.8M911.7 1591l0 7.8M1123.4 1604.5l0 -7.8"/>
<path fill="#2b5ed7" d="M911.7 1239.9l-3.5 -6.5l7 0zM1123.4 1226.4l3.5 6.5l-7 0zM1020.6 1261.2l-5.5 3.3l0 -6.5zM1014.5 1569.7l5.5 -3.3l0 6.5zM911.7 1604.5l-3.5 -6.5l7 0zM1123.4 1591l3.5 6.5l-7 0z"/>
<path fill="#342bd7" d="M1002.9 1233.1l-5.5 3.3l0 -6.5zM1020.6 1233.1l-5.5 3.3l0 -6.5zM1037.3 1231.3l-1.9 5.6l-3.9 -4.6zM997.8 1599.6l1.9 -5.6l3.9 4.6zM1014.5 1597.7l5.5 -3.3l0 6.5zM1032.1 1597.7l5.5 -3.3l0 6.5z"/>
<path fill="none" stroke="#2b77d7" stroke-width="1.8" d="M1141 1239.9l0 -7.8M925.4 1255.3l4.7 7M1083.7 1266.8l5.3 -6.8M1101.8 1267.1l4.7 -7M1242.5 1393l5.3 -6.8M785.6 1395l3 7.5M1249.5 1435.9l-3 -7.5M792.6 1437.9l-5.3 6.8M933.3 1563.8l-4.7 7M951.4 1564.1l-5.3 6.8M1109.7 1575.6l-4.7 -7M894 1591l0 7.8"/>
<path fill="#2b77d7" d="M1141 1226.4l3.5 6.5l-7 0zM933.3 1267.1l-6.5 -3.4l5.8 -3.9zM1092.6 1255.6l-1.3 7.3l-5.5 -4.3zM1109.7 1255.3l-0.8 7.3l-5.8 -3.9zM1251.3 1381.8l-1.3 7.3l-5.5 -4.3zM790.8 1407.8l-5.7 -4.7l6.5 -2.6zM1244.3 1423.1l5.7 4.7l-6.5 2.6zM783.7 1449.1l1.3 -7.3l5.5 4.3zM925.4 1575.6l0.8 -7.3l5.8 3.9zM942.5 1575.3l1.3 -7.3l5.5 4.3zM1101.8 1563.8l6.5 3.4l-5.8 3.9zM894 1604.5l-3.5 -6.5l7 0z"/>
<path fill="none" stroke="#2bd7c2" stroke-width="1.8" d="M1194 1239.9l0 -7.8M1190 1267.1l4.7 -7M889.6 1297.6l5.3 6.8M1082.8 1308.3l6.5 -6.2M1118.8 1308.8l5.5 -6.7M1136.6 1308.9l5.3 -6.8M1171.8 1308.8l5.5 -6.7M819 1353.7l5.3 6.8M1190 1365.2l4.7 -7M845.1 1465.7l-4.7 7M1216.1 1477.2l-5.3 -6.8M863.3 1522.1l-5.5 6.7M898.5 1522l-5.3 6.8M916.3 1522.1l-5.5 6.7M952.3 1522.6l-6.5 6.2M1145.5 1533.2l-5.3 -6.8M845.1 1563.8l-4.7 7M841.1 1591l0 7.8"/>
<path fill="#2bd7c2" d="M1194 1226.4l3.5 6.5l-7 0zM1197.9 1255.3l-0.8 7.3l-5.8 -3.9zM898.5 1308.9l-6.8 -2.9l5.5 -4.3zM1093.4 1298.2l-2.3 7l-4.8 -5.1zM1128 1297.7l-1.4 7.2l-5.4 -4.5zM1145.5 1297.6l-1.3 7.3l-5.5 -4.3zM1180.9 1297.7l-1.4 7.2l-5.4 -4.5zM770.5 1319.8l-2.8 -4.6l5.5 0zM827.9 1365l-6.8 -2.9l5.5 -4.3zM1197.9 1353.5l-0.8 7.3l-5.8 -3.9zM837.1 1477.4l0.8 -7.3l5.8 3.9zM1207.2 1465.9l6.8 2.9l-5.5 4.3zM1264.5 1511l2.8 4.6l-5.5 0zM854.2 1533.2l1.4 -7.2l5.4 4.5zM889.6 1533.2l1.3 -7.3l5.5 4.3zM907.1 1533.2l1.4 -7.2l5.4 4.5zM941.6 1532.7l2.3 -7l4.8 5.1zM1136.6 1522l6.8 2.9l-5.5 4.3zM837.1 1575.6l0.8 -7.3l5.8 3.9zM841.1 1604.5l-3.5 -6.5l7 0z"/>
<path fill="none" stroke="#2bd790" stroke-width="1.8" d="M1211.6 1239.9l0 -7.8M818.6 1269.9l6 6.5M799.8 1298.8l7.4 5.5M992.3 1301.2l9.8 2.6M854.2 1311.7l5.5 6.7M889.6 1311.7l5.3 6.8M1082.8 1322.3l6.5 -6.2M836.7 1339.7l5.3 6.8M1154.7 1351.2l4.8 -7M1174.1 1393.9l2.6 -7.6M861 1437l-2.6 7.6M880.4 1479.7l-4.8 7M1198.4 1491.2l-5.3 -6.8M952.3 1508.6l-6.5 6.2M1145.5 1519.2l-5.3 -6.8M1180.9 1519.1l-5.5 -6.7M1042.8 1529.6l-9.8 -2.6M1235.2 1532.1l-7.4 -5.5M1216.5 1561l-6 -6.5M823.5 1591l0 7.8"/>
<path fill="#2bd790" d="M1211.6 1226.4l3.5 6.5l-7 0zM828.4 1280.5l-7 -2.4l5.1 -4.7zM773.6 1303.3l-5.5 3.3l0 -6.5zM811.8 1307.7l-7.3 -1.1l4.2 -5.6zM1007.5 1305.3l-7.2 1.7l1.8 -6.8zM1267.6 1303.3l-5.5 3.3l0 -6.5zM863.3 1322.8l-6.8 -2.8l5.4 -4.5zM898.5 1322.9l-6.8 -2.9l5.5 -4.3zM1093.4 1312.2l-2.3 7l-4.8 -5.1zM845.6 1350.9l-6.8 -2.9l5.5 -4.3zM1162.7 1339.5l-0.8 7.3l-5.8 -4zM1178.5 1380.9l1.2 7.3l-6.6 -2.2zM856.6 1450l-1.2 -7.3l6.6 2.2zM872.4 1491.4l0.8 -7.3l5.8 4zM1189.5 1479.9l6.8 2.9l-5.5 4.3zM941.6 1518.6l2.3 -7l4.8 5.1zM1136.6 1508l6.8 2.9l-5.5 4.3zM1171.8 1508.1l6.8 2.8l-5.4 4.5zM767.5 1527.6l5.5 -3.3l0 6.5zM1027.6 1525.6l7.2 -1.7l-1.8 6.8zM1223.3 1523.2l7.3 1.1l-4.2 5.6zM1261.5 1527.6l5.5 -3.3l0 6.5zM1206.7 1550.3l7 2.4l-5.1 4.7zM823.5 1604.5l-3.5 -6.5l7 0z"/>
<path fill="none" stroke="#2bd76e" stroke-width="1.8" d="M1229.3 1237.5l0 -3.1M800.2 1270.4l6.9 5.9M1009.5 1317.3l10.3 0M1119.3 1351.1l5 -6.9M915.8 1479.8l-5 6.9M1025.5 1513.6l-10.3 0M1234.9 1560.5l-6.9 -5.9M805.8 1593.4l0 3.1"/>
<path fill="#2bd76e" d="M1229.3 1228.8l3.5 6.5l-7 0zM811.4 1280l-7.2 -1.6l4.6 -5.3zM1243.9 1275.2l5.5 -3.3l0 6.5zM1025.5 1317.3l-6.5 3.5l0 -7zM1127.6 1339.6l-1 7.3l-5.7 -4.1zM907.5 1491.3l1 -7.3l5.7 4.1zM1009.5 1513.6l6.5 -3.5l0 7zM791.2 1555.7l-5.5 3.3l0 -6.5zM1223.7 1550.9l7.2 1.6l-4.6 5.3zM805.8 1602.1l-3.5 -6.5l7 0z"/>
<path fill="none" stroke="#2bd7a1" stroke-width="1.8" d="M841.1 1240.4l0 7.8M1206 1251.9l7 -5.9M1207.2 1266.8l5.3 -6.8M1206.7 1280.5l6 -6.5M818.3 1284.1l6.3 6.3M1206.4 1294.4l6.3 -6.3M975.4 1299.7l8.6 4.4M1223.3 1307.7l7.4 -5.5M760.9 1317.3l-10.3 0M1100.9 1322.6l5.9 -6.5M1290.2 1317.3l-10.3 0M1154.4 1337l5.2 -6.8M1173.3 1379.6l3.6 -7.4M1192.7 1408.1l1.5 -7.7M842.4 1422.8l-1.5 7.7M861.8 1451.3l-3.6 7.4M880.7 1493.9l-5.2 6.8M744.9 1513.6l10.3 0M934.2 1508.2l-5.9 6.5M1274.2 1513.6l10.3 0M811.8 1523.2l-7.4 5.5M1059.7 1531.2l-8.6 -4.4M828.7 1536.5l-6.3 6.3M1216.8 1546.8l-6.3 -6.3M828.4 1550.3l-6 6.5M827.9 1564.1l-5.3 6.8M829.1 1578.9l-7 5.9M1194 1590.5l0 -7.8"/>
<path fill="#2bd7a1" d="M841.1 1253.9l-3.5 -6.5l7 0zM1217.3 1242.4l-2.7 6.9l-4.5 -5.4zM1216.1 1255.6l-1.3 7.3l-5.5 -4.3zM1216.5 1269.9l-1.8 7.2l-5.1 -4.7zM828.7 1294.4l-7.1 -2.1l4.9 -5zM1216.8 1284.1l-2.2 7.1l-4.9 -5zM989.1 1306.8l-7.4 0.1l3.2 -6.2zM1235.2 1298.8l-3.1 6.7l-4.2 -5.6zM744.9 1317.3l6.5 -3.5l0 7zM1110.6 1311.9l-1.8 7.2l-5.2 -4.7zM1274.2 1317.3l6.5 -3.5l0 7zM1163 1325.6l-1.1 7.3l-5.6 -4.2zM1179.4 1367.1l0.3 7.4l-6.3 -3.1zM1195.2 1394.8l2.2 7l-6.9 -1.3zM839.9 1436.1l-2.2 -7l6.9 1.3zM855.7 1463.8l-0.3 -7.4l6.3 3.1zM872.1 1505.3l1.1 -7.3l5.6 4.2zM760.9 1513.6l-6.5 3.5l0 -7zM924.5 1519l1.8 -7.2l5.2 4.7zM1290.2 1513.6l-6.5 3.5l0 -7zM799.8 1532.1l3.1 -6.7l4.2 5.6zM1046 1524.1l7.4 -0.1l-3.2 6.2zM818.3 1546.8l2.2 -7.1l4.9 5zM1206.4 1536.5l7.1 2.1l-4.9 5zM818.6 1561l1.8 -7.2l5.1 4.7zM819 1575.3l1.3 -7.3l5.5 4.3zM817.8 1588.5l2.7 -6.9l4.5 5.4zM1194 1577l3.5 6.5l-7 0z"/>
<path fill="none" stroke="#2bd3d7" stroke-width="1.8" d="M858.8 1240.4l0 7.8M855.1 1255.2l4.4 7.1M1172.2 1281l5 -6.9M872.1 1283.5l5.2 6.8M975.5 1285.6l8.5 4.6M1009.5 1289.2l10.3 0M1119 1294.9l5.3 -6.8M1136.7 1294.9l5.2 -6.8M781.5 1327.7l8.5 4.6M1240.2 1335l8.5 -4.6M800.2 1340.5l6.9 5.9M1206.7 1350.7l6 -6.5M820.7 1381.1l3.2 7.5M1211.6 1422.2l0 -7.8M1214.4 1449.8l-3.2 -7.5M828.4 1480.2l-6 6.5M1234.9 1490.4l-6.9 -5.9M794.9 1495.9l-8.5 4.6M1253.6 1503.2l-8.5 -4.6M898.3 1536l-5.2 6.8M916.1 1536l-5.3 6.8M1025.5 1541.7l-10.3 0M1059.6 1545.3l-8.5 -4.6M1163 1547.3l-5.2 -6.8M862.9 1549.9l-5 6.9M1180 1575.7l-4.4 -7.1M1176.3 1590.5l0 -7.8"/>
<path fill="#2bd3d7" d="M858.8 1253.9l-3.5 -6.5l7 0zM862.5 1267.2l-6.4 -3.7l6 -3.7zM1180.5 1269.4l-1 7.3l-5.7 -4.1zM880.7 1294.9l-6.7 -3.1l5.6 -4.2zM989 1292.9l-7.4 0l3.3 -6.2zM1025.5 1289.2l-6.5 3.5l0 -7zM1127.8 1283.6l-1.3 7.3l-5.5 -4.3zM1145.3 1283.5l-1.1 7.3l-5.6 -4.2zM794.9 1335l-7.4 0l3.3 -6.2zM1253.6 1327.7l-4.1 6.2l-3.3 -6.2zM1266.7 1329.5l-1.9 5.6l-3.9 -4.6zM811.4 1350.1l-7.2 -1.6l4.6 -5.3zM1216.5 1340l-1.8 7.2l-5.1 -4.7zM826.2 1393.7l-5.8 -4.6l6.4 -2.8zM1211.6 1408.7l3.5 6.5l-7 0zM1208.9 1437.1l5.8 4.6l-6.4 2.8zM818.6 1490.9l1.8 -7.2l5.1 4.7zM1223.7 1480.7l7.2 1.6l-4.6 5.3zM768.4 1501.4l1.9 -5.6l3.9 4.6zM781.5 1503.2l4.1 -6.2l3.3 6.2zM1240.2 1495.9l7.4 0l-3.3 6.2zM889.7 1547.3l1.1 -7.3l5.6 4.2zM907.2 1547.3l1.3 -7.3l5.5 4.3zM1009.5 1541.7l6.5 -3.5l0 7zM1046.1 1538l7.4 0l-3.3 6.2zM1154.4 1536l6.7 3.1l-5.6 4.2zM854.6 1561.4l1 -7.3l5.7 4.1zM1172.6 1563.7l6.4 3.7l-6 3.7zM1176.3 1577l3.5 6.5l-7 0z"/>
<path fill="none" stroke="#2bd7cb" stroke-width="1.8" d="M1188.3 1251.9l7 -5.9M854.3 1283.6l5.3 6.8M992.3 1287.1l9.7 2.7M1154.4 1294.9l5.2 -6.8M1171.9 1294.9l5.3 -6.8M1100.9 1308.6l5.9 -6.5M760.9 1331.3l-10.3 0M800 1326.7l7.2 5.7M1206.4 1336.4l6.3 -6.3M1223.4 1335.9l7.2 -5.7M1290.2 1331.3l-10.3 0M819.7 1367.4l4.4 7.1M1190.7 1379.5l3.9 -7.3M844.4 1451.4l-3.9 7.3M1215.3 1463.5l-4.4 -7.1M744.9 1499.6l10.3 0M811.7 1495l-7.2 5.7M828.7 1494.4l-6.3 6.3M1235.1 1504.2l-7.2 -5.7M1274.2 1499.6l10.3 0M934.2 1522.3l-5.9 6.5M863.2 1536l-5.3 6.8M880.7 1536l-5.2 6.8M1042.8 1543.8l-9.7 -2.7M1180.8 1547.3l-5.3 -6.8M846.8 1578.9l-7 5.9"/>
<path fill="#2bd7cb" d="M1199.6 1242.4l-2.7 6.9l-4.5 -5.4zM863.2 1294.9l-6.8 -2.9l5.5 -4.3zM1007.5 1291.3l-7.2 1.6l1.9 -6.7zM1163 1283.5l-1.1 7.3l-5.6 -4.2zM1180.8 1283.6l-1.3 7.3l-5.5 -4.3zM1110.6 1297.9l-1.8 7.2l-5.2 -4.7zM744.9 1331.3l6.5 -3.5l0 7zM811.7 1335.9l-7.3 -1.2l4.3 -5.5zM1216.8 1326.2l-2.2 7.1l-4.9 -5zM1235.1 1326.7l-3 6.8l-4.3 -5.5zM1274.2 1331.3l6.5 -3.5l0 7zM827.2 1379.3l-6.4 -3.7l5.9 -3.7zM1197.3 1367.2l0 7.4l-6.2 -3.3zM837.8 1463.7l0 -7.4l6.2 3.3zM1207.9 1451.5l6.4 3.7l-5.9 3.7zM760.9 1499.6l-6.5 3.5l0 -7zM800 1504.2l3 -6.8l4.3 5.5zM818.3 1504.7l2.2 -7.1l4.9 5zM1223.4 1495l7.3 1.2l-4.3 5.5zM1290.2 1499.6l-6.5 3.5l0 -7zM924.5 1533l1.8 -7.2l5.2 4.7zM854.3 1547.3l1.3 -7.3l5.5 4.3zM872.1 1547.3l1.1 -7.3l5.6 4.2zM1027.6 1539.5l7.2 -1.6l-1.9 6.7zM1171.9 1536l6.8 2.9l-5.5 4.3zM835.5 1588.5l2.7 -6.9l4.5 5.4z"/>
<path fill="none" stroke="#2bb2d7" stroke-width="1.8" d="M872.8 1255.2l4.2 7.2M1137 1281.1l4.8 -7M1240.4 1349.2l8.2 -4.9M1290.2 1345.3l-10.3 0M744.9 1485.6l10.3 0M794.7 1481.7l-8.2 4.9M898.1 1549.8l-4.8 7M1162.3 1575.7l-4.2 -7.2"/>
<path fill="#2bb2d7" d="M880 1267.2l-6.3 -3.8l6 -3.6zM1145.1 1269.4l-0.8 7.3l-5.8 -4zM1253.4 1341.4l-3.8 6.3l-3.6 -6zM1274.2 1345.3l6.5 -3.5l0 7zM760.9 1485.6l-6.5 3.5l0 -7zM781.6 1489.4l3.8 -6.3l3.6 6zM890 1561.5l0.8 -7.3l5.8 4zM1155.1 1563.7l6.3 3.8l-6 3.6z"/>
<path fill="none" stroke="#2ba9d7" stroke-width="1.8" d="M1155.1 1267.2l4.2 -7.2M890 1269.4l4.8 7M1119.3 1281l5 -6.9M1260.9 1348.4l3 -2.5M1224.1 1364.5l6.3 -6.3M802.5 1381.3l4 7.3M1232.6 1449.6l-4 -7.3M811 1466.4l-6.3 6.3M774.2 1482.5l-3 2.5M915.8 1549.9l-5 6.9M1145.1 1561.5l-4.8 -7M880 1563.7l-4.2 7.2"/>
<path fill="#2ba9d7" d="M1162.3 1255.2l-0.3 7.4l-6 -3.6zM898.1 1281.1l-6.6 -3.4l5.8 -4zM1127.6 1269.4l-1 7.3l-5.7 -4.1zM1268.2 1342.2l-2.7 6.9l-4.5 -5.4zM1234.4 1354.2l-2.1 7.1l-5 -4.9zM809.2 1393.5l-6.2 -4l6.1 -3.4zM1225.9 1437.4l6.2 4l-6.1 3.4zM800.7 1476.7l2.1 -7.1l5 4.9zM766.9 1488.7l2.7 -6.9l4.5 5.4zM907.5 1561.4l1 -7.3l5.7 4.1zM1137 1549.8l6.6 3.4l-5.8 4zM872.8 1575.7l0.3 -7.4l6 3.6z"/>
<path fill="none" stroke="#2bd77f" stroke-width="1.8" d="M1224.1 1266.4l6.3 -6.3M811 1564.5l-6.3 6.3"/>
<path fill="#2bd77f" d="M1234.4 1256l-2.1 7.1l-5 -4.9zM800.7 1574.9l2.1 -7.1l5 4.9z"/>
<path fill="none" stroke="#2bd7d3" stroke-width="1.8" d="M854.6 1269.4l5 6.9M1180.5 1561.4l-5 -6.9"/>
<path fill="#2bd7d3" d="M862.9 1281l-6.6 -3.2l5.7 -4.1zM1172.2 1549.9l6.6 3.2l-5.7 4.1z"/>
<path fill="none" stroke="#2bd798" stroke-width="1.8" d="M781.4 1299.7l8.6 4.4M1243.2 1306.4l3 -2.5M836.3 1311.9l5.9 6.5M838.7 1381l2.8 7.5M1196.4 1449.9l-2.8 -7.5M1198.8 1519l-5.9 -6.5M791.9 1524.5l-3 2.5M1253.7 1531.2l-8.6 -4.4"/>
<path fill="#2bd798" d="M795 1306.8l-7.4 0.1l3.2 -6.2zM1250.6 1300.2l-2.7 6.9l-4.5 -5.4zM846 1322.6l-7 -2.5l5.2 -4.7zM843.5 1393.8l-5.5 -4.9l6.6 -2.4zM1191.6 1437l5.5 4.9l-6.6 2.4zM1189.1 1508.2l7 2.5l-5.2 4.7zM784.5 1530.7l2.7 -6.9l4.5 5.4zM1240.1 1524.1l7.4 -0.1l-3.2 6.2z"/>
<path fill="none" stroke="#4dd72b" stroke-width="1.8" d="M942.1 1340l6 6.5M1093 1490.9l-6 -6.5"/>
<path fill="#4dd72b" d="M951.9 1350.7l-7 -2.4l5.1 -4.7zM1083.2 1480.2l7 2.4l-5.1 4.7z"/>
<path fill="none" stroke="#5ed72b" stroke-width="1.8" d="M959 1340.5l6.9 5.9M1027.7 1347.6l9.6 -2.9M925.4 1353.5l4.7 7M1065.3 1364.5l6.3 -6.3M908.6 1367.1l3.6 7.4M1084.4 1379.3l4.4 -7.1M1141 1422.2l0 -7.8M950.7 1451.5l-4.4 7.1M1126.5 1463.8l-3.6 -7.4M969.8 1466.4l-6.3 6.3M1109.7 1477.4l-4.7 -7M1007.4 1483.3l-9.6 2.9M1076.1 1490.4l-6.9 -5.9"/>
<path fill="#5ed72b" d="M970.2 1350.1l-7.2 -1.6l4.6 -5.3zM1042.7 1343l-5.2 5.2l-2 -6.7zM933.3 1365.2l-6.5 -3.4l5.8 -3.9zM1075.6 1354.2l-2.1 7.1l-5 -4.9zM914.7 1379.6l-6 -4.3l6.3 -3.1zM1091.8 1367.4l-0.5 7.4l-5.9 -3.7zM1141 1408.7l3.5 6.5l-7 0zM943.2 1463.5l0.5 -7.4l5.9 3.7zM1120.4 1451.3l6 4.3l-6.3 3.1zM959.5 1476.7l2.1 -7.1l5 4.9zM1101.8 1465.7l6.5 3.4l-5.8 3.9zM992.4 1487.8l5.2 -5.2l2 6.7zM1064.9 1480.7l7.2 1.6l-4.6 5.3z"/>
<path fill="none" stroke="#77d72b" stroke-width="1.8" d="M975.7 1341.4l8.2 4.9M1046.6 1363.6l7.7 -5.3M910.5 1394.7l1.3 7.7M1122.2 1408.1l1.3 -7.7M912.8 1422.8l-1.3 7.7M1124.6 1436.1l-1.3 -7.7M988.4 1467.3l-7.7 5.3M1059.4 1489.4l-8.2 -4.9"/>
<path fill="#77d72b" d="M988.8 1349.2l-7.4 -0.3l3.6 -6zM1059 1355.1l-3.4 6.6l-4 -5.8zM912.8 1408.1l-4.6 -5.8l6.9 -1.2zM1124.6 1394.7l2.3 7l-6.9 -1.2zM910.5 1436.1l-2.3 -7l6.9 1.2zM1122.2 1422.8l4.6 5.8l-6.9 1.2zM976.1 1475.8l3.4 -6.6l4 5.8zM1046.3 1481.7l7.4 0.3l-3.6 6z"/>
<path fill="none" stroke="#7fd72b" stroke-width="1.8" d="M992.4 1343l9.6 2.9M942.5 1353.7l5.3 6.8M1092.6 1477.2l-5.3 -6.8M1042.7 1487.8l-9.6 -2.9"/>
<path fill="#7fd72b" d="M1007.4 1347.6l-7.2 1.5l2 -6.7zM951.4 1365l-6.8 -2.9l5.5 -4.3zM1083.7 1465.9l6.8 2.9l-5.5 4.3zM1027.7 1483.3l7.2 -1.5l-2 6.7z"/>
<path fill="none" stroke="#6ed72b" stroke-width="1.8" d="M1009.5 1345.3l10.3 0M909.5 1380.9l2.6 7.6M1125.6 1450l-2.6 -7.6M1025.5 1485.6l-10.3 0"/>
<path fill="#6ed72b" d="M1025.5 1345.3l-6.5 3.5l0 -7zM913.9 1393.9l-5.4 -5l6.6 -2.2zM1121.2 1437l5.4 5l-6.6 2.2zM1009.5 1485.6l6.5 -3.5l0 7z"/>
<path fill="none" stroke="#44d72b" stroke-width="1.8" d="M1046.3 1349.2l8.2 -4.9M908 1353.4l4.4 7.1M891.1 1367.1l3.5 7.4M891.9 1380.9l2.5 7.6M1121.2 1393.9l2.6 -7.6M892.9 1394.7l1.3 7.7M1139.9 1408.1l1.3 -7.7M894 1408.7l0 7.8M895.1 1422.8l-1.3 7.7M1142.2 1436.2l-1.3 -7.7M913.9 1437l-2.6 7.6M1143.2 1450l-2.5 -7.6M1144 1463.8l-3.5 -7.4M1127.1 1477.5l-4.4 -7.1M988.8 1481.7l-8.2 4.9"/>
<path fill="#44d72b" d="M1059.4 1341.4l-3.8 6.3l-3.6 -6zM915.4 1365.3l-6.4 -3.7l6 -3.7zM897 1379.7l-5.9 -4.4l6.3 -3zM896.1 1393.9l-5.3 -5.1l6.7 -2.2zM1125.6 1380.9l1.2 7.3l-6.6 -2.2zM895.1 1408.1l-4.5 -5.8l6.9 -1.1zM1142.2 1394.7l2.4 7l-6.9 -1.1zM894 1422.2l-3.5 -6.5l7 0zM892.9 1436.2l-2.4 -7l6.9 1.1zM1139.9 1422.8l4.5 5.8l-6.9 1.1zM909.5 1450l-1.2 -7.3l6.6 2.2zM1138.9 1437l5.3 5.1l-6.7 2.2zM1138.1 1451.2l5.9 4.4l-6.3 3zM1119.7 1465.6l6.4 3.7l-6 3.7zM975.7 1489.4l3.8 -6.3l3.6 6z"/>
<path fill="none" stroke="#98d72b" stroke-width="1.8" d="M959.5 1354.2l6.3 6.3M1027.8 1362l9.4 -3.3M926.9 1381l2.8 7.5M1104.5 1408.1l1.5 -7.7M1123.4 1422.2l0 -7.8M930.6 1422.8l-1.5 7.7M1108.2 1449.9l-2.8 -7.5M1007.3 1468.9l-9.4 3.3M1075.6 1476.7l-6.3 -6.3"/>
<path fill="#98d72b" d="M969.8 1364.5l-7.1 -2.1l5 -4.9zM1042.6 1356.7l-5 5.5l-2.3 -6.6zM931.7 1393.8l-5.5 -4.9l6.6 -2.4zM1107 1394.8l2.2 7l-6.9 -1.3zM1123.4 1408.7l3.5 6.5l-7 0zM928.1 1436.1l-2.2 -7l6.9 1.3zM1103.4 1437l5.5 4.9l-6.6 2.4zM992.5 1474.1l5 -5.5l2.3 6.6zM1065.3 1466.4l7.1 2.1l-5 4.9z"/>
<path fill="none" stroke="#c2d72b" stroke-width="1.8" d="M976.1 1355.1l7.7 5.3M944.2 1381.1l3.2 7.5M1086.7 1408.1l1.7 -7.7M948.4 1422.8l-1.7 7.7M1090.9 1449.8l-3.2 -7.5M1059 1475.8l-7.7 -5.3"/>
<path fill="#c2d72b" d="M988.4 1363.6l-7.3 -0.8l4 -5.8zM949.7 1393.7l-5.8 -4.6l6.4 -2.8zM1089.6 1394.8l2 7.1l-6.8 -1.5zM945.5 1436.1l-2 -7.1l6.8 1.5zM1085.4 1437.1l5.8 4.6l-6.4 2.8zM1046.6 1467.3l7.3 0.8l-4 5.8z"/>
<path fill="none" stroke="#cbd72b" stroke-width="1.8" d="M992.5 1356.7l9.4 3.3M929.3 1408.7l0 7.8M1105.8 1422.2l0 -7.8M1042.6 1474.1l-9.4 -3.3"/>
<path fill="#cbd72b" d="M1007.3 1362l-7.3 1.1l2.3 -6.6zM929.3 1422.2l-3.5 -6.5l7 0zM1105.8 1408.7l3.5 6.5l-7 0zM1027.8 1468.9l7.3 -1.1l-2.3 6.6z"/>
<path fill="none" stroke="#bad72b" stroke-width="1.8" d="M1009.5 1359.4l10.3 0M1067.1 1393.5l4 -7.3M968 1437.4l-4 7.3M1025.5 1471.5l-10.3 0"/>
<path fill="#bad72b" d="M1025.5 1359.4l-6.5 3.5l0 -7zM1073.8 1381.3l0 7.4l-6.1 -3.4zM961.3 1449.6l0 -7.4l6.1 3.4zM1009.5 1471.5l6.5 -3.5l0 7z"/>
<path fill="none" stroke="#3cd72b" stroke-width="1.8" d="M1083.7 1365l5.3 -6.8M951.4 1465.9l-5.3 6.8"/>
<path fill="#3cd72b" d="M1092.6 1353.7l-1.3 7.3l-5.5 -4.3zM942.5 1477.2l1.3 -7.3l5.5 4.3z"/>
<path fill="none" stroke="#88d72b" stroke-width="1.8" d="M926 1367.2l3.9 7.3M1066 1379l5.3 -6.8M911.7 1408.7l0 7.8M969.1 1451.9l-5.3 6.8M1109.1 1463.7l-3.9 -7.3"/>
<path fill="#88d72b" d="M932.6 1379.5l-6.2 -4.1l6.2 -3.3zM1074.9 1367.8l-1.3 7.3l-5.5 -4.3zM911.7 1422.2l-3.5 -6.5l7 0zM960.2 1463.1l1.3 -7.3l5.5 4.3zM1102.5 1451.4l6.2 4.1l-6.2 3.3z"/>
<path fill="none" stroke="#b2d72b" stroke-width="1.8" d="M943.2 1367.4l4.4 7.1M1047.3 1378.2l6.8 -6M928.1 1394.8l1.5 7.7M1107 1436.1l-1.5 -7.7M987.8 1452.7l-6.8 6M1091.8 1463.5l-4.4 -7.1"/>
<path fill="#b2d72b" d="M950.7 1379.3l-6.4 -3.7l5.9 -3.7zM1058.4 1368.5l-2.6 6.9l-4.6 -5.3zM930.6 1408.1l-4.7 -5.7l6.9 -1.3zM1104.5 1422.8l4.7 5.7l-6.9 1.3zM976.7 1462.4l2.6 -6.9l4.6 5.3zM1084.4 1451.5l6.4 3.7l-5.9 3.7z"/>
<path fill="none" stroke="#d7d32b" stroke-width="1.8" d="M960.2 1367.8l5.3 6.8M1028.1 1376.5l8.9 -4M1048.4 1393l5.3 -6.8M945.5 1394.8l1.7 7.7M1089.6 1436.1l-1.7 -7.7M986.7 1437.9l-5.3 6.8M1007 1454.4l-8.9 4M1074.9 1463.1l-5.3 -6.8"/>
<path fill="#d7d32b" d="M969.1 1379l-6.8 -2.9l5.5 -4.3zM1042.3 1370.2l-4.5 5.9l-2.9 -6.4zM1057.3 1381.8l-1.3 7.3l-5.5 -4.3zM948.4 1408.1l-4.8 -5.6l6.8 -1.5zM1086.7 1422.8l4.8 5.6l-6.8 1.5zM977.8 1449.1l1.3 -7.3l5.5 4.3zM992.8 1460.7l4.5 -5.9l2.9 6.4zM1066 1451.9l6.8 2.9l-5.5 4.3z"/>
<path fill="none" stroke="#d7a92b" stroke-width="1.8" d="M976.7 1368.5l6.8 6M1009.5 1373.4l10.3 0M1028.8 1391.5l7.9 -5.1M962.8 1394.9l2.1 7.6M1050.3 1407.8l3 -7.5M984.8 1423.1l-3 7.5M1072.3 1436l-2.1 -7.6M1006.3 1439.4l-7.9 5.1M1025.5 1457.5l-10.3 0M1058.4 1462.4l-6.8 -6"/>
<path fill="#d7a92b" d="M987.8 1378.2l-7.2 -1.6l4.6 -5.3zM1025.5 1373.4l-6.5 3.5l0 -7zM1041.5 1383.3l-3.6 6.5l-3.8 -5.9zM966.5 1408l-5.1 -5.3l6.7 -1.9zM1055.4 1395l0.8 7.3l-6.5 -2.6zM979.7 1435.9l-0.8 -7.3l6.5 2.6zM1068.6 1422.9l5.1 5.3l-6.7 1.9zM993.6 1447.6l3.6 -6.5l3.8 5.9zM1009.5 1457.5l6.5 -3.5l0 7zM1047.3 1452.7l7.2 1.6l-4.6 5.3z"/>
<path fill="none" stroke="#d7902b" stroke-width="1.8" d="M992.8 1370.2l8.9 4M977.8 1381.8l5.3 6.8M964.6 1408.7l0 7.8M1070.5 1422.2l0 -7.8M1057.3 1449.1l-5.3 -6.8M1042.3 1460.7l-8.9 -4"/>
<path fill="#d7902b" d="M1007 1376.5l-7.4 0.5l2.9 -6.4zM986.7 1393l-6.8 -2.9l5.5 -4.3zM964.6 1422.2l-3.5 -6.5l7 0zM1070.5 1408.7l3.5 6.5l-7 0zM1048.4 1437.9l6.8 2.9l-5.5 4.3zM1028.1 1454.4l7.4 -0.5l-2.9 6.4z"/>
<path fill="none" stroke="#d7c22b" stroke-width="1.8" d="M961.3 1381.3l4 7.3M1068.6 1408l2.1 -7.6M947 1408.7l0 7.8M1088.1 1422.2l0 -7.8M966.5 1422.9l-2.1 7.6M1073.8 1449.6l-4 -7.3"/>
<path fill="#d7c22b" d="M968 1393.5l-6.2 -4l6.1 -3.4zM1072.3 1394.9l1.6 7.2l-6.7 -1.9zM947 1422.2l-3.5 -6.5l7 0zM1088.1 1408.7l3.5 6.5l-7 0zM962.8 1436l-1.6 -7.2l6.7 1.9zM1067.1 1437.4l6.2 4l-6.1 3.4z"/>
<path fill="none" stroke="#d77f2b" stroke-width="1.8" d="M993.6 1383.3l7.9 5.1M1009.5 1387.4l10.3 0M979.7 1395l3 7.5M1030.8 1407l5.3 -6.8M1052.8 1422.2l0 -7.8M1004.3 1423.9l-5.3 6.8M1055.4 1435.9l-3 -7.5M1025.5 1443.5l-10.3 0M1041.5 1447.6l-7.9 -5.1"/>
<path fill="#d77f2b" d="M1006.3 1391.5l-7.4 -0.6l3.8 -5.9zM1025.5 1387.4l-6.5 3.5l0 -7zM984.8 1407.8l-5.7 -4.7l6.5 -2.6zM1039.6 1395.8l-1.3 7.3l-5.5 -4.3zM1052.8 1408.7l3.5 6.5l-7 0zM995.5 1435.1l1.3 -7.3l5.5 4.3zM1050.3 1423.1l5.7 4.7l-6.5 2.6zM1009.5 1443.5l6.5 -3.5l0 7zM1028.8 1439.4l7.4 0.6l-3.8 5.9z"/>
<path fill="none" stroke="#90d72b" stroke-width="1.8" d="M1085.4 1393.7l3.2 -7.5M949.7 1437.1l-3.2 7.5"/>
<path fill="#90d72b" d="M1090.9 1381.1l0.6 7.4l-6.4 -2.8zM944.2 1449.8l-0.6 -7.4l6.4 2.8z"/>
<path fill="none" stroke="#66d72b" stroke-width="1.8" d="M1103.4 1393.8l2.8 -7.5M931.7 1437l-2.8 7.5"/>
<path fill="#66d72b" d="M1108.2 1381l1 7.3l-6.6 -2.4zM926.9 1449.9l-1 -7.3l6.6 2.4z"/>
<path fill="none" stroke="#d76e2b" stroke-width="1.8" d="M995.5 1395.8l5.3 6.8M982.3 1408.7l0 7.8M1039.6 1435.1l-5.3 -6.8"/>
<path fill="#d76e2b" d="M1004.3 1407l-6.8 -2.9l5.5 -4.3zM982.3 1422.2l-3.5 -6.5l7 0zM1030.8 1423.9l6.8 2.9l-5.5 4.3z"/>
<path fill="none" stroke="#d7552b" stroke-width="1.8" d="M1009.5 1401.4l10.3 0M999.9 1408.7l0 7.8M1035.2 1422.2l0 -7.8M1025.5 1429.5l-10.3 0"/>
<path fill="#d7552b" d="M1025.5 1401.4l-6.5 3.5l0 -7zM999.9 1422.2l-3.5 -6.5l7 0zM1035.2 1408.7l3.5 6.5l-7 0zM1009.5 1429.5l6.5 -3.5l0 7z"/>
<path fill="#d72b2b" d="M1015.4 1417.3l1.9 -5.6l3.9 4.6z"/>
<rect x="57.4" y="1191.2" width="564.7" height="448.5" fill="none" stroke="#000" stroke-width="1.9"/>
<line x1="75.2" y1="1191.2" x2="75.2" y2="1195.7" stroke="#000" stroke-width="1.9"/>
<line x1="75.2" y1="1639.7" x2="75.2" y2="1635.2" stroke="#000" stroke-width="1.9"/>
<line x1="57.4" y1="1205.1" x2="61.9" y2="1205.1" stroke="#000" stroke-width="1.9"/>
<line x1="622.1" y1="1205.1" x2="617.6" y2="1205.1" stroke="#000" stroke-width="1.9"/>
<line x1="163.4" y1="1191.2" x2="163.4" y2="1195.7" stroke="#000" stroke-width="1.9"/>
<line x1="163.4" y1="1639.7" x2="163.4" y2="1635.2" stroke="#000" stroke-width="1.9"/>
<line x1="57.4" y1="1275.2" x2="61.9" y2="1275.2" stroke="#000" stroke-width="1.9"/>
<line x1="622.1" y1="1275.2" x2="617.6" y2="1275.2" stroke="#000" stroke-width="1.9"/>
<line x1="251.7" y1="1191.2" x2="251.7" y2="1195.7" stroke="#000" stroke-width="1.9"/>
<line x1="251.7" y1="1639.7" x2="251.7" y2="1635.2" stroke="#000" stroke-width="1.9"/>
<line x1="57.4" y1="1345.3" x2="61.9" y2="1345.3" stroke="#000" stroke-width="1.9"/>
<line x1="622.1" y1="1345.3" x2="617.6" y2="1345.3" stroke="#000" stroke-width="1.9"/>
<line x1="339.9" y1="1191.2" x2="339.9" y2="1195.7" stroke="#000" stroke-width="1.9"/>
<line x1="339.9" y1="1639.7" x2="339.9" y2="1635.2" stroke="#000" stroke-width="1.9"/>
<line x1="57.4" y1="1415.4" x2="61.9" y2="1415.4" stroke="#000" stroke-width="1.9"/>
<line x1="622.1" y1="1415.4" x2="617.6" y2="1415.4" stroke="#000" stroke-width="1.9"/>
<line x1="428.1" y1="1191.2" x2="428.1" y2="1195.7" stroke="#000" stroke-width="1.9"/>
<line x1="428.1" y1="1639.7" x2="428.1" y2="1635.2" stroke="#000" stroke-width="1.9"/>
<line x1="57.4" y1="1485.6" x2="61.9" y2="1485.6" stroke="#000" stroke-width="1.9"/>
<line x1="622.1" y1="1485.6" x2="617.6" y2="1485.6" stroke="#000" stroke-width="1.9"/>
<line x1="516.4" y1="1191.2" x2="516.4" y2="1195.7" stroke="#000" stroke-width="1.9"/>
<line x1="516.4" y1="1639.7" x2="516.4" y2="1635.2" stroke="#000" stroke-width="1.9"/>
<line x1="57.4" y1="1555.7" x2="61.9" y2="1555.7" stroke="#000" stroke-width="1.9"/>
<line x1="622.1" y1="1555.7" x2="617.6" y2="1555.7" stroke="#000" stroke-width="1.9"/>
<line x1="604.6" y1="1191.2" x2="604.6" y2="1195.7" stroke="#000" stroke-width="1.9"/>
<line x1="604.6" y1="1639.7" x2="604.6" y2="1635.2" stroke="#000" stroke-width="1.9"/>
<line x1="57.4" y1="1625.8" x2="61.9" y2="1625.8" stroke="#000" stroke-width="1.9"/>
<line x1="622.1" y1="1625.8" x2="617.6" y2="1625.8" stroke="#000" stroke-width="1.9"/>
<text x="325.5" y="1676.1" font-family="'Liberation Sans',sans-serif" font-size="28.5" font-style="italic">k<tspan font-size="20" dy="8.5">x</tspan></text>
<text x="0" y="0" transform="translate(24.9,1422.5) rotate(-90)" font-family="'Liberation Sans',sans-serif" font-size="28.5" font-style="italic">k<tspan font-size="20" dy="8.5">y</tspan></text>
<rect x="735.3" y="1191.3" width="564.7" height="448.4" fill="none" stroke="#000" stroke-width="1.9"/>
<line x1="752.9" y1="1191.3" x2="752.9" y2="1195.8" stroke="#000" stroke-width="1.9"/>
<line x1="752.9" y1="1639.7" x2="752.9" y2="1635.2" stroke="#000" stroke-width="1.9"/>
<line x1="735.3" y1="1205.1" x2="739.8" y2="1205.1" stroke="#000" stroke-width="1.9"/>
<line x1="1300.0" y1="1205.1" x2="1295.5" y2="1205.1" stroke="#000" stroke-width="1.9"/>
<line x1="841.1" y1="1191.3" x2="841.1" y2="1195.8" stroke="#000" stroke-width="1.9"/>
<line x1="841.1" y1="1639.7" x2="841.1" y2="1635.2" stroke="#000" stroke-width="1.9"/>
<line x1="735.3" y1="1275.2" x2="739.8" y2="1275.2" stroke="#000" stroke-width="1.9"/>
<line x1="1300.0" y1="1275.2" x2="1295.5" y2="1275.2" stroke="#000" stroke-width="1.9"/>
<line x1="929.3" y1="1191.3" x2="929.3" y2="1195.8" stroke="#000" stroke-width="1.9"/>
<line x1="929.3" y1="1639.7" x2="929.3" y2="1635.2" stroke="#000" stroke-width="1.9"/>
<line x1="735.3" y1="1345.3" x2="739.8" y2="1345.3" stroke="#000" stroke-width="1.9"/>
<line x1="1300.0" y1="1345.3" x2="1295.5" y2="1345.3" stroke="#000" stroke-width="1.9"/>
<line x1="1017.5" y1="1191.3" x2="1017.5" y2="1195.8" stroke="#000" stroke-width="1.9"/>
<line x1="1017.5" y1="1639.7" x2="1017.5" y2="1635.2" stroke="#000" stroke-width="1.9"/>
<line x1="735.3" y1="1415.4" x2="739.8" y2="1415.4" stroke="#000" stroke-width="1.9"/>
<line x1="1300.0" y1="1415.4" x2="1295.5" y2="1415.4" stroke="#000" stroke-width="1.9"/>
<line x1="1105.8" y1="1191.3" x2="1105.8" y2="1195.8" stroke="#000" stroke-width="1.9"/>
<line x1="1105.8" y1="1639.7" x2="1105.8" y2="1635.2" stroke="#000" stroke-width="1.9"/>
<line x1="735.3" y1="1485.6" x2="739.8" y2="1485.6" stroke="#000" stroke-width="1.9"/>
<line x1="1300.0" y1="1485.6" x2="1295.5" y2="1485.6" stroke="#000" stroke-width="1.9"/>
<line x1="1194.0" y1="1191.3" x2="1194.0" y2="1195.8" stroke="#000" stroke-width="1.9"/>
<line x1="1194.0" y1="1639.7" x2="1194.0" y2="1635.2" stroke="#000" stroke-width="1.9"/>
<line x1="735.3" y1="1555.7" x2="739.8" y2="1555.7" stroke="#000" stroke-width="1.9"/>
<line x1="1300.0" y1="1555.7" x2="1295.5" y2="1555.7" stroke="#000" stroke-width="1.9"/>
<line x1="1282.2" y1="1191.3" x2="1282.2" y2="1195.8" stroke="#000" stroke-width="1.9"/>
<line x1="1282.2" y1="1639.7" x2="1282.2" y2="1635.2" stroke="#000" stroke-width="1.9"/>
<line x1="735.3" y1="1625.8" x2="739.8" y2="1625.8" stroke="#000" stroke-width="1.9"/>
<line x1="1300.0" y1="1625.8" x2="1295.5" y2="1625.8" stroke="#000" stroke-width="1.9"/>
<text x="1005.2" y="1676.1" font-family="'Liberation Sans',sans-serif" font-size="28.5" font-style="italic">k<tspan font-size="20" dy="8.5">x</tspan></text>
<text x="0" y="0" transform="translate(704.0,1422.5) rotate(-90)" font-family="'Liberation Sans',sans-serif" font-size="28.5" font-style="italic">k<tspan font-size="20" dy="8.5">y</tspan></text>
<defs><linearGradient id="cbg" x1="0" x2="1" y1="0" y2="0"><stop offset="0.0000" stop-color="#d72b2b"/><stop offset="0.0286" stop-color="#d7402b"/><stop offset="0.0571" stop-color="#d7552b"/><stop offset="0.0857" stop-color="#d76a2b"/><stop offset="0.1143" stop-color="#d77f2b"/><stop offset="0.1429" stop-color="#d7942b"/><stop offset="0.1714" stop-color="#d7a92b"/><stop offset="0.2000" stop-color="#d7be2b"/><stop offset="0.2286" stop-color="#d7d32b"/><stop offset="0.2571" stop-color="#c7d72b"/><stop offset="0.2857" stop-color="#b2d72b"/><stop offset="0.3143" stop-color="#9dd72b"/><stop offset="0.3429" stop-color="#88d72b"/><stop offset="0.3714" stop-color="#73d72b"/><stop offset="0.4000" stop-color="#5ed72b"/><stop offset="0.4286" stop-color="#49d72b"/><stop offset="0.4571" stop-color="#34d72b"/><stop offset="0.4857" stop-color="#2bd737"/><stop offset="0.5143" stop-color="#2bd74c"/><stop offset="0.5429" stop-color="#2bd761"/><stop offset="0.5714" stop-color="#2bd776"/><stop offset="0.6000" stop-color="#2bd78b"/><stop offset="0.6286" stop-color="#2bd79f"/><stop offset="0.6571" stop-color="#2bd7b4"/><stop offset="0.6857" stop-color="#2bd7c9"/><stop offset="0.7143" stop-color="#2bd1d7"/><stop offset="0.7429" stop-color="#2bbcd7"/><stop offset="0.7714" stop-color="#2ba7d7"/><stop offset="0.8000" stop-color="#2b92d7"/><stop offset="0.8286" stop-color="#2b7dd7"/><stop offset="0.8571" stop-color="#2b68d7"/><stop offset="0.8857" stop-color="#2b53d7"/><stop offset="0.9143" stop-color="#2b3ed7"/><stop offset="0.9429" stop-color="#2d2bd7"/><stop offset="0.9714" stop-color="#422bd7"/><stop offset="1.0000" stop-color="#572bd7"/></linearGradient></defs>
<rect x="439.6" y="1691.3" width="497.4" height="16.200000000000045" fill="url(#cbg)" stroke="#000" stroke-width="1.9"/>
<line x1="582.1" y1="1691.3" x2="582.1" y2="1695.8" stroke="#000" stroke-width="1.9"/>
<line x1="582.1" y1="1707.5" x2="582.1" y2="1703.0" stroke="#000" stroke-width="1.9"/>
<line x1="724.5" y1="1691.3" x2="724.5" y2="1695.8" stroke="#000" stroke-width="1.9"/>
<line x1="724.5" y1="1707.5" x2="724.5" y2="1703.0" stroke="#000" stroke-width="1.9"/>
<line x1="867.0" y1="1691.3" x2="867.0" y2="1695.8" stroke="#000" stroke-width="1.9"/>
<line x1="867.0" y1="1707.5" x2="867.0" y2="1703.0" stroke="#000" stroke-width="1.9"/>
<line x1="933.0" y1="1693.8" x2="937.0" y2="1693.8" stroke="#000" stroke-width="1"/>
<line x1="933.0" y1="1696.4" x2="937.0" y2="1696.4" stroke="#000" stroke-width="1"/>
<line x1="933.0" y1="1699.0" x2="937.0" y2="1699.0" stroke="#000" stroke-width="1"/>
<line x1="933.0" y1="1701.6" x2="937.0" y2="1701.6" stroke="#000" stroke-width="1"/>
<line x1="933.0" y1="1704.2" x2="937.0" y2="1704.2" stroke="#000" stroke-width="1"/>
<text x="443.3" y="1739.0" font-family="'Liberation Sans',sans-serif" font-size="29" text-anchor="middle" font-weight="normal" >0.0</text>

<text x="582.4" y="1739.0" font-family="'Liberation Sans',sans-serif" font-size="29" text-anchor="middle" font-weight="normal" >0.1</text>
<rect x="587.59" y="1736.10" width="6.06" height="3.33" fill="#fff"/><rect x="596.32" y="1736.10" width="6.35" height="3.33" fill="#fff"/>
<text x="723.5" y="1739.0" font-family="'Liberation Sans',sans-serif" font-size="29" text-anchor="middle" font-weight="normal" >0.2</text>

<text x="864.7" y="1739.0" font-family="'Liberation Sans',sans-serif" font-size="29" text-anchor="middle" font-weight="normal" >0.3</text>

<text x="688" y="1783" font-family="'Liberation Sans',sans-serif" font-size="29" text-anchor="middle">Δ<tspan font-style="italic">E</tspan> (eV)</text>
<text x="-1.0" y="31.0" font-family="'Liberation Sans',sans-serif" font-size="42" text-anchor="start" font-weight="bold" >a</text>
<text x="691.5" y="31.0" font-family="'Liberation Sans',sans-serif" font-size="42" text-anchor="start" font-weight="bold" >b</text>
<text x="-0.5" y="742.5" font-family="'Liberation Sans',sans-serif" font-size="42" text-anchor="start" font-weight="bold" >c</text>
<text x="680.0" y="742.5" font-family="'Liberation Sans',sans-serif" font-size="42" text-anchor="start" font-weight="bold" >d</text>
<text x="-0.8" y="1211.8" font-family="'Liberation Sans',sans-serif" font-size="42" text-anchor="start" font-weight="bold" >e</text>
<text x="680.0" y="1211.5" font-family="'Liberation Sans',sans-serif" font-size="42" text-anchor="start" font-weight="bold" >f</text>
</svg></body></html>
